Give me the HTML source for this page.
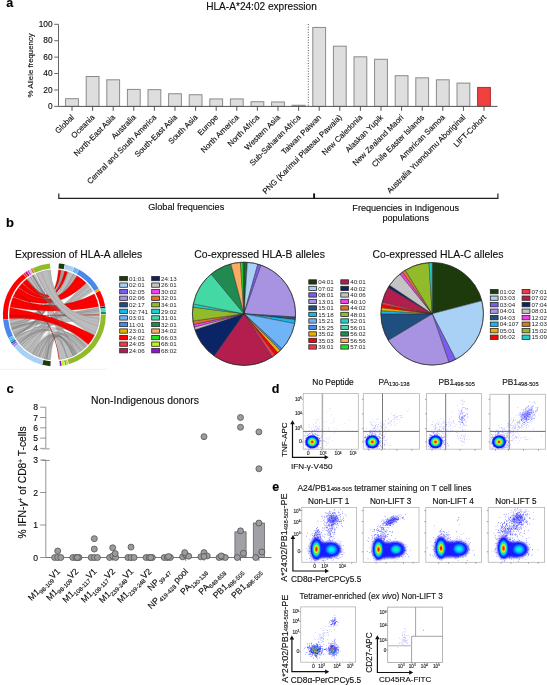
<!DOCTYPE html>
<html><head><meta charset="utf-8"><title>HLA-A*24:02 figure</title>
<style>
html,body{margin:0;padding:0;background:#fff;}
svg{display:block;opacity:0.999;font-family:"Liberation Sans", sans-serif;}
text{stroke:#0d0d0d;stroke-width:0.13px;}
.lg{stroke:none;}
</style></head><body>
<svg width="547" height="685" viewBox="0 0 547 685">
<defs><radialGradient id="jet"><stop offset="0.0" stop-color="#ff1000"/><stop offset="0.12" stop-color="#ff3000"/><stop offset="0.23" stop-color="#ffc000"/><stop offset="0.33" stop-color="#c0ff20"/><stop offset="0.45" stop-color="#30f060"/><stop offset="0.56" stop-color="#00e0d0"/><stop offset="0.64" stop-color="#0080ff"/><stop offset="0.72" stop-color="#1020ff"/><stop offset="0.88" stop-color="#1515ff"/><stop offset="1" stop-color="#1818ff" stop-opacity="0.0"/></radialGradient><radialGradient id="jete"><stop offset="0.0" stop-color="#ff1000"/><stop offset="0.12" stop-color="#ff2000"/><stop offset="0.22" stop-color="#ff9000"/><stop offset="0.33" stop-color="#f0f000"/><stop offset="0.46" stop-color="#40f060"/><stop offset="0.6" stop-color="#00d0f0"/><stop offset="0.74" stop-color="#0060ff"/><stop offset="0.88" stop-color="#1515ff"/><stop offset="1" stop-color="#1818ff" stop-opacity="0.0"/></radialGradient><radialGradient id="cyn"><stop offset="0.0" stop-color="#00ffd0"/><stop offset="0.25" stop-color="#00e8f0"/><stop offset="0.5" stop-color="#00a8ff"/><stop offset="0.75" stop-color="#1040ff"/><stop offset="0.9" stop-color="#1515ff"/><stop offset="1" stop-color="#1818ff" stop-opacity="0.0"/></radialGradient><radialGradient id="grn"><stop offset="0.0" stop-color="#20ff60"/><stop offset="0.22" stop-color="#00f0b0"/><stop offset="0.45" stop-color="#00c0ff"/><stop offset="0.7" stop-color="#1040ff"/><stop offset="0.9" stop-color="#1515ff"/><stop offset="1" stop-color="#1818ff" stop-opacity="0.0"/></radialGradient><radialGradient id="ylw"><stop offset="0.0" stop-color="#f08000"/><stop offset="0.2" stop-color="#e0b000"/><stop offset="0.42" stop-color="#a0c040"/><stop offset="0.62" stop-color="#3060d0"/><stop offset="0.85" stop-color="#1515ff"/><stop offset="1" stop-color="#1818ff" stop-opacity="0.0"/></radialGradient><filter id="sb" x="-30%" y="-30%" width="160%" height="160%"><feGaussianBlur stdDeviation="0.9"/></filter><filter id="sb2" x="-30%" y="-30%" width="160%" height="160%"><feGaussianBlur stdDeviation="1.6"/></filter></defs>
<rect width="547" height="685" fill="#fff"/>
<text x="6.20" y="7.20" font-size="12.5" text-anchor="start" font-weight="bold" fill="#000">a</text>
<text x="261.50" y="9.60" font-size="10.1" text-anchor="middle" fill="#0d0d0d">HLA-A*24:02 expression</text>
<line x1="58.50" y1="24.30" x2="58.50" y2="106.40" stroke="#666" stroke-width="1"/>
<line x1="54.20" y1="106.40" x2="58.50" y2="106.40" stroke="#666" stroke-width="1"/>
<text x="52.60" y="109.00" font-size="8.3" text-anchor="end" fill="#0d0d0d">0</text>
<line x1="54.20" y1="89.98" x2="58.50" y2="89.98" stroke="#666" stroke-width="1"/>
<text x="52.60" y="92.58" font-size="8.3" text-anchor="end" fill="#0d0d0d">20</text>
<line x1="54.20" y1="73.56" x2="58.50" y2="73.56" stroke="#666" stroke-width="1"/>
<text x="52.60" y="76.16" font-size="8.3" text-anchor="end" fill="#0d0d0d">40</text>
<line x1="54.20" y1="57.14" x2="58.50" y2="57.14" stroke="#666" stroke-width="1"/>
<text x="52.60" y="59.74" font-size="8.3" text-anchor="end" fill="#0d0d0d">60</text>
<line x1="54.20" y1="40.72" x2="58.50" y2="40.72" stroke="#666" stroke-width="1"/>
<text x="52.60" y="43.32" font-size="8.3" text-anchor="end" fill="#0d0d0d">80</text>
<line x1="54.20" y1="24.30" x2="58.50" y2="24.30" stroke="#666" stroke-width="1"/>
<text x="52.60" y="26.90" font-size="8.3" text-anchor="end" fill="#0d0d0d">100</text>
<text x="32.80" y="65.40" font-size="7.8" text-anchor="middle" fill="#0d0d0d" transform="rotate(-90 32.80 65.40)">% Allele frequency</text>
<rect x="65.60" y="98.69" width="12.80" height="7.71" fill="#dedede" stroke="#8a8a8a" stroke-width="1"/>
<line x1="72.00" y1="106.40" x2="72.00" y2="110.80" stroke="#555" stroke-width="1"/>
<text x="74.50" y="117.90" font-size="7.9" text-anchor="end" fill="#0d0d0d" transform="rotate(-45 74.50 117.90)">Global</text>
<rect x="86.20" y="76.52" width="12.80" height="29.88" fill="#dedede" stroke="#8a8a8a" stroke-width="1"/>
<line x1="92.60" y1="106.40" x2="92.60" y2="110.80" stroke="#555" stroke-width="1"/>
<text x="95.10" y="117.90" font-size="7.9" text-anchor="end" fill="#0d0d0d" transform="rotate(-45 95.10 117.90)">Oceania</text>
<rect x="106.80" y="79.81" width="12.80" height="26.59" fill="#dedede" stroke="#8a8a8a" stroke-width="1"/>
<line x1="113.20" y1="106.40" x2="113.20" y2="110.80" stroke="#555" stroke-width="1"/>
<text x="115.70" y="117.90" font-size="7.9" text-anchor="end" fill="#0d0d0d" transform="rotate(-45 115.70 117.90)">North-East Asia</text>
<rect x="127.40" y="89.41" width="12.80" height="16.99" fill="#dedede" stroke="#8a8a8a" stroke-width="1"/>
<line x1="133.80" y1="106.40" x2="133.80" y2="110.80" stroke="#555" stroke-width="1"/>
<text x="136.30" y="117.90" font-size="7.9" text-anchor="end" fill="#0d0d0d" transform="rotate(-45 136.30 117.90)">Australia</text>
<rect x="148.00" y="89.66" width="12.80" height="16.74" fill="#dedede" stroke="#8a8a8a" stroke-width="1"/>
<line x1="154.40" y1="106.40" x2="154.40" y2="110.80" stroke="#555" stroke-width="1"/>
<text x="156.90" y="117.90" font-size="7.9" text-anchor="end" fill="#0d0d0d" transform="rotate(-45 156.90 117.90)">Central and South America</text>
<rect x="168.60" y="93.76" width="12.80" height="12.64" fill="#dedede" stroke="#8a8a8a" stroke-width="1"/>
<line x1="175.00" y1="106.40" x2="175.00" y2="110.80" stroke="#555" stroke-width="1"/>
<text x="177.50" y="117.90" font-size="7.9" text-anchor="end" fill="#0d0d0d" transform="rotate(-45 177.50 117.90)">South-East Asia</text>
<rect x="189.20" y="94.75" width="12.80" height="11.65" fill="#dedede" stroke="#8a8a8a" stroke-width="1"/>
<line x1="195.60" y1="106.40" x2="195.60" y2="110.80" stroke="#555" stroke-width="1"/>
<text x="198.10" y="117.90" font-size="7.9" text-anchor="end" fill="#0d0d0d" transform="rotate(-45 198.10 117.90)">South Asia</text>
<rect x="209.80" y="98.94" width="12.80" height="7.46" fill="#dedede" stroke="#8a8a8a" stroke-width="1"/>
<line x1="216.20" y1="106.40" x2="216.20" y2="110.80" stroke="#555" stroke-width="1"/>
<text x="218.70" y="117.90" font-size="7.9" text-anchor="end" fill="#0d0d0d" transform="rotate(-45 218.70 117.90)">Europe</text>
<rect x="230.40" y="98.94" width="12.80" height="7.46" fill="#dedede" stroke="#8a8a8a" stroke-width="1"/>
<line x1="236.80" y1="106.40" x2="236.80" y2="110.80" stroke="#555" stroke-width="1"/>
<text x="239.30" y="117.90" font-size="7.9" text-anchor="end" fill="#0d0d0d" transform="rotate(-45 239.30 117.90)">North America</text>
<rect x="251.00" y="101.73" width="12.80" height="4.67" fill="#dedede" stroke="#8a8a8a" stroke-width="1"/>
<line x1="257.40" y1="106.40" x2="257.40" y2="110.80" stroke="#555" stroke-width="1"/>
<text x="259.90" y="117.90" font-size="7.9" text-anchor="end" fill="#0d0d0d" transform="rotate(-45 259.90 117.90)">North Africa</text>
<rect x="271.60" y="101.97" width="12.80" height="4.43" fill="#dedede" stroke="#8a8a8a" stroke-width="1"/>
<line x1="278.00" y1="106.40" x2="278.00" y2="110.80" stroke="#555" stroke-width="1"/>
<text x="280.50" y="117.90" font-size="7.9" text-anchor="end" fill="#0d0d0d" transform="rotate(-45 280.50 117.90)">Western Asia</text>
<rect x="292.20" y="105.26" width="12.80" height="1.14" fill="#dedede" stroke="#8a8a8a" stroke-width="1"/>
<line x1="298.60" y1="106.40" x2="298.60" y2="110.80" stroke="#555" stroke-width="1"/>
<text x="301.10" y="117.90" font-size="7.9" text-anchor="end" fill="#0d0d0d" transform="rotate(-45 301.10 117.90)">Sub-Saharan Africa</text>
<rect x="312.80" y="27.43" width="12.80" height="78.97" fill="#dedede" stroke="#8a8a8a" stroke-width="1"/>
<line x1="319.20" y1="106.40" x2="319.20" y2="110.80" stroke="#555" stroke-width="1"/>
<text x="321.70" y="117.90" font-size="7.9" text-anchor="end" fill="#0d0d0d" transform="rotate(-45 321.70 117.90)">Taiwan Paiwan</text>
<rect x="333.40" y="46.15" width="12.80" height="60.25" fill="#dedede" stroke="#8a8a8a" stroke-width="1"/>
<line x1="339.80" y1="106.40" x2="339.80" y2="110.80" stroke="#555" stroke-width="1"/>
<text x="342.30" y="117.90" font-size="7.9" text-anchor="end" fill="#0d0d0d" transform="rotate(-45 342.30 117.90)">PNG (Karimui Plateau Pawaia)</text>
<rect x="354.00" y="56.82" width="12.80" height="49.58" fill="#dedede" stroke="#8a8a8a" stroke-width="1"/>
<line x1="360.40" y1="106.40" x2="360.40" y2="110.80" stroke="#555" stroke-width="1"/>
<text x="362.90" y="117.90" font-size="7.9" text-anchor="end" fill="#0d0d0d" transform="rotate(-45 362.90 117.90)">New Caledonia</text>
<rect x="374.60" y="59.28" width="12.80" height="47.12" fill="#dedede" stroke="#8a8a8a" stroke-width="1"/>
<line x1="381.00" y1="106.40" x2="381.00" y2="110.80" stroke="#555" stroke-width="1"/>
<text x="383.50" y="117.90" font-size="7.9" text-anchor="end" fill="#0d0d0d" transform="rotate(-45 383.50 117.90)">Alaskan Yupik</text>
<rect x="395.20" y="75.70" width="12.80" height="30.70" fill="#dedede" stroke="#8a8a8a" stroke-width="1"/>
<line x1="401.60" y1="106.40" x2="401.60" y2="110.80" stroke="#555" stroke-width="1"/>
<text x="404.10" y="117.90" font-size="7.9" text-anchor="end" fill="#0d0d0d" transform="rotate(-45 404.10 117.90)">New Zealand Maori</text>
<rect x="415.80" y="77.84" width="12.80" height="28.56" fill="#dedede" stroke="#8a8a8a" stroke-width="1"/>
<line x1="422.20" y1="106.40" x2="422.20" y2="110.80" stroke="#555" stroke-width="1"/>
<text x="424.70" y="117.90" font-size="7.9" text-anchor="end" fill="#0d0d0d" transform="rotate(-45 424.70 117.90)">Chile Easter Islands</text>
<rect x="436.40" y="79.81" width="12.80" height="26.59" fill="#dedede" stroke="#8a8a8a" stroke-width="1"/>
<line x1="442.80" y1="106.40" x2="442.80" y2="110.80" stroke="#555" stroke-width="1"/>
<text x="445.30" y="117.90" font-size="7.9" text-anchor="end" fill="#0d0d0d" transform="rotate(-45 445.30 117.90)">American Samoa</text>
<rect x="457.00" y="83.09" width="12.80" height="23.31" fill="#dedede" stroke="#8a8a8a" stroke-width="1"/>
<line x1="463.40" y1="106.40" x2="463.40" y2="110.80" stroke="#555" stroke-width="1"/>
<text x="465.90" y="117.90" font-size="7.9" text-anchor="end" fill="#0d0d0d" transform="rotate(-45 465.90 117.90)">Australia Yuendumu Aboriginal</text>
<rect x="477.60" y="87.44" width="12.80" height="18.96" fill="#f04040" stroke="#b03030" stroke-width="1"/>
<line x1="484.00" y1="106.40" x2="484.00" y2="110.80" stroke="#555" stroke-width="1"/>
<text x="486.50" y="117.90" font-size="7.9" text-anchor="end" fill="#0d0d0d" transform="rotate(-45 486.50 117.90)">LIFT-Cohort</text>
<line x1="58.50" y1="106.40" x2="497.50" y2="106.40" stroke="#555" stroke-width="1"/>
<line x1="308.3" y1="24" x2="308.3" y2="106" stroke="#444" stroke-width="0.9" stroke-dasharray="1 1.6"/>
<path d="M58.8 193.6 V198.3 H497.9 V193.6" fill="none" stroke="#222" stroke-width="1.2"/>
<path d="M314.1 193.4 V198.3" fill="none" stroke="#111" stroke-width="1.9"/>
<text x="186.20" y="210.20" font-size="9.15" text-anchor="middle" fill="#0d0d0d">Global frequencies</text>
<text x="405.70" y="210.50" font-size="9.1" text-anchor="middle" fill="#0d0d0d">Frequencies in Indigenous</text>
<text x="405.70" y="220.60" font-size="9.1" text-anchor="middle" fill="#0d0d0d">populations</text>
<text x="6.10" y="227.30" font-size="13" text-anchor="start" font-weight="bold" fill="#000">b</text>
<text x="78.60" y="258.30" font-size="10.3" text-anchor="middle" fill="#0d0d0d">Expression of HLA-A alleles</text>
<text x="259.60" y="257.60" font-size="10.4" text-anchor="middle" fill="#0d0d0d">Co-expressed HLA-B alleles</text>
<text x="438.00" y="257.60" font-size="10.4" text-anchor="middle" fill="#0d0d0d">Co-expressed HLA-C alleles</text>
<line x1="0.00" y1="369.30" x2="107.00" y2="369.30" stroke="#ececec" stroke-width="0.8"/>
<path d="M58.89 263.50 A51.5 51.5 0 0 1 64.67 264.33 L63.67 269.23 A46.5 46.5 0 0 0 58.45 268.48 Z" fill="#1d3a0c"/>
<path d="M65.11 264.43 A51.5 51.5 0 0 1 73.86 267.12 L71.97 271.75 A46.5 46.5 0 0 0 64.07 269.32 Z" fill="#a9d1f5"/>
<path d="M74.19 267.25 A51.5 51.5 0 0 1 78.74 269.41 L76.37 273.82 A46.5 46.5 0 0 0 72.27 271.87 Z" fill="#70b4f8"/>
<path d="M79.05 269.58 A51.5 51.5 0 0 1 98.64 288.43 L94.34 290.99 A46.5 46.5 0 0 0 76.66 273.97 Z" fill="#4a88ea"/>
<path d="M98.82 288.74 A51.5 51.5 0 0 1 99.79 290.46 L95.38 292.83 A46.5 46.5 0 0 0 94.51 291.27 Z" fill="#e8b000"/>
<path d="M99.96 290.78 A51.5 51.5 0 0 1 105.12 305.86 L100.19 306.73 A46.5 46.5 0 0 0 95.53 293.11 Z" fill="#ff0000"/>
<path d="M105.18 306.21 A51.5 51.5 0 0 1 105.42 307.81 L100.47 308.49 A46.5 46.5 0 0 0 100.25 307.05 Z" fill="#0a2466"/>
<path d="M105.45 307.99 A51.5 51.5 0 0 1 105.64 309.60 L100.66 310.10 A46.5 46.5 0 0 0 100.49 308.65 Z" fill="#1fd0d0"/>
<path d="M105.65 309.77 A51.5 51.5 0 0 1 105.80 311.57 L100.81 311.88 A46.5 46.5 0 0 0 100.68 310.26 Z" fill="#44d8a4"/>
<path d="M105.81 311.75 A51.5 51.5 0 0 1 105.89 313.90 L100.89 313.99 A46.5 46.5 0 0 0 100.82 312.04 Z" fill="#208a50"/>
<path d="M105.90 314.44 A51.5 51.5 0 0 1 68.94 364.20 L67.53 359.41 A46.5 46.5 0 0 0 100.90 314.48 Z" fill="#92bb2c"/>
<path d="M68.42 364.35 A51.5 51.5 0 0 1 66.86 364.77 L65.65 359.92 A46.5 46.5 0 0 0 67.06 359.54 Z" fill="#f9ac62"/>
<path d="M66.60 364.83 A51.5 51.5 0 0 1 65.11 365.17 L64.07 360.28 A46.5 46.5 0 0 0 65.41 359.98 Z" fill="#22e022"/>
<path d="M64.84 365.23 A51.5 51.5 0 0 1 62.01 365.73 L61.27 360.79 A46.5 46.5 0 0 0 63.83 360.33 Z" fill="#c4f020"/>
<path d="M61.66 365.79 A51.5 51.5 0 0 1 59.96 366.00 L59.42 361.03 A46.5 46.5 0 0 0 60.95 360.84 Z" fill="#9612d0"/>
<path d="M50.36 366.14 A51.5 51.5 0 0 1 42.29 364.86 L43.47 360.00 A46.5 46.5 0 0 0 50.75 361.16 Z" fill="#1d3a0c"/>
<path d="M41.94 364.77 A51.5 51.5 0 0 1 14.60 347.49 L18.47 344.31 A46.5 46.5 0 0 0 43.15 359.92 Z" fill="#a9d1f5"/>
<path d="M14.38 347.21 A51.5 51.5 0 0 1 13.05 345.51 L17.07 342.52 A46.5 46.5 0 0 0 18.26 344.06 Z" fill="#a793e2"/>
<path d="M12.89 345.29 A51.5 51.5 0 0 1 11.91 343.90 L16.03 341.07 A46.5 46.5 0 0 0 16.92 342.33 Z" fill="#7b5cf0"/>
<path d="M11.75 343.67 A51.5 51.5 0 0 1 10.92 342.40 L15.14 339.72 A46.5 46.5 0 0 0 15.90 340.87 Z" fill="#1f4f7e"/>
<path d="M10.77 342.17 A51.5 51.5 0 0 1 9.80 340.55 L14.13 338.05 A46.5 46.5 0 0 0 15.01 339.51 Z" fill="#12b8ee"/>
<path d="M9.67 340.32 A51.5 51.5 0 0 1 8.51 338.18 L12.97 335.91 A46.5 46.5 0 0 0 14.01 337.84 Z" fill="#70b4f8"/>
<path d="M8.39 337.94 A51.5 51.5 0 0 1 3.15 319.83 L8.12 319.34 A46.5 46.5 0 0 0 12.86 335.69 Z" fill="#4a88ea"/>
<path d="M3.11 319.47 A51.5 51.5 0 0 1 23.12 273.89 L26.16 277.86 A46.5 46.5 0 0 0 8.09 319.01 Z" fill="#ff0000"/>
<path d="M23.41 273.67 A51.5 51.5 0 0 1 25.01 272.51 L27.86 276.62 A46.5 46.5 0 0 0 26.42 277.66 Z" fill="#f0384c"/>
<path d="M25.23 272.36 A51.5 51.5 0 0 1 26.80 271.32 L29.48 275.54 A46.5 46.5 0 0 0 28.06 276.48 Z" fill="#b31e4e"/>
<path d="M27.11 271.13 A51.5 51.5 0 0 1 28.81 270.11 L31.29 274.45 A46.5 46.5 0 0 0 29.76 275.37 Z" fill="#f040f0"/>
<path d="M29.04 269.98 A51.5 51.5 0 0 1 30.54 269.16 L32.86 273.59 A46.5 46.5 0 0 0 31.50 274.33 Z" fill="#c4c4c4"/>
<path d="M30.78 269.04 A51.5 51.5 0 0 1 32.23 268.32 L34.38 272.83 A46.5 46.5 0 0 0 33.07 273.48 Z" fill="#dc7620"/>
<path d="M32.64 268.13 A51.5 51.5 0 0 1 49.91 263.50 L50.35 268.48 A46.5 46.5 0 0 0 34.75 272.66 Z" fill="#92bb2c"/>
<path d="M43.13 358.37 A45.0 45.0 0 0 1 30.55 352.96 Q54.40 314.80 88.36 344.32 A45.0 45.0 0 0 1 67.56 357.83 Q54.40 314.80 43.13 358.37 Z" fill="#bdbdbd" stroke="#8e8e8e" stroke-width="0.35" opacity="1"/>
<path d="M30.22 352.75 A45.0 45.0 0 0 1 19.68 343.42 Q54.40 314.80 86.50 283.26 A45.0 45.0 0 0 1 92.77 291.29 Q54.40 314.80 30.22 352.75 Z" fill="#bdbdbd" stroke="#8e8e8e" stroke-width="0.35" opacity="1"/>
<path d="M50.48 359.63 A45.0 45.0 0 0 1 43.89 358.56 Q54.40 314.80 76.90 353.77 A45.0 45.0 0 0 1 69.79 357.09 Q54.40 314.80 50.48 359.63 Z" fill="#bdbdbd" stroke="#8e8e8e" stroke-width="0.35" opacity="1"/>
<path d="M14.13 334.88 A45.0 45.0 0 0 1 11.14 327.20 Q54.40 314.80 98.78 307.37 A45.0 45.0 0 0 1 99.40 314.41 Q54.40 314.80 14.13 334.88 Z" fill="#bdbdbd" stroke="#8e8e8e" stroke-width="0.35" opacity="1"/>
<path d="M11.04 326.83 A45.0 45.0 0 0 1 9.65 319.50 Q54.40 314.80 67.93 271.88 A45.0 45.0 0 0 1 76.56 275.63 Q54.40 314.80 11.04 326.83 Z" fill="#bdbdbd" stroke="#8e8e8e" stroke-width="0.35" opacity="1"/>
<path d="M15.31 337.10 A45.0 45.0 0 0 1 14.23 335.09 Q54.40 314.80 61.28 270.33 A45.0 45.0 0 0 1 64.37 270.92 Q54.40 314.80 15.31 337.10 Z" fill="#bdbdbd" stroke="#8e8e8e" stroke-width="0.35" opacity="1"/>
<path d="M27.32 278.86 A45.0 45.0 0 0 1 34.89 274.25 Q54.40 314.80 75.53 354.53 A45.0 45.0 0 0 1 67.56 357.83 Q54.40 314.80 27.32 278.86 Z" fill="#bdbdbd" stroke="#8e8e8e" stroke-width="0.35" opacity="1"/>
<path d="M19.43 343.12 A45.0 45.0 0 0 1 15.43 337.30 Q54.40 314.80 99.40 314.80 A45.0 45.0 0 0 1 98.72 322.61 Q54.40 314.80 19.43 343.12 Z" fill="#bdbdbd" stroke="#8e8e8e" stroke-width="0.35" opacity="1"/>
<path d="M66.80 358.06 A45.0 45.0 0 0 1 59.49 359.51 Q54.40 314.80 49.70 359.55 A45.0 45.0 0 0 1 44.28 358.65 Q54.40 314.80 66.80 358.06 Z" fill="#bdbdbd" stroke="#8e8e8e" stroke-width="0.35" opacity="1"/>
<path d="M40.00 357.43 Q54.40 314.80 73.08 355.74" fill="none" stroke="#7a7a7a" stroke-width="0.45" opacity="0.8"/>
<path d="M38.29 356.82 Q54.40 314.80 75.96 354.30" fill="none" stroke="#7a7a7a" stroke-width="0.45" opacity="0.8"/>
<path d="M35.06 355.43 Q54.40 314.80 82.04 350.31" fill="none" stroke="#7a7a7a" stroke-width="0.45" opacity="0.8"/>
<path d="M42.96 358.32 Q54.40 314.80 67.37 357.89" fill="none" stroke="#7a7a7a" stroke-width="0.45" opacity="0.8"/>
<path d="M27.21 350.66 Q54.40 314.80 91.08 288.73" fill="none" stroke="#7a7a7a" stroke-width="0.45" opacity="0.8"/>
<path d="M19.72 343.47 Q54.40 314.80 86.49 283.26" fill="none" stroke="#7a7a7a" stroke-width="0.45" opacity="0.8"/>
<path d="M21.19 345.17 Q54.40 314.80 87.62 284.44" fill="none" stroke="#7a7a7a" stroke-width="0.45" opacity="0.8"/>
<path d="M23.14 347.17 Q54.40 314.80 88.61 285.57" fill="none" stroke="#7a7a7a" stroke-width="0.45" opacity="0.8"/>
<path d="M46.28 359.06 Q54.40 314.80 73.85 355.38" fill="none" stroke="#7a7a7a" stroke-width="0.45" opacity="0.8"/>
<path d="M47.01 359.19 Q54.40 314.80 73.24 355.67" fill="none" stroke="#7a7a7a" stroke-width="0.45" opacity="0.8"/>
<path d="M46.04 359.02 Q54.40 314.80 75.24 354.68" fill="none" stroke="#7a7a7a" stroke-width="0.45" opacity="0.8"/>
<path d="M45.47 358.91 Q54.40 314.80 75.11 354.75" fill="none" stroke="#7a7a7a" stroke-width="0.45" opacity="0.8"/>
<path d="M13.08 332.63 Q54.40 314.80 99.28 311.54" fill="none" stroke="#7a7a7a" stroke-width="0.45" opacity="0.8"/>
<path d="M11.46 328.27 Q54.40 314.80 98.92 308.27" fill="none" stroke="#7a7a7a" stroke-width="0.45" opacity="0.8"/>
<path d="M11.84 329.42 Q54.40 314.80 99.14 309.93" fill="none" stroke="#7a7a7a" stroke-width="0.45" opacity="0.8"/>
<path d="M11.85 329.45 Q54.40 314.80 99.15 310.03" fill="none" stroke="#7a7a7a" stroke-width="0.45" opacity="0.8"/>
<path d="M10.34 323.96 Q54.40 314.80 73.68 274.14" fill="none" stroke="#7a7a7a" stroke-width="0.45" opacity="0.8"/>
<path d="M10.27 323.60 Q54.40 314.80 73.44 274.03" fill="none" stroke="#7a7a7a" stroke-width="0.45" opacity="0.8"/>
<path d="M9.75 320.40 Q54.40 314.80 68.42 272.04" fill="none" stroke="#7a7a7a" stroke-width="0.45" opacity="0.8"/>
<path d="M10.78 325.85 Q54.40 314.80 75.04 274.81" fill="none" stroke="#7a7a7a" stroke-width="0.45" opacity="0.8"/>
<path d="M14.27 335.16 Q54.40 314.80 61.29 270.33" fill="none" stroke="#7a7a7a" stroke-width="0.45" opacity="0.8"/>
<path d="M14.62 335.84 Q54.40 314.80 62.13 270.47" fill="none" stroke="#7a7a7a" stroke-width="0.45" opacity="0.8"/>
<path d="M14.75 336.08 Q54.40 314.80 62.63 270.56" fill="none" stroke="#7a7a7a" stroke-width="0.45" opacity="0.8"/>
<path d="M14.92 336.40 Q54.40 314.80 63.42 270.71" fill="none" stroke="#7a7a7a" stroke-width="0.45" opacity="0.8"/>
<path d="M19.73 343.48 Q54.40 314.80 45.89 270.61" fill="none" stroke="#787878" stroke-width="0.5786836803600051" opacity="0.7"/>
<path d="M11.83 329.39 Q54.40 314.80 45.66 270.66" fill="none" stroke="#787878" stroke-width="0.3489298865913209" opacity="0.7"/>
<path d="M11.75 329.15 Q54.40 314.80 50.74 269.95" fill="none" stroke="#787878" stroke-width="0.470732251042297" opacity="0.7"/>
<path d="M15.33 337.13 Q54.40 314.80 74.68 354.97" fill="none" stroke="#787878" stroke-width="0.4720597057053854" opacity="0.7"/>
<path d="M33.51 354.66 Q54.40 314.80 73.58 355.51" fill="none" stroke="#787878" stroke-width="0.5969418044764744" opacity="0.7"/>
<path d="M44.49 358.69 Q54.40 314.80 40.12 272.13" fill="none" stroke="#787878" stroke-width="0.3452296123358429" opacity="0.7"/>
<path d="M33.04 354.41 Q54.40 314.80 50.04 270.01" fill="none" stroke="#787878" stroke-width="0.313257018338863" opacity="0.7"/>
<path d="M18.60 342.07 Q54.40 314.80 80.02 351.79" fill="none" stroke="#787878" stroke-width="0.3992862438057022" opacity="0.7"/>
<path d="M11.38 328.00 Q54.40 314.80 42.11 271.51" fill="none" stroke="#787878" stroke-width="0.599552683612733" opacity="0.7"/>
<path d="M32.22 353.95 Q54.40 314.80 85.10 347.70" fill="none" stroke="#787878" stroke-width="0.3094133286525953" opacity="0.7"/>
<path d="M38.27 356.81 Q54.40 314.80 84.67 348.10" fill="none" stroke="#787878" stroke-width="0.3468596973040694" opacity="0.7"/>
<path d="M47.19 359.22 Q54.40 314.80 38.12 272.85" fill="none" stroke="#787878" stroke-width="0.5875978279225365" opacity="0.7"/>
<path d="M11.11 327.09 Q54.40 314.80 90.23 342.02" fill="none" stroke="#787878" stroke-width="0.45602189537776916" opacity="0.7"/>
<path d="M17.57 340.65 Q54.40 314.80 86.69 346.14" fill="none" stroke="#787878" stroke-width="0.4860378406335786" opacity="0.7"/>
<path d="M10.47 324.55 Q54.40 314.80 91.18 340.73" fill="none" stroke="#787878" stroke-width="0.5160933756432415" opacity="0.7"/>
<path d="M36.05 355.89 Q54.40 314.80 67.22 357.93" fill="none" stroke="#787878" stroke-width="0.45633818798436177" opacity="0.7"/>
<path d="M21.13 345.10 Q54.40 314.80 91.68 340.01" fill="none" stroke="#787878" stroke-width="0.47398956413911963" opacity="0.7"/>
<path d="M48.51 359.41 Q54.40 314.80 83.77 348.89" fill="none" stroke="#787878" stroke-width="0.3180241531883169" opacity="0.7"/>
<path d="M18.14 341.45 Q54.40 314.80 81.76 350.52" fill="none" stroke="#787878" stroke-width="0.40577309491231417" opacity="0.7"/>
<path d="M15.54 337.48 Q54.40 314.80 32.32 275.59" fill="none" stroke="#787878" stroke-width="0.3181730410937392" opacity="0.7"/>
<path d="M16.50 339.06 Q54.40 314.80 36.84 273.37" fill="none" stroke="#787878" stroke-width="0.43689363889091376" opacity="0.7"/>
<path d="M19.41 343.09 Q54.40 314.80 93.18 337.62" fill="none" stroke="#787878" stroke-width="0.39380119835907323" opacity="0.7"/>
<path d="M29.20 352.08 Q54.40 314.80 94.84 334.55" fill="none" stroke="#787878" stroke-width="0.41314810239867505" opacity="0.7"/>
<path d="M13.72 334.04 Q54.40 314.80 86.30 346.54" fill="none" stroke="#787878" stroke-width="0.5205519545035528" opacity="0.7"/>
<path d="M32.20 353.94 Q54.40 314.80 76.03 354.26" fill="none" stroke="#787878" stroke-width="0.3716085530693526" opacity="0.7"/>
<path d="M38.83 357.02 Q54.40 314.80 80.94 351.14" fill="none" stroke="#787878" stroke-width="0.3305525077895614" opacity="0.7"/>
<path d="M9.57 318.72 A45.0 45.0 0 0 1 9.95 307.76 Q54.40 314.80 94.50 335.23 A45.0 45.0 0 0 1 88.36 344.32 Q54.40 314.80 9.57 318.72 Z" fill="#ff0000" stroke="#b00000" stroke-width="0.3" opacity="1"/>
<path d="M10.02 307.37 A45.0 45.0 0 0 1 12.98 297.22 Q54.40 314.80 94.32 294.02 A45.0 45.0 0 0 1 98.65 306.60 Q54.40 314.80 10.02 307.37 Z" fill="#ff0000" stroke="#b00000" stroke-width="0.3" opacity="1"/>
<path d="M13.13 296.86 A45.0 45.0 0 0 1 18.46 287.72 Q54.40 314.80 76.90 275.83 A45.0 45.0 0 0 1 86.22 282.98 Q54.40 314.80 13.13 296.86 Z" fill="#ff0000" stroke="#b00000" stroke-width="0.3" opacity="1"/>
<path d="M18.70 287.41 A45.0 45.0 0 0 1 22.30 283.26 Q54.40 314.80 64.52 270.95 A45.0 45.0 0 0 1 67.56 271.77 Q54.40 314.80 18.70 287.41 Z" fill="#ff0000" stroke="#b00000" stroke-width="0.3" opacity="1"/>
<path d="M22.58 282.98 A45.0 45.0 0 0 1 26.82 279.24 Q54.40 314.80 58.56 269.99 A45.0 45.0 0 0 1 61.05 270.29 Q54.40 314.80 22.58 282.98 Z" fill="#ff0000" stroke="#b00000" stroke-width="0.3" opacity="1"/>
<path d="M9.40 315.19 Q54.40 314.80 90.58 341.56" fill="none" stroke="#b01010" stroke-width="0.35" opacity="0.8"/>
<path d="M9.40 315.06 Q54.40 314.80 90.65 341.46" fill="none" stroke="#b01010" stroke-width="0.35" opacity="0.8"/>
<path d="M12.32 298.85 Q54.40 314.80 95.29 296.02" fill="none" stroke="#b01010" stroke-width="0.35" opacity="0.8"/>
<path d="M11.02 302.84 Q54.40 314.80 97.21 300.93" fill="none" stroke="#b01010" stroke-width="0.35" opacity="0.8"/>
<path d="M17.56 288.96 Q54.40 314.80 78.36 276.71" fill="none" stroke="#b01010" stroke-width="0.35" opacity="0.8"/>
<path d="M13.88 295.22 Q54.40 314.80 84.78 281.60" fill="none" stroke="#b01010" stroke-width="0.35" opacity="0.8"/>
<path d="M19.86 285.96 Q54.40 314.80 66.54 271.47" fill="none" stroke="#b01010" stroke-width="0.35" opacity="0.8"/>
<path d="M20.99 284.66 Q54.40 314.80 65.59 271.21" fill="none" stroke="#b01010" stroke-width="0.35" opacity="0.8"/>
<path d="M26.31 279.65 Q54.40 314.80 58.84 270.02" fill="none" stroke="#b01010" stroke-width="0.35" opacity="0.8"/>
<path d="M24.43 281.23 Q54.40 314.80 59.93 270.14" fill="none" stroke="#b01010" stroke-width="0.35" opacity="0.8"/>
<path d="M27.41 278.79 Q54.40 314.80 98.27 324.82" fill="none" stroke="#707070" stroke-width="0.5" opacity="0.8"/>
<path d="M30.17 276.88 Q54.40 314.80 97.34 328.26" fill="none" stroke="#707070" stroke-width="0.5" opacity="0.8"/>
<path d="M32.79 275.33 Q54.40 314.80 77.24 353.57" fill="none" stroke="#707070" stroke-width="0.5" opacity="0.8"/>
<path d="M27.05 279.07 Q54.40 314.80 95.79 332.46" fill="none" stroke="#707070" stroke-width="0.5" opacity="0.8"/>
<path d="M32.79 275.33 Q54.40 314.80 85.25 347.56" fill="none" stroke="#707070" stroke-width="0.5" opacity="0.8"/>
<path d="M32.78 275.33 Q54.40 314.80 94.34 335.54" fill="none" stroke="#707070" stroke-width="0.5" opacity="0.8"/>
<path d="M26.58 279.43 Q54.40 314.80 95.52 333.09" fill="none" stroke="#707070" stroke-width="0.5" opacity="0.8"/>
<path d="M32.66 275.40 Q54.40 314.80 95.94 332.11" fill="none" stroke="#707070" stroke-width="0.5" opacity="0.8"/>
<path d="M59.10 359.55 Q54.40 314.80 15.43 292.30" fill="none" stroke="#a01010" stroke-width="0.7" opacity="1"/>
<path d="M99.40 314.80 Q54.40 314.80 9.43 316.37" fill="none" stroke="#a01010" stroke-width="0.6" opacity="1"/>
<path d="M36.10 273.69 A45.0 45.0 0 0 1 50.09 270.01 Q54.40 314.80 99.23 318.72 A45.0 45.0 0 0 1 94.85 334.53 Q54.40 314.80 36.10 273.69 Z" fill="#bdbdbd" stroke="#8a8a8a" stroke-width="0.45" opacity="1"/>
<path d="M40.90 271.87 Q54.40 314.80 98.05 325.75" fill="none" stroke="#9a9a9a" stroke-width="0.4" opacity="0.8"/>
<path d="M41.78 271.61 Q54.40 314.80 98.07 325.66" fill="none" stroke="#9a9a9a" stroke-width="0.4" opacity="0.8"/>
<path d="M47.93 270.27 Q54.40 314.80 98.76 322.34" fill="none" stroke="#9a9a9a" stroke-width="0.4" opacity="0.8"/>
<path d="M36.87 273.35 Q54.40 314.80 95.81 332.41" fill="none" stroke="#9a9a9a" stroke-width="0.4" opacity="0.8"/>
<rect x="119.70" y="276.40" width="7.80" height="4.30" fill="#1d3a0c" stroke="#262626" stroke-width="0.8"/>
<text x="129.10" y="280.70" font-size="6.2" text-anchor="start" fill="#1e1e1e" class="lg">01:01</text>
<rect x="119.70" y="282.96" width="7.80" height="4.30" fill="#a9d1f5" stroke="#262626" stroke-width="0.8"/>
<text x="129.10" y="287.26" font-size="6.2" text-anchor="start" fill="#1e1e1e" class="lg">02:01</text>
<rect x="119.70" y="289.52" width="7.80" height="4.30" fill="#7b5cf0" stroke="#262626" stroke-width="0.8"/>
<text x="129.10" y="293.82" font-size="6.2" text-anchor="start" fill="#1e1e1e" class="lg">02:05</text>
<rect x="119.70" y="296.08" width="7.80" height="4.30" fill="#a793e2" stroke="#262626" stroke-width="0.8"/>
<text x="129.10" y="300.38" font-size="6.2" text-anchor="start" fill="#1e1e1e" class="lg">02:06</text>
<rect x="119.70" y="302.64" width="7.80" height="4.30" fill="#1f4f7e" stroke="#262626" stroke-width="0.8"/>
<text x="129.10" y="306.94" font-size="6.2" text-anchor="start" fill="#1e1e1e" class="lg">02:17</text>
<rect x="119.70" y="309.20" width="7.80" height="4.30" fill="#12b8ee" stroke="#262626" stroke-width="0.8"/>
<text x="129.10" y="313.50" font-size="6.2" text-anchor="start" fill="#1e1e1e" class="lg">02:741</text>
<rect x="119.70" y="315.76" width="7.80" height="4.30" fill="#70b4f8" stroke="#262626" stroke-width="0.8"/>
<text x="129.10" y="320.06" font-size="6.2" text-anchor="start" fill="#1e1e1e" class="lg">03:01</text>
<rect x="119.70" y="322.32" width="7.80" height="4.30" fill="#4a88ea" stroke="#262626" stroke-width="0.8"/>
<text x="129.10" y="326.62" font-size="6.2" text-anchor="start" fill="#1e1e1e" class="lg">11:01</text>
<rect x="119.70" y="328.88" width="7.80" height="4.30" fill="#e8b000" stroke="#262626" stroke-width="0.8"/>
<text x="129.10" y="333.18" font-size="6.2" text-anchor="start" fill="#1e1e1e" class="lg">23:01</text>
<rect x="119.70" y="335.44" width="7.80" height="4.30" fill="#ff0000" stroke="#262626" stroke-width="0.8"/>
<text x="129.10" y="339.74" font-size="6.2" text-anchor="start" fill="#1e1e1e" class="lg">24:02</text>
<rect x="119.70" y="342.00" width="7.80" height="4.30" fill="#f0384c" stroke="#262626" stroke-width="0.8"/>
<text x="129.10" y="346.30" font-size="6.2" text-anchor="start" fill="#1e1e1e" class="lg">24:05</text>
<rect x="119.70" y="348.56" width="7.80" height="4.30" fill="#b31e4e" stroke="#262626" stroke-width="0.8"/>
<text x="129.10" y="352.86" font-size="6.2" text-anchor="start" fill="#1e1e1e" class="lg">24:06</text>
<rect x="151.70" y="276.40" width="7.80" height="4.30" fill="#0a2466" stroke="#262626" stroke-width="0.8"/>
<text x="161.10" y="280.70" font-size="6.2" text-anchor="start" fill="#1e1e1e" class="lg">24:13</text>
<rect x="151.70" y="282.96" width="7.80" height="4.30" fill="#c4c4c4" stroke="#262626" stroke-width="0.8"/>
<text x="161.10" y="287.26" font-size="6.2" text-anchor="start" fill="#1e1e1e" class="lg">26:01</text>
<rect x="151.70" y="289.52" width="7.80" height="4.30" fill="#f040f0" stroke="#262626" stroke-width="0.8"/>
<text x="161.10" y="293.82" font-size="6.2" text-anchor="start" fill="#1e1e1e" class="lg">30:02</text>
<rect x="151.70" y="296.08" width="7.80" height="4.30" fill="#dc7620" stroke="#262626" stroke-width="0.8"/>
<text x="161.10" y="300.38" font-size="6.2" text-anchor="start" fill="#1e1e1e" class="lg">32:01</text>
<rect x="151.70" y="302.64" width="7.80" height="4.30" fill="#92bb2c" stroke="#262626" stroke-width="0.8"/>
<text x="161.10" y="306.94" font-size="6.2" text-anchor="start" fill="#1e1e1e" class="lg">34:01</text>
<rect x="151.70" y="309.20" width="7.80" height="4.30" fill="#1fd0d0" stroke="#262626" stroke-width="0.8"/>
<text x="161.10" y="313.50" font-size="6.2" text-anchor="start" fill="#1e1e1e" class="lg">29:02</text>
<rect x="151.70" y="315.76" width="7.80" height="4.30" fill="#44d8a4" stroke="#262626" stroke-width="0.8"/>
<text x="161.10" y="320.06" font-size="6.2" text-anchor="start" fill="#1e1e1e" class="lg">31:01</text>
<rect x="151.70" y="322.32" width="7.80" height="4.30" fill="#208a50" stroke="#262626" stroke-width="0.8"/>
<text x="161.10" y="326.62" font-size="6.2" text-anchor="start" fill="#1e1e1e" class="lg">32:01</text>
<rect x="151.70" y="328.88" width="7.80" height="4.30" fill="#f9ac62" stroke="#262626" stroke-width="0.8"/>
<text x="161.10" y="333.18" font-size="6.2" text-anchor="start" fill="#1e1e1e" class="lg">34:02</text>
<rect x="151.70" y="335.44" width="7.80" height="4.30" fill="#22e022" stroke="#262626" stroke-width="0.8"/>
<text x="161.10" y="339.74" font-size="6.2" text-anchor="start" fill="#1e1e1e" class="lg">66:03</text>
<rect x="151.70" y="342.00" width="7.80" height="4.30" fill="#c4f020" stroke="#262626" stroke-width="0.8"/>
<text x="161.10" y="346.30" font-size="6.2" text-anchor="start" fill="#1e1e1e" class="lg">68:01</text>
<rect x="151.70" y="348.56" width="7.80" height="4.30" fill="#9612d0" stroke="#262626" stroke-width="0.8"/>
<text x="161.10" y="352.86" font-size="6.2" text-anchor="start" fill="#1e1e1e" class="lg">68:02</text>
<rect x="308.80" y="279.80" width="7.80" height="4.30" fill="#1d3a0c" stroke="#262626" stroke-width="0.8"/>
<text x="318.20" y="284.10" font-size="6.2" text-anchor="start" fill="#1e1e1e" class="lg">04:01</text>
<rect x="308.80" y="286.30" width="7.80" height="4.30" fill="#a9d1f5" stroke="#262626" stroke-width="0.8"/>
<text x="318.20" y="290.60" font-size="6.2" text-anchor="start" fill="#1e1e1e" class="lg">07:02</text>
<rect x="308.80" y="292.80" width="7.80" height="4.30" fill="#7b5cf0" stroke="#262626" stroke-width="0.8"/>
<text x="318.20" y="297.10" font-size="6.2" text-anchor="start" fill="#1e1e1e" class="lg">08:01</text>
<rect x="308.80" y="299.30" width="7.80" height="4.30" fill="#a793e2" stroke="#262626" stroke-width="0.8"/>
<text x="318.20" y="303.60" font-size="6.2" text-anchor="start" fill="#1e1e1e" class="lg">13:01</text>
<rect x="308.80" y="305.80" width="7.80" height="4.30" fill="#1f4f7e" stroke="#262626" stroke-width="0.8"/>
<text x="318.20" y="310.10" font-size="6.2" text-anchor="start" fill="#1e1e1e" class="lg">15:01</text>
<rect x="308.80" y="312.30" width="7.80" height="4.30" fill="#12b8ee" stroke="#262626" stroke-width="0.8"/>
<text x="318.20" y="316.60" font-size="6.2" text-anchor="start" fill="#1e1e1e" class="lg">15:18</text>
<rect x="308.80" y="318.80" width="7.80" height="4.30" fill="#70b4f8" stroke="#262626" stroke-width="0.8"/>
<text x="318.20" y="323.10" font-size="6.2" text-anchor="start" fill="#1e1e1e" class="lg">15:21</text>
<rect x="308.80" y="325.30" width="7.80" height="4.30" fill="#4a88ea" stroke="#262626" stroke-width="0.8"/>
<text x="318.20" y="329.60" font-size="6.2" text-anchor="start" fill="#1e1e1e" class="lg">15:25</text>
<rect x="308.80" y="331.80" width="7.80" height="4.30" fill="#e8b000" stroke="#262626" stroke-width="0.8"/>
<text x="318.20" y="336.10" font-size="6.2" text-anchor="start" fill="#1e1e1e" class="lg">35:02</text>
<rect x="308.80" y="338.30" width="7.80" height="4.30" fill="#ff0000" stroke="#262626" stroke-width="0.8"/>
<text x="318.20" y="342.60" font-size="6.2" text-anchor="start" fill="#1e1e1e" class="lg">35:03</text>
<rect x="308.80" y="344.80" width="7.80" height="4.30" fill="#f0384c" stroke="#262626" stroke-width="0.8"/>
<text x="318.20" y="349.10" font-size="6.2" text-anchor="start" fill="#1e1e1e" class="lg">39:01</text>
<rect x="340.80" y="279.80" width="7.80" height="4.30" fill="#b31e4e" stroke="#262626" stroke-width="0.8"/>
<text x="350.20" y="284.10" font-size="6.2" text-anchor="start" fill="#1e1e1e" class="lg">40:01</text>
<rect x="340.80" y="286.30" width="7.80" height="4.30" fill="#0a2466" stroke="#262626" stroke-width="0.8"/>
<text x="350.20" y="290.60" font-size="6.2" text-anchor="start" fill="#1e1e1e" class="lg">40:02</text>
<rect x="340.80" y="292.80" width="7.80" height="4.30" fill="#c4c4c4" stroke="#262626" stroke-width="0.8"/>
<text x="350.20" y="297.10" font-size="6.2" text-anchor="start" fill="#1e1e1e" class="lg">40:06</text>
<rect x="340.80" y="299.30" width="7.80" height="4.30" fill="#f040f0" stroke="#262626" stroke-width="0.8"/>
<text x="350.20" y="303.60" font-size="6.2" text-anchor="start" fill="#1e1e1e" class="lg">40:10</text>
<rect x="340.80" y="305.80" width="7.80" height="4.30" fill="#dc7620" stroke="#262626" stroke-width="0.8"/>
<text x="350.20" y="310.10" font-size="6.2" text-anchor="start" fill="#1e1e1e" class="lg">44:02</text>
<rect x="340.80" y="312.30" width="7.80" height="4.30" fill="#92bb2c" stroke="#262626" stroke-width="0.8"/>
<text x="350.20" y="316.60" font-size="6.2" text-anchor="start" fill="#1e1e1e" class="lg">48:01</text>
<rect x="340.80" y="318.80" width="7.80" height="4.30" fill="#1fd0d0" stroke="#262626" stroke-width="0.8"/>
<text x="350.20" y="323.10" font-size="6.2" text-anchor="start" fill="#1e1e1e" class="lg">52:01</text>
<rect x="340.80" y="325.30" width="7.80" height="4.30" fill="#44d8a4" stroke="#262626" stroke-width="0.8"/>
<text x="350.20" y="329.60" font-size="6.2" text-anchor="start" fill="#1e1e1e" class="lg">56:01</text>
<rect x="340.80" y="331.80" width="7.80" height="4.30" fill="#208a50" stroke="#262626" stroke-width="0.8"/>
<text x="350.20" y="336.10" font-size="6.2" text-anchor="start" fill="#1e1e1e" class="lg">56:02</text>
<rect x="340.80" y="338.30" width="7.80" height="4.30" fill="#f9ac62" stroke="#262626" stroke-width="0.8"/>
<text x="350.20" y="342.60" font-size="6.2" text-anchor="start" fill="#1e1e1e" class="lg">56:56</text>
<rect x="340.80" y="344.80" width="7.80" height="4.30" fill="#22e022" stroke="#262626" stroke-width="0.8"/>
<text x="350.20" y="349.10" font-size="6.2" text-anchor="start" fill="#1e1e1e" class="lg">57:01</text>
<rect x="490.30" y="289.50" width="7.80" height="4.30" fill="#1d3a0c" stroke="#262626" stroke-width="0.8"/>
<text x="499.70" y="293.80" font-size="6.2" text-anchor="start" fill="#1e1e1e" class="lg">01:02</text>
<rect x="490.30" y="296.01" width="7.80" height="4.30" fill="#a9d1f5" stroke="#262626" stroke-width="0.8"/>
<text x="499.70" y="300.31" font-size="6.2" text-anchor="start" fill="#1e1e1e" class="lg">03:03</text>
<rect x="490.30" y="302.52" width="7.80" height="4.30" fill="#7b5cf0" stroke="#262626" stroke-width="0.8"/>
<text x="499.70" y="306.82" font-size="6.2" text-anchor="start" fill="#1e1e1e" class="lg">03:04</text>
<rect x="490.30" y="309.03" width="7.80" height="4.30" fill="#a793e2" stroke="#262626" stroke-width="0.8"/>
<text x="499.70" y="313.33" font-size="6.2" text-anchor="start" fill="#1e1e1e" class="lg">04:01</text>
<rect x="490.30" y="315.54" width="7.80" height="4.30" fill="#1f4f7e" stroke="#262626" stroke-width="0.8"/>
<text x="499.70" y="319.84" font-size="6.2" text-anchor="start" fill="#1e1e1e" class="lg">04:03</text>
<rect x="490.30" y="322.05" width="7.80" height="4.30" fill="#12b8ee" stroke="#262626" stroke-width="0.8"/>
<text x="499.70" y="326.35" font-size="6.2" text-anchor="start" fill="#1e1e1e" class="lg">04:107</text>
<rect x="490.30" y="328.56" width="7.80" height="4.30" fill="#e8b000" stroke="#262626" stroke-width="0.8"/>
<text x="499.70" y="332.86" font-size="6.2" text-anchor="start" fill="#1e1e1e" class="lg">05:01</text>
<rect x="490.30" y="335.07" width="7.80" height="4.30" fill="#ff0000" stroke="#262626" stroke-width="0.8"/>
<text x="499.70" y="339.37" font-size="6.2" text-anchor="start" fill="#1e1e1e" class="lg">06:02</text>
<rect x="522.10" y="289.50" width="7.80" height="4.30" fill="#f0384c" stroke="#262626" stroke-width="0.8"/>
<text x="531.50" y="293.80" font-size="6.2" text-anchor="start" fill="#1e1e1e" class="lg">07:01</text>
<rect x="522.10" y="296.01" width="7.80" height="4.30" fill="#b31e4e" stroke="#262626" stroke-width="0.8"/>
<text x="531.50" y="300.31" font-size="6.2" text-anchor="start" fill="#1e1e1e" class="lg">07:02</text>
<rect x="522.10" y="302.52" width="7.80" height="4.30" fill="#0a2466" stroke="#262626" stroke-width="0.8"/>
<text x="531.50" y="306.82" font-size="6.2" text-anchor="start" fill="#1e1e1e" class="lg">07:04</text>
<rect x="522.10" y="309.03" width="7.80" height="4.30" fill="#c4c4c4" stroke="#262626" stroke-width="0.8"/>
<text x="531.50" y="313.33" font-size="6.2" text-anchor="start" fill="#1e1e1e" class="lg">08:01</text>
<rect x="522.10" y="315.54" width="7.80" height="4.30" fill="#f040f0" stroke="#262626" stroke-width="0.8"/>
<text x="531.50" y="319.84" font-size="6.2" text-anchor="start" fill="#1e1e1e" class="lg">12:02</text>
<rect x="522.10" y="322.05" width="7.80" height="4.30" fill="#dc7620" stroke="#262626" stroke-width="0.8"/>
<text x="531.50" y="326.35" font-size="6.2" text-anchor="start" fill="#1e1e1e" class="lg">12:03</text>
<rect x="522.10" y="328.56" width="7.80" height="4.30" fill="#92bb2c" stroke="#262626" stroke-width="0.8"/>
<text x="531.50" y="332.86" font-size="6.2" text-anchor="start" fill="#1e1e1e" class="lg">15:02</text>
<rect x="522.10" y="335.07" width="7.80" height="4.30" fill="#1fd0d0" stroke="#262626" stroke-width="0.8"/>
<text x="531.50" y="339.37" font-size="6.2" text-anchor="start" fill="#1e1e1e" class="lg">15:09</text>
<path d="M244.00 313.80 L244.00 262.20 A51.6 51.6 0 0 1 247.42 262.31 Z" fill="#1a6e36" stroke="#2a2a2a" stroke-width="0.45" stroke-linejoin="round"/>
<path d="M244.00 313.80 L247.42 262.31 A51.6 51.6 0 0 1 257.88 264.10 Z" fill="#a9d1f5" stroke="#2a2a2a" stroke-width="0.45" stroke-linejoin="round"/>
<path d="M244.00 313.80 L257.88 264.10 A51.6 51.6 0 0 1 261.05 265.10 Z" fill="#7b5cf0" stroke="#2a2a2a" stroke-width="0.45" stroke-linejoin="round"/>
<path d="M244.00 313.80 L261.05 265.10 A51.6 51.6 0 0 1 295.50 317.04 Z" fill="#a793e2" stroke="#2a2a2a" stroke-width="0.45" stroke-linejoin="round"/>
<path d="M244.00 313.80 L295.50 317.04 A51.6 51.6 0 0 1 295.27 319.64 Z" fill="#1f4f7e" stroke="#2a2a2a" stroke-width="0.45" stroke-linejoin="round"/>
<path d="M244.00 313.80 L295.27 319.64 A51.6 51.6 0 0 1 294.67 323.56 Z" fill="#12b8ee" stroke="#2a2a2a" stroke-width="0.45" stroke-linejoin="round"/>
<path d="M244.00 313.80 L294.67 323.56 A51.6 51.6 0 0 1 281.92 348.79 Z" fill="#70b4f8" stroke="#2a2a2a" stroke-width="0.45" stroke-linejoin="round"/>
<path d="M244.00 313.80 L281.92 348.79 A51.6 51.6 0 0 1 280.30 350.48 Z" fill="#4a88ea" stroke="#2a2a2a" stroke-width="0.45" stroke-linejoin="round"/>
<path d="M244.00 313.80 L280.30 350.48 A51.6 51.6 0 0 1 277.78 352.80 Z" fill="#e8b000" stroke="#2a2a2a" stroke-width="0.45" stroke-linejoin="round"/>
<path d="M244.00 313.80 L277.78 352.80 A51.6 51.6 0 0 1 275.20 354.90 Z" fill="#ff0000" stroke="#2a2a2a" stroke-width="0.45" stroke-linejoin="round"/>
<path d="M244.00 313.80 L275.20 354.90 A51.6 51.6 0 0 1 272.10 357.08 Z" fill="#f0384c" stroke="#2a2a2a" stroke-width="0.45" stroke-linejoin="round"/>
<path d="M244.00 313.80 L272.10 357.08 A51.6 51.6 0 0 1 214.18 355.91 Z" fill="#b31e4e" stroke="#2a2a2a" stroke-width="0.45" stroke-linejoin="round"/>
<path d="M244.00 313.80 L214.18 355.91 A51.6 51.6 0 0 1 194.93 329.75 Z" fill="#0a2466" stroke="#2a2a2a" stroke-width="0.45" stroke-linejoin="round"/>
<path d="M244.00 313.80 L194.93 329.75 A51.6 51.6 0 0 1 194.16 327.16 Z" fill="#c4c4c4" stroke="#2a2a2a" stroke-width="0.45" stroke-linejoin="round"/>
<path d="M244.00 313.80 L194.16 327.16 A51.6 51.6 0 0 1 193.49 324.35 Z" fill="#f040f0" stroke="#2a2a2a" stroke-width="0.45" stroke-linejoin="round"/>
<path d="M244.00 313.80 L193.49 324.35 A51.6 51.6 0 0 1 192.90 320.98 Z" fill="#dc7620" stroke="#2a2a2a" stroke-width="0.45" stroke-linejoin="round"/>
<path d="M244.00 313.80 L192.90 320.98 A51.6 51.6 0 0 1 192.84 307.06 Z" fill="#92bb2c" stroke="#2a2a2a" stroke-width="0.45" stroke-linejoin="round"/>
<path d="M244.00 313.80 L192.84 307.06 A51.6 51.6 0 0 1 193.35 303.95 Z" fill="#1fd0d0" stroke="#2a2a2a" stroke-width="0.45" stroke-linejoin="round"/>
<path d="M244.00 313.80 L193.35 303.95 A51.6 51.6 0 0 1 211.18 273.98 Z" fill="#44d8a4" stroke="#2a2a2a" stroke-width="0.45" stroke-linejoin="round"/>
<path d="M244.00 313.80 L211.18 273.98 A51.6 51.6 0 0 1 230.91 263.89 Z" fill="#208a50" stroke="#2a2a2a" stroke-width="0.45" stroke-linejoin="round"/>
<path d="M244.00 313.80 L230.91 263.89 A51.6 51.6 0 0 1 240.40 262.33 Z" fill="#f9ac62" stroke="#2a2a2a" stroke-width="0.45" stroke-linejoin="round"/>
<path d="M244.00 313.80 L240.40 262.33 A51.6 51.6 0 0 1 243.10 262.21 Z" fill="#22e022" stroke="#2a2a2a" stroke-width="0.45" stroke-linejoin="round"/>
<path d="M244.00 313.80 L243.10 262.21 A51.6 51.6 0 0 1 244.00 262.20 Z" fill="#208a50" stroke="#2a2a2a" stroke-width="0.45" stroke-linejoin="round"/>
<circle cx="244.0" cy="313.8" r="51.6" fill="none" stroke="#2a2a2a" stroke-width="0.7"/>
<path d="M432.20 313.80 L432.20 262.50 A51.3 51.3 0 0 1 481.84 300.87 Z" fill="#1d3a0c" stroke="#2a2a2a" stroke-width="0.45" stroke-linejoin="round"/>
<path d="M432.20 313.80 L481.84 300.87 A51.3 51.3 0 0 1 455.65 359.43 Z" fill="#a9d1f5" stroke="#2a2a2a" stroke-width="0.45" stroke-linejoin="round"/>
<path d="M432.20 313.80 L455.65 359.43 A51.3 51.3 0 0 1 448.90 362.31 Z" fill="#7b5cf0" stroke="#2a2a2a" stroke-width="0.45" stroke-linejoin="round"/>
<path d="M432.20 313.80 L448.90 362.31 A51.3 51.3 0 0 1 388.23 340.22 Z" fill="#a793e2" stroke="#2a2a2a" stroke-width="0.45" stroke-linejoin="round"/>
<path d="M432.20 313.80 L388.23 340.22 A51.3 51.3 0 0 1 380.90 313.80 Z" fill="#1f4f7e" stroke="#2a2a2a" stroke-width="0.45" stroke-linejoin="round"/>
<path d="M432.20 313.80 L380.90 313.80 A51.3 51.3 0 0 1 381.00 310.67 Z" fill="#12b8ee" stroke="#2a2a2a" stroke-width="0.45" stroke-linejoin="round"/>
<path d="M432.20 313.80 L381.00 310.67 A51.3 51.3 0 0 1 381.28 307.55 Z" fill="#e8b000" stroke="#2a2a2a" stroke-width="0.45" stroke-linejoin="round"/>
<path d="M432.20 313.80 L381.28 307.55 A51.3 51.3 0 0 1 381.76 304.45 Z" fill="#ff0000" stroke="#2a2a2a" stroke-width="0.45" stroke-linejoin="round"/>
<path d="M432.20 313.80 L381.76 304.45 A51.3 51.3 0 0 1 382.32 301.82 Z" fill="#f0384c" stroke="#2a2a2a" stroke-width="0.45" stroke-linejoin="round"/>
<path d="M432.20 313.80 L382.32 301.82 A51.3 51.3 0 0 1 388.09 287.61 Z" fill="#b31e4e" stroke="#2a2a2a" stroke-width="0.45" stroke-linejoin="round"/>
<path d="M432.20 313.80 L388.09 287.61 A51.3 51.3 0 0 1 389.57 285.26 Z" fill="#0a2466" stroke="#2a2a2a" stroke-width="0.45" stroke-linejoin="round"/>
<path d="M432.20 313.80 L389.57 285.26 A51.3 51.3 0 0 1 399.92 273.93 Z" fill="#c4c4c4" stroke="#2a2a2a" stroke-width="0.45" stroke-linejoin="round"/>
<path d="M432.20 313.80 L399.92 273.93 A51.3 51.3 0 0 1 402.41 272.04 Z" fill="#f040f0" stroke="#2a2a2a" stroke-width="0.45" stroke-linejoin="round"/>
<path d="M432.20 313.80 L402.41 272.04 A51.3 51.3 0 0 1 405.24 270.15 Z" fill="#dc7620" stroke="#2a2a2a" stroke-width="0.45" stroke-linejoin="round"/>
<path d="M432.20 313.80 L405.24 270.15 A51.3 51.3 0 0 1 429.07 262.60 Z" fill="#92bb2c" stroke="#2a2a2a" stroke-width="0.45" stroke-linejoin="round"/>
<path d="M432.20 313.80 L429.07 262.60 A51.3 51.3 0 0 1 432.20 262.50 Z" fill="#1fd0d0" stroke="#2a2a2a" stroke-width="0.45" stroke-linejoin="round"/>
<circle cx="432.2" cy="313.8" r="51.3" fill="none" stroke="#2a2a2a" stroke-width="0.7"/>
<text x="6.60" y="393.00" font-size="13" text-anchor="start" font-weight="bold" fill="#000">c</text>
<text x="145.00" y="403.60" font-size="10.4" text-anchor="middle" fill="#0d0d0d">Non-Indigenous donors</text>
<line x1="45.80" y1="407.20" x2="45.80" y2="448.80" stroke="#7a7a7a" stroke-width="0.8"/>
<line x1="40.20" y1="448.40" x2="45.80" y2="448.40" stroke="#7a7a7a" stroke-width="0.8"/>
<text x="38.00" y="451.40" font-size="8.6" text-anchor="end" fill="#0d0d0d">4</text>
<line x1="40.20" y1="438.10" x2="45.80" y2="438.10" stroke="#7a7a7a" stroke-width="0.8"/>
<text x="38.00" y="441.10" font-size="8.6" text-anchor="end" fill="#0d0d0d">5</text>
<line x1="40.20" y1="427.80" x2="45.80" y2="427.80" stroke="#7a7a7a" stroke-width="0.8"/>
<text x="38.00" y="430.80" font-size="8.6" text-anchor="end" fill="#0d0d0d">6</text>
<line x1="40.20" y1="417.50" x2="45.80" y2="417.50" stroke="#7a7a7a" stroke-width="0.8"/>
<text x="38.00" y="420.50" font-size="8.6" text-anchor="end" fill="#0d0d0d">7</text>
<line x1="40.20" y1="407.20" x2="45.80" y2="407.20" stroke="#7a7a7a" stroke-width="0.8"/>
<text x="38.00" y="410.20" font-size="8.6" text-anchor="end" fill="#0d0d0d">8</text>
<line x1="41.90" y1="448.80" x2="49.60" y2="448.80" stroke="#b0b0b0" stroke-width="1.4"/>
<line x1="45.80" y1="460.40" x2="45.80" y2="557.50" stroke="#7a7a7a" stroke-width="0.8"/>
<line x1="41.90" y1="460.40" x2="49.60" y2="460.40" stroke="#8a8a8a" stroke-width="1.0"/>
<line x1="40.20" y1="557.50" x2="45.80" y2="557.50" stroke="#7a7a7a" stroke-width="0.8"/>
<text x="38.00" y="560.50" font-size="8.6" text-anchor="end" fill="#0d0d0d">0</text>
<line x1="40.20" y1="525.00" x2="45.80" y2="525.00" stroke="#7a7a7a" stroke-width="0.8"/>
<text x="38.00" y="528.00" font-size="8.6" text-anchor="end" fill="#0d0d0d">1</text>
<line x1="40.20" y1="492.50" x2="45.80" y2="492.50" stroke="#7a7a7a" stroke-width="0.8"/>
<text x="38.00" y="495.50" font-size="8.6" text-anchor="end" fill="#0d0d0d">2</text>
<line x1="40.20" y1="460.00" x2="45.80" y2="460.00" stroke="#7a7a7a" stroke-width="0.8"/>
<text x="38.00" y="463.00" font-size="8.6" text-anchor="end" fill="#0d0d0d">3</text>
<text x="26.0" y="482.5" font-size="10.3" text-anchor="middle" fill="#0d0d0d" transform="rotate(-90 26.0 482.5)">% IFN-<tspan font-style="italic">γ</tspan><tspan dy="-3.5" font-size="6.5">+</tspan><tspan dy="3.5"> of CD8</tspan><tspan dy="-3.5" font-size="6.5">+</tspan><tspan dy="3.5"> T-cells</tspan></text>
<line x1="45.80" y1="557.50" x2="271.50" y2="557.50" stroke="#666" stroke-width="0.9"/>
<rect x="234.90" y="531.83" width="11.20" height="25.68" fill="#a0a0a6" stroke="#606060" stroke-width="0.75"/>
<rect x="253.30" y="523.05" width="11.20" height="34.45" fill="#a0a0a6" stroke="#606060" stroke-width="0.75"/>
<line x1="57.70" y1="557.50" x2="57.70" y2="560.80" stroke="#555" stroke-width="0.8"/>
<line x1="75.90" y1="557.50" x2="75.90" y2="560.80" stroke="#555" stroke-width="0.8"/>
<line x1="94.30" y1="557.50" x2="94.30" y2="560.80" stroke="#555" stroke-width="0.8"/>
<line x1="112.70" y1="557.50" x2="112.70" y2="560.80" stroke="#555" stroke-width="0.8"/>
<line x1="131.00" y1="557.50" x2="131.00" y2="560.80" stroke="#555" stroke-width="0.8"/>
<line x1="149.20" y1="557.50" x2="149.20" y2="560.80" stroke="#555" stroke-width="0.8"/>
<line x1="167.30" y1="557.50" x2="167.30" y2="560.80" stroke="#555" stroke-width="0.8"/>
<line x1="185.70" y1="557.50" x2="185.70" y2="560.80" stroke="#555" stroke-width="0.8"/>
<line x1="204.00" y1="557.50" x2="204.00" y2="560.80" stroke="#555" stroke-width="0.8"/>
<line x1="222.20" y1="557.50" x2="222.20" y2="560.80" stroke="#555" stroke-width="0.8"/>
<line x1="240.50" y1="557.50" x2="240.50" y2="560.80" stroke="#555" stroke-width="0.8"/>
<line x1="258.90" y1="557.50" x2="258.90" y2="560.80" stroke="#555" stroke-width="0.8"/>
<circle cx="54.60" cy="557.50" r="3.0" fill="#9c9c9e" stroke="#4e4e4e" stroke-width="0.75"/>
<circle cx="57.70" cy="557.50" r="3.0" fill="#9c9c9e" stroke="#4e4e4e" stroke-width="0.75"/>
<circle cx="60.80" cy="557.50" r="3.0" fill="#9c9c9e" stroke="#4e4e4e" stroke-width="0.75"/>
<circle cx="57.70" cy="551.00" r="3.0" fill="#9c9c9e" stroke="#4e4e4e" stroke-width="0.75"/>
<circle cx="72.80" cy="557.50" r="3.0" fill="#9c9c9e" stroke="#4e4e4e" stroke-width="0.75"/>
<circle cx="75.90" cy="557.50" r="3.0" fill="#9c9c9e" stroke="#4e4e4e" stroke-width="0.75"/>
<circle cx="79.00" cy="557.50" r="3.0" fill="#9c9c9e" stroke="#4e4e4e" stroke-width="0.75"/>
<circle cx="77.40" cy="557.50" r="3.0" fill="#9c9c9e" stroke="#4e4e4e" stroke-width="0.75"/>
<circle cx="91.20" cy="557.50" r="3.0" fill="#9c9c9e" stroke="#4e4e4e" stroke-width="0.75"/>
<circle cx="94.30" cy="557.50" r="3.0" fill="#9c9c9e" stroke="#4e4e4e" stroke-width="0.75"/>
<circle cx="97.40" cy="557.50" r="3.0" fill="#9c9c9e" stroke="#4e4e4e" stroke-width="0.75"/>
<circle cx="94.30" cy="549.05" r="3.0" fill="#9c9c9e" stroke="#4e4e4e" stroke-width="0.75"/>
<circle cx="94.30" cy="538.65" r="3.0" fill="#9c9c9e" stroke="#4e4e4e" stroke-width="0.75"/>
<circle cx="109.60" cy="557.50" r="3.0" fill="#9c9c9e" stroke="#4e4e4e" stroke-width="0.75"/>
<circle cx="112.70" cy="555.88" r="3.0" fill="#9c9c9e" stroke="#4e4e4e" stroke-width="0.75"/>
<circle cx="115.70" cy="557.50" r="3.0" fill="#9c9c9e" stroke="#4e4e4e" stroke-width="0.75"/>
<circle cx="115.20" cy="553.60" r="3.0" fill="#9c9c9e" stroke="#4e4e4e" stroke-width="0.75"/>
<circle cx="112.70" cy="547.75" r="3.0" fill="#9c9c9e" stroke="#4e4e4e" stroke-width="0.75"/>
<circle cx="127.90" cy="557.50" r="3.0" fill="#9c9c9e" stroke="#4e4e4e" stroke-width="0.75"/>
<circle cx="131.00" cy="557.50" r="3.0" fill="#9c9c9e" stroke="#4e4e4e" stroke-width="0.75"/>
<circle cx="134.10" cy="557.50" r="3.0" fill="#9c9c9e" stroke="#4e4e4e" stroke-width="0.75"/>
<circle cx="131.00" cy="547.10" r="3.0" fill="#9c9c9e" stroke="#4e4e4e" stroke-width="0.75"/>
<circle cx="146.10" cy="557.50" r="3.0" fill="#9c9c9e" stroke="#4e4e4e" stroke-width="0.75"/>
<circle cx="149.20" cy="557.50" r="3.0" fill="#9c9c9e" stroke="#4e4e4e" stroke-width="0.75"/>
<circle cx="152.30" cy="557.50" r="3.0" fill="#9c9c9e" stroke="#4e4e4e" stroke-width="0.75"/>
<circle cx="150.70" cy="557.50" r="3.0" fill="#9c9c9e" stroke="#4e4e4e" stroke-width="0.75"/>
<circle cx="164.20" cy="557.50" r="3.0" fill="#9c9c9e" stroke="#4e4e4e" stroke-width="0.75"/>
<circle cx="167.30" cy="557.50" r="3.0" fill="#9c9c9e" stroke="#4e4e4e" stroke-width="0.75"/>
<circle cx="170.40" cy="557.50" r="3.0" fill="#9c9c9e" stroke="#4e4e4e" stroke-width="0.75"/>
<circle cx="168.50" cy="556.52" r="3.0" fill="#9c9c9e" stroke="#4e4e4e" stroke-width="0.75"/>
<circle cx="182.60" cy="556.85" r="3.0" fill="#9c9c9e" stroke="#4e4e4e" stroke-width="0.75"/>
<circle cx="185.70" cy="554.90" r="3.0" fill="#9c9c9e" stroke="#4e4e4e" stroke-width="0.75"/>
<circle cx="188.70" cy="556.20" r="3.0" fill="#9c9c9e" stroke="#4e4e4e" stroke-width="0.75"/>
<circle cx="184.70" cy="552.62" r="3.0" fill="#9c9c9e" stroke="#4e4e4e" stroke-width="0.75"/>
<circle cx="200.90" cy="556.85" r="3.0" fill="#9c9c9e" stroke="#4e4e4e" stroke-width="0.75"/>
<circle cx="204.00" cy="552.62" r="3.0" fill="#9c9c9e" stroke="#4e4e4e" stroke-width="0.75"/>
<circle cx="207.20" cy="555.88" r="3.0" fill="#9c9c9e" stroke="#4e4e4e" stroke-width="0.75"/>
<circle cx="204.00" cy="556.52" r="3.0" fill="#9c9c9e" stroke="#4e4e4e" stroke-width="0.75"/>
<circle cx="219.10" cy="557.50" r="3.0" fill="#9c9c9e" stroke="#4e4e4e" stroke-width="0.75"/>
<circle cx="222.20" cy="556.52" r="3.0" fill="#9c9c9e" stroke="#4e4e4e" stroke-width="0.75"/>
<circle cx="225.30" cy="557.50" r="3.0" fill="#9c9c9e" stroke="#4e4e4e" stroke-width="0.75"/>
<circle cx="221.20" cy="555.88" r="3.0" fill="#9c9c9e" stroke="#4e4e4e" stroke-width="0.75"/>
<circle cx="237.30" cy="557.50" r="3.0" fill="#9c9c9e" stroke="#4e4e4e" stroke-width="0.75"/>
<circle cx="240.50" cy="530.85" r="3.0" fill="#9c9c9e" stroke="#4e4e4e" stroke-width="0.75"/>
<circle cx="243.50" cy="553.27" r="3.0" fill="#9c9c9e" stroke="#4e4e4e" stroke-width="0.75"/>
<circle cx="255.70" cy="557.50" r="3.0" fill="#9c9c9e" stroke="#4e4e4e" stroke-width="0.75"/>
<circle cx="258.90" cy="523.05" r="3.0" fill="#9c9c9e" stroke="#4e4e4e" stroke-width="0.75"/>
<circle cx="261.90" cy="551.98" r="3.0" fill="#9c9c9e" stroke="#4e4e4e" stroke-width="0.75"/>
<circle cx="258.90" cy="468.77" r="3.0" fill="#9c9c9e" stroke="#4e4e4e" stroke-width="0.75"/>
<circle cx="204.00" cy="436.66" r="3.0" fill="#9c9c9e" stroke="#4e4e4e" stroke-width="0.75"/>
<circle cx="240.50" cy="417.50" r="3.0" fill="#9c9c9e" stroke="#4e4e4e" stroke-width="0.75"/>
<circle cx="240.50" cy="427.28" r="3.0" fill="#9c9c9e" stroke="#4e4e4e" stroke-width="0.75"/>
<circle cx="258.90" cy="431.92" r="3.0" fill="#9c9c9e" stroke="#4e4e4e" stroke-width="0.75"/>
<text x="60.70" y="572.00" font-size="8.8" text-anchor="end" fill="#0d0d0d" transform="rotate(-45 60.70 572.00)">M1<tspan font-size="5.9" dy="2.2">98-109</tspan><tspan dy="-2.2">V1</tspan></text>
<text x="78.90" y="572.00" font-size="8.8" text-anchor="end" fill="#0d0d0d" transform="rotate(-45 78.90 572.00)">M1<tspan font-size="5.9" dy="2.2">98-109</tspan><tspan dy="-2.2">V2</tspan></text>
<text x="97.30" y="572.00" font-size="8.8" text-anchor="end" fill="#0d0d0d" transform="rotate(-45 97.30 572.00)">M1<tspan font-size="5.9" dy="2.2">108-117</tspan><tspan dy="-2.2">V1</tspan></text>
<text x="115.70" y="572.00" font-size="8.8" text-anchor="end" fill="#0d0d0d" transform="rotate(-45 115.70 572.00)">M1<tspan font-size="5.9" dy="2.2">108-117</tspan><tspan dy="-2.2">V2</tspan></text>
<text x="134.00" y="572.00" font-size="8.8" text-anchor="end" fill="#0d0d0d" transform="rotate(-45 134.00 572.00)">M1<tspan font-size="5.9" dy="2.2">239-248</tspan><tspan dy="-2.2">V1</tspan></text>
<text x="152.20" y="572.00" font-size="8.8" text-anchor="end" fill="#0d0d0d" transform="rotate(-45 152.20 572.00)">M1<tspan font-size="5.9" dy="2.2">239-248</tspan><tspan dy="-2.2">V2</tspan></text>
<text x="170.30" y="572.00" font-size="8.8" text-anchor="end" fill="#0d0d0d" transform="rotate(-45 170.30 572.00)">NP<tspan font-size="5.9" dy="2.2">39-47</tspan><tspan dy="-2.2"></tspan></text>
<text x="188.70" y="572.00" font-size="8.8" text-anchor="end" fill="#0d0d0d" transform="rotate(-45 188.70 572.00)">NP<tspan font-size="5.9" dy="2.2">419-428</tspan><tspan dy="-2.2"> pool</tspan></text>
<text x="207.00" y="572.00" font-size="8.8" text-anchor="end" fill="#0d0d0d" transform="rotate(-45 207.00 572.00)">PA<tspan font-size="5.9" dy="2.2">130-138</tspan><tspan dy="-2.2"></tspan></text>
<text x="225.20" y="572.00" font-size="8.8" text-anchor="end" fill="#0d0d0d" transform="rotate(-45 225.20 572.00)">PA<tspan font-size="5.9" dy="2.2">649-658</tspan><tspan dy="-2.2"></tspan></text>
<text x="243.50" y="572.00" font-size="8.8" text-anchor="end" fill="#0d0d0d" transform="rotate(-45 243.50 572.00)">PB1<tspan font-size="5.9" dy="2.2">496-505</tspan><tspan dy="-2.2"></tspan></text>
<text x="261.90" y="572.00" font-size="8.8" text-anchor="end" fill="#0d0d0d" transform="rotate(-45 261.90 572.00)">PB1<tspan font-size="5.9" dy="2.2">496-505</tspan><tspan dy="-2.2"></tspan></text>
<text x="271.70" y="392.90" font-size="12.5" text-anchor="start" font-weight="bold" fill="#000">d</text>
<text x="333.05" y="385.10" font-size="8.4" text-anchor="middle" fill="#0d0d0d">No Peptide</text>
<clipPath id="cd0"><rect x="303.2" y="393.4" width="55.10000000000002" height="55.80000000000001"/></clipPath>
<g clip-path="url(#cd0)">
<path d="M312.7 442.7h0.6v0.6h-0.6zM311.5 437.7h0.6v0.6h-0.6zM310.8 437.2h0.6v0.6h-0.6zM313.0 447.0h0.6v0.6h-0.6zM310.6 438.8h0.6v0.6h-0.6zM314.8 442.9h0.6v0.6h-0.6zM313.1 437.5h0.6v0.6h-0.6zM312.6 444.3h0.6v0.6h-0.6zM307.1 439.5h0.6v0.6h-0.6zM304.7 436.0h0.6v0.6h-0.6zM305.0 440.4h0.6v0.6h-0.6zM307.4 442.5h0.6v0.6h-0.6zM313.4 440.6h0.6v0.6h-0.6zM312.5 441.9h0.6v0.6h-0.6zM306.3 439.4h0.6v0.6h-0.6zM308.6 438.0h0.6v0.6h-0.6zM317.2 438.0h0.6v0.6h-0.6zM312.6 445.1h0.6v0.6h-0.6zM310.2 440.9h0.6v0.6h-0.6zM313.2 441.7h0.6v0.6h-0.6zM307.6 441.7h0.6v0.6h-0.6zM318.4 434.9h0.6v0.6h-0.6zM316.3 441.9h0.6v0.6h-0.6zM315.9 436.4h0.6v0.6h-0.6zM313.0 443.8h0.6v0.6h-0.6zM311.9 444.3h0.6v0.6h-0.6zM312.4 444.2h0.6v0.6h-0.6zM318.7 438.6h0.6v0.6h-0.6zM313.6 439.5h0.6v0.6h-0.6zM313.2 436.4h0.6v0.6h-0.6zM310.3 440.6h0.6v0.6h-0.6zM316.5 446.2h0.6v0.6h-0.6zM307.1 438.1h0.6v0.6h-0.6zM315.4 433.0h0.6v0.6h-0.6zM310.8 441.0h0.6v0.6h-0.6zM318.0 444.3h0.6v0.6h-0.6zM311.3 439.9h0.6v0.6h-0.6zM311.6 447.8h0.6v0.6h-0.6zM310.9 440.1h0.6v0.6h-0.6zM314.2 440.9h0.6v0.6h-0.6zM311.9 436.7h0.6v0.6h-0.6zM312.7 439.5h0.6v0.6h-0.6zM317.6 444.1h0.6v0.6h-0.6zM312.6 444.2h0.6v0.6h-0.6zM311.3 445.8h0.6v0.6h-0.6zM312.7 443.9h0.6v0.6h-0.6zM307.3 442.9h0.6v0.6h-0.6zM305.6 432.9h0.6v0.6h-0.6zM311.4 437.6h0.6v0.6h-0.6zM309.2 438.8h0.6v0.6h-0.6zM313.6 443.5h0.6v0.6h-0.6zM312.0 440.5h0.6v0.6h-0.6zM315.7 443.6h0.6v0.6h-0.6zM308.4 441.1h0.6v0.6h-0.6zM312.8 437.0h0.6v0.6h-0.6zM313.8 437.8h0.6v0.6h-0.6zM316.8 442.2h0.6v0.6h-0.6zM313.1 438.9h0.6v0.6h-0.6zM312.2 433.0h0.6v0.6h-0.6zM307.9 442.9h0.6v0.6h-0.6zM305.4 444.6h0.6v0.6h-0.6zM309.1 444.7h0.6v0.6h-0.6zM313.2 434.9h0.6v0.6h-0.6zM317.9 447.5h0.6v0.6h-0.6zM312.4 440.2h0.6v0.6h-0.6zM312.0 437.3h0.6v0.6h-0.6zM317.3 439.1h0.6v0.6h-0.6zM312.5 438.1h0.6v0.6h-0.6zM310.1 436.0h0.6v0.6h-0.6zM318.0 440.8h0.6v0.6h-0.6zM316.8 441.5h0.6v0.6h-0.6zM309.8 440.0h0.6v0.6h-0.6zM310.3 441.4h0.6v0.6h-0.6zM311.1 440.1h0.6v0.6h-0.6zM306.9 438.0h0.6v0.6h-0.6zM319.6 438.6h0.6v0.6h-0.6zM308.3 442.8h0.6v0.6h-0.6zM318.6 435.3h0.6v0.6h-0.6zM311.8 438.7h0.6v0.6h-0.6zM305.3 444.5h0.6v0.6h-0.6zM312.6 441.7h0.6v0.6h-0.6zM309.5 443.3h0.6v0.6h-0.6zM310.4 440.8h0.6v0.6h-0.6zM308.0 436.3h0.6v0.6h-0.6zM318.3 439.3h0.6v0.6h-0.6zM313.9 441.3h0.6v0.6h-0.6zM310.8 439.3h0.6v0.6h-0.6zM315.3 440.1h0.6v0.6h-0.6zM312.1 441.5h0.6v0.6h-0.6zM317.6 444.3h0.6v0.6h-0.6zM314.3 439.0h0.6v0.6h-0.6zM306.9 445.4h0.6v0.6h-0.6zM316.8 440.8h0.6v0.6h-0.6zM315.0 444.7h0.6v0.6h-0.6zM316.2 445.3h0.6v0.6h-0.6zM310.8 447.8h0.6v0.6h-0.6zM307.5 445.0h0.6v0.6h-0.6zM314.8 445.1h0.6v0.6h-0.6zM320.6 447.6h0.6v0.6h-0.6zM307.9 434.3h0.6v0.6h-0.6zM316.1 437.1h0.6v0.6h-0.6zM312.6 444.9h0.6v0.6h-0.6zM305.8 432.5h0.6v0.6h-0.6zM313.8 441.6h0.6v0.6h-0.6zM311.7 441.6h0.6v0.6h-0.6zM309.1 435.0h0.6v0.6h-0.6zM312.0 437.3h0.6v0.6h-0.6zM305.8 443.5h0.6v0.6h-0.6zM312.4 443.1h0.6v0.6h-0.6zM308.5 438.6h0.6v0.6h-0.6zM308.5 437.7h0.6v0.6h-0.6zM313.5 438.1h0.6v0.6h-0.6zM314.2 442.8h0.6v0.6h-0.6zM321.2 435.6h0.6v0.6h-0.6zM316.4 441.0h0.6v0.6h-0.6zM312.6 435.3h0.6v0.6h-0.6zM310.8 444.5h0.6v0.6h-0.6zM312.4 441.7h0.6v0.6h-0.6zM311.5 446.2h0.6v0.6h-0.6zM312.6 432.2h0.6v0.6h-0.6zM309.8 433.1h0.6v0.6h-0.6zM318.3 441.6h0.6v0.6h-0.6zM307.8 437.4h0.6v0.6h-0.6zM317.4 442.1h0.6v0.6h-0.6zM312.9 441.2h0.6v0.6h-0.6zM312.9 444.8h0.6v0.6h-0.6zM315.0 442.3h0.6v0.6h-0.6zM308.3 443.5h0.6v0.6h-0.6zM309.8 446.0h0.6v0.6h-0.6zM307.4 440.8h0.6v0.6h-0.6zM312.7 435.8h0.6v0.6h-0.6zM319.9 447.5h0.6v0.6h-0.6zM310.8 444.6h0.6v0.6h-0.6zM314.3 430.4h0.6v0.6h-0.6zM313.8 441.1h0.6v0.6h-0.6zM313.0 436.9h0.6v0.6h-0.6zM311.6 440.7h0.6v0.6h-0.6zM317.7 442.8h0.6v0.6h-0.6zM312.7 447.8h0.6v0.6h-0.6zM310.4 439.8h0.6v0.6h-0.6zM305.1 448.0h0.6v0.6h-0.6zM316.8 445.3h0.6v0.6h-0.6zM315.5 441.9h0.6v0.6h-0.6zM313.6 440.3h0.6v0.6h-0.6zM311.8 441.6h0.6v0.6h-0.6zM319.0 443.7h0.6v0.6h-0.6zM312.5 439.0h0.6v0.6h-0.6zM310.0 448.1h0.6v0.6h-0.6zM314.8 441.7h0.6v0.6h-0.6zM311.2 436.7h0.6v0.6h-0.6zM312.4 445.1h0.6v0.6h-0.6zM311.1 440.4h0.6v0.6h-0.6zM311.8 441.9h0.6v0.6h-0.6zM306.0 440.4h0.6v0.6h-0.6zM309.1 445.1h0.6v0.6h-0.6zM309.5 443.8h0.6v0.6h-0.6zM319.1 440.1h0.6v0.6h-0.6zM310.2 442.2h0.6v0.6h-0.6zM312.7 437.2h0.6v0.6h-0.6zM311.6 440.5h0.6v0.6h-0.6zM308.3 442.7h0.6v0.6h-0.6zM307.5 436.8h0.6v0.6h-0.6zM318.1 437.6h0.6v0.6h-0.6zM317.2 447.8h0.6v0.6h-0.6zM313.8 443.7h0.6v0.6h-0.6zM320.9 440.6h0.6v0.6h-0.6zM310.2 435.7h0.6v0.6h-0.6zM312.9 447.6h0.6v0.6h-0.6zM316.7 437.4h0.6v0.6h-0.6zM309.1 439.3h0.6v0.6h-0.6zM313.9 440.5h0.6v0.6h-0.6zM313.6 442.6h0.6v0.6h-0.6zM311.4 441.2h0.6v0.6h-0.6zM313.6 441.0h0.6v0.6h-0.6zM315.2 441.6h0.6v0.6h-0.6zM305.6 443.0h0.6v0.6h-0.6zM304.5 435.5h0.6v0.6h-0.6zM316.3 444.4h0.6v0.6h-0.6zM312.1 434.2h0.6v0.6h-0.6zM311.1 438.5h0.6v0.6h-0.6zM313.6 438.1h0.6v0.6h-0.6zM307.8 441.2h0.6v0.6h-0.6zM312.0 436.6h0.6v0.6h-0.6zM313.2 436.6h0.6v0.6h-0.6zM317.4 445.9h0.6v0.6h-0.6zM317.3 439.4h0.6v0.6h-0.6zM314.9 440.8h0.6v0.6h-0.6zM311.1 440.0h0.6v0.6h-0.6zM307.2 435.3h0.6v0.6h-0.6zM316.0 440.6h0.6v0.6h-0.6zM313.6 445.6h0.6v0.6h-0.6zM305.4 438.1h0.6v0.6h-0.6zM313.4 443.0h0.6v0.6h-0.6zM311.1 445.7h0.6v0.6h-0.6zM313.6 436.3h0.6v0.6h-0.6zM308.8 444.8h0.6v0.6h-0.6zM314.6 433.4h0.6v0.6h-0.6zM318.4 443.9h0.6v0.6h-0.6zM318.3 439.8h0.6v0.6h-0.6zM311.5 436.7h0.6v0.6h-0.6zM323.4 440.7h0.6v0.6h-0.6zM319.4 438.7h0.6v0.6h-0.6zM313.4 434.4h0.6v0.6h-0.6zM311.1 445.5h0.6v0.6h-0.6zM307.4 445.9h0.6v0.6h-0.6zM314.1 437.0h0.6v0.6h-0.6zM310.6 439.5h0.6v0.6h-0.6zM312.5 439.1h0.6v0.6h-0.6zM309.2 440.1h0.6v0.6h-0.6zM308.4 436.0h0.6v0.6h-0.6zM312.5 445.1h0.6v0.6h-0.6zM306.3 441.4h0.6v0.6h-0.6zM310.0 437.3h0.6v0.6h-0.6zM316.3 439.2h0.6v0.6h-0.6zM319.0 438.1h0.6v0.6h-0.6zM314.3 440.4h0.6v0.6h-0.6zM309.5 443.9h0.6v0.6h-0.6zM312.0 443.9h0.6v0.6h-0.6zM312.5 436.8h0.6v0.6h-0.6zM312.3 441.6h0.6v0.6h-0.6zM316.7 437.6h0.6v0.6h-0.6zM312.5 434.2h0.6v0.6h-0.6zM315.4 436.9h0.6v0.6h-0.6zM305.1 441.2h0.6v0.6h-0.6zM317.3 435.0h0.6v0.6h-0.6zM308.1 438.3h0.6v0.6h-0.6zM308.0 443.0h0.6v0.6h-0.6zM309.3 438.4h0.6v0.6h-0.6zM315.1 438.2h0.6v0.6h-0.6zM314.5 437.3h0.6v0.6h-0.6zM307.6 433.7h0.6v0.6h-0.6zM320.5 440.1h0.6v0.6h-0.6zM313.7 441.3h0.6v0.6h-0.6zM313.4 441.6h0.6v0.6h-0.6zM320.7 437.0h0.6v0.6h-0.6zM306.2 437.1h0.6v0.6h-0.6zM307.1 444.5h0.6v0.6h-0.6zM316.1 437.4h0.6v0.6h-0.6zM306.9 439.9h0.6v0.6h-0.6zM318.5 429.6h0.6v0.6h-0.6zM314.9 436.9h0.6v0.6h-0.6zM317.1 436.9h0.6v0.6h-0.6zM311.5 435.1h0.6v0.6h-0.6zM308.6 447.2h0.6v0.6h-0.6zM316.1 439.7h0.6v0.6h-0.6zM309.0 433.4h0.6v0.6h-0.6zM311.0 441.3h0.6v0.6h-0.6zM312.3 441.0h0.6v0.6h-0.6zM308.0 441.1h0.6v0.6h-0.6zM312.5 446.8h0.6v0.6h-0.6zM320.5 440.8h0.6v0.6h-0.6zM309.5 441.1h0.6v0.6h-0.6zM310.1 438.3h0.6v0.6h-0.6zM312.5 437.0h0.6v0.6h-0.6zM315.2 441.0h0.6v0.6h-0.6zM313.8 440.6h0.6v0.6h-0.6zM309.6 437.4h0.6v0.6h-0.6zM311.7 439.1h0.6v0.6h-0.6zM313.7 441.4h0.6v0.6h-0.6zM307.0 441.7h0.6v0.6h-0.6zM307.1 438.8h0.6v0.6h-0.6zM311.5 432.7h0.6v0.6h-0.6zM313.1 442.0h0.6v0.6h-0.6zM312.0 439.6h0.6v0.6h-0.6zM311.1 437.3h0.6v0.6h-0.6zM311.6 439.1h0.6v0.6h-0.6zM313.1 436.3h0.6v0.6h-0.6zM313.7 442.0h0.6v0.6h-0.6zM312.1 439.6h0.6v0.6h-0.6zM315.0 434.4h0.6v0.6h-0.6zM314.6 442.4h0.6v0.6h-0.6zM313.9 443.0h0.6v0.6h-0.6zM310.0 440.3h0.6v0.6h-0.6zM315.4 443.2h0.6v0.6h-0.6zM313.6 435.0h0.6v0.6h-0.6zM315.0 446.3h0.6v0.6h-0.6zM316.9 442.4h0.6v0.6h-0.6zM306.2 445.4h0.6v0.6h-0.6zM312.1 430.8h0.6v0.6h-0.6zM314.3 435.1h0.6v0.6h-0.6zM307.3 438.7h0.6v0.6h-0.6zM318.0 439.8h0.6v0.6h-0.6zM319.4 441.0h0.6v0.6h-0.6zM311.7 436.1h0.6v0.6h-0.6zM309.8 443.2h0.6v0.6h-0.6zM314.4 441.9h0.6v0.6h-0.6zM316.9 438.2h0.6v0.6h-0.6zM312.5 444.5h0.6v0.6h-0.6zM315.2 445.9h0.6v0.6h-0.6zM314.4 440.1h0.6v0.6h-0.6zM314.2 437.2h0.6v0.6h-0.6zM305.8 443.8h0.6v0.6h-0.6zM312.5 442.7h0.6v0.6h-0.6zM305.6 439.9h0.6v0.6h-0.6zM310.2 437.8h0.6v0.6h-0.6zM316.5 443.0h0.6v0.6h-0.6zM310.2 441.3h0.6v0.6h-0.6zM315.9 429.8h0.6v0.6h-0.6zM312.2 443.7h0.6v0.6h-0.6zM317.5 442.7h0.6v0.6h-0.6zM314.0 444.7h0.6v0.6h-0.6zM310.4 441.2h0.6v0.6h-0.6zM312.0 441.2h0.6v0.6h-0.6zM313.5 447.0h0.6v0.6h-0.6zM312.6 447.6h0.6v0.6h-0.6zM308.6 440.6h0.6v0.6h-0.6zM311.9 444.7h0.6v0.6h-0.6zM317.1 435.1h0.6v0.6h-0.6zM308.9 442.8h0.6v0.6h-0.6zM309.9 435.0h0.6v0.6h-0.6zM317.1 443.5h0.6v0.6h-0.6zM314.8 439.4h0.6v0.6h-0.6zM317.0 440.4h0.6v0.6h-0.6zM317.3 437.6h0.6v0.6h-0.6zM309.1 442.3h0.6v0.6h-0.6zM309.8 444.2h0.6v0.6h-0.6zM313.8 437.5h0.6v0.6h-0.6zM313.0 439.9h0.6v0.6h-0.6zM316.5 438.7h0.6v0.6h-0.6zM310.9 446.5h0.6v0.6h-0.6zM313.0 442.3h0.6v0.6h-0.6zM319.1 440.9h0.6v0.6h-0.6zM308.6 441.9h0.6v0.6h-0.6zM314.6 437.9h0.6v0.6h-0.6zM305.8 435.4h0.6v0.6h-0.6zM315.5 438.2h0.6v0.6h-0.6zM312.1 442.3h0.6v0.6h-0.6zM315.3 440.0h0.6v0.6h-0.6zM314.8 437.7h0.6v0.6h-0.6zM311.2 437.1h0.6v0.6h-0.6zM317.5 441.3h0.6v0.6h-0.6zM309.6 439.9h0.6v0.6h-0.6zM311.8 444.3h0.6v0.6h-0.6zM306.0 437.0h0.6v0.6h-0.6zM316.7 440.9h0.6v0.6h-0.6z" fill="#1c1cff" opacity="0.75"/>
<path d="M315.7 428.5h0.5v0.5h-0.5zM319.2 437.2h0.5v0.5h-0.5zM315.2 433.9h0.5v0.5h-0.5zM324.0 441.4h0.5v0.5h-0.5zM319.9 433.3h0.5v0.5h-0.5zM319.8 417.7h0.5v0.5h-0.5zM318.9 428.7h0.5v0.5h-0.5zM315.8 434.0h0.5v0.5h-0.5zM318.7 419.8h0.5v0.5h-0.5zM315.9 425.5h0.5v0.5h-0.5zM315.8 426.3h0.5v0.5h-0.5zM322.1 416.0h0.5v0.5h-0.5zM321.6 431.4h0.5v0.5h-0.5zM317.3 441.8h0.5v0.5h-0.5zM313.6 419.1h0.5v0.5h-0.5zM315.2 422.7h0.5v0.5h-0.5zM309.2 430.4h0.5v0.5h-0.5zM311.2 432.0h0.5v0.5h-0.5zM316.8 431.7h0.5v0.5h-0.5zM316.9 428.0h0.5v0.5h-0.5zM314.8 426.7h0.5v0.5h-0.5zM317.1 419.8h0.5v0.5h-0.5zM325.1 441.0h0.5v0.5h-0.5zM320.0 437.8h0.5v0.5h-0.5zM323.0 425.8h0.5v0.5h-0.5zM316.9 429.6h0.5v0.5h-0.5zM317.6 428.2h0.5v0.5h-0.5zM316.9 427.3h0.5v0.5h-0.5zM315.7 423.4h0.5v0.5h-0.5zM316.9 443.6h0.5v0.5h-0.5zM319.3 428.5h0.5v0.5h-0.5zM312.7 434.1h0.5v0.5h-0.5zM320.9 428.7h0.5v0.5h-0.5zM317.7 431.5h0.5v0.5h-0.5zM314.5 439.2h0.5v0.5h-0.5zM315.1 430.4h0.5v0.5h-0.5zM309.4 438.8h0.5v0.5h-0.5zM315.1 425.9h0.5v0.5h-0.5zM319.6 433.9h0.5v0.5h-0.5zM310.9 438.3h0.5v0.5h-0.5zM316.0 434.4h0.5v0.5h-0.5zM319.4 425.9h0.5v0.5h-0.5zM308.9 424.4h0.5v0.5h-0.5zM311.2 427.7h0.5v0.5h-0.5zM318.7 426.0h0.5v0.5h-0.5zM323.5 431.8h0.5v0.5h-0.5zM311.1 428.7h0.5v0.5h-0.5zM313.5 425.4h0.5v0.5h-0.5zM318.9 422.6h0.5v0.5h-0.5zM309.3 426.0h0.5v0.5h-0.5zM316.8 434.1h0.5v0.5h-0.5zM317.6 432.0h0.5v0.5h-0.5zM317.4 433.7h0.5v0.5h-0.5zM318.9 437.3h0.5v0.5h-0.5zM318.8 432.3h0.5v0.5h-0.5zM316.5 421.2h0.5v0.5h-0.5zM318.0 428.3h0.5v0.5h-0.5zM323.7 421.7h0.5v0.5h-0.5zM312.4 430.5h0.5v0.5h-0.5zM316.1 419.6h0.5v0.5h-0.5zM314.3 429.4h0.5v0.5h-0.5zM314.6 430.5h0.5v0.5h-0.5zM314.3 433.2h0.5v0.5h-0.5zM321.1 429.7h0.5v0.5h-0.5zM313.2 445.3h0.5v0.5h-0.5zM313.8 427.1h0.5v0.5h-0.5zM312.6 434.6h0.5v0.5h-0.5zM317.1 427.0h0.5v0.5h-0.5zM313.4 424.0h0.5v0.5h-0.5zM308.8 427.0h0.5v0.5h-0.5z" fill="#1c1cff" opacity="0.45"/>
<path d="M329.3 410.3h0.5v0.5h-0.5zM330.9 423.1h0.5v0.5h-0.5zM329.0 407.7h0.5v0.5h-0.5zM336.1 428.3h0.5v0.5h-0.5zM326.0 421.3h0.5v0.5h-0.5zM328.1 426.9h0.5v0.5h-0.5zM326.6 412.5h0.5v0.5h-0.5zM333.7 433.5h0.5v0.5h-0.5zM328.8 431.2h0.5v0.5h-0.5zM328.0 429.4h0.5v0.5h-0.5zM349.6 420.6h0.5v0.5h-0.5zM328.7 428.0h0.5v0.5h-0.5zM334.5 421.2h0.5v0.5h-0.5zM328.8 431.6h0.5v0.5h-0.5zM330.2 408.0h0.5v0.5h-0.5zM333.0 422.0h0.5v0.5h-0.5zM334.4 432.4h0.5v0.5h-0.5zM324.5 428.4h0.5v0.5h-0.5zM346.9 428.8h0.5v0.5h-0.5zM334.0 428.1h0.5v0.5h-0.5zM344.7 423.1h0.5v0.5h-0.5zM331.4 414.5h0.5v0.5h-0.5zM337.4 425.6h0.5v0.5h-0.5zM334.4 418.4h0.5v0.5h-0.5zM333.0 419.7h0.5v0.5h-0.5z" fill="#1c1cff" opacity="0.45"/>
<path d="M325.8 437.5h0.5v0.5h-0.5zM326.1 443.5h0.5v0.5h-0.5zM323.3 440.2h0.5v0.5h-0.5zM328.2 437.7h0.5v0.5h-0.5zM326.7 437.7h0.5v0.5h-0.5zM329.6 447.8h0.5v0.5h-0.5zM332.3 440.2h0.5v0.5h-0.5zM328.4 441.3h0.5v0.5h-0.5zM326.5 445.5h0.5v0.5h-0.5zM322.2 444.1h0.5v0.5h-0.5zM326.1 445.1h0.5v0.5h-0.5zM326.8 438.9h0.5v0.5h-0.5zM327.0 443.1h0.5v0.5h-0.5zM326.3 442.4h0.5v0.5h-0.5zM324.6 434.5h0.5v0.5h-0.5zM328.9 443.0h0.5v0.5h-0.5zM326.6 441.1h0.5v0.5h-0.5zM329.3 439.5h0.5v0.5h-0.5zM324.1 440.3h0.5v0.5h-0.5zM329.8 436.7h0.5v0.5h-0.5z" fill="#1c1cff" opacity="0.45"/>
<ellipse cx="312.20" cy="441.90" rx="6.40" ry="6.00" fill="#1c1cff" opacity="1" filter="url(#sb)"/>
<ellipse cx="312.20" cy="441.90" rx="7.20" ry="6.80" fill="url(#jet)" opacity="1"/>
</g>
<rect x="303.20" y="393.40" width="55.10" height="55.80" fill="none" stroke="#b4b4b4" stroke-width="0.8"/>
<line x1="322.40" y1="393.40" x2="322.40" y2="449.20" stroke="#b0b0b0" stroke-width="1.5"/>
<line x1="303.20" y1="431.40" x2="358.30" y2="431.40" stroke="#5a5a5a" stroke-width="0.9"/>
<line x1="301.70" y1="399.30" x2="303.20" y2="399.30" stroke="#555" stroke-width="0.5"/>
<line x1="301.70" y1="413.90" x2="303.20" y2="413.90" stroke="#555" stroke-width="0.5"/>
<line x1="301.70" y1="428.70" x2="303.20" y2="428.70" stroke="#555" stroke-width="0.5"/>
<line x1="301.70" y1="441.90" x2="303.20" y2="441.90" stroke="#555" stroke-width="0.5"/>
<line x1="308.70" y1="449.20" x2="308.70" y2="450.70" stroke="#555" stroke-width="0.5"/>
<line x1="321.70" y1="449.20" x2="321.70" y2="450.70" stroke="#555" stroke-width="0.5"/>
<line x1="336.70" y1="449.20" x2="336.70" y2="450.70" stroke="#555" stroke-width="0.5"/>
<line x1="351.70" y1="449.20" x2="351.70" y2="450.70" stroke="#555" stroke-width="0.5"/>
<text x="394.00" y="385.1" font-size="8.4" text-anchor="middle" fill="#1a1a1a">PA<tspan font-size="5.6" dy="0.8">130-138</tspan></text>
<clipPath id="cd1"><rect x="363.3" y="393.6" width="56.19999999999999" height="55.599999999999966"/></clipPath>
<g clip-path="url(#cd1)">
<path d="M377.8 438.7h0.6v0.6h-0.6zM368.2 446.7h0.6v0.6h-0.6zM372.4 435.9h0.6v0.6h-0.6zM371.3 445.3h0.6v0.6h-0.6zM377.8 439.6h0.6v0.6h-0.6zM374.5 444.4h0.6v0.6h-0.6zM370.1 442.9h0.6v0.6h-0.6zM372.7 439.1h0.6v0.6h-0.6zM370.7 441.7h0.6v0.6h-0.6zM372.9 439.0h0.6v0.6h-0.6zM371.0 446.1h0.6v0.6h-0.6zM373.7 445.1h0.6v0.6h-0.6zM377.8 443.9h0.6v0.6h-0.6zM382.3 437.9h0.6v0.6h-0.6zM376.2 440.1h0.6v0.6h-0.6zM364.6 437.3h0.6v0.6h-0.6zM375.6 444.7h0.6v0.6h-0.6zM375.9 441.1h0.6v0.6h-0.6zM374.7 444.1h0.6v0.6h-0.6zM372.5 445.7h0.6v0.6h-0.6zM368.5 445.4h0.6v0.6h-0.6zM371.8 437.7h0.6v0.6h-0.6zM374.4 437.6h0.6v0.6h-0.6zM369.0 434.8h0.6v0.6h-0.6zM372.7 443.5h0.6v0.6h-0.6zM377.1 440.8h0.6v0.6h-0.6zM377.2 441.5h0.6v0.6h-0.6zM372.4 443.8h0.6v0.6h-0.6zM377.2 440.0h0.6v0.6h-0.6zM371.8 440.7h0.6v0.6h-0.6zM373.1 437.6h0.6v0.6h-0.6zM377.1 439.7h0.6v0.6h-0.6zM374.7 437.9h0.6v0.6h-0.6zM374.3 443.0h0.6v0.6h-0.6zM376.8 438.6h0.6v0.6h-0.6zM371.2 443.2h0.6v0.6h-0.6zM373.1 441.6h0.6v0.6h-0.6zM371.6 433.8h0.6v0.6h-0.6zM371.9 432.1h0.6v0.6h-0.6zM374.4 438.4h0.6v0.6h-0.6zM369.8 440.5h0.6v0.6h-0.6zM373.9 435.4h0.6v0.6h-0.6zM365.5 436.9h0.6v0.6h-0.6zM364.2 437.3h0.6v0.6h-0.6zM379.5 437.0h0.6v0.6h-0.6zM375.5 435.6h0.6v0.6h-0.6zM374.1 440.1h0.6v0.6h-0.6zM372.5 443.8h0.6v0.6h-0.6zM380.2 442.2h0.6v0.6h-0.6zM373.3 437.3h0.6v0.6h-0.6zM375.3 440.4h0.6v0.6h-0.6zM376.3 441.2h0.6v0.6h-0.6zM380.1 433.1h0.6v0.6h-0.6zM371.6 445.1h0.6v0.6h-0.6zM371.3 438.1h0.6v0.6h-0.6zM371.7 435.6h0.6v0.6h-0.6zM377.6 436.7h0.6v0.6h-0.6zM369.1 439.7h0.6v0.6h-0.6zM377.0 437.9h0.6v0.6h-0.6zM369.9 445.1h0.6v0.6h-0.6zM376.4 439.8h0.6v0.6h-0.6zM368.1 434.9h0.6v0.6h-0.6zM369.9 432.0h0.6v0.6h-0.6zM375.9 438.8h0.6v0.6h-0.6zM377.7 436.6h0.6v0.6h-0.6zM376.5 446.3h0.6v0.6h-0.6zM369.7 437.4h0.6v0.6h-0.6zM372.3 434.7h0.6v0.6h-0.6zM379.0 431.3h0.6v0.6h-0.6zM368.2 440.3h0.6v0.6h-0.6zM371.8 442.1h0.6v0.6h-0.6zM373.9 440.5h0.6v0.6h-0.6zM377.6 432.4h0.6v0.6h-0.6zM372.8 438.4h0.6v0.6h-0.6zM373.4 442.3h0.6v0.6h-0.6zM369.0 438.7h0.6v0.6h-0.6zM376.1 442.9h0.6v0.6h-0.6zM382.5 435.3h0.6v0.6h-0.6zM376.1 442.3h0.6v0.6h-0.6zM371.9 439.1h0.6v0.6h-0.6zM371.9 439.1h0.6v0.6h-0.6zM375.9 439.7h0.6v0.6h-0.6zM370.9 436.4h0.6v0.6h-0.6zM372.6 437.6h0.6v0.6h-0.6zM372.0 445.8h0.6v0.6h-0.6zM374.3 443.5h0.6v0.6h-0.6zM374.3 441.6h0.6v0.6h-0.6zM372.3 440.1h0.6v0.6h-0.6zM376.0 436.8h0.6v0.6h-0.6zM378.4 441.5h0.6v0.6h-0.6zM369.7 439.3h0.6v0.6h-0.6zM370.0 442.1h0.6v0.6h-0.6zM369.8 446.2h0.6v0.6h-0.6zM369.5 431.9h0.6v0.6h-0.6zM369.7 433.0h0.6v0.6h-0.6zM372.6 445.8h0.6v0.6h-0.6zM375.5 435.8h0.6v0.6h-0.6zM374.1 441.4h0.6v0.6h-0.6zM378.2 442.0h0.6v0.6h-0.6zM374.3 444.0h0.6v0.6h-0.6zM370.2 437.0h0.6v0.6h-0.6zM373.0 437.4h0.6v0.6h-0.6zM372.5 441.8h0.6v0.6h-0.6zM382.6 437.8h0.6v0.6h-0.6zM372.3 440.7h0.6v0.6h-0.6zM374.6 445.8h0.6v0.6h-0.6zM370.7 438.0h0.6v0.6h-0.6zM365.9 437.5h0.6v0.6h-0.6zM375.1 441.6h0.6v0.6h-0.6zM368.5 439.8h0.6v0.6h-0.6zM372.9 443.5h0.6v0.6h-0.6zM370.3 440.3h0.6v0.6h-0.6zM365.2 436.6h0.6v0.6h-0.6zM379.6 432.2h0.6v0.6h-0.6zM371.4 442.3h0.6v0.6h-0.6zM371.2 438.0h0.6v0.6h-0.6zM372.5 441.4h0.6v0.6h-0.6zM372.5 433.5h0.6v0.6h-0.6zM372.2 437.8h0.6v0.6h-0.6zM370.5 442.4h0.6v0.6h-0.6zM375.5 445.2h0.6v0.6h-0.6zM370.7 445.3h0.6v0.6h-0.6zM377.7 446.2h0.6v0.6h-0.6zM378.6 440.8h0.6v0.6h-0.6zM372.1 444.9h0.6v0.6h-0.6zM367.1 442.3h0.6v0.6h-0.6zM370.6 439.9h0.6v0.6h-0.6zM365.5 437.7h0.6v0.6h-0.6zM372.7 445.1h0.6v0.6h-0.6zM377.0 441.1h0.6v0.6h-0.6zM372.0 437.9h0.6v0.6h-0.6zM374.5 440.4h0.6v0.6h-0.6zM372.7 435.1h0.6v0.6h-0.6zM369.2 435.3h0.6v0.6h-0.6zM367.8 446.9h0.6v0.6h-0.6zM373.8 435.0h0.6v0.6h-0.6zM375.5 446.7h0.6v0.6h-0.6zM371.3 438.6h0.6v0.6h-0.6zM371.4 442.6h0.6v0.6h-0.6zM375.5 446.4h0.6v0.6h-0.6zM377.9 446.4h0.6v0.6h-0.6zM378.5 444.2h0.6v0.6h-0.6zM366.4 440.8h0.6v0.6h-0.6zM374.1 439.8h0.6v0.6h-0.6zM376.6 439.9h0.6v0.6h-0.6zM368.9 447.5h0.6v0.6h-0.6zM375.6 442.3h0.6v0.6h-0.6zM376.7 445.9h0.6v0.6h-0.6zM374.2 431.1h0.6v0.6h-0.6zM370.0 439.5h0.6v0.6h-0.6zM368.7 442.2h0.6v0.6h-0.6zM377.8 439.4h0.6v0.6h-0.6zM370.9 436.2h0.6v0.6h-0.6zM373.8 443.2h0.6v0.6h-0.6zM369.8 444.7h0.6v0.6h-0.6zM370.8 437.5h0.6v0.6h-0.6zM373.6 444.6h0.6v0.6h-0.6zM370.1 442.8h0.6v0.6h-0.6zM369.8 447.2h0.6v0.6h-0.6zM372.6 440.9h0.6v0.6h-0.6zM375.8 445.2h0.6v0.6h-0.6zM378.1 442.8h0.6v0.6h-0.6zM370.3 439.1h0.6v0.6h-0.6zM374.9 443.8h0.6v0.6h-0.6zM378.7 443.2h0.6v0.6h-0.6zM377.3 447.8h0.6v0.6h-0.6zM373.5 435.2h0.6v0.6h-0.6zM367.8 435.4h0.6v0.6h-0.6zM379.5 437.8h0.6v0.6h-0.6zM378.0 443.9h0.6v0.6h-0.6zM380.0 445.6h0.6v0.6h-0.6zM372.4 440.6h0.6v0.6h-0.6zM373.2 442.1h0.6v0.6h-0.6zM370.6 441.3h0.6v0.6h-0.6zM379.6 434.3h0.6v0.6h-0.6zM373.9 437.6h0.6v0.6h-0.6zM373.6 444.9h0.6v0.6h-0.6zM372.6 444.6h0.6v0.6h-0.6zM366.1 446.0h0.6v0.6h-0.6zM370.3 444.0h0.6v0.6h-0.6zM373.6 430.5h0.6v0.6h-0.6zM369.6 442.3h0.6v0.6h-0.6zM379.3 442.6h0.6v0.6h-0.6zM373.9 435.5h0.6v0.6h-0.6zM372.9 440.5h0.6v0.6h-0.6zM366.0 445.1h0.6v0.6h-0.6zM384.1 444.4h0.6v0.6h-0.6zM378.1 443.7h0.6v0.6h-0.6zM368.7 447.0h0.6v0.6h-0.6zM367.6 440.5h0.6v0.6h-0.6zM374.0 445.1h0.6v0.6h-0.6zM374.5 443.0h0.6v0.6h-0.6zM369.6 436.0h0.6v0.6h-0.6zM373.1 438.4h0.6v0.6h-0.6zM367.3 436.1h0.6v0.6h-0.6zM370.7 433.6h0.6v0.6h-0.6zM367.1 434.5h0.6v0.6h-0.6zM373.6 443.1h0.6v0.6h-0.6zM381.2 435.1h0.6v0.6h-0.6zM369.9 445.2h0.6v0.6h-0.6zM371.9 440.0h0.6v0.6h-0.6zM380.0 440.0h0.6v0.6h-0.6zM367.9 435.9h0.6v0.6h-0.6zM374.2 442.7h0.6v0.6h-0.6zM367.0 437.3h0.6v0.6h-0.6zM375.0 443.8h0.6v0.6h-0.6zM370.1 444.0h0.6v0.6h-0.6zM375.2 433.9h0.6v0.6h-0.6zM371.5 443.1h0.6v0.6h-0.6zM370.4 432.4h0.6v0.6h-0.6zM371.6 444.6h0.6v0.6h-0.6zM379.4 432.2h0.6v0.6h-0.6zM383.8 436.7h0.6v0.6h-0.6zM376.8 446.6h0.6v0.6h-0.6zM376.9 442.0h0.6v0.6h-0.6zM367.9 444.0h0.6v0.6h-0.6zM369.8 430.8h0.6v0.6h-0.6zM384.7 444.4h0.6v0.6h-0.6zM380.4 437.6h0.6v0.6h-0.6zM379.0 448.1h0.6v0.6h-0.6zM379.3 441.3h0.6v0.6h-0.6zM367.7 440.7h0.6v0.6h-0.6zM373.2 437.2h0.6v0.6h-0.6zM372.1 440.9h0.6v0.6h-0.6zM380.9 446.9h0.6v0.6h-0.6zM372.6 446.5h0.6v0.6h-0.6zM369.5 440.0h0.6v0.6h-0.6zM376.6 436.2h0.6v0.6h-0.6zM371.6 435.9h0.6v0.6h-0.6zM373.3 448.3h0.6v0.6h-0.6zM369.6 442.3h0.6v0.6h-0.6zM369.0 436.6h0.6v0.6h-0.6zM367.6 447.5h0.6v0.6h-0.6zM382.7 443.4h0.6v0.6h-0.6zM369.8 444.4h0.6v0.6h-0.6zM371.4 444.8h0.6v0.6h-0.6zM374.0 442.6h0.6v0.6h-0.6zM375.4 439.0h0.6v0.6h-0.6zM371.1 434.2h0.6v0.6h-0.6zM370.9 435.4h0.6v0.6h-0.6zM372.2 437.4h0.6v0.6h-0.6zM373.2 443.3h0.6v0.6h-0.6zM366.8 438.0h0.6v0.6h-0.6zM368.8 444.5h0.6v0.6h-0.6zM380.0 445.0h0.6v0.6h-0.6zM371.3 447.6h0.6v0.6h-0.6zM366.4 447.7h0.6v0.6h-0.6zM370.0 429.7h0.6v0.6h-0.6zM383.9 448.0h0.6v0.6h-0.6zM368.5 442.1h0.6v0.6h-0.6zM371.9 441.8h0.6v0.6h-0.6zM366.6 438.5h0.6v0.6h-0.6zM374.8 442.3h0.6v0.6h-0.6zM377.8 441.7h0.6v0.6h-0.6zM382.7 438.4h0.6v0.6h-0.6zM373.9 433.4h0.6v0.6h-0.6zM367.5 447.0h0.6v0.6h-0.6zM368.8 443.6h0.6v0.6h-0.6zM372.5 437.0h0.6v0.6h-0.6zM371.3 439.2h0.6v0.6h-0.6zM370.8 444.6h0.6v0.6h-0.6zM375.5 439.0h0.6v0.6h-0.6zM369.0 442.6h0.6v0.6h-0.6zM372.4 445.7h0.6v0.6h-0.6zM384.0 444.9h0.6v0.6h-0.6zM372.7 440.7h0.6v0.6h-0.6zM369.2 437.6h0.6v0.6h-0.6zM368.6 439.7h0.6v0.6h-0.6zM371.0 444.5h0.6v0.6h-0.6zM371.1 440.6h0.6v0.6h-0.6zM367.7 448.3h0.6v0.6h-0.6zM376.1 447.7h0.6v0.6h-0.6zM371.8 444.4h0.6v0.6h-0.6zM384.2 436.3h0.6v0.6h-0.6zM374.6 444.6h0.6v0.6h-0.6zM378.2 438.6h0.6v0.6h-0.6zM374.6 437.7h0.6v0.6h-0.6zM369.9 438.7h0.6v0.6h-0.6zM372.2 442.0h0.6v0.6h-0.6zM374.7 435.3h0.6v0.6h-0.6zM381.3 446.4h0.6v0.6h-0.6zM375.9 439.9h0.6v0.6h-0.6zM372.4 443.8h0.6v0.6h-0.6zM374.6 434.2h0.6v0.6h-0.6zM364.8 445.7h0.6v0.6h-0.6zM374.4 440.9h0.6v0.6h-0.6zM378.7 436.3h0.6v0.6h-0.6zM373.5 447.7h0.6v0.6h-0.6zM372.0 439.6h0.6v0.6h-0.6zM373.3 439.5h0.6v0.6h-0.6zM379.5 437.5h0.6v0.6h-0.6zM376.6 436.0h0.6v0.6h-0.6zM375.7 440.9h0.6v0.6h-0.6zM368.2 439.5h0.6v0.6h-0.6zM379.4 436.6h0.6v0.6h-0.6zM368.2 447.6h0.6v0.6h-0.6zM373.3 448.1h0.6v0.6h-0.6zM374.2 437.6h0.6v0.6h-0.6zM372.5 446.7h0.6v0.6h-0.6zM376.9 441.4h0.6v0.6h-0.6zM373.0 440.9h0.6v0.6h-0.6zM372.8 436.5h0.6v0.6h-0.6zM370.7 444.5h0.6v0.6h-0.6zM375.6 440.8h0.6v0.6h-0.6zM369.9 441.5h0.6v0.6h-0.6zM365.6 435.8h0.6v0.6h-0.6zM376.2 439.3h0.6v0.6h-0.6zM374.4 446.7h0.6v0.6h-0.6zM375.6 441.5h0.6v0.6h-0.6zM382.0 444.3h0.6v0.6h-0.6zM371.3 444.6h0.6v0.6h-0.6zM374.6 437.7h0.6v0.6h-0.6zM373.1 440.7h0.6v0.6h-0.6zM364.3 440.7h0.6v0.6h-0.6zM371.6 439.5h0.6v0.6h-0.6zM365.7 439.9h0.6v0.6h-0.6zM372.6 441.8h0.6v0.6h-0.6zM367.9 444.1h0.6v0.6h-0.6zM367.6 440.4h0.6v0.6h-0.6zM378.4 438.4h0.6v0.6h-0.6zM370.6 446.0h0.6v0.6h-0.6zM371.1 440.1h0.6v0.6h-0.6zM373.8 445.9h0.6v0.6h-0.6zM368.5 436.7h0.6v0.6h-0.6zM369.1 437.8h0.6v0.6h-0.6zM374.1 437.6h0.6v0.6h-0.6zM373.3 443.1h0.6v0.6h-0.6zM369.7 442.0h0.6v0.6h-0.6zM379.8 442.8h0.6v0.6h-0.6z" fill="#1c1cff" opacity="0.75"/>
<path d="M374.0 428.6h0.5v0.5h-0.5zM372.6 430.1h0.5v0.5h-0.5zM381.7 425.1h0.5v0.5h-0.5zM376.2 434.0h0.5v0.5h-0.5zM374.8 429.8h0.5v0.5h-0.5zM372.1 425.1h0.5v0.5h-0.5zM374.7 438.7h0.5v0.5h-0.5zM375.3 426.5h0.5v0.5h-0.5zM374.5 428.2h0.5v0.5h-0.5zM380.6 429.8h0.5v0.5h-0.5zM387.6 429.9h0.5v0.5h-0.5zM384.5 430.1h0.5v0.5h-0.5zM380.3 422.4h0.5v0.5h-0.5zM376.7 428.6h0.5v0.5h-0.5zM376.1 419.2h0.5v0.5h-0.5zM381.7 427.2h0.5v0.5h-0.5zM375.1 427.8h0.5v0.5h-0.5zM376.2 430.7h0.5v0.5h-0.5zM370.9 424.7h0.5v0.5h-0.5zM378.8 429.6h0.5v0.5h-0.5zM375.4 426.3h0.5v0.5h-0.5zM373.1 428.6h0.5v0.5h-0.5zM383.2 424.1h0.5v0.5h-0.5zM384.9 432.7h0.5v0.5h-0.5zM375.0 432.4h0.5v0.5h-0.5zM370.0 421.1h0.5v0.5h-0.5zM370.9 427.1h0.5v0.5h-0.5zM375.7 426.6h0.5v0.5h-0.5zM377.8 419.3h0.5v0.5h-0.5zM379.8 422.5h0.5v0.5h-0.5zM374.0 427.0h0.5v0.5h-0.5zM371.5 422.7h0.5v0.5h-0.5zM372.3 428.8h0.5v0.5h-0.5zM380.2 431.4h0.5v0.5h-0.5zM372.3 425.3h0.5v0.5h-0.5zM372.7 430.9h0.5v0.5h-0.5zM367.1 434.5h0.5v0.5h-0.5zM374.9 425.4h0.5v0.5h-0.5zM379.0 433.5h0.5v0.5h-0.5zM379.0 433.6h0.5v0.5h-0.5zM378.0 434.4h0.5v0.5h-0.5zM383.5 428.5h0.5v0.5h-0.5zM384.5 429.6h0.5v0.5h-0.5zM377.7 424.8h0.5v0.5h-0.5zM375.9 432.4h0.5v0.5h-0.5zM370.7 431.8h0.5v0.5h-0.5zM379.0 430.1h0.5v0.5h-0.5zM366.3 428.4h0.5v0.5h-0.5zM380.5 425.5h0.5v0.5h-0.5zM377.8 418.2h0.5v0.5h-0.5zM380.7 425.9h0.5v0.5h-0.5zM381.7 420.6h0.5v0.5h-0.5zM380.8 427.8h0.5v0.5h-0.5zM381.3 424.7h0.5v0.5h-0.5zM374.2 439.0h0.5v0.5h-0.5zM373.2 425.7h0.5v0.5h-0.5zM375.9 424.3h0.5v0.5h-0.5zM383.3 436.7h0.5v0.5h-0.5zM373.8 421.1h0.5v0.5h-0.5zM383.2 433.9h0.5v0.5h-0.5zM381.4 434.1h0.5v0.5h-0.5zM373.0 428.1h0.5v0.5h-0.5zM370.4 422.5h0.5v0.5h-0.5zM382.2 425.9h0.5v0.5h-0.5zM388.7 429.2h0.5v0.5h-0.5zM374.1 432.5h0.5v0.5h-0.5zM386.3 431.1h0.5v0.5h-0.5zM371.2 430.6h0.5v0.5h-0.5zM384.2 426.7h0.5v0.5h-0.5zM373.4 433.5h0.5v0.5h-0.5zM378.0 423.9h0.5v0.5h-0.5zM375.4 425.5h0.5v0.5h-0.5zM378.8 429.4h0.5v0.5h-0.5zM383.1 432.1h0.5v0.5h-0.5zM369.5 430.7h0.5v0.5h-0.5zM381.8 431.0h0.5v0.5h-0.5zM382.5 426.4h0.5v0.5h-0.5zM372.5 433.1h0.5v0.5h-0.5zM372.0 419.2h0.5v0.5h-0.5zM382.4 425.6h0.5v0.5h-0.5zM375.8 422.6h0.5v0.5h-0.5zM370.7 423.7h0.5v0.5h-0.5zM375.5 430.6h0.5v0.5h-0.5zM365.8 432.3h0.5v0.5h-0.5zM371.4 424.1h0.5v0.5h-0.5zM380.7 428.6h0.5v0.5h-0.5zM369.6 437.2h0.5v0.5h-0.5zM373.0 430.0h0.5v0.5h-0.5zM378.3 435.3h0.5v0.5h-0.5zM375.0 433.4h0.5v0.5h-0.5z" fill="#1c1cff" opacity="0.55"/>
<path d="M399.6 419.2h0.5v0.5h-0.5zM397.9 415.7h0.5v0.5h-0.5zM377.7 429.0h0.5v0.5h-0.5zM394.3 425.6h0.5v0.5h-0.5zM388.4 419.6h0.5v0.5h-0.5zM385.0 420.4h0.5v0.5h-0.5zM385.0 427.7h0.5v0.5h-0.5zM396.0 415.9h0.5v0.5h-0.5zM390.9 420.7h0.5v0.5h-0.5zM400.8 416.9h0.5v0.5h-0.5zM407.9 409.8h0.5v0.5h-0.5zM395.1 417.5h0.5v0.5h-0.5zM388.3 418.4h0.5v0.5h-0.5zM387.4 422.1h0.5v0.5h-0.5zM395.7 413.9h0.5v0.5h-0.5zM402.1 415.5h0.5v0.5h-0.5zM400.0 415.8h0.5v0.5h-0.5zM385.3 427.0h0.5v0.5h-0.5zM379.6 426.1h0.5v0.5h-0.5zM402.2 417.4h0.5v0.5h-0.5zM391.3 423.9h0.5v0.5h-0.5zM393.8 422.7h0.5v0.5h-0.5zM386.5 425.3h0.5v0.5h-0.5zM388.8 423.1h0.5v0.5h-0.5zM390.8 421.5h0.5v0.5h-0.5zM383.8 423.1h0.5v0.5h-0.5zM378.5 427.4h0.5v0.5h-0.5zM384.4 424.1h0.5v0.5h-0.5zM396.9 423.5h0.5v0.5h-0.5zM393.1 415.6h0.5v0.5h-0.5zM397.5 416.0h0.5v0.5h-0.5zM375.6 429.9h0.5v0.5h-0.5zM383.6 421.7h0.5v0.5h-0.5zM390.4 423.0h0.5v0.5h-0.5zM377.2 426.3h0.5v0.5h-0.5zM387.9 423.3h0.5v0.5h-0.5zM400.3 415.3h0.5v0.5h-0.5zM391.4 413.4h0.5v0.5h-0.5zM388.3 423.8h0.5v0.5h-0.5zM394.0 414.9h0.5v0.5h-0.5zM381.0 427.1h0.5v0.5h-0.5zM386.1 427.7h0.5v0.5h-0.5zM397.5 419.5h0.5v0.5h-0.5zM394.1 418.7h0.5v0.5h-0.5zM393.0 419.5h0.5v0.5h-0.5zM383.7 425.1h0.5v0.5h-0.5zM393.2 418.6h0.5v0.5h-0.5zM388.4 419.3h0.5v0.5h-0.5zM396.2 417.6h0.5v0.5h-0.5zM396.6 417.1h0.5v0.5h-0.5zM399.7 421.8h0.5v0.5h-0.5zM382.4 426.8h0.5v0.5h-0.5zM395.6 424.7h0.5v0.5h-0.5zM389.6 421.1h0.5v0.5h-0.5zM390.3 422.0h0.5v0.5h-0.5zM381.1 426.1h0.5v0.5h-0.5zM374.6 427.2h0.5v0.5h-0.5zM385.5 420.7h0.5v0.5h-0.5zM377.5 427.2h0.5v0.5h-0.5zM394.0 421.8h0.5v0.5h-0.5zM380.9 422.9h0.5v0.5h-0.5zM393.2 415.1h0.5v0.5h-0.5zM391.1 420.3h0.5v0.5h-0.5zM394.2 416.8h0.5v0.5h-0.5zM394.4 416.5h0.5v0.5h-0.5zM390.1 425.7h0.5v0.5h-0.5zM407.4 411.1h0.5v0.5h-0.5zM396.2 419.2h0.5v0.5h-0.5zM399.6 415.3h0.5v0.5h-0.5zM401.4 416.9h0.5v0.5h-0.5z" fill="#1c1cff" opacity="0.55"/>
<path d="M384.6 440.4h0.5v0.5h-0.5zM385.4 440.2h0.5v0.5h-0.5zM379.6 442.7h0.5v0.5h-0.5zM385.2 440.4h0.5v0.5h-0.5zM387.3 444.6h0.5v0.5h-0.5zM381.0 438.6h0.5v0.5h-0.5zM388.9 445.2h0.5v0.5h-0.5zM382.1 437.4h0.5v0.5h-0.5zM382.4 439.4h0.5v0.5h-0.5zM379.5 441.0h0.5v0.5h-0.5zM380.5 437.3h0.5v0.5h-0.5zM387.0 438.9h0.5v0.5h-0.5zM384.1 442.8h0.5v0.5h-0.5zM386.7 439.9h0.5v0.5h-0.5zM384.4 438.4h0.5v0.5h-0.5zM389.5 442.8h0.5v0.5h-0.5zM381.0 440.9h0.5v0.5h-0.5zM386.4 442.3h0.5v0.5h-0.5zM389.8 445.0h0.5v0.5h-0.5zM382.7 440.6h0.5v0.5h-0.5zM380.5 441.6h0.5v0.5h-0.5zM384.6 434.6h0.5v0.5h-0.5zM382.3 441.2h0.5v0.5h-0.5zM380.5 438.3h0.5v0.5h-0.5z" fill="#1c1cff" opacity="0.5"/>
<ellipse cx="372.30" cy="441.90" rx="6.40" ry="6.00" fill="#1c1cff" opacity="1" filter="url(#sb)"/>
<ellipse cx="372.30" cy="441.90" rx="7.20" ry="6.80" fill="url(#jet)" opacity="1"/>
</g>
<rect x="363.30" y="393.60" width="56.20" height="55.60" fill="none" stroke="#b4b4b4" stroke-width="0.8"/>
<line x1="382.50" y1="393.60" x2="382.50" y2="449.20" stroke="#6a6a6a" stroke-width="0.9"/>
<line x1="363.30" y1="431.40" x2="419.50" y2="431.40" stroke="#5a5a5a" stroke-width="0.9"/>
<line x1="361.80" y1="399.30" x2="363.30" y2="399.30" stroke="#555" stroke-width="0.5"/>
<line x1="361.80" y1="413.90" x2="363.30" y2="413.90" stroke="#555" stroke-width="0.5"/>
<line x1="361.80" y1="428.70" x2="363.30" y2="428.70" stroke="#555" stroke-width="0.5"/>
<line x1="361.80" y1="441.90" x2="363.30" y2="441.90" stroke="#555" stroke-width="0.5"/>
<line x1="368.80" y1="449.20" x2="368.80" y2="450.70" stroke="#555" stroke-width="0.5"/>
<line x1="381.80" y1="449.20" x2="381.80" y2="450.70" stroke="#555" stroke-width="0.5"/>
<line x1="396.80" y1="449.20" x2="396.80" y2="450.70" stroke="#555" stroke-width="0.5"/>
<line x1="411.80" y1="449.20" x2="411.80" y2="450.70" stroke="#555" stroke-width="0.5"/>
<text x="456.60" y="385.1" font-size="8.4" text-anchor="middle" fill="#1a1a1a">PB1<tspan font-size="5.6" dy="0.8">498-505</tspan></text>
<clipPath id="cd2"><rect x="426.5" y="393.6" width="55.0" height="55.599999999999966"/></clipPath>
<g clip-path="url(#cd2)">
<path d="M434.5 442.8h0.6v0.6h-0.6zM435.3 437.7h0.6v0.6h-0.6zM439.3 439.1h0.6v0.6h-0.6zM433.9 435.6h0.6v0.6h-0.6zM432.7 444.1h0.6v0.6h-0.6zM429.2 441.1h0.6v0.6h-0.6zM439.0 439.8h0.6v0.6h-0.6zM437.0 436.7h0.6v0.6h-0.6zM441.5 446.0h0.6v0.6h-0.6zM437.0 434.0h0.6v0.6h-0.6zM431.6 445.5h0.6v0.6h-0.6zM443.2 442.6h0.6v0.6h-0.6zM441.2 438.8h0.6v0.6h-0.6zM435.2 441.4h0.6v0.6h-0.6zM437.8 435.0h0.6v0.6h-0.6zM440.0 447.0h0.6v0.6h-0.6zM431.2 435.7h0.6v0.6h-0.6zM437.5 438.7h0.6v0.6h-0.6zM436.7 439.4h0.6v0.6h-0.6zM444.9 442.0h0.6v0.6h-0.6zM432.8 441.8h0.6v0.6h-0.6zM431.6 438.2h0.6v0.6h-0.6zM437.6 439.1h0.6v0.6h-0.6zM439.6 444.8h0.6v0.6h-0.6zM438.2 443.4h0.6v0.6h-0.6zM442.1 441.3h0.6v0.6h-0.6zM443.8 437.4h0.6v0.6h-0.6zM434.9 435.6h0.6v0.6h-0.6zM434.6 443.6h0.6v0.6h-0.6zM442.1 438.6h0.6v0.6h-0.6zM436.0 439.9h0.6v0.6h-0.6zM432.9 436.4h0.6v0.6h-0.6zM436.3 434.1h0.6v0.6h-0.6zM436.5 441.5h0.6v0.6h-0.6zM433.2 437.2h0.6v0.6h-0.6zM430.4 447.9h0.6v0.6h-0.6zM438.5 439.9h0.6v0.6h-0.6zM431.1 445.8h0.6v0.6h-0.6zM443.3 437.5h0.6v0.6h-0.6zM434.7 445.8h0.6v0.6h-0.6zM433.6 443.7h0.6v0.6h-0.6zM432.9 432.1h0.6v0.6h-0.6zM435.5 440.8h0.6v0.6h-0.6zM444.0 440.0h0.6v0.6h-0.6zM435.9 443.9h0.6v0.6h-0.6zM442.7 441.1h0.6v0.6h-0.6zM440.4 443.6h0.6v0.6h-0.6zM434.8 441.7h0.6v0.6h-0.6zM436.1 437.6h0.6v0.6h-0.6zM441.1 435.6h0.6v0.6h-0.6zM440.9 445.4h0.6v0.6h-0.6zM435.6 438.2h0.6v0.6h-0.6zM435.0 443.4h0.6v0.6h-0.6zM439.1 442.6h0.6v0.6h-0.6zM440.2 439.1h0.6v0.6h-0.6zM437.0 434.8h0.6v0.6h-0.6zM439.2 442.0h0.6v0.6h-0.6zM434.3 446.3h0.6v0.6h-0.6zM438.9 429.6h0.6v0.6h-0.6zM436.2 435.3h0.6v0.6h-0.6zM433.8 441.7h0.6v0.6h-0.6zM434.9 442.9h0.6v0.6h-0.6zM438.7 446.8h0.6v0.6h-0.6zM431.9 448.0h0.6v0.6h-0.6zM432.1 442.6h0.6v0.6h-0.6zM440.9 444.4h0.6v0.6h-0.6zM432.1 438.5h0.6v0.6h-0.6zM434.1 441.2h0.6v0.6h-0.6zM440.8 436.0h0.6v0.6h-0.6zM438.0 444.0h0.6v0.6h-0.6zM438.3 443.4h0.6v0.6h-0.6zM442.4 443.4h0.6v0.6h-0.6zM439.6 443.8h0.6v0.6h-0.6zM443.5 433.4h0.6v0.6h-0.6zM441.4 440.3h0.6v0.6h-0.6zM434.8 437.3h0.6v0.6h-0.6zM428.2 439.8h0.6v0.6h-0.6zM433.1 443.5h0.6v0.6h-0.6zM429.8 447.4h0.6v0.6h-0.6zM437.1 440.4h0.6v0.6h-0.6zM433.0 438.1h0.6v0.6h-0.6zM431.3 439.1h0.6v0.6h-0.6zM436.0 440.7h0.6v0.6h-0.6zM430.1 440.3h0.6v0.6h-0.6zM432.2 442.1h0.6v0.6h-0.6zM443.8 444.0h0.6v0.6h-0.6zM434.7 434.6h0.6v0.6h-0.6zM430.1 434.3h0.6v0.6h-0.6zM439.0 438.2h0.6v0.6h-0.6zM436.3 438.8h0.6v0.6h-0.6zM436.4 447.3h0.6v0.6h-0.6zM433.1 440.0h0.6v0.6h-0.6zM432.6 445.1h0.6v0.6h-0.6zM431.7 436.6h0.6v0.6h-0.6zM430.2 435.5h0.6v0.6h-0.6zM431.8 445.4h0.6v0.6h-0.6zM437.1 436.8h0.6v0.6h-0.6zM434.8 440.4h0.6v0.6h-0.6zM428.0 443.0h0.6v0.6h-0.6zM437.4 439.0h0.6v0.6h-0.6zM436.6 445.1h0.6v0.6h-0.6zM436.6 443.2h0.6v0.6h-0.6zM438.9 432.9h0.6v0.6h-0.6zM440.1 445.7h0.6v0.6h-0.6zM430.1 440.9h0.6v0.6h-0.6zM432.6 438.9h0.6v0.6h-0.6zM440.1 438.0h0.6v0.6h-0.6zM435.5 433.4h0.6v0.6h-0.6zM435.3 441.8h0.6v0.6h-0.6zM433.0 438.4h0.6v0.6h-0.6zM443.9 436.3h0.6v0.6h-0.6zM431.6 438.0h0.6v0.6h-0.6zM437.4 438.4h0.6v0.6h-0.6zM434.2 445.9h0.6v0.6h-0.6zM432.2 447.5h0.6v0.6h-0.6zM441.9 441.7h0.6v0.6h-0.6zM438.7 444.5h0.6v0.6h-0.6zM442.5 437.0h0.6v0.6h-0.6zM441.0 439.8h0.6v0.6h-0.6zM432.8 441.8h0.6v0.6h-0.6zM435.1 437.3h0.6v0.6h-0.6zM429.3 437.4h0.6v0.6h-0.6zM438.7 446.4h0.6v0.6h-0.6zM433.8 441.1h0.6v0.6h-0.6zM437.2 436.9h0.6v0.6h-0.6zM431.8 441.8h0.6v0.6h-0.6zM434.7 436.9h0.6v0.6h-0.6zM437.6 440.3h0.6v0.6h-0.6zM440.3 441.4h0.6v0.6h-0.6zM434.7 441.9h0.6v0.6h-0.6zM435.3 438.6h0.6v0.6h-0.6zM434.3 444.5h0.6v0.6h-0.6zM438.7 446.8h0.6v0.6h-0.6zM428.9 439.7h0.6v0.6h-0.6zM434.3 442.1h0.6v0.6h-0.6zM434.1 439.2h0.6v0.6h-0.6zM439.3 442.1h0.6v0.6h-0.6zM431.1 447.0h0.6v0.6h-0.6zM440.2 439.0h0.6v0.6h-0.6zM439.5 438.3h0.6v0.6h-0.6zM440.7 440.5h0.6v0.6h-0.6zM432.6 439.8h0.6v0.6h-0.6zM432.8 442.2h0.6v0.6h-0.6zM436.7 441.6h0.6v0.6h-0.6zM433.7 426.0h0.6v0.6h-0.6zM436.4 433.4h0.6v0.6h-0.6zM437.0 446.1h0.6v0.6h-0.6zM437.2 439.8h0.6v0.6h-0.6zM435.2 440.8h0.6v0.6h-0.6zM433.7 438.9h0.6v0.6h-0.6zM432.1 446.4h0.6v0.6h-0.6zM435.9 445.4h0.6v0.6h-0.6zM434.9 441.7h0.6v0.6h-0.6zM435.3 443.3h0.6v0.6h-0.6zM439.5 442.4h0.6v0.6h-0.6zM433.2 438.1h0.6v0.6h-0.6zM443.0 440.2h0.6v0.6h-0.6zM434.8 447.6h0.6v0.6h-0.6zM440.6 443.6h0.6v0.6h-0.6zM437.7 443.7h0.6v0.6h-0.6zM435.3 435.5h0.6v0.6h-0.6zM430.4 443.1h0.6v0.6h-0.6zM437.6 440.4h0.6v0.6h-0.6zM431.1 435.3h0.6v0.6h-0.6zM434.6 435.3h0.6v0.6h-0.6zM439.8 446.2h0.6v0.6h-0.6zM447.9 445.1h0.6v0.6h-0.6zM433.5 437.7h0.6v0.6h-0.6zM435.3 445.5h0.6v0.6h-0.6zM438.6 443.9h0.6v0.6h-0.6zM436.9 444.2h0.6v0.6h-0.6zM442.1 436.9h0.6v0.6h-0.6zM434.1 435.6h0.6v0.6h-0.6zM442.8 446.8h0.6v0.6h-0.6zM439.2 436.4h0.6v0.6h-0.6zM436.7 440.4h0.6v0.6h-0.6zM436.3 440.6h0.6v0.6h-0.6zM438.2 439.7h0.6v0.6h-0.6zM439.6 442.4h0.6v0.6h-0.6zM434.8 440.9h0.6v0.6h-0.6zM434.1 444.8h0.6v0.6h-0.6zM434.9 442.6h0.6v0.6h-0.6zM434.4 435.2h0.6v0.6h-0.6zM439.8 437.0h0.6v0.6h-0.6zM438.9 443.2h0.6v0.6h-0.6zM429.0 437.4h0.6v0.6h-0.6zM433.8 438.0h0.6v0.6h-0.6zM431.0 444.5h0.6v0.6h-0.6zM435.0 443.0h0.6v0.6h-0.6zM434.2 442.7h0.6v0.6h-0.6zM432.8 441.3h0.6v0.6h-0.6zM438.4 441.6h0.6v0.6h-0.6zM434.1 436.8h0.6v0.6h-0.6zM436.7 442.8h0.6v0.6h-0.6zM434.9 438.2h0.6v0.6h-0.6zM434.7 442.8h0.6v0.6h-0.6zM437.6 430.6h0.6v0.6h-0.6zM436.5 438.4h0.6v0.6h-0.6zM441.8 440.3h0.6v0.6h-0.6zM432.7 440.5h0.6v0.6h-0.6zM436.7 439.0h0.6v0.6h-0.6zM435.8 435.7h0.6v0.6h-0.6zM435.1 444.7h0.6v0.6h-0.6zM444.3 444.4h0.6v0.6h-0.6zM437.1 446.4h0.6v0.6h-0.6zM440.3 448.4h0.6v0.6h-0.6zM440.5 440.9h0.6v0.6h-0.6zM437.1 442.2h0.6v0.6h-0.6zM437.3 442.2h0.6v0.6h-0.6zM432.7 432.6h0.6v0.6h-0.6zM433.2 432.9h0.6v0.6h-0.6zM436.3 441.4h0.6v0.6h-0.6zM429.0 444.3h0.6v0.6h-0.6zM439.6 441.8h0.6v0.6h-0.6zM430.9 445.8h0.6v0.6h-0.6zM437.9 443.2h0.6v0.6h-0.6zM439.9 438.4h0.6v0.6h-0.6zM433.5 437.9h0.6v0.6h-0.6zM432.8 441.0h0.6v0.6h-0.6zM429.9 437.0h0.6v0.6h-0.6zM438.4 441.1h0.6v0.6h-0.6zM437.6 433.5h0.6v0.6h-0.6zM432.7 439.1h0.6v0.6h-0.6zM436.1 438.9h0.6v0.6h-0.6zM439.9 441.2h0.6v0.6h-0.6zM436.1 441.5h0.6v0.6h-0.6zM439.0 439.4h0.6v0.6h-0.6zM440.7 443.3h0.6v0.6h-0.6zM436.6 441.6h0.6v0.6h-0.6zM438.2 445.7h0.6v0.6h-0.6zM440.0 443.0h0.6v0.6h-0.6zM439.7 441.9h0.6v0.6h-0.6zM441.3 441.3h0.6v0.6h-0.6zM436.5 436.5h0.6v0.6h-0.6zM435.2 437.7h0.6v0.6h-0.6zM444.8 443.5h0.6v0.6h-0.6zM429.4 443.7h0.6v0.6h-0.6zM431.6 432.0h0.6v0.6h-0.6zM436.3 439.9h0.6v0.6h-0.6zM434.3 432.4h0.6v0.6h-0.6zM428.0 446.3h0.6v0.6h-0.6zM437.8 440.6h0.6v0.6h-0.6zM440.6 443.6h0.6v0.6h-0.6zM433.5 444.4h0.6v0.6h-0.6zM433.9 433.9h0.6v0.6h-0.6zM444.5 439.9h0.6v0.6h-0.6zM433.4 442.8h0.6v0.6h-0.6zM429.4 435.7h0.6v0.6h-0.6zM433.9 439.2h0.6v0.6h-0.6zM436.3 446.1h0.6v0.6h-0.6zM434.0 443.5h0.6v0.6h-0.6zM438.5 436.8h0.6v0.6h-0.6zM437.0 437.4h0.6v0.6h-0.6zM440.5 443.3h0.6v0.6h-0.6zM436.1 435.8h0.6v0.6h-0.6zM436.5 438.2h0.6v0.6h-0.6zM439.0 440.9h0.6v0.6h-0.6zM432.6 445.3h0.6v0.6h-0.6zM439.0 438.9h0.6v0.6h-0.6zM440.9 440.1h0.6v0.6h-0.6zM434.7 441.9h0.6v0.6h-0.6zM432.8 439.5h0.6v0.6h-0.6zM435.3 447.8h0.6v0.6h-0.6zM442.3 440.3h0.6v0.6h-0.6zM442.8 441.2h0.6v0.6h-0.6zM437.6 445.1h0.6v0.6h-0.6zM437.0 436.4h0.6v0.6h-0.6zM441.5 439.7h0.6v0.6h-0.6zM434.7 428.8h0.6v0.6h-0.6zM440.2 444.8h0.6v0.6h-0.6zM439.4 445.5h0.6v0.6h-0.6zM443.1 441.2h0.6v0.6h-0.6zM439.9 438.3h0.6v0.6h-0.6zM434.5 445.8h0.6v0.6h-0.6zM437.6 435.8h0.6v0.6h-0.6zM437.5 440.6h0.6v0.6h-0.6zM432.6 443.2h0.6v0.6h-0.6zM434.3 434.8h0.6v0.6h-0.6zM429.6 442.3h0.6v0.6h-0.6zM438.6 444.1h0.6v0.6h-0.6zM430.9 440.0h0.6v0.6h-0.6zM436.6 444.8h0.6v0.6h-0.6zM433.3 436.5h0.6v0.6h-0.6zM440.2 446.0h0.6v0.6h-0.6zM437.6 438.8h0.6v0.6h-0.6zM437.7 441.9h0.6v0.6h-0.6zM439.5 436.2h0.6v0.6h-0.6zM436.5 440.7h0.6v0.6h-0.6zM431.3 442.3h0.6v0.6h-0.6zM436.1 439.7h0.6v0.6h-0.6zM437.7 435.4h0.6v0.6h-0.6zM435.8 443.2h0.6v0.6h-0.6zM437.2 445.9h0.6v0.6h-0.6zM431.0 435.1h0.6v0.6h-0.6zM437.0 443.3h0.6v0.6h-0.6zM444.9 444.0h0.6v0.6h-0.6zM432.3 444.8h0.6v0.6h-0.6zM432.4 435.2h0.6v0.6h-0.6zM447.0 442.8h0.6v0.6h-0.6zM439.0 443.8h0.6v0.6h-0.6zM443.6 442.6h0.6v0.6h-0.6zM441.1 437.1h0.6v0.6h-0.6zM430.2 447.4h0.6v0.6h-0.6zM442.2 443.5h0.6v0.6h-0.6zM436.9 442.1h0.6v0.6h-0.6zM433.1 447.9h0.6v0.6h-0.6zM438.8 443.5h0.6v0.6h-0.6zM437.6 445.8h0.6v0.6h-0.6zM438.1 444.5h0.6v0.6h-0.6zM431.1 443.5h0.6v0.6h-0.6zM445.2 439.2h0.6v0.6h-0.6zM435.5 445.1h0.6v0.6h-0.6zM440.0 444.0h0.6v0.6h-0.6zM429.2 443.5h0.6v0.6h-0.6zM431.0 437.9h0.6v0.6h-0.6zM438.3 440.2h0.6v0.6h-0.6zM439.3 444.4h0.6v0.6h-0.6zM432.2 438.7h0.6v0.6h-0.6zM431.5 439.2h0.6v0.6h-0.6zM431.4 438.6h0.6v0.6h-0.6zM435.1 437.2h0.6v0.6h-0.6zM430.0 435.7h0.6v0.6h-0.6zM437.9 441.7h0.6v0.6h-0.6zM440.3 445.8h0.6v0.6h-0.6zM434.6 444.2h0.6v0.6h-0.6zM441.0 440.5h0.6v0.6h-0.6zM431.1 443.0h0.6v0.6h-0.6z" fill="#1c1cff" opacity="0.75"/>
<path d="M431.1 424.0h0.5v0.5h-0.5zM444.2 428.3h0.5v0.5h-0.5zM438.0 432.7h0.5v0.5h-0.5zM435.3 429.3h0.5v0.5h-0.5zM438.0 423.7h0.5v0.5h-0.5zM442.8 422.9h0.5v0.5h-0.5zM450.0 425.0h0.5v0.5h-0.5zM450.4 422.4h0.5v0.5h-0.5zM443.5 421.9h0.5v0.5h-0.5zM433.8 428.7h0.5v0.5h-0.5zM443.9 421.5h0.5v0.5h-0.5zM446.4 423.9h0.5v0.5h-0.5zM441.2 429.8h0.5v0.5h-0.5zM443.5 418.9h0.5v0.5h-0.5zM448.6 430.7h0.5v0.5h-0.5zM438.4 422.8h0.5v0.5h-0.5zM432.0 421.1h0.5v0.5h-0.5zM443.2 426.2h0.5v0.5h-0.5zM434.8 425.3h0.5v0.5h-0.5zM448.3 426.2h0.5v0.5h-0.5zM437.6 434.7h0.5v0.5h-0.5zM442.8 428.1h0.5v0.5h-0.5zM437.5 420.1h0.5v0.5h-0.5zM434.6 425.5h0.5v0.5h-0.5zM439.4 429.7h0.5v0.5h-0.5zM443.3 429.0h0.5v0.5h-0.5zM441.6 422.9h0.5v0.5h-0.5zM429.7 425.3h0.5v0.5h-0.5zM435.7 424.6h0.5v0.5h-0.5zM439.1 421.7h0.5v0.5h-0.5zM434.9 427.4h0.5v0.5h-0.5zM441.1 424.6h0.5v0.5h-0.5zM443.0 426.8h0.5v0.5h-0.5zM435.4 428.1h0.5v0.5h-0.5zM449.9 424.5h0.5v0.5h-0.5zM446.3 434.8h0.5v0.5h-0.5zM448.0 423.8h0.5v0.5h-0.5zM450.6 428.5h0.5v0.5h-0.5zM439.2 426.7h0.5v0.5h-0.5zM443.5 428.2h0.5v0.5h-0.5zM439.6 434.3h0.5v0.5h-0.5zM436.9 422.7h0.5v0.5h-0.5zM444.5 431.4h0.5v0.5h-0.5zM446.0 422.5h0.5v0.5h-0.5zM445.9 430.3h0.5v0.5h-0.5zM449.3 421.7h0.5v0.5h-0.5zM441.6 426.5h0.5v0.5h-0.5zM432.6 424.3h0.5v0.5h-0.5zM446.1 425.6h0.5v0.5h-0.5zM436.9 432.2h0.5v0.5h-0.5zM445.4 432.8h0.5v0.5h-0.5zM436.6 427.6h0.5v0.5h-0.5zM445.7 424.6h0.5v0.5h-0.5zM436.8 432.0h0.5v0.5h-0.5zM448.3 422.1h0.5v0.5h-0.5zM427.5 420.6h0.5v0.5h-0.5zM435.4 427.2h0.5v0.5h-0.5zM443.6 427.2h0.5v0.5h-0.5zM437.0 428.7h0.5v0.5h-0.5zM435.7 427.7h0.5v0.5h-0.5zM437.3 441.3h0.5v0.5h-0.5zM444.6 423.7h0.5v0.5h-0.5zM435.5 425.7h0.5v0.5h-0.5zM432.3 424.2h0.5v0.5h-0.5zM436.8 432.3h0.5v0.5h-0.5zM438.4 423.9h0.5v0.5h-0.5zM433.8 422.0h0.5v0.5h-0.5zM440.2 426.8h0.5v0.5h-0.5zM446.2 424.8h0.5v0.5h-0.5zM445.8 429.2h0.5v0.5h-0.5zM440.5 417.9h0.5v0.5h-0.5zM434.0 431.6h0.5v0.5h-0.5zM447.5 428.9h0.5v0.5h-0.5zM444.3 425.9h0.5v0.5h-0.5zM438.6 424.6h0.5v0.5h-0.5zM445.4 429.6h0.5v0.5h-0.5zM439.3 426.3h0.5v0.5h-0.5zM443.3 429.5h0.5v0.5h-0.5zM436.3 436.5h0.5v0.5h-0.5zM441.8 428.0h0.5v0.5h-0.5zM447.9 433.0h0.5v0.5h-0.5zM440.1 430.6h0.5v0.5h-0.5zM435.2 424.7h0.5v0.5h-0.5zM429.2 434.0h0.5v0.5h-0.5zM431.0 431.3h0.5v0.5h-0.5zM436.3 423.0h0.5v0.5h-0.5zM439.5 429.2h0.5v0.5h-0.5zM443.6 436.8h0.5v0.5h-0.5zM442.3 432.3h0.5v0.5h-0.5zM437.5 431.5h0.5v0.5h-0.5z" fill="#1c1cff" opacity="0.55"/>
<path d="M461.4 417.5h0.55v0.55h-0.55zM462.4 416.0h0.55v0.55h-0.55zM463.4 417.7h0.55v0.55h-0.55zM460.8 413.5h0.55v0.55h-0.55zM458.6 421.1h0.55v0.55h-0.55zM466.1 412.9h0.55v0.55h-0.55zM460.9 400.4h0.55v0.55h-0.55zM458.7 420.7h0.55v0.55h-0.55zM456.5 432.2h0.55v0.55h-0.55zM466.1 425.2h0.55v0.55h-0.55zM462.0 422.1h0.55v0.55h-0.55zM460.4 418.7h0.55v0.55h-0.55zM459.9 421.5h0.55v0.55h-0.55zM464.8 415.0h0.55v0.55h-0.55zM461.7 409.9h0.55v0.55h-0.55zM459.4 417.6h0.55v0.55h-0.55zM463.3 423.6h0.55v0.55h-0.55zM462.4 407.5h0.55v0.55h-0.55zM461.0 411.9h0.55v0.55h-0.55zM460.9 417.1h0.55v0.55h-0.55zM460.9 422.4h0.55v0.55h-0.55zM462.4 422.5h0.55v0.55h-0.55zM461.3 421.7h0.55v0.55h-0.55zM459.8 413.6h0.55v0.55h-0.55zM464.7 420.1h0.55v0.55h-0.55zM465.5 429.3h0.55v0.55h-0.55zM462.0 418.1h0.55v0.55h-0.55zM462.4 418.9h0.55v0.55h-0.55zM464.7 425.4h0.55v0.55h-0.55zM460.9 411.6h0.55v0.55h-0.55zM463.2 424.8h0.55v0.55h-0.55zM465.2 415.2h0.55v0.55h-0.55zM461.9 414.3h0.55v0.55h-0.55zM458.0 413.8h0.55v0.55h-0.55zM459.7 421.8h0.55v0.55h-0.55zM460.8 413.2h0.55v0.55h-0.55zM462.3 421.0h0.55v0.55h-0.55zM458.6 416.7h0.55v0.55h-0.55zM459.1 416.1h0.55v0.55h-0.55zM463.3 418.4h0.55v0.55h-0.55zM467.2 416.5h0.55v0.55h-0.55zM463.9 419.8h0.55v0.55h-0.55zM462.1 417.5h0.55v0.55h-0.55zM465.0 422.4h0.55v0.55h-0.55zM464.9 408.8h0.55v0.55h-0.55zM464.7 419.7h0.55v0.55h-0.55zM459.6 419.4h0.55v0.55h-0.55zM466.7 409.6h0.55v0.55h-0.55zM459.2 418.1h0.55v0.55h-0.55zM461.7 418.7h0.55v0.55h-0.55zM457.2 405.5h0.55v0.55h-0.55zM463.1 407.0h0.55v0.55h-0.55zM461.9 416.3h0.55v0.55h-0.55zM463.9 418.3h0.55v0.55h-0.55zM461.8 404.0h0.55v0.55h-0.55zM459.7 411.6h0.55v0.55h-0.55zM462.2 413.3h0.55v0.55h-0.55zM459.2 415.0h0.55v0.55h-0.55zM467.1 413.7h0.55v0.55h-0.55zM458.6 410.3h0.55v0.55h-0.55zM463.9 418.3h0.55v0.55h-0.55zM459.9 419.4h0.55v0.55h-0.55zM460.7 422.6h0.55v0.55h-0.55zM461.1 409.8h0.55v0.55h-0.55zM464.1 415.9h0.55v0.55h-0.55zM462.4 420.3h0.55v0.55h-0.55zM462.7 422.2h0.55v0.55h-0.55zM459.3 422.0h0.55v0.55h-0.55zM464.3 407.2h0.55v0.55h-0.55zM461.8 408.3h0.55v0.55h-0.55zM461.4 416.0h0.55v0.55h-0.55zM465.7 413.9h0.55v0.55h-0.55zM464.5 401.4h0.55v0.55h-0.55zM462.6 430.4h0.55v0.55h-0.55zM464.2 416.5h0.55v0.55h-0.55zM459.8 427.6h0.55v0.55h-0.55zM462.1 417.1h0.55v0.55h-0.55zM462.9 420.0h0.55v0.55h-0.55zM461.5 420.6h0.55v0.55h-0.55zM461.0 416.9h0.55v0.55h-0.55zM462.2 412.6h0.55v0.55h-0.55zM459.8 415.7h0.55v0.55h-0.55zM462.2 426.0h0.55v0.55h-0.55zM465.0 408.3h0.55v0.55h-0.55zM463.7 412.1h0.55v0.55h-0.55zM463.1 416.5h0.55v0.55h-0.55zM461.2 417.6h0.55v0.55h-0.55zM467.2 416.8h0.55v0.55h-0.55zM462.7 403.2h0.55v0.55h-0.55zM460.1 419.2h0.55v0.55h-0.55zM467.5 408.4h0.55v0.55h-0.55zM467.3 414.4h0.55v0.55h-0.55zM462.7 419.8h0.55v0.55h-0.55zM464.0 419.5h0.55v0.55h-0.55zM463.5 423.7h0.55v0.55h-0.55zM462.9 417.5h0.55v0.55h-0.55zM464.4 424.7h0.55v0.55h-0.55zM461.0 410.6h0.55v0.55h-0.55zM461.1 418.6h0.55v0.55h-0.55zM460.3 414.3h0.55v0.55h-0.55zM463.5 415.0h0.55v0.55h-0.55zM462.5 422.6h0.55v0.55h-0.55zM462.3 429.0h0.55v0.55h-0.55zM464.8 435.8h0.55v0.55h-0.55zM461.4 419.6h0.55v0.55h-0.55zM462.1 399.7h0.55v0.55h-0.55zM466.9 417.7h0.55v0.55h-0.55zM466.9 408.3h0.55v0.55h-0.55zM464.2 415.1h0.55v0.55h-0.55zM462.8 401.4h0.55v0.55h-0.55z" fill="#1c1cff" opacity="0.75"/>
<path d="M463.5 436.4h0.5v0.5h-0.5zM458.1 437.9h0.5v0.5h-0.5zM463.6 440.9h0.5v0.5h-0.5zM464.5 439.7h0.5v0.5h-0.5zM461.4 441.5h0.5v0.5h-0.5zM457.3 432.8h0.5v0.5h-0.5zM463.6 442.3h0.5v0.5h-0.5zM460.2 438.0h0.5v0.5h-0.5zM461.6 437.7h0.5v0.5h-0.5zM459.4 436.4h0.5v0.5h-0.5zM462.2 445.2h0.5v0.5h-0.5zM457.6 435.5h0.5v0.5h-0.5zM463.7 435.1h0.5v0.5h-0.5zM460.8 440.3h0.5v0.5h-0.5zM460.6 437.8h0.5v0.5h-0.5zM465.4 433.7h0.5v0.5h-0.5zM468.9 438.9h0.5v0.5h-0.5zM461.1 435.0h0.5v0.5h-0.5zM460.8 440.7h0.5v0.5h-0.5zM458.7 432.7h0.5v0.5h-0.5zM462.5 438.0h0.5v0.5h-0.5zM464.5 437.3h0.5v0.5h-0.5zM462.5 441.1h0.5v0.5h-0.5zM460.7 437.7h0.5v0.5h-0.5zM464.3 439.5h0.5v0.5h-0.5zM462.8 437.8h0.5v0.5h-0.5zM457.3 436.5h0.5v0.5h-0.5zM463.8 434.1h0.5v0.5h-0.5zM466.3 439.2h0.5v0.5h-0.5zM464.1 437.8h0.5v0.5h-0.5zM464.5 442.2h0.5v0.5h-0.5zM460.9 435.5h0.5v0.5h-0.5zM458.5 438.1h0.5v0.5h-0.5zM464.6 439.3h0.5v0.5h-0.5zM467.4 435.9h0.5v0.5h-0.5z" fill="#1c1cff" opacity="0.55"/>
<path d="M448.8 420.6h0.5v0.5h-0.5zM449.1 418.1h0.5v0.5h-0.5zM453.0 421.7h0.5v0.5h-0.5zM460.5 424.6h0.5v0.5h-0.5zM453.7 420.5h0.5v0.5h-0.5zM442.0 421.2h0.5v0.5h-0.5zM445.4 426.4h0.5v0.5h-0.5zM450.3 429.9h0.5v0.5h-0.5zM454.9 425.8h0.5v0.5h-0.5zM451.9 422.6h0.5v0.5h-0.5zM454.4 426.2h0.5v0.5h-0.5zM446.2 424.1h0.5v0.5h-0.5zM466.2 421.2h0.5v0.5h-0.5zM449.0 418.1h0.5v0.5h-0.5zM441.8 427.5h0.5v0.5h-0.5zM450.9 423.1h0.5v0.5h-0.5zM461.6 434.1h0.5v0.5h-0.5zM445.2 426.9h0.5v0.5h-0.5zM454.2 423.6h0.5v0.5h-0.5zM453.4 421.5h0.5v0.5h-0.5zM460.0 424.7h0.5v0.5h-0.5zM452.6 427.8h0.5v0.5h-0.5zM455.9 423.9h0.5v0.5h-0.5zM452.5 430.4h0.5v0.5h-0.5zM453.6 421.2h0.5v0.5h-0.5zM445.4 419.9h0.5v0.5h-0.5zM444.2 422.2h0.5v0.5h-0.5zM452.1 411.4h0.5v0.5h-0.5zM450.6 424.9h0.5v0.5h-0.5zM451.5 416.8h0.5v0.5h-0.5z" fill="#1c1cff" opacity="0.55"/>
<ellipse cx="435.50" cy="441.90" rx="6.40" ry="6.00" fill="#1c1cff" opacity="1" filter="url(#sb)"/>
<ellipse cx="435.50" cy="441.90" rx="7.20" ry="6.80" fill="url(#jet)" opacity="1"/>
</g>
<rect x="426.50" y="393.60" width="55.00" height="55.60" fill="none" stroke="#b4b4b4" stroke-width="0.8"/>
<line x1="445.70" y1="393.60" x2="445.70" y2="449.20" stroke="#6a6a6a" stroke-width="0.9"/>
<line x1="426.50" y1="431.40" x2="481.50" y2="431.40" stroke="#5a5a5a" stroke-width="0.9"/>
<line x1="425.00" y1="399.30" x2="426.50" y2="399.30" stroke="#555" stroke-width="0.5"/>
<line x1="425.00" y1="413.90" x2="426.50" y2="413.90" stroke="#555" stroke-width="0.5"/>
<line x1="425.00" y1="428.70" x2="426.50" y2="428.70" stroke="#555" stroke-width="0.5"/>
<line x1="425.00" y1="441.90" x2="426.50" y2="441.90" stroke="#555" stroke-width="0.5"/>
<line x1="432.00" y1="449.20" x2="432.00" y2="450.70" stroke="#555" stroke-width="0.5"/>
<line x1="445.00" y1="449.20" x2="445.00" y2="450.70" stroke="#555" stroke-width="0.5"/>
<line x1="460.00" y1="449.20" x2="460.00" y2="450.70" stroke="#555" stroke-width="0.5"/>
<line x1="475.00" y1="449.20" x2="475.00" y2="450.70" stroke="#555" stroke-width="0.5"/>
<text x="520.35" y="385.1" font-size="8.4" text-anchor="middle" fill="#1a1a1a">PB1<tspan font-size="5.6" dy="0.8">498-505</tspan></text>
<clipPath id="cd3"><rect x="490.0" y="394.3" width="55.5" height="54.89999999999998"/></clipPath>
<g clip-path="url(#cd3)">
<path d="M504.8 438.5h0.6v0.6h-0.6zM494.4 436.9h0.6v0.6h-0.6zM499.4 445.5h0.6v0.6h-0.6zM504.4 442.3h0.6v0.6h-0.6zM494.5 438.7h0.6v0.6h-0.6zM495.7 440.7h0.6v0.6h-0.6zM492.1 441.9h0.6v0.6h-0.6zM502.2 440.8h0.6v0.6h-0.6zM501.4 437.5h0.6v0.6h-0.6zM493.4 438.7h0.6v0.6h-0.6zM504.4 445.7h0.6v0.6h-0.6zM497.6 446.5h0.6v0.6h-0.6zM498.1 447.8h0.6v0.6h-0.6zM501.5 439.5h0.6v0.6h-0.6zM502.8 438.1h0.6v0.6h-0.6zM495.6 435.3h0.6v0.6h-0.6zM500.6 441.2h0.6v0.6h-0.6zM499.2 439.7h0.6v0.6h-0.6zM505.5 439.6h0.6v0.6h-0.6zM496.5 446.6h0.6v0.6h-0.6zM505.5 442.8h0.6v0.6h-0.6zM492.2 438.9h0.6v0.6h-0.6zM502.1 441.5h0.6v0.6h-0.6zM506.0 435.7h0.6v0.6h-0.6zM502.3 438.8h0.6v0.6h-0.6zM505.1 441.1h0.6v0.6h-0.6zM503.8 438.7h0.6v0.6h-0.6zM493.6 436.7h0.6v0.6h-0.6zM497.0 437.1h0.6v0.6h-0.6zM504.5 447.0h0.6v0.6h-0.6zM500.6 437.1h0.6v0.6h-0.6zM499.0 438.5h0.6v0.6h-0.6zM505.6 442.7h0.6v0.6h-0.6zM501.6 439.7h0.6v0.6h-0.6zM491.1 438.2h0.6v0.6h-0.6zM494.8 443.0h0.6v0.6h-0.6zM499.9 438.0h0.6v0.6h-0.6zM497.9 448.0h0.6v0.6h-0.6zM495.5 437.5h0.6v0.6h-0.6zM498.5 438.5h0.6v0.6h-0.6zM497.7 443.6h0.6v0.6h-0.6zM506.8 433.9h0.6v0.6h-0.6zM499.4 441.6h0.6v0.6h-0.6zM499.1 440.6h0.6v0.6h-0.6zM498.1 445.6h0.6v0.6h-0.6zM497.5 440.9h0.6v0.6h-0.6zM499.5 441.9h0.6v0.6h-0.6zM498.8 445.6h0.6v0.6h-0.6zM499.5 442.1h0.6v0.6h-0.6zM499.3 437.2h0.6v0.6h-0.6zM496.0 437.0h0.6v0.6h-0.6zM500.3 438.4h0.6v0.6h-0.6zM495.0 442.4h0.6v0.6h-0.6zM501.7 434.0h0.6v0.6h-0.6zM506.6 441.5h0.6v0.6h-0.6zM499.1 445.9h0.6v0.6h-0.6zM499.8 438.9h0.6v0.6h-0.6zM508.7 436.9h0.6v0.6h-0.6zM499.1 445.0h0.6v0.6h-0.6zM495.0 441.0h0.6v0.6h-0.6zM495.8 441.2h0.6v0.6h-0.6zM502.3 441.7h0.6v0.6h-0.6zM494.4 443.1h0.6v0.6h-0.6zM500.0 443.3h0.6v0.6h-0.6zM504.3 445.7h0.6v0.6h-0.6zM501.2 442.7h0.6v0.6h-0.6zM494.9 440.8h0.6v0.6h-0.6zM500.4 439.7h0.6v0.6h-0.6zM499.9 437.9h0.6v0.6h-0.6zM497.9 443.1h0.6v0.6h-0.6zM498.5 446.7h0.6v0.6h-0.6zM501.3 441.7h0.6v0.6h-0.6zM498.6 441.9h0.6v0.6h-0.6zM495.3 444.2h0.6v0.6h-0.6zM496.5 443.6h0.6v0.6h-0.6zM500.0 446.0h0.6v0.6h-0.6zM499.4 445.7h0.6v0.6h-0.6zM495.6 444.0h0.6v0.6h-0.6zM498.6 442.2h0.6v0.6h-0.6zM499.8 445.3h0.6v0.6h-0.6zM491.0 442.8h0.6v0.6h-0.6zM493.2 446.5h0.6v0.6h-0.6zM491.2 437.2h0.6v0.6h-0.6zM492.5 448.3h0.6v0.6h-0.6zM494.1 441.9h0.6v0.6h-0.6zM497.2 433.8h0.6v0.6h-0.6zM498.1 444.2h0.6v0.6h-0.6zM498.7 445.4h0.6v0.6h-0.6zM498.0 441.4h0.6v0.6h-0.6zM497.9 442.8h0.6v0.6h-0.6zM507.5 442.9h0.6v0.6h-0.6zM500.3 438.8h0.6v0.6h-0.6zM496.3 447.5h0.6v0.6h-0.6zM494.8 437.6h0.6v0.6h-0.6zM499.1 439.6h0.6v0.6h-0.6zM507.7 431.5h0.6v0.6h-0.6zM501.0 444.4h0.6v0.6h-0.6zM494.8 438.7h0.6v0.6h-0.6zM501.3 448.2h0.6v0.6h-0.6zM495.6 434.8h0.6v0.6h-0.6zM503.6 447.8h0.6v0.6h-0.6zM498.1 432.1h0.6v0.6h-0.6zM505.6 440.6h0.6v0.6h-0.6zM504.2 441.2h0.6v0.6h-0.6zM497.9 439.5h0.6v0.6h-0.6zM505.7 447.4h0.6v0.6h-0.6zM507.0 439.9h0.6v0.6h-0.6zM493.8 441.4h0.6v0.6h-0.6zM499.0 441.0h0.6v0.6h-0.6zM497.5 440.1h0.6v0.6h-0.6zM497.6 442.8h0.6v0.6h-0.6zM496.1 440.2h0.6v0.6h-0.6zM498.9 446.9h0.6v0.6h-0.6zM501.1 440.9h0.6v0.6h-0.6zM501.8 443.1h0.6v0.6h-0.6zM504.1 443.5h0.6v0.6h-0.6zM507.0 447.0h0.6v0.6h-0.6zM499.3 439.7h0.6v0.6h-0.6zM503.2 443.6h0.6v0.6h-0.6zM499.1 435.2h0.6v0.6h-0.6zM491.8 442.9h0.6v0.6h-0.6zM502.7 444.8h0.6v0.6h-0.6zM494.1 445.8h0.6v0.6h-0.6zM497.3 443.0h0.6v0.6h-0.6zM501.3 438.0h0.6v0.6h-0.6zM497.0 432.7h0.6v0.6h-0.6zM495.6 433.8h0.6v0.6h-0.6zM501.3 441.7h0.6v0.6h-0.6zM503.3 442.9h0.6v0.6h-0.6zM496.8 442.9h0.6v0.6h-0.6zM497.9 444.0h0.6v0.6h-0.6zM500.8 437.2h0.6v0.6h-0.6zM499.5 441.6h0.6v0.6h-0.6zM498.2 445.2h0.6v0.6h-0.6zM506.7 439.9h0.6v0.6h-0.6zM498.0 432.0h0.6v0.6h-0.6zM499.0 439.6h0.6v0.6h-0.6zM502.0 438.3h0.6v0.6h-0.6zM497.9 437.3h0.6v0.6h-0.6zM502.7 435.0h0.6v0.6h-0.6zM499.7 443.4h0.6v0.6h-0.6zM498.9 436.5h0.6v0.6h-0.6zM499.4 443.1h0.6v0.6h-0.6zM495.2 442.8h0.6v0.6h-0.6zM504.7 445.9h0.6v0.6h-0.6zM492.9 437.3h0.6v0.6h-0.6zM492.7 445.9h0.6v0.6h-0.6zM502.1 444.4h0.6v0.6h-0.6zM495.8 436.5h0.6v0.6h-0.6zM499.8 441.8h0.6v0.6h-0.6zM495.9 442.0h0.6v0.6h-0.6zM502.2 442.4h0.6v0.6h-0.6zM495.1 432.5h0.6v0.6h-0.6zM498.4 442.1h0.6v0.6h-0.6zM498.4 439.6h0.6v0.6h-0.6zM496.6 444.4h0.6v0.6h-0.6zM499.3 441.9h0.6v0.6h-0.6zM495.4 438.8h0.6v0.6h-0.6zM500.2 437.2h0.6v0.6h-0.6zM494.2 440.0h0.6v0.6h-0.6zM504.5 442.2h0.6v0.6h-0.6zM505.6 440.8h0.6v0.6h-0.6zM498.2 435.6h0.6v0.6h-0.6zM497.1 447.4h0.6v0.6h-0.6zM500.9 444.5h0.6v0.6h-0.6zM502.5 441.4h0.6v0.6h-0.6zM498.6 441.9h0.6v0.6h-0.6zM502.3 443.3h0.6v0.6h-0.6zM501.6 442.0h0.6v0.6h-0.6zM496.3 440.3h0.6v0.6h-0.6zM495.5 445.6h0.6v0.6h-0.6zM509.5 440.0h0.6v0.6h-0.6zM494.7 441.3h0.6v0.6h-0.6zM504.9 440.7h0.6v0.6h-0.6zM502.1 441.8h0.6v0.6h-0.6zM499.8 439.1h0.6v0.6h-0.6zM497.4 443.0h0.6v0.6h-0.6zM501.2 444.6h0.6v0.6h-0.6zM500.1 435.4h0.6v0.6h-0.6zM501.7 440.1h0.6v0.6h-0.6zM498.3 435.2h0.6v0.6h-0.6zM497.1 438.3h0.6v0.6h-0.6zM499.3 435.3h0.6v0.6h-0.6zM499.7 441.9h0.6v0.6h-0.6zM494.8 438.8h0.6v0.6h-0.6zM495.9 445.2h0.6v0.6h-0.6zM492.5 439.6h0.6v0.6h-0.6zM503.1 438.8h0.6v0.6h-0.6zM500.1 437.9h0.6v0.6h-0.6zM507.6 445.2h0.6v0.6h-0.6zM504.2 435.8h0.6v0.6h-0.6zM494.9 445.9h0.6v0.6h-0.6zM498.7 440.3h0.6v0.6h-0.6zM500.9 436.1h0.6v0.6h-0.6zM502.7 441.5h0.6v0.6h-0.6zM501.5 438.6h0.6v0.6h-0.6zM501.7 438.4h0.6v0.6h-0.6zM503.5 446.1h0.6v0.6h-0.6zM503.3 443.6h0.6v0.6h-0.6zM502.2 430.0h0.6v0.6h-0.6zM503.0 440.2h0.6v0.6h-0.6zM499.9 440.2h0.6v0.6h-0.6zM493.7 439.1h0.6v0.6h-0.6zM502.3 447.4h0.6v0.6h-0.6zM496.9 437.6h0.6v0.6h-0.6zM505.6 437.7h0.6v0.6h-0.6zM508.2 441.6h0.6v0.6h-0.6zM495.8 445.5h0.6v0.6h-0.6zM506.6 435.4h0.6v0.6h-0.6zM506.0 440.2h0.6v0.6h-0.6zM505.7 439.8h0.6v0.6h-0.6zM492.9 443.5h0.6v0.6h-0.6zM506.7 444.3h0.6v0.6h-0.6zM498.5 439.2h0.6v0.6h-0.6zM498.3 437.9h0.6v0.6h-0.6zM498.3 430.7h0.6v0.6h-0.6zM500.3 441.3h0.6v0.6h-0.6zM510.3 444.6h0.6v0.6h-0.6zM497.5 443.8h0.6v0.6h-0.6zM494.4 438.9h0.6v0.6h-0.6zM491.7 447.4h0.6v0.6h-0.6zM502.0 436.5h0.6v0.6h-0.6zM499.2 445.4h0.6v0.6h-0.6zM501.6 443.0h0.6v0.6h-0.6zM495.9 438.7h0.6v0.6h-0.6zM499.9 445.3h0.6v0.6h-0.6zM496.0 436.7h0.6v0.6h-0.6zM504.3 437.5h0.6v0.6h-0.6zM504.0 442.4h0.6v0.6h-0.6zM502.4 444.7h0.6v0.6h-0.6zM495.6 438.5h0.6v0.6h-0.6zM502.2 447.8h0.6v0.6h-0.6zM500.8 442.3h0.6v0.6h-0.6zM503.7 441.5h0.6v0.6h-0.6zM499.2 437.0h0.6v0.6h-0.6zM503.7 436.9h0.6v0.6h-0.6zM501.7 435.4h0.6v0.6h-0.6zM504.1 437.1h0.6v0.6h-0.6zM503.0 434.7h0.6v0.6h-0.6zM497.7 446.3h0.6v0.6h-0.6zM496.1 441.7h0.6v0.6h-0.6zM497.5 431.7h0.6v0.6h-0.6zM500.8 443.2h0.6v0.6h-0.6zM494.8 443.8h0.6v0.6h-0.6zM496.2 437.2h0.6v0.6h-0.6zM499.5 438.5h0.6v0.6h-0.6zM509.1 434.9h0.6v0.6h-0.6zM502.6 445.6h0.6v0.6h-0.6zM491.2 434.1h0.6v0.6h-0.6zM501.9 439.4h0.6v0.6h-0.6zM501.1 446.2h0.6v0.6h-0.6zM497.9 436.9h0.6v0.6h-0.6zM495.6 442.7h0.6v0.6h-0.6zM500.5 435.6h0.6v0.6h-0.6zM506.7 445.9h0.6v0.6h-0.6zM503.1 436.4h0.6v0.6h-0.6zM497.8 439.1h0.6v0.6h-0.6zM497.8 436.7h0.6v0.6h-0.6zM501.3 442.4h0.6v0.6h-0.6zM501.0 439.3h0.6v0.6h-0.6zM504.9 442.2h0.6v0.6h-0.6zM499.3 445.5h0.6v0.6h-0.6zM498.2 440.3h0.6v0.6h-0.6zM496.7 444.2h0.6v0.6h-0.6zM497.6 438.9h0.6v0.6h-0.6zM496.4 443.7h0.6v0.6h-0.6zM497.3 434.4h0.6v0.6h-0.6zM502.1 438.5h0.6v0.6h-0.6zM501.0 443.0h0.6v0.6h-0.6zM504.6 445.8h0.6v0.6h-0.6zM497.1 440.7h0.6v0.6h-0.6zM501.4 447.3h0.6v0.6h-0.6zM498.2 432.8h0.6v0.6h-0.6zM505.9 441.8h0.6v0.6h-0.6zM500.1 441.6h0.6v0.6h-0.6zM502.2 443.6h0.6v0.6h-0.6zM492.8 446.0h0.6v0.6h-0.6zM497.3 439.4h0.6v0.6h-0.6zM506.8 445.3h0.6v0.6h-0.6zM498.1 433.6h0.6v0.6h-0.6zM500.2 443.7h0.6v0.6h-0.6zM499.2 436.2h0.6v0.6h-0.6zM496.2 436.1h0.6v0.6h-0.6zM500.4 444.8h0.6v0.6h-0.6zM503.8 438.3h0.6v0.6h-0.6zM500.5 443.7h0.6v0.6h-0.6zM497.4 440.8h0.6v0.6h-0.6zM508.4 442.3h0.6v0.6h-0.6zM503.2 439.6h0.6v0.6h-0.6zM499.7 434.2h0.6v0.6h-0.6zM499.4 446.4h0.6v0.6h-0.6zM508.3 446.4h0.6v0.6h-0.6zM502.4 441.6h0.6v0.6h-0.6zM497.0 440.7h0.6v0.6h-0.6zM502.1 438.1h0.6v0.6h-0.6zM503.4 437.3h0.6v0.6h-0.6zM492.0 437.1h0.6v0.6h-0.6zM492.5 435.6h0.6v0.6h-0.6zM504.3 440.6h0.6v0.6h-0.6zM500.4 446.3h0.6v0.6h-0.6zM504.8 439.3h0.6v0.6h-0.6zM505.1 443.0h0.6v0.6h-0.6zM499.5 443.3h0.6v0.6h-0.6zM493.5 438.1h0.6v0.6h-0.6zM499.0 444.0h0.6v0.6h-0.6zM497.9 440.9h0.6v0.6h-0.6zM503.6 447.3h0.6v0.6h-0.6zM502.7 446.7h0.6v0.6h-0.6zM497.8 440.1h0.6v0.6h-0.6zM500.8 440.1h0.6v0.6h-0.6zM497.4 448.3h0.6v0.6h-0.6zM498.7 437.3h0.6v0.6h-0.6zM499.8 446.6h0.6v0.6h-0.6zM497.7 439.3h0.6v0.6h-0.6zM496.6 440.8h0.6v0.6h-0.6zM507.2 436.5h0.6v0.6h-0.6zM506.4 437.2h0.6v0.6h-0.6zM498.5 444.9h0.6v0.6h-0.6zM502.1 442.6h0.6v0.6h-0.6zM492.6 442.9h0.6v0.6h-0.6zM498.6 442.2h0.6v0.6h-0.6zM494.7 439.4h0.6v0.6h-0.6zM494.1 445.5h0.6v0.6h-0.6zM498.4 443.8h0.6v0.6h-0.6zM496.6 439.3h0.6v0.6h-0.6zM504.9 437.3h0.6v0.6h-0.6zM491.9 443.1h0.6v0.6h-0.6zM494.7 439.6h0.6v0.6h-0.6zM503.3 438.0h0.6v0.6h-0.6zM503.2 438.5h0.6v0.6h-0.6zM505.8 447.0h0.6v0.6h-0.6zM497.5 440.5h0.6v0.6h-0.6zM496.0 442.2h0.6v0.6h-0.6zM504.3 435.3h0.6v0.6h-0.6z" fill="#1c1cff" opacity="0.75"/>
<path d="M501.0 427.5h0.5v0.5h-0.5zM513.6 417.3h0.5v0.5h-0.5zM495.0 438.2h0.5v0.5h-0.5zM507.6 426.6h0.5v0.5h-0.5zM498.1 425.5h0.5v0.5h-0.5zM515.8 436.0h0.5v0.5h-0.5zM514.0 426.1h0.5v0.5h-0.5zM504.0 428.2h0.5v0.5h-0.5zM513.0 431.5h0.5v0.5h-0.5zM510.3 430.2h0.5v0.5h-0.5zM514.4 427.4h0.5v0.5h-0.5zM513.8 433.4h0.5v0.5h-0.5zM504.9 430.5h0.5v0.5h-0.5zM531.4 418.7h0.5v0.5h-0.5zM503.1 428.2h0.5v0.5h-0.5zM523.8 414.2h0.5v0.5h-0.5zM501.5 428.5h0.5v0.5h-0.5zM515.0 426.5h0.5v0.5h-0.5zM501.6 433.7h0.5v0.5h-0.5zM510.5 425.4h0.5v0.5h-0.5zM500.9 439.6h0.5v0.5h-0.5zM508.6 422.4h0.5v0.5h-0.5zM518.4 426.2h0.5v0.5h-0.5zM518.5 427.6h0.5v0.5h-0.5zM508.9 430.7h0.5v0.5h-0.5zM507.1 432.8h0.5v0.5h-0.5zM516.8 422.6h0.5v0.5h-0.5zM517.0 429.5h0.5v0.5h-0.5zM510.4 424.2h0.5v0.5h-0.5zM522.4 423.5h0.5v0.5h-0.5zM506.3 437.8h0.5v0.5h-0.5zM512.9 431.9h0.5v0.5h-0.5zM519.3 423.5h0.5v0.5h-0.5zM516.6 425.3h0.5v0.5h-0.5zM507.6 435.4h0.5v0.5h-0.5zM521.5 427.7h0.5v0.5h-0.5zM512.3 421.9h0.5v0.5h-0.5zM509.0 421.8h0.5v0.5h-0.5zM511.6 429.0h0.5v0.5h-0.5zM513.7 428.9h0.5v0.5h-0.5zM513.4 426.4h0.5v0.5h-0.5zM522.2 421.1h0.5v0.5h-0.5zM516.5 422.2h0.5v0.5h-0.5zM512.1 428.1h0.5v0.5h-0.5zM520.1 414.4h0.5v0.5h-0.5zM514.4 428.2h0.5v0.5h-0.5zM510.2 432.8h0.5v0.5h-0.5zM502.1 435.9h0.5v0.5h-0.5zM508.8 424.1h0.5v0.5h-0.5zM517.2 421.7h0.5v0.5h-0.5zM509.4 430.0h0.5v0.5h-0.5zM510.6 427.4h0.5v0.5h-0.5zM506.6 431.7h0.5v0.5h-0.5zM509.4 430.4h0.5v0.5h-0.5zM512.9 421.6h0.5v0.5h-0.5zM508.2 431.8h0.5v0.5h-0.5zM511.8 425.3h0.5v0.5h-0.5zM491.8 436.1h0.5v0.5h-0.5zM513.3 427.8h0.5v0.5h-0.5zM520.1 422.8h0.5v0.5h-0.5zM499.3 439.9h0.5v0.5h-0.5zM507.5 433.1h0.5v0.5h-0.5zM512.3 431.9h0.5v0.5h-0.5zM511.2 425.6h0.5v0.5h-0.5zM512.3 431.6h0.5v0.5h-0.5zM510.0 431.9h0.5v0.5h-0.5zM529.2 422.5h0.5v0.5h-0.5zM496.0 443.9h0.5v0.5h-0.5zM511.5 423.3h0.5v0.5h-0.5zM506.6 425.7h0.5v0.5h-0.5zM504.2 429.5h0.5v0.5h-0.5zM506.7 437.4h0.5v0.5h-0.5zM527.3 419.2h0.5v0.5h-0.5zM513.2 419.5h0.5v0.5h-0.5zM515.2 424.1h0.5v0.5h-0.5zM499.6 427.4h0.5v0.5h-0.5zM507.5 440.2h0.5v0.5h-0.5zM507.6 432.7h0.5v0.5h-0.5zM508.5 423.6h0.5v0.5h-0.5zM507.8 431.8h0.5v0.5h-0.5zM511.2 440.6h0.5v0.5h-0.5zM506.4 432.9h0.5v0.5h-0.5zM496.0 430.6h0.5v0.5h-0.5zM518.9 421.1h0.5v0.5h-0.5zM517.6 427.2h0.5v0.5h-0.5zM517.4 432.6h0.5v0.5h-0.5zM501.1 438.0h0.5v0.5h-0.5zM515.4 428.3h0.5v0.5h-0.5zM502.4 428.0h0.5v0.5h-0.5zM509.9 432.1h0.5v0.5h-0.5zM512.9 434.6h0.5v0.5h-0.5zM499.8 430.8h0.5v0.5h-0.5zM508.2 425.5h0.5v0.5h-0.5zM504.6 427.6h0.5v0.5h-0.5zM504.8 433.7h0.5v0.5h-0.5zM503.2 432.0h0.5v0.5h-0.5zM526.2 427.3h0.5v0.5h-0.5zM515.4 432.0h0.5v0.5h-0.5zM509.2 432.4h0.5v0.5h-0.5zM497.7 437.9h0.5v0.5h-0.5zM496.9 429.3h0.5v0.5h-0.5zM503.8 431.2h0.5v0.5h-0.5zM512.0 427.3h0.5v0.5h-0.5zM512.1 435.5h0.5v0.5h-0.5zM525.3 419.2h0.5v0.5h-0.5zM519.1 428.6h0.5v0.5h-0.5zM515.3 427.5h0.5v0.5h-0.5zM515.6 428.4h0.5v0.5h-0.5zM502.3 431.3h0.5v0.5h-0.5zM507.4 423.0h0.5v0.5h-0.5zM510.6 432.4h0.5v0.5h-0.5zM517.8 429.3h0.5v0.5h-0.5zM522.8 411.3h0.5v0.5h-0.5zM520.6 419.5h0.5v0.5h-0.5zM510.7 427.7h0.5v0.5h-0.5zM513.1 430.2h0.5v0.5h-0.5zM511.8 421.1h0.5v0.5h-0.5zM525.3 429.5h0.5v0.5h-0.5zM528.7 416.0h0.5v0.5h-0.5zM500.9 436.6h0.5v0.5h-0.5zM517.4 423.9h0.5v0.5h-0.5zM507.1 436.4h0.5v0.5h-0.5zM519.6 426.3h0.5v0.5h-0.5zM511.5 433.1h0.5v0.5h-0.5zM499.6 433.3h0.5v0.5h-0.5zM523.0 422.4h0.5v0.5h-0.5zM498.9 438.9h0.5v0.5h-0.5zM514.6 437.6h0.5v0.5h-0.5zM521.0 426.1h0.5v0.5h-0.5zM515.5 425.3h0.5v0.5h-0.5zM513.7 433.8h0.5v0.5h-0.5zM517.0 421.5h0.5v0.5h-0.5zM524.3 422.0h0.5v0.5h-0.5zM515.5 427.2h0.5v0.5h-0.5zM518.4 421.5h0.5v0.5h-0.5zM502.6 432.3h0.5v0.5h-0.5zM507.4 432.8h0.5v0.5h-0.5zM510.2 420.6h0.5v0.5h-0.5zM503.8 433.2h0.5v0.5h-0.5zM498.9 425.4h0.5v0.5h-0.5zM518.9 412.2h0.5v0.5h-0.5zM520.1 427.4h0.5v0.5h-0.5zM506.6 430.5h0.5v0.5h-0.5zM511.7 431.3h0.5v0.5h-0.5zM514.2 427.9h0.5v0.5h-0.5zM505.0 420.7h0.5v0.5h-0.5zM517.0 430.9h0.5v0.5h-0.5zM513.7 425.5h0.5v0.5h-0.5zM514.6 423.2h0.5v0.5h-0.5zM501.8 432.3h0.5v0.5h-0.5zM511.8 411.8h0.5v0.5h-0.5zM511.0 418.1h0.5v0.5h-0.5zM526.8 422.0h0.5v0.5h-0.5zM501.2 424.4h0.5v0.5h-0.5zM505.5 433.6h0.5v0.5h-0.5zM518.7 426.8h0.5v0.5h-0.5zM520.8 415.8h0.5v0.5h-0.5zM519.6 417.0h0.5v0.5h-0.5zM501.3 427.3h0.5v0.5h-0.5zM517.7 418.9h0.5v0.5h-0.5zM508.7 427.6h0.5v0.5h-0.5zM502.8 429.5h0.5v0.5h-0.5zM519.8 419.9h0.5v0.5h-0.5zM508.6 424.7h0.5v0.5h-0.5zM513.0 435.7h0.5v0.5h-0.5zM515.6 425.2h0.5v0.5h-0.5zM499.2 432.0h0.5v0.5h-0.5zM515.1 419.8h0.5v0.5h-0.5zM509.2 431.6h0.5v0.5h-0.5z" fill="#1c1cff" opacity="0.6"/>
<path d="M527.2 414.6h0.55v0.55h-0.55zM523.9 422.8h0.55v0.55h-0.55zM531.8 408.8h0.55v0.55h-0.55zM528.0 417.2h0.55v0.55h-0.55zM525.7 412.7h0.55v0.55h-0.55zM523.7 409.2h0.55v0.55h-0.55zM525.1 413.7h0.55v0.55h-0.55zM522.1 415.0h0.55v0.55h-0.55zM525.7 411.0h0.55v0.55h-0.55zM532.4 411.8h0.55v0.55h-0.55zM529.5 414.0h0.55v0.55h-0.55zM531.1 410.2h0.55v0.55h-0.55zM531.7 406.4h0.55v0.55h-0.55zM530.0 414.1h0.55v0.55h-0.55zM525.4 415.5h0.55v0.55h-0.55zM523.9 419.2h0.55v0.55h-0.55zM526.5 419.1h0.55v0.55h-0.55zM526.0 414.1h0.55v0.55h-0.55zM524.2 415.6h0.55v0.55h-0.55zM527.9 419.2h0.55v0.55h-0.55zM522.3 418.0h0.55v0.55h-0.55zM531.3 409.1h0.55v0.55h-0.55zM529.9 416.8h0.55v0.55h-0.55zM527.5 412.8h0.55v0.55h-0.55zM522.5 417.3h0.55v0.55h-0.55zM531.6 418.0h0.55v0.55h-0.55zM522.5 423.0h0.55v0.55h-0.55zM523.0 414.1h0.55v0.55h-0.55zM524.6 417.6h0.55v0.55h-0.55zM524.4 414.8h0.55v0.55h-0.55zM526.1 414.5h0.55v0.55h-0.55zM529.0 419.5h0.55v0.55h-0.55zM520.9 413.0h0.55v0.55h-0.55zM526.2 407.2h0.55v0.55h-0.55zM531.0 412.6h0.55v0.55h-0.55zM523.5 415.5h0.55v0.55h-0.55zM523.6 414.5h0.55v0.55h-0.55zM528.3 405.5h0.55v0.55h-0.55zM533.5 414.2h0.55v0.55h-0.55zM534.9 411.7h0.55v0.55h-0.55zM521.0 420.5h0.55v0.55h-0.55zM525.2 413.4h0.55v0.55h-0.55zM528.3 416.3h0.55v0.55h-0.55zM529.1 417.2h0.55v0.55h-0.55zM522.9 421.0h0.55v0.55h-0.55zM525.2 416.3h0.55v0.55h-0.55zM522.4 414.1h0.55v0.55h-0.55zM525.5 417.2h0.55v0.55h-0.55zM535.4 415.8h0.55v0.55h-0.55zM528.0 408.7h0.55v0.55h-0.55zM520.5 412.0h0.55v0.55h-0.55zM525.6 408.1h0.55v0.55h-0.55zM529.9 410.3h0.55v0.55h-0.55zM528.2 418.8h0.55v0.55h-0.55zM526.5 421.1h0.55v0.55h-0.55zM523.1 416.6h0.55v0.55h-0.55zM521.1 418.9h0.55v0.55h-0.55zM532.8 415.5h0.55v0.55h-0.55zM524.1 419.0h0.55v0.55h-0.55zM526.0 420.2h0.55v0.55h-0.55zM531.5 408.6h0.55v0.55h-0.55zM531.4 409.9h0.55v0.55h-0.55zM532.6 414.9h0.55v0.55h-0.55zM522.5 415.5h0.55v0.55h-0.55zM523.5 412.2h0.55v0.55h-0.55zM527.8 416.3h0.55v0.55h-0.55zM520.6 411.9h0.55v0.55h-0.55zM529.2 414.5h0.55v0.55h-0.55zM528.4 418.8h0.55v0.55h-0.55zM532.8 410.3h0.55v0.55h-0.55zM529.5 412.4h0.55v0.55h-0.55zM526.8 418.2h0.55v0.55h-0.55zM529.2 412.7h0.55v0.55h-0.55zM527.4 406.6h0.55v0.55h-0.55zM524.3 417.3h0.55v0.55h-0.55zM530.5 405.8h0.55v0.55h-0.55zM530.5 418.4h0.55v0.55h-0.55zM524.7 421.4h0.55v0.55h-0.55zM533.1 406.7h0.55v0.55h-0.55zM525.8 417.9h0.55v0.55h-0.55zM524.4 416.3h0.55v0.55h-0.55zM523.7 426.0h0.55v0.55h-0.55zM524.4 412.3h0.55v0.55h-0.55zM517.3 422.9h0.55v0.55h-0.55zM526.9 424.5h0.55v0.55h-0.55zM530.9 411.3h0.55v0.55h-0.55zM529.2 414.5h0.55v0.55h-0.55zM530.4 420.6h0.55v0.55h-0.55zM524.3 417.5h0.55v0.55h-0.55zM521.6 419.4h0.55v0.55h-0.55zM533.7 418.2h0.55v0.55h-0.55zM528.4 410.1h0.55v0.55h-0.55zM523.7 412.8h0.55v0.55h-0.55zM537.3 407.7h0.55v0.55h-0.55zM528.2 410.2h0.55v0.55h-0.55zM525.5 411.1h0.55v0.55h-0.55zM531.1 410.4h0.55v0.55h-0.55zM519.3 427.3h0.55v0.55h-0.55zM519.8 415.0h0.55v0.55h-0.55zM523.6 412.2h0.55v0.55h-0.55zM523.0 417.9h0.55v0.55h-0.55zM526.2 414.9h0.55v0.55h-0.55zM524.9 409.0h0.55v0.55h-0.55zM520.8 414.5h0.55v0.55h-0.55zM530.3 408.9h0.55v0.55h-0.55zM529.9 412.3h0.55v0.55h-0.55zM523.4 420.0h0.55v0.55h-0.55zM525.9 415.8h0.55v0.55h-0.55zM518.5 414.7h0.55v0.55h-0.55zM522.8 414.5h0.55v0.55h-0.55zM531.3 409.4h0.55v0.55h-0.55zM529.6 414.4h0.55v0.55h-0.55zM516.4 414.8h0.55v0.55h-0.55zM531.9 418.9h0.55v0.55h-0.55zM527.0 422.0h0.55v0.55h-0.55zM522.5 412.2h0.55v0.55h-0.55zM532.7 411.4h0.55v0.55h-0.55zM521.0 417.6h0.55v0.55h-0.55zM528.3 414.3h0.55v0.55h-0.55zM532.3 406.3h0.55v0.55h-0.55zM526.0 427.0h0.55v0.55h-0.55zM531.7 418.4h0.55v0.55h-0.55zM526.5 410.8h0.55v0.55h-0.55zM537.6 406.9h0.55v0.55h-0.55zM534.0 418.3h0.55v0.55h-0.55zM525.8 416.8h0.55v0.55h-0.55zM537.3 410.1h0.55v0.55h-0.55zM527.5 412.9h0.55v0.55h-0.55zM537.4 407.0h0.55v0.55h-0.55zM521.2 418.0h0.55v0.55h-0.55zM527.2 416.2h0.55v0.55h-0.55zM523.2 419.5h0.55v0.55h-0.55zM519.4 422.1h0.55v0.55h-0.55zM527.7 411.2h0.55v0.55h-0.55zM534.2 401.7h0.55v0.55h-0.55zM523.4 420.0h0.55v0.55h-0.55zM530.6 412.0h0.55v0.55h-0.55zM533.5 405.2h0.55v0.55h-0.55zM526.4 418.8h0.55v0.55h-0.55zM531.9 413.4h0.55v0.55h-0.55zM518.3 422.4h0.55v0.55h-0.55zM519.7 414.9h0.55v0.55h-0.55zM535.6 407.5h0.55v0.55h-0.55zM526.9 415.6h0.55v0.55h-0.55zM528.0 411.7h0.55v0.55h-0.55zM527.9 422.3h0.55v0.55h-0.55zM523.1 410.4h0.55v0.55h-0.55zM523.3 422.0h0.55v0.55h-0.55zM524.4 418.4h0.55v0.55h-0.55zM517.9 425.6h0.55v0.55h-0.55zM519.8 413.2h0.55v0.55h-0.55zM527.0 410.9h0.55v0.55h-0.55zM527.6 415.6h0.55v0.55h-0.55zM533.9 415.4h0.55v0.55h-0.55zM529.5 409.2h0.55v0.55h-0.55zM522.4 413.3h0.55v0.55h-0.55zM526.0 418.9h0.55v0.55h-0.55zM532.6 417.8h0.55v0.55h-0.55zM527.0 415.9h0.55v0.55h-0.55zM525.9 407.0h0.55v0.55h-0.55zM528.1 411.4h0.55v0.55h-0.55zM530.3 414.6h0.55v0.55h-0.55zM532.7 401.7h0.55v0.55h-0.55zM537.0 409.7h0.55v0.55h-0.55zM527.4 411.3h0.55v0.55h-0.55zM533.1 412.0h0.55v0.55h-0.55zM528.7 413.6h0.55v0.55h-0.55zM537.3 408.4h0.55v0.55h-0.55zM526.5 417.9h0.55v0.55h-0.55zM521.4 420.1h0.55v0.55h-0.55zM529.1 415.8h0.55v0.55h-0.55zM524.3 416.4h0.55v0.55h-0.55zM525.1 414.1h0.55v0.55h-0.55zM526.2 420.2h0.55v0.55h-0.55zM531.4 419.1h0.55v0.55h-0.55zM531.8 407.5h0.55v0.55h-0.55zM518.9 421.8h0.55v0.55h-0.55zM536.3 410.8h0.55v0.55h-0.55zM521.4 414.8h0.55v0.55h-0.55zM521.0 416.2h0.55v0.55h-0.55zM531.3 408.6h0.55v0.55h-0.55zM525.6 410.4h0.55v0.55h-0.55zM525.4 411.1h0.55v0.55h-0.55zM526.3 415.2h0.55v0.55h-0.55zM522.5 417.3h0.55v0.55h-0.55zM528.2 406.1h0.55v0.55h-0.55zM531.5 417.2h0.55v0.55h-0.55zM521.7 417.4h0.55v0.55h-0.55zM520.0 416.7h0.55v0.55h-0.55zM521.7 418.7h0.55v0.55h-0.55zM525.2 419.8h0.55v0.55h-0.55zM528.5 414.5h0.55v0.55h-0.55zM530.4 410.0h0.55v0.55h-0.55zM533.0 428.8h0.55v0.55h-0.55zM524.1 418.4h0.55v0.55h-0.55zM533.2 412.7h0.55v0.55h-0.55zM530.8 405.8h0.55v0.55h-0.55zM522.1 414.0h0.55v0.55h-0.55zM523.5 424.3h0.55v0.55h-0.55zM527.3 411.2h0.55v0.55h-0.55zM528.0 406.0h0.55v0.55h-0.55zM526.5 418.4h0.55v0.55h-0.55zM525.9 417.2h0.55v0.55h-0.55zM529.6 413.3h0.55v0.55h-0.55zM532.2 408.4h0.55v0.55h-0.55zM524.3 424.5h0.55v0.55h-0.55zM527.5 412.2h0.55v0.55h-0.55zM525.9 425.1h0.55v0.55h-0.55zM531.2 407.3h0.55v0.55h-0.55zM528.8 418.7h0.55v0.55h-0.55zM531.4 412.6h0.55v0.55h-0.55zM533.9 418.8h0.55v0.55h-0.55zM524.6 416.6h0.55v0.55h-0.55zM530.6 415.8h0.55v0.55h-0.55zM521.2 415.7h0.55v0.55h-0.55zM522.3 413.0h0.55v0.55h-0.55zM526.1 408.7h0.55v0.55h-0.55zM529.8 407.5h0.55v0.55h-0.55zM531.7 411.7h0.55v0.55h-0.55zM522.9 418.1h0.55v0.55h-0.55zM532.9 411.7h0.55v0.55h-0.55zM529.3 401.6h0.55v0.55h-0.55zM525.5 419.7h0.55v0.55h-0.55zM522.3 418.9h0.55v0.55h-0.55zM530.1 408.2h0.55v0.55h-0.55zM522.4 415.9h0.55v0.55h-0.55zM525.6 408.8h0.55v0.55h-0.55zM533.2 411.6h0.55v0.55h-0.55zM521.8 414.5h0.55v0.55h-0.55zM529.2 408.9h0.55v0.55h-0.55zM521.4 414.9h0.55v0.55h-0.55zM521.6 409.5h0.55v0.55h-0.55zM532.5 410.2h0.55v0.55h-0.55zM520.1 416.5h0.55v0.55h-0.55zM531.6 413.3h0.55v0.55h-0.55zM526.6 412.1h0.55v0.55h-0.55zM525.1 417.8h0.55v0.55h-0.55zM524.4 421.8h0.55v0.55h-0.55zM528.4 412.1h0.55v0.55h-0.55zM523.3 411.8h0.55v0.55h-0.55zM532.8 412.7h0.55v0.55h-0.55zM535.2 410.0h0.55v0.55h-0.55zM525.1 416.0h0.55v0.55h-0.55zM525.7 418.5h0.55v0.55h-0.55zM520.9 419.6h0.55v0.55h-0.55zM526.8 413.4h0.55v0.55h-0.55zM521.8 425.6h0.55v0.55h-0.55zM529.2 410.1h0.55v0.55h-0.55zM529.3 411.9h0.55v0.55h-0.55zM531.7 421.0h0.55v0.55h-0.55zM536.2 409.0h0.55v0.55h-0.55zM523.1 415.5h0.55v0.55h-0.55zM525.8 413.3h0.55v0.55h-0.55zM529.0 417.5h0.55v0.55h-0.55zM535.7 411.1h0.55v0.55h-0.55zM531.9 416.6h0.55v0.55h-0.55zM528.2 419.6h0.55v0.55h-0.55zM527.2 420.0h0.55v0.55h-0.55zM524.2 413.5h0.55v0.55h-0.55zM525.8 419.6h0.55v0.55h-0.55zM513.3 420.1h0.55v0.55h-0.55zM530.0 416.5h0.55v0.55h-0.55zM530.7 408.9h0.55v0.55h-0.55zM522.1 427.7h0.55v0.55h-0.55zM533.6 414.2h0.55v0.55h-0.55zM524.0 422.1h0.55v0.55h-0.55zM525.7 417.3h0.55v0.55h-0.55zM528.5 410.0h0.55v0.55h-0.55zM524.1 418.7h0.55v0.55h-0.55zM518.6 422.7h0.55v0.55h-0.55zM534.8 403.5h0.55v0.55h-0.55zM526.5 417.2h0.55v0.55h-0.55zM524.2 413.6h0.55v0.55h-0.55zM519.1 420.4h0.55v0.55h-0.55zM523.1 417.7h0.55v0.55h-0.55zM534.8 412.8h0.55v0.55h-0.55zM533.9 402.0h0.55v0.55h-0.55zM524.0 416.3h0.55v0.55h-0.55zM523.4 418.3h0.55v0.55h-0.55zM533.8 417.8h0.55v0.55h-0.55zM527.0 413.8h0.55v0.55h-0.55zM528.7 408.6h0.55v0.55h-0.55zM525.5 419.3h0.55v0.55h-0.55zM524.7 413.6h0.55v0.55h-0.55zM519.5 414.5h0.55v0.55h-0.55zM527.2 413.1h0.55v0.55h-0.55zM530.1 411.7h0.55v0.55h-0.55zM527.0 410.4h0.55v0.55h-0.55zM521.6 424.9h0.55v0.55h-0.55zM522.1 420.7h0.55v0.55h-0.55zM524.9 421.2h0.55v0.55h-0.55zM528.0 425.8h0.55v0.55h-0.55zM528.0 414.8h0.55v0.55h-0.55zM517.6 407.3h0.55v0.55h-0.55zM531.9 409.0h0.55v0.55h-0.55zM522.6 416.8h0.55v0.55h-0.55zM525.5 423.2h0.55v0.55h-0.55zM531.8 416.5h0.55v0.55h-0.55zM521.0 424.2h0.55v0.55h-0.55zM534.0 414.1h0.55v0.55h-0.55z" fill="#1c1cff" opacity="0.75"/>
<path d="M516.7 436.2h0.5v0.5h-0.5zM518.9 435.7h0.5v0.5h-0.5zM526.6 439.6h0.5v0.5h-0.5zM527.7 439.0h0.5v0.5h-0.5zM511.6 436.8h0.5v0.5h-0.5zM525.0 436.1h0.5v0.5h-0.5zM541.4 436.6h0.5v0.5h-0.5zM513.3 440.7h0.5v0.5h-0.5zM524.0 437.2h0.5v0.5h-0.5zM516.2 438.6h0.5v0.5h-0.5zM524.7 439.6h0.5v0.5h-0.5zM515.6 438.6h0.5v0.5h-0.5zM524.8 439.6h0.5v0.5h-0.5zM493.3 434.6h0.5v0.5h-0.5zM511.8 436.6h0.5v0.5h-0.5zM519.4 440.1h0.5v0.5h-0.5zM522.9 436.9h0.5v0.5h-0.5zM518.2 442.6h0.5v0.5h-0.5zM513.1 438.2h0.5v0.5h-0.5zM530.5 438.3h0.5v0.5h-0.5zM501.7 438.4h0.5v0.5h-0.5zM514.9 437.0h0.5v0.5h-0.5zM526.4 438.7h0.5v0.5h-0.5zM515.9 440.0h0.5v0.5h-0.5zM521.5 437.6h0.5v0.5h-0.5zM520.4 438.1h0.5v0.5h-0.5zM515.3 435.9h0.5v0.5h-0.5zM518.2 434.4h0.5v0.5h-0.5zM507.9 441.2h0.5v0.5h-0.5zM516.1 437.2h0.5v0.5h-0.5zM516.9 437.4h0.5v0.5h-0.5zM518.2 437.5h0.5v0.5h-0.5zM511.6 440.1h0.5v0.5h-0.5zM512.5 440.4h0.5v0.5h-0.5zM502.6 434.1h0.5v0.5h-0.5zM525.9 436.9h0.5v0.5h-0.5zM512.6 438.4h0.5v0.5h-0.5zM509.6 437.5h0.5v0.5h-0.5zM500.3 435.9h0.5v0.5h-0.5zM512.8 438.9h0.5v0.5h-0.5z" fill="#1c1cff" opacity="0.55"/>
<ellipse cx="527.00" cy="414.80" rx="3.00" ry="4.20" fill="#1c1cff" opacity="0.3" filter="url(#sb)" transform="rotate(30 527.00 414.80)"/>
<ellipse cx="499.00" cy="441.90" rx="6.40" ry="6.00" fill="#1c1cff" opacity="1" filter="url(#sb)"/>
<ellipse cx="499.00" cy="441.90" rx="7.20" ry="6.80" fill="url(#jet)" opacity="1"/>
</g>
<rect x="490.00" y="394.30" width="55.50" height="54.90" fill="none" stroke="#b4b4b4" stroke-width="0.8"/>
<line x1="509.20" y1="394.30" x2="509.20" y2="449.20" stroke="#6a6a6a" stroke-width="0.9"/>
<line x1="490.00" y1="431.40" x2="545.50" y2="431.40" stroke="#5a5a5a" stroke-width="0.9"/>
<line x1="488.50" y1="399.30" x2="490.00" y2="399.30" stroke="#555" stroke-width="0.5"/>
<line x1="488.50" y1="413.90" x2="490.00" y2="413.90" stroke="#555" stroke-width="0.5"/>
<line x1="488.50" y1="428.70" x2="490.00" y2="428.70" stroke="#555" stroke-width="0.5"/>
<line x1="488.50" y1="441.90" x2="490.00" y2="441.90" stroke="#555" stroke-width="0.5"/>
<line x1="495.50" y1="449.20" x2="495.50" y2="450.70" stroke="#555" stroke-width="0.5"/>
<line x1="508.50" y1="449.20" x2="508.50" y2="450.70" stroke="#555" stroke-width="0.5"/>
<line x1="523.50" y1="449.20" x2="523.50" y2="450.70" stroke="#555" stroke-width="0.5"/>
<line x1="538.50" y1="449.20" x2="538.50" y2="450.70" stroke="#555" stroke-width="0.5"/>
<text x="301.80" y="400.60" font-size="4.7" text-anchor="end" fill="#333">10<tspan font-size="3.06" dy="-1.6">5</tspan></text>
<text x="301.80" y="415.20" font-size="4.7" text-anchor="end" fill="#333">10<tspan font-size="3.06" dy="-1.6">4</tspan></text>
<text x="301.80" y="430.00" font-size="4.7" text-anchor="end" fill="#333">10<tspan font-size="3.06" dy="-1.6">3</tspan></text>
<text x="301.80" y="443.40" font-size="5.2" text-anchor="end" fill="#333">0</text>
<text x="308.30" y="455.30" font-size="5.2" text-anchor="middle" fill="#333">0</text>
<text x="323.00" y="455.30" font-size="4.7" text-anchor="middle" fill="#333">10<tspan font-size="3.06" dy="-1.6">3</tspan></text>
<text x="338.00" y="455.30" font-size="4.7" text-anchor="middle" fill="#333">10<tspan font-size="3.06" dy="-1.6">4</tspan></text>
<text x="353.00" y="455.30" font-size="4.7" text-anchor="middle" fill="#333">10<tspan font-size="3.06" dy="-1.6">5</tspan></text>
<path d="M292.50 423.20 V457.30 H325.60" fill="none" stroke="#111" stroke-width="1.2"/>
<path d="M290.20 424.20 L292.50 420.20 L294.80 424.20 Z" fill="#111"/>
<path d="M324.60 455.00 L328.60 457.30 L324.60 459.60 Z" fill="#111"/>
<text x="286.60" y="439.60" font-size="7.9" text-anchor="middle" fill="#111" transform="rotate(-90 286.60 439.60)">TNF-APC</text>
<text x="291.1" y="468.7" font-size="8.1" fill="#111">IFN-γ-V450</text>
<text x="272.20" y="490.90" font-size="12.5" text-anchor="start" font-weight="bold" fill="#000">e</text>
<text x="297.4" y="490.6" font-size="8.5" fill="#1a1a1a">A24/PB1<tspan font-size="5.7" dy="0.8">498-505</tspan><tspan dy="-0.8"> tetramer staining on T cell lines</tspan></text>
<text x="328.70" y="503.70" font-size="8.2" text-anchor="middle" fill="#0d0d0d">Non-LIFT 1</text>
<text x="390.60" y="503.70" font-size="8.2" text-anchor="middle" fill="#0d0d0d">Non-LIFT 3</text>
<text x="453.15" y="503.70" font-size="8.2" text-anchor="middle" fill="#0d0d0d">Non-LIFT 4</text>
<text x="515.90" y="503.70" font-size="8.2" text-anchor="middle" fill="#0d0d0d">Non-LIFT 5</text>
<clipPath id="ce0"><rect x="301.8" y="507.4" width="54.80000000000001" height="54.89999999999998"/></clipPath>
<g clip-path="url(#ce0)">
<path d="M312.8 554.9h0.6v0.6h-0.6zM313.9 559.7h0.6v0.6h-0.6zM306.4 535.8h0.6v0.6h-0.6zM316.0 559.2h0.6v0.6h-0.6zM313.3 545.0h0.6v0.6h-0.6zM322.1 542.1h0.6v0.6h-0.6zM323.9 548.7h0.6v0.6h-0.6zM306.5 547.9h0.6v0.6h-0.6zM314.9 554.7h0.6v0.6h-0.6zM323.0 547.7h0.6v0.6h-0.6zM321.3 547.5h0.6v0.6h-0.6zM313.2 549.2h0.6v0.6h-0.6zM313.9 552.5h0.6v0.6h-0.6zM320.4 557.2h0.6v0.6h-0.6zM319.0 549.6h0.6v0.6h-0.6zM315.2 552.9h0.6v0.6h-0.6zM315.4 555.0h0.6v0.6h-0.6zM312.4 553.2h0.6v0.6h-0.6zM318.1 549.9h0.6v0.6h-0.6zM314.7 544.1h0.6v0.6h-0.6zM319.5 545.7h0.6v0.6h-0.6zM318.3 544.5h0.6v0.6h-0.6zM317.9 559.1h0.6v0.6h-0.6zM317.0 538.8h0.6v0.6h-0.6zM315.2 556.0h0.6v0.6h-0.6zM319.0 556.5h0.6v0.6h-0.6zM315.3 552.0h0.6v0.6h-0.6zM315.4 545.9h0.6v0.6h-0.6zM318.6 549.7h0.6v0.6h-0.6zM315.2 552.0h0.6v0.6h-0.6zM318.1 549.7h0.6v0.6h-0.6zM313.2 538.7h0.6v0.6h-0.6zM315.6 544.1h0.6v0.6h-0.6zM315.4 547.5h0.6v0.6h-0.6zM319.3 543.6h0.6v0.6h-0.6zM309.6 551.1h0.6v0.6h-0.6zM311.7 549.4h0.6v0.6h-0.6zM314.5 560.4h0.6v0.6h-0.6zM316.8 546.7h0.6v0.6h-0.6zM316.2 548.0h0.6v0.6h-0.6zM317.4 559.4h0.6v0.6h-0.6zM321.2 554.7h0.6v0.6h-0.6zM323.6 543.0h0.6v0.6h-0.6zM320.5 553.8h0.6v0.6h-0.6zM319.9 543.7h0.6v0.6h-0.6zM314.2 552.0h0.6v0.6h-0.6zM317.3 547.8h0.6v0.6h-0.6zM321.2 555.2h0.6v0.6h-0.6zM321.6 553.1h0.6v0.6h-0.6zM311.3 558.9h0.6v0.6h-0.6zM312.5 546.2h0.6v0.6h-0.6zM322.5 550.0h0.6v0.6h-0.6zM312.1 553.6h0.6v0.6h-0.6zM320.8 547.4h0.6v0.6h-0.6zM316.1 545.9h0.6v0.6h-0.6zM308.8 551.3h0.6v0.6h-0.6zM317.9 554.4h0.6v0.6h-0.6zM312.4 553.0h0.6v0.6h-0.6zM314.0 544.3h0.6v0.6h-0.6zM316.8 551.0h0.6v0.6h-0.6zM324.0 550.2h0.6v0.6h-0.6zM313.5 557.8h0.6v0.6h-0.6zM323.7 545.1h0.6v0.6h-0.6zM322.3 547.3h0.6v0.6h-0.6zM314.2 559.7h0.6v0.6h-0.6zM316.8 547.6h0.6v0.6h-0.6zM312.4 543.7h0.6v0.6h-0.6zM320.1 546.7h0.6v0.6h-0.6zM315.6 546.4h0.6v0.6h-0.6zM310.8 546.3h0.6v0.6h-0.6zM306.6 559.0h0.6v0.6h-0.6zM318.8 545.1h0.6v0.6h-0.6zM319.0 540.3h0.6v0.6h-0.6zM312.9 557.5h0.6v0.6h-0.6zM311.8 550.7h0.6v0.6h-0.6zM316.9 552.6h0.6v0.6h-0.6zM322.2 550.7h0.6v0.6h-0.6zM322.1 552.4h0.6v0.6h-0.6zM311.4 553.4h0.6v0.6h-0.6zM318.5 551.0h0.6v0.6h-0.6zM322.1 539.9h0.6v0.6h-0.6zM318.0 549.8h0.6v0.6h-0.6zM316.8 543.5h0.6v0.6h-0.6zM315.1 551.3h0.6v0.6h-0.6zM307.6 549.8h0.6v0.6h-0.6zM311.8 558.2h0.6v0.6h-0.6zM312.4 535.1h0.6v0.6h-0.6zM318.8 543.9h0.6v0.6h-0.6zM317.7 543.4h0.6v0.6h-0.6zM325.7 543.1h0.6v0.6h-0.6zM324.7 552.9h0.6v0.6h-0.6zM319.3 542.7h0.6v0.6h-0.6zM318.9 543.1h0.6v0.6h-0.6zM309.8 553.7h0.6v0.6h-0.6zM311.6 541.9h0.6v0.6h-0.6zM313.4 539.5h0.6v0.6h-0.6zM310.4 543.1h0.6v0.6h-0.6zM318.8 549.9h0.6v0.6h-0.6zM314.1 540.8h0.6v0.6h-0.6zM315.5 549.3h0.6v0.6h-0.6zM319.9 544.7h0.6v0.6h-0.6zM319.3 554.8h0.6v0.6h-0.6zM324.8 547.9h0.6v0.6h-0.6zM314.8 560.6h0.6v0.6h-0.6zM321.4 548.5h0.6v0.6h-0.6zM318.1 544.1h0.6v0.6h-0.6zM313.5 549.6h0.6v0.6h-0.6zM309.8 547.8h0.6v0.6h-0.6zM308.1 545.7h0.6v0.6h-0.6zM317.7 557.2h0.6v0.6h-0.6zM321.8 555.7h0.6v0.6h-0.6zM320.3 555.9h0.6v0.6h-0.6zM318.2 543.3h0.6v0.6h-0.6zM311.5 545.8h0.6v0.6h-0.6zM318.2 541.8h0.6v0.6h-0.6zM310.7 556.1h0.6v0.6h-0.6zM322.6 560.6h0.6v0.6h-0.6zM314.5 546.8h0.6v0.6h-0.6zM320.5 548.8h0.6v0.6h-0.6zM311.8 546.7h0.6v0.6h-0.6zM307.7 551.5h0.6v0.6h-0.6zM321.3 550.1h0.6v0.6h-0.6zM319.7 551.2h0.6v0.6h-0.6zM319.5 552.4h0.6v0.6h-0.6zM312.9 550.1h0.6v0.6h-0.6zM316.1 547.7h0.6v0.6h-0.6zM323.2 557.4h0.6v0.6h-0.6zM313.2 551.9h0.6v0.6h-0.6zM315.6 544.5h0.6v0.6h-0.6zM317.8 558.2h0.6v0.6h-0.6zM313.2 548.8h0.6v0.6h-0.6zM317.6 554.9h0.6v0.6h-0.6zM316.8 548.9h0.6v0.6h-0.6zM315.7 560.2h0.6v0.6h-0.6zM321.6 560.2h0.6v0.6h-0.6zM320.1 549.5h0.6v0.6h-0.6zM312.9 548.4h0.6v0.6h-0.6zM312.6 547.5h0.6v0.6h-0.6zM316.5 552.5h0.6v0.6h-0.6zM319.9 552.9h0.6v0.6h-0.6zM317.7 528.9h0.6v0.6h-0.6zM317.1 537.5h0.6v0.6h-0.6zM316.8 543.5h0.6v0.6h-0.6zM309.2 558.1h0.6v0.6h-0.6zM316.1 550.4h0.6v0.6h-0.6zM319.1 536.9h0.6v0.6h-0.6zM314.3 549.4h0.6v0.6h-0.6zM329.9 544.5h0.6v0.6h-0.6zM308.8 546.6h0.6v0.6h-0.6zM314.9 543.1h0.6v0.6h-0.6zM316.1 546.7h0.6v0.6h-0.6zM318.7 542.4h0.6v0.6h-0.6zM310.7 546.1h0.6v0.6h-0.6zM314.8 543.9h0.6v0.6h-0.6zM318.4 554.7h0.6v0.6h-0.6zM316.5 547.0h0.6v0.6h-0.6zM325.0 550.6h0.6v0.6h-0.6zM318.4 545.2h0.6v0.6h-0.6zM312.4 553.9h0.6v0.6h-0.6zM317.1 550.4h0.6v0.6h-0.6zM318.8 546.1h0.6v0.6h-0.6zM321.1 555.9h0.6v0.6h-0.6zM317.2 548.0h0.6v0.6h-0.6zM320.1 550.6h0.6v0.6h-0.6zM319.2 550.2h0.6v0.6h-0.6zM319.6 550.3h0.6v0.6h-0.6zM315.5 557.5h0.6v0.6h-0.6zM316.2 550.5h0.6v0.6h-0.6zM316.3 546.6h0.6v0.6h-0.6zM319.5 541.8h0.6v0.6h-0.6zM323.6 560.3h0.6v0.6h-0.6zM312.4 557.5h0.6v0.6h-0.6zM313.4 559.1h0.6v0.6h-0.6zM324.2 548.9h0.6v0.6h-0.6zM319.9 542.2h0.6v0.6h-0.6zM315.8 551.0h0.6v0.6h-0.6zM318.2 543.5h0.6v0.6h-0.6zM320.8 546.2h0.6v0.6h-0.6zM310.6 557.2h0.6v0.6h-0.6zM315.1 545.9h0.6v0.6h-0.6zM311.7 541.5h0.6v0.6h-0.6zM315.5 549.8h0.6v0.6h-0.6zM314.1 538.5h0.6v0.6h-0.6zM311.3 552.6h0.6v0.6h-0.6zM323.1 543.2h0.6v0.6h-0.6zM309.6 557.8h0.6v0.6h-0.6zM318.0 540.4h0.6v0.6h-0.6zM315.3 541.5h0.6v0.6h-0.6zM318.8 546.3h0.6v0.6h-0.6zM307.1 532.8h0.6v0.6h-0.6zM320.7 541.2h0.6v0.6h-0.6zM309.2 548.2h0.6v0.6h-0.6zM319.4 552.4h0.6v0.6h-0.6zM315.0 547.6h0.6v0.6h-0.6zM321.5 552.0h0.6v0.6h-0.6zM318.6 550.2h0.6v0.6h-0.6zM314.8 548.9h0.6v0.6h-0.6zM317.5 543.2h0.6v0.6h-0.6zM315.4 547.2h0.6v0.6h-0.6zM318.4 555.2h0.6v0.6h-0.6zM309.8 554.9h0.6v0.6h-0.6zM313.9 552.8h0.6v0.6h-0.6zM312.8 543.9h0.6v0.6h-0.6zM319.9 557.1h0.6v0.6h-0.6zM311.6 544.5h0.6v0.6h-0.6zM314.5 549.3h0.6v0.6h-0.6zM310.3 560.0h0.6v0.6h-0.6zM315.3 537.3h0.6v0.6h-0.6zM317.0 549.3h0.6v0.6h-0.6zM325.1 554.1h0.6v0.6h-0.6zM314.1 547.0h0.6v0.6h-0.6zM317.4 537.8h0.6v0.6h-0.6zM315.3 554.7h0.6v0.6h-0.6zM316.5 556.9h0.6v0.6h-0.6zM317.8 559.0h0.6v0.6h-0.6zM313.7 542.3h0.6v0.6h-0.6zM309.1 539.2h0.6v0.6h-0.6zM320.1 550.9h0.6v0.6h-0.6zM311.7 547.7h0.6v0.6h-0.6zM318.0 555.6h0.6v0.6h-0.6zM319.3 545.3h0.6v0.6h-0.6zM308.5 552.8h0.6v0.6h-0.6zM317.0 554.0h0.6v0.6h-0.6zM314.6 546.7h0.6v0.6h-0.6zM322.9 560.6h0.6v0.6h-0.6zM311.6 561.1h0.6v0.6h-0.6zM320.2 544.9h0.6v0.6h-0.6zM313.4 541.3h0.6v0.6h-0.6zM324.2 537.5h0.6v0.6h-0.6zM318.3 556.1h0.6v0.6h-0.6zM314.6 550.6h0.6v0.6h-0.6zM319.0 546.6h0.6v0.6h-0.6zM321.6 544.6h0.6v0.6h-0.6zM312.7 546.0h0.6v0.6h-0.6zM315.8 557.6h0.6v0.6h-0.6zM314.7 552.8h0.6v0.6h-0.6z" fill="#1c1cff" opacity="0.8"/>
<path d="M319.8 552.1h0.6v0.6h-0.6zM324.5 554.5h0.6v0.6h-0.6zM323.4 541.2h0.6v0.6h-0.6zM333.1 551.5h0.6v0.6h-0.6zM332.1 544.1h0.6v0.6h-0.6zM336.1 543.0h0.6v0.6h-0.6zM329.1 546.1h0.6v0.6h-0.6zM329.5 553.4h0.6v0.6h-0.6zM328.2 552.1h0.6v0.6h-0.6zM335.1 541.9h0.6v0.6h-0.6zM325.4 547.9h0.6v0.6h-0.6zM328.4 551.0h0.6v0.6h-0.6zM321.5 552.8h0.6v0.6h-0.6zM335.4 548.8h0.6v0.6h-0.6zM324.3 549.6h0.6v0.6h-0.6zM328.7 552.1h0.6v0.6h-0.6zM331.1 552.9h0.6v0.6h-0.6zM329.2 556.1h0.6v0.6h-0.6zM319.5 545.0h0.6v0.6h-0.6zM334.1 542.8h0.6v0.6h-0.6zM335.3 544.1h0.6v0.6h-0.6zM332.0 545.5h0.6v0.6h-0.6zM329.2 550.4h0.6v0.6h-0.6zM331.0 547.9h0.6v0.6h-0.6zM342.7 549.6h0.6v0.6h-0.6zM326.5 553.8h0.6v0.6h-0.6zM335.8 555.1h0.6v0.6h-0.6zM340.8 545.4h0.6v0.6h-0.6zM337.0 554.7h0.6v0.6h-0.6zM331.5 550.7h0.6v0.6h-0.6zM315.9 547.0h0.6v0.6h-0.6zM340.8 541.6h0.6v0.6h-0.6zM328.7 550.9h0.6v0.6h-0.6zM334.5 556.9h0.6v0.6h-0.6zM322.3 549.8h0.6v0.6h-0.6zM336.0 543.7h0.6v0.6h-0.6zM331.3 558.1h0.6v0.6h-0.6zM338.3 552.0h0.6v0.6h-0.6zM317.9 549.0h0.6v0.6h-0.6zM333.5 548.2h0.6v0.6h-0.6zM330.4 545.2h0.6v0.6h-0.6zM332.8 548.2h0.6v0.6h-0.6zM329.9 549.2h0.6v0.6h-0.6zM335.5 550.7h0.6v0.6h-0.6zM325.3 549.0h0.6v0.6h-0.6zM334.0 547.5h0.6v0.6h-0.6zM337.5 553.1h0.6v0.6h-0.6zM326.3 551.0h0.6v0.6h-0.6zM341.8 556.6h0.6v0.6h-0.6zM331.2 553.6h0.6v0.6h-0.6zM328.0 543.1h0.6v0.6h-0.6zM334.4 550.7h0.6v0.6h-0.6zM334.2 549.5h0.6v0.6h-0.6zM333.2 547.3h0.6v0.6h-0.6zM334.0 553.3h0.6v0.6h-0.6zM331.2 553.3h0.6v0.6h-0.6zM322.3 546.1h0.6v0.6h-0.6zM339.0 557.5h0.6v0.6h-0.6zM332.8 549.1h0.6v0.6h-0.6zM324.9 551.2h0.6v0.6h-0.6zM335.5 542.9h0.6v0.6h-0.6zM334.4 551.8h0.6v0.6h-0.6zM333.8 544.5h0.6v0.6h-0.6zM334.3 542.9h0.6v0.6h-0.6zM339.2 550.2h0.6v0.6h-0.6zM325.4 555.7h0.6v0.6h-0.6zM337.5 546.7h0.6v0.6h-0.6zM343.0 545.1h0.6v0.6h-0.6zM333.1 554.9h0.6v0.6h-0.6zM319.7 554.1h0.6v0.6h-0.6zM331.2 549.5h0.6v0.6h-0.6zM325.9 551.1h0.6v0.6h-0.6zM325.7 545.2h0.6v0.6h-0.6zM329.2 544.1h0.6v0.6h-0.6zM339.7 543.6h0.6v0.6h-0.6zM327.6 548.2h0.6v0.6h-0.6zM331.5 553.2h0.6v0.6h-0.6zM335.8 548.2h0.6v0.6h-0.6zM329.5 549.8h0.6v0.6h-0.6zM335.8 552.7h0.6v0.6h-0.6zM328.8 540.3h0.6v0.6h-0.6zM342.6 553.9h0.6v0.6h-0.6zM332.9 551.1h0.6v0.6h-0.6zM328.8 545.1h0.6v0.6h-0.6zM329.8 548.6h0.6v0.6h-0.6zM328.2 543.0h0.6v0.6h-0.6zM329.9 552.2h0.6v0.6h-0.6zM328.9 549.7h0.6v0.6h-0.6zM320.7 548.7h0.6v0.6h-0.6zM330.9 544.1h0.6v0.6h-0.6zM322.5 551.5h0.6v0.6h-0.6zM327.3 551.8h0.6v0.6h-0.6zM329.3 552.4h0.6v0.6h-0.6zM329.7 542.8h0.6v0.6h-0.6zM331.1 548.1h0.6v0.6h-0.6zM334.9 547.6h0.6v0.6h-0.6zM329.5 553.5h0.6v0.6h-0.6zM337.6 553.0h0.6v0.6h-0.6zM336.9 551.6h0.6v0.6h-0.6zM335.5 553.6h0.6v0.6h-0.6zM333.6 549.9h0.6v0.6h-0.6zM332.2 560.4h0.6v0.6h-0.6zM331.6 548.5h0.6v0.6h-0.6zM329.6 549.4h0.6v0.6h-0.6zM332.8 544.5h0.6v0.6h-0.6zM321.2 550.9h0.6v0.6h-0.6zM323.1 550.8h0.6v0.6h-0.6zM332.2 554.8h0.6v0.6h-0.6zM340.2 551.3h0.6v0.6h-0.6zM328.6 544.3h0.6v0.6h-0.6zM327.4 549.8h0.6v0.6h-0.6zM320.7 549.9h0.6v0.6h-0.6zM331.4 552.5h0.6v0.6h-0.6zM329.8 550.1h0.6v0.6h-0.6zM327.7 547.5h0.6v0.6h-0.6zM322.3 550.2h0.6v0.6h-0.6zM339.6 550.3h0.6v0.6h-0.6zM333.4 545.2h0.6v0.6h-0.6zM338.9 546.1h0.6v0.6h-0.6zM335.7 550.1h0.6v0.6h-0.6zM326.5 554.2h0.6v0.6h-0.6zM331.6 550.4h0.6v0.6h-0.6zM333.9 549.5h0.6v0.6h-0.6zM329.5 551.7h0.6v0.6h-0.6zM329.4 549.9h0.6v0.6h-0.6zM328.0 542.9h0.6v0.6h-0.6zM328.0 547.4h0.6v0.6h-0.6zM331.6 554.9h0.6v0.6h-0.6zM322.7 550.2h0.6v0.6h-0.6zM320.0 544.9h0.6v0.6h-0.6zM328.9 539.5h0.6v0.6h-0.6zM321.8 550.3h0.6v0.6h-0.6zM331.9 549.1h0.6v0.6h-0.6zM327.3 559.3h0.6v0.6h-0.6zM330.7 545.7h0.6v0.6h-0.6zM340.2 552.4h0.6v0.6h-0.6zM329.6 555.0h0.6v0.6h-0.6zM332.3 552.5h0.6v0.6h-0.6zM332.7 545.0h0.6v0.6h-0.6zM336.6 550.3h0.6v0.6h-0.6zM326.3 546.2h0.6v0.6h-0.6zM336.5 547.9h0.6v0.6h-0.6zM331.7 552.5h0.6v0.6h-0.6zM332.2 542.7h0.6v0.6h-0.6zM334.8 553.8h0.6v0.6h-0.6zM336.0 556.9h0.6v0.6h-0.6zM333.4 553.1h0.6v0.6h-0.6zM339.8 548.3h0.6v0.6h-0.6zM340.5 557.4h0.6v0.6h-0.6zM335.6 557.9h0.6v0.6h-0.6zM335.9 545.6h0.6v0.6h-0.6zM337.4 551.1h0.6v0.6h-0.6zM333.7 550.3h0.6v0.6h-0.6zM338.6 552.1h0.6v0.6h-0.6zM327.9 551.8h0.6v0.6h-0.6zM335.3 546.3h0.6v0.6h-0.6zM329.2 547.9h0.6v0.6h-0.6zM328.3 551.2h0.6v0.6h-0.6zM336.8 558.1h0.6v0.6h-0.6zM337.7 554.2h0.6v0.6h-0.6zM337.4 555.6h0.6v0.6h-0.6zM329.5 552.7h0.6v0.6h-0.6zM333.2 549.0h0.6v0.6h-0.6zM329.1 547.3h0.6v0.6h-0.6zM330.1 544.0h0.6v0.6h-0.6zM334.2 549.5h0.6v0.6h-0.6zM332.1 551.1h0.6v0.6h-0.6zM335.3 546.9h0.6v0.6h-0.6zM330.9 542.4h0.6v0.6h-0.6zM320.0 540.9h0.6v0.6h-0.6zM339.5 541.4h0.6v0.6h-0.6zM334.0 556.2h0.6v0.6h-0.6zM329.1 556.9h0.6v0.6h-0.6zM341.1 553.9h0.6v0.6h-0.6zM343.8 552.4h0.6v0.6h-0.6zM327.7 552.0h0.6v0.6h-0.6zM329.2 543.8h0.6v0.6h-0.6zM324.9 560.0h0.6v0.6h-0.6zM328.7 549.5h0.6v0.6h-0.6zM328.1 550.3h0.6v0.6h-0.6zM330.3 547.8h0.6v0.6h-0.6zM325.3 543.3h0.6v0.6h-0.6zM327.7 551.0h0.6v0.6h-0.6zM342.4 554.4h0.6v0.6h-0.6zM341.1 551.8h0.6v0.6h-0.6zM331.1 543.7h0.6v0.6h-0.6zM331.6 540.0h0.6v0.6h-0.6zM330.0 557.0h0.6v0.6h-0.6zM333.3 554.8h0.6v0.6h-0.6zM329.6 543.5h0.6v0.6h-0.6zM329.1 547.9h0.6v0.6h-0.6zM337.9 558.6h0.6v0.6h-0.6zM327.8 548.1h0.6v0.6h-0.6zM330.9 548.1h0.6v0.6h-0.6zM325.2 550.1h0.6v0.6h-0.6zM333.5 551.4h0.6v0.6h-0.6zM325.4 549.2h0.6v0.6h-0.6zM322.6 553.8h0.6v0.6h-0.6zM326.3 548.5h0.6v0.6h-0.6zM329.3 547.1h0.6v0.6h-0.6zM326.1 541.8h0.6v0.6h-0.6zM340.7 550.9h0.6v0.6h-0.6zM333.0 559.2h0.6v0.6h-0.6zM331.1 552.2h0.6v0.6h-0.6zM331.8 555.1h0.6v0.6h-0.6zM334.3 551.2h0.6v0.6h-0.6zM330.3 551.0h0.6v0.6h-0.6zM337.7 540.4h0.6v0.6h-0.6zM331.0 547.9h0.6v0.6h-0.6zM330.1 540.9h0.6v0.6h-0.6zM335.5 545.9h0.6v0.6h-0.6zM330.5 547.5h0.6v0.6h-0.6zM323.0 547.7h0.6v0.6h-0.6zM322.1 545.5h0.6v0.6h-0.6zM330.0 549.7h0.6v0.6h-0.6zM332.0 549.1h0.6v0.6h-0.6zM342.8 551.7h0.6v0.6h-0.6zM325.3 547.0h0.6v0.6h-0.6zM328.3 549.0h0.6v0.6h-0.6z" fill="#1c1cff" opacity="0.8"/>
<path d="M329.8 515.8h0.6v0.6h-0.6zM340.6 519.6h0.6v0.6h-0.6zM331.0 518.4h0.6v0.6h-0.6zM331.6 525.3h0.6v0.6h-0.6zM335.0 524.2h0.6v0.6h-0.6zM317.7 520.8h0.6v0.6h-0.6zM337.7 527.7h0.6v0.6h-0.6zM332.8 512.2h0.6v0.6h-0.6zM335.5 516.9h0.6v0.6h-0.6zM324.1 516.8h0.6v0.6h-0.6zM337.7 524.5h0.6v0.6h-0.6zM336.1 515.0h0.6v0.6h-0.6zM344.8 514.5h0.6v0.6h-0.6zM332.3 513.4h0.6v0.6h-0.6zM339.0 521.3h0.6v0.6h-0.6zM336.9 519.8h0.6v0.6h-0.6zM332.4 520.2h0.6v0.6h-0.6zM323.6 523.6h0.6v0.6h-0.6zM337.1 517.8h0.6v0.6h-0.6zM332.6 520.7h0.6v0.6h-0.6zM340.2 521.3h0.6v0.6h-0.6zM332.9 517.3h0.6v0.6h-0.6zM325.5 517.0h0.6v0.6h-0.6zM333.0 518.4h0.6v0.6h-0.6zM333.1 522.6h0.6v0.6h-0.6zM334.8 520.6h0.6v0.6h-0.6zM335.9 520.3h0.6v0.6h-0.6zM332.6 521.5h0.6v0.6h-0.6zM324.4 524.8h0.6v0.6h-0.6zM326.5 523.0h0.6v0.6h-0.6zM332.8 524.2h0.6v0.6h-0.6zM332.9 515.5h0.6v0.6h-0.6zM337.9 520.3h0.6v0.6h-0.6zM333.3 519.8h0.6v0.6h-0.6zM337.5 522.9h0.6v0.6h-0.6zM333.8 513.0h0.6v0.6h-0.6zM330.8 520.0h0.6v0.6h-0.6zM341.4 521.1h0.6v0.6h-0.6zM332.3 524.5h0.6v0.6h-0.6zM332.2 519.4h0.6v0.6h-0.6zM333.5 513.2h0.6v0.6h-0.6zM337.4 521.3h0.6v0.6h-0.6zM331.4 514.7h0.6v0.6h-0.6zM333.8 525.4h0.6v0.6h-0.6zM329.7 515.1h0.6v0.6h-0.6zM334.8 512.8h0.6v0.6h-0.6zM322.1 517.7h0.6v0.6h-0.6zM329.5 518.4h0.6v0.6h-0.6zM330.1 520.9h0.6v0.6h-0.6zM331.7 517.0h0.6v0.6h-0.6zM330.6 522.2h0.6v0.6h-0.6zM337.4 523.3h0.6v0.6h-0.6zM328.0 518.2h0.6v0.6h-0.6zM333.8 512.8h0.6v0.6h-0.6zM339.6 520.8h0.6v0.6h-0.6zM329.8 520.2h0.6v0.6h-0.6zM331.1 516.4h0.6v0.6h-0.6zM335.2 517.6h0.6v0.6h-0.6zM326.0 516.9h0.6v0.6h-0.6zM332.2 515.0h0.6v0.6h-0.6zM338.8 515.0h0.6v0.6h-0.6zM341.2 523.3h0.6v0.6h-0.6zM328.3 520.1h0.6v0.6h-0.6zM338.5 518.8h0.6v0.6h-0.6zM327.1 520.0h0.6v0.6h-0.6zM342.4 513.3h0.6v0.6h-0.6zM335.5 519.6h0.6v0.6h-0.6zM332.2 517.9h0.6v0.6h-0.6zM331.3 523.9h0.6v0.6h-0.6zM335.7 515.4h0.6v0.6h-0.6zM340.3 514.1h0.6v0.6h-0.6zM336.0 520.4h0.6v0.6h-0.6zM338.6 521.1h0.6v0.6h-0.6zM337.9 519.5h0.6v0.6h-0.6zM337.5 521.0h0.6v0.6h-0.6zM343.2 516.7h0.6v0.6h-0.6zM338.6 521.6h0.6v0.6h-0.6zM333.7 517.2h0.6v0.6h-0.6zM335.0 513.4h0.6v0.6h-0.6zM326.3 522.6h0.6v0.6h-0.6zM325.4 525.6h0.6v0.6h-0.6zM331.5 520.7h0.6v0.6h-0.6zM333.2 521.4h0.6v0.6h-0.6zM331.5 518.1h0.6v0.6h-0.6zM332.3 524.0h0.6v0.6h-0.6zM338.3 525.0h0.6v0.6h-0.6zM334.6 518.8h0.6v0.6h-0.6zM324.8 522.3h0.6v0.6h-0.6zM336.9 517.9h0.6v0.6h-0.6zM336.7 525.0h0.6v0.6h-0.6zM333.3 524.1h0.6v0.6h-0.6zM334.3 512.3h0.6v0.6h-0.6zM330.6 517.9h0.6v0.6h-0.6zM335.4 516.0h0.6v0.6h-0.6zM330.8 515.6h0.6v0.6h-0.6zM332.7 519.9h0.6v0.6h-0.6zM337.5 523.0h0.6v0.6h-0.6zM333.7 520.6h0.6v0.6h-0.6zM333.4 520.1h0.6v0.6h-0.6zM340.3 509.2h0.6v0.6h-0.6zM332.0 520.9h0.6v0.6h-0.6zM338.3 515.0h0.6v0.6h-0.6zM334.5 523.2h0.6v0.6h-0.6zM330.7 511.6h0.6v0.6h-0.6zM331.1 514.6h0.6v0.6h-0.6zM336.0 516.1h0.6v0.6h-0.6zM341.4 520.2h0.6v0.6h-0.6zM329.0 517.5h0.6v0.6h-0.6zM327.6 521.3h0.6v0.6h-0.6zM340.0 518.7h0.6v0.6h-0.6zM337.3 515.7h0.6v0.6h-0.6zM334.3 529.3h0.6v0.6h-0.6zM326.1 524.8h0.6v0.6h-0.6zM338.5 511.7h0.6v0.6h-0.6zM326.0 515.5h0.6v0.6h-0.6zM337.5 517.8h0.6v0.6h-0.6zM332.1 522.6h0.6v0.6h-0.6zM333.4 520.6h0.6v0.6h-0.6zM331.3 524.3h0.6v0.6h-0.6zM329.1 526.7h0.6v0.6h-0.6zM331.2 516.3h0.6v0.6h-0.6zM336.0 521.5h0.6v0.6h-0.6zM323.4 520.5h0.6v0.6h-0.6zM326.4 516.1h0.6v0.6h-0.6zM336.6 516.0h0.6v0.6h-0.6zM334.6 518.0h0.6v0.6h-0.6zM342.1 519.2h0.6v0.6h-0.6zM327.2 515.0h0.6v0.6h-0.6zM328.5 520.1h0.6v0.6h-0.6zM332.8 523.7h0.6v0.6h-0.6zM333.6 520.1h0.6v0.6h-0.6zM334.4 519.0h0.6v0.6h-0.6zM334.2 522.9h0.6v0.6h-0.6zM336.6 517.3h0.6v0.6h-0.6zM324.3 516.2h0.6v0.6h-0.6zM334.2 509.1h0.6v0.6h-0.6zM330.5 521.5h0.6v0.6h-0.6zM330.1 514.9h0.6v0.6h-0.6zM341.2 525.4h0.6v0.6h-0.6zM331.6 525.1h0.6v0.6h-0.6zM339.0 514.8h0.6v0.6h-0.6zM345.7 515.6h0.6v0.6h-0.6zM331.5 514.9h0.6v0.6h-0.6zM333.2 514.0h0.6v0.6h-0.6zM332.7 524.1h0.6v0.6h-0.6zM333.8 518.4h0.6v0.6h-0.6zM340.2 515.8h0.6v0.6h-0.6zM337.4 518.3h0.6v0.6h-0.6zM333.8 519.7h0.6v0.6h-0.6zM333.4 519.3h0.6v0.6h-0.6zM329.0 517.1h0.6v0.6h-0.6zM334.9 519.1h0.6v0.6h-0.6zM327.2 516.5h0.6v0.6h-0.6zM329.4 519.3h0.6v0.6h-0.6zM333.6 519.9h0.6v0.6h-0.6zM329.6 519.6h0.6v0.6h-0.6zM332.4 512.5h0.6v0.6h-0.6zM328.1 514.4h0.6v0.6h-0.6zM335.7 514.4h0.6v0.6h-0.6zM334.0 517.4h0.6v0.6h-0.6zM326.7 512.8h0.6v0.6h-0.6zM334.9 521.0h0.6v0.6h-0.6zM336.3 527.1h0.6v0.6h-0.6zM333.9 520.6h0.6v0.6h-0.6zM332.0 519.8h0.6v0.6h-0.6zM330.9 515.6h0.6v0.6h-0.6zM342.2 511.6h0.6v0.6h-0.6zM333.8 521.2h0.6v0.6h-0.6zM333.3 515.3h0.6v0.6h-0.6zM331.6 517.4h0.6v0.6h-0.6zM327.4 519.2h0.6v0.6h-0.6zM330.6 517.0h0.6v0.6h-0.6zM335.8 514.9h0.6v0.6h-0.6zM334.6 516.8h0.6v0.6h-0.6zM334.6 519.6h0.6v0.6h-0.6zM333.7 515.2h0.6v0.6h-0.6zM328.8 515.7h0.6v0.6h-0.6zM333.3 522.4h0.6v0.6h-0.6zM337.7 517.2h0.6v0.6h-0.6zM332.9 512.5h0.6v0.6h-0.6zM321.8 515.6h0.6v0.6h-0.6zM329.3 512.8h0.6v0.6h-0.6zM323.9 521.5h0.6v0.6h-0.6zM328.6 512.2h0.6v0.6h-0.6zM343.6 520.0h0.6v0.6h-0.6zM330.9 522.1h0.6v0.6h-0.6zM328.8 525.9h0.6v0.6h-0.6zM325.0 513.7h0.6v0.6h-0.6zM331.7 516.0h0.6v0.6h-0.6zM339.1 512.5h0.6v0.6h-0.6zM328.9 520.2h0.6v0.6h-0.6zM335.1 523.4h0.6v0.6h-0.6zM334.0 528.4h0.6v0.6h-0.6zM330.1 519.9h0.6v0.6h-0.6zM336.5 517.8h0.6v0.6h-0.6zM330.9 517.2h0.6v0.6h-0.6zM329.3 514.4h0.6v0.6h-0.6zM329.7 512.7h0.6v0.6h-0.6zM334.1 512.5h0.6v0.6h-0.6zM342.2 526.3h0.6v0.6h-0.6zM337.6 518.2h0.6v0.6h-0.6zM329.5 524.2h0.6v0.6h-0.6zM333.2 521.5h0.6v0.6h-0.6zM328.8 523.6h0.6v0.6h-0.6zM328.5 519.6h0.6v0.6h-0.6zM324.0 516.4h0.6v0.6h-0.6zM334.7 517.2h0.6v0.6h-0.6zM330.1 522.4h0.6v0.6h-0.6zM331.9 524.3h0.6v0.6h-0.6zM320.7 521.5h0.6v0.6h-0.6zM334.7 512.6h0.6v0.6h-0.6zM326.1 522.8h0.6v0.6h-0.6zM327.2 516.4h0.6v0.6h-0.6zM335.1 517.7h0.6v0.6h-0.6zM334.5 515.5h0.6v0.6h-0.6zM333.7 523.6h0.6v0.6h-0.6zM333.8 509.9h0.6v0.6h-0.6zM335.4 519.3h0.6v0.6h-0.6zM327.9 524.9h0.6v0.6h-0.6zM323.9 526.9h0.6v0.6h-0.6zM329.2 525.7h0.6v0.6h-0.6zM332.0 513.5h0.6v0.6h-0.6zM332.7 520.5h0.6v0.6h-0.6zM334.8 523.5h0.6v0.6h-0.6zM328.0 521.1h0.6v0.6h-0.6zM335.8 517.9h0.6v0.6h-0.6zM327.8 515.1h0.6v0.6h-0.6zM335.8 522.4h0.6v0.6h-0.6zM328.3 513.5h0.6v0.6h-0.6zM338.2 512.6h0.6v0.6h-0.6zM333.0 515.7h0.6v0.6h-0.6zM323.8 519.6h0.6v0.6h-0.6zM331.3 525.1h0.6v0.6h-0.6zM343.1 518.3h0.6v0.6h-0.6zM337.1 523.4h0.6v0.6h-0.6zM329.7 515.4h0.6v0.6h-0.6zM339.9 517.5h0.6v0.6h-0.6zM332.1 517.8h0.6v0.6h-0.6zM331.6 516.5h0.6v0.6h-0.6zM335.8 524.3h0.6v0.6h-0.6zM330.4 513.3h0.6v0.6h-0.6zM332.5 512.8h0.6v0.6h-0.6zM329.2 524.2h0.6v0.6h-0.6zM343.3 520.6h0.6v0.6h-0.6zM327.1 522.3h0.6v0.6h-0.6zM321.5 516.2h0.6v0.6h-0.6zM339.5 522.2h0.6v0.6h-0.6zM325.6 512.1h0.6v0.6h-0.6zM336.3 518.9h0.6v0.6h-0.6zM329.4 520.8h0.6v0.6h-0.6zM329.5 511.0h0.6v0.6h-0.6zM336.1 516.4h0.6v0.6h-0.6zM327.4 513.5h0.6v0.6h-0.6zM333.4 515.7h0.6v0.6h-0.6zM335.2 517.9h0.6v0.6h-0.6zM337.4 517.5h0.6v0.6h-0.6zM329.1 510.8h0.6v0.6h-0.6zM327.0 522.1h0.6v0.6h-0.6z" fill="#1c1cff" opacity="0.8"/>
<path d="M326.7 547.9h0.6v0.6h-0.6zM330.7 523.5h0.6v0.6h-0.6zM328.2 532.5h0.6v0.6h-0.6zM325.9 530.1h0.6v0.6h-0.6zM332.1 527.9h0.6v0.6h-0.6zM329.4 539.4h0.6v0.6h-0.6zM331.0 528.1h0.6v0.6h-0.6zM331.1 536.3h0.6v0.6h-0.6zM330.7 525.2h0.6v0.6h-0.6zM328.1 535.4h0.6v0.6h-0.6zM331.1 521.7h0.6v0.6h-0.6zM332.3 531.9h0.6v0.6h-0.6zM328.3 530.2h0.6v0.6h-0.6zM327.3 527.1h0.6v0.6h-0.6zM328.5 524.0h0.6v0.6h-0.6zM332.6 526.8h0.6v0.6h-0.6zM329.8 522.4h0.6v0.6h-0.6zM333.6 526.2h0.6v0.6h-0.6zM328.9 531.3h0.6v0.6h-0.6zM330.0 534.6h0.6v0.6h-0.6zM333.7 526.9h0.6v0.6h-0.6zM334.2 533.9h0.6v0.6h-0.6zM331.8 536.6h0.6v0.6h-0.6zM327.2 530.5h0.6v0.6h-0.6zM330.1 533.9h0.6v0.6h-0.6zM329.9 533.8h0.6v0.6h-0.6zM327.4 525.6h0.6v0.6h-0.6zM333.1 533.9h0.6v0.6h-0.6zM331.0 528.0h0.6v0.6h-0.6zM327.8 538.0h0.6v0.6h-0.6zM327.1 527.7h0.6v0.6h-0.6zM330.5 536.8h0.6v0.6h-0.6zM325.8 527.0h0.6v0.6h-0.6zM332.4 528.7h0.6v0.6h-0.6zM328.8 528.0h0.6v0.6h-0.6zM326.8 533.6h0.6v0.6h-0.6zM331.4 530.1h0.6v0.6h-0.6zM327.8 525.1h0.6v0.6h-0.6zM329.7 531.2h0.6v0.6h-0.6zM330.4 528.4h0.6v0.6h-0.6zM327.6 531.1h0.6v0.6h-0.6zM331.0 525.8h0.6v0.6h-0.6zM333.3 536.5h0.6v0.6h-0.6zM332.6 524.7h0.6v0.6h-0.6zM329.8 534.3h0.6v0.6h-0.6zM332.0 532.7h0.6v0.6h-0.6zM327.3 540.4h0.6v0.6h-0.6zM329.6 533.4h0.6v0.6h-0.6zM332.8 528.6h0.6v0.6h-0.6zM327.4 534.7h0.6v0.6h-0.6zM330.5 528.1h0.6v0.6h-0.6zM332.1 521.4h0.6v0.6h-0.6zM330.3 529.4h0.6v0.6h-0.6zM334.4 531.8h0.6v0.6h-0.6zM329.0 530.0h0.6v0.6h-0.6zM328.7 540.1h0.6v0.6h-0.6zM326.5 526.7h0.6v0.6h-0.6zM330.6 536.2h0.6v0.6h-0.6zM330.3 532.6h0.6v0.6h-0.6zM328.0 529.0h0.6v0.6h-0.6zM331.0 525.2h0.6v0.6h-0.6zM334.0 530.6h0.6v0.6h-0.6zM328.7 525.3h0.6v0.6h-0.6zM333.3 523.8h0.6v0.6h-0.6zM331.8 522.5h0.6v0.6h-0.6zM329.6 538.4h0.6v0.6h-0.6zM324.7 534.1h0.6v0.6h-0.6zM325.8 527.5h0.6v0.6h-0.6zM330.0 530.9h0.6v0.6h-0.6zM332.3 525.3h0.6v0.6h-0.6zM328.6 531.9h0.6v0.6h-0.6zM326.3 526.8h0.6v0.6h-0.6zM335.2 528.7h0.6v0.6h-0.6zM331.0 525.6h0.6v0.6h-0.6zM331.9 526.6h0.6v0.6h-0.6zM329.4 532.5h0.6v0.6h-0.6zM328.7 519.3h0.6v0.6h-0.6zM329.3 537.0h0.6v0.6h-0.6zM328.7 533.6h0.6v0.6h-0.6zM331.0 518.8h0.6v0.6h-0.6zM328.5 531.7h0.6v0.6h-0.6zM330.7 527.7h0.6v0.6h-0.6zM330.8 526.3h0.6v0.6h-0.6zM324.1 528.6h0.6v0.6h-0.6zM328.5 529.0h0.6v0.6h-0.6zM330.9 524.9h0.6v0.6h-0.6zM331.3 527.0h0.6v0.6h-0.6zM330.3 536.3h0.6v0.6h-0.6zM328.1 520.7h0.6v0.6h-0.6zM329.3 535.3h0.6v0.6h-0.6zM329.7 525.1h0.6v0.6h-0.6zM330.6 532.9h0.6v0.6h-0.6zM327.9 533.7h0.6v0.6h-0.6zM329.3 528.2h0.6v0.6h-0.6zM324.8 529.7h0.6v0.6h-0.6zM326.6 528.5h0.6v0.6h-0.6zM333.8 538.1h0.6v0.6h-0.6zM332.0 539.8h0.6v0.6h-0.6zM332.3 527.0h0.6v0.6h-0.6zM331.5 528.7h0.6v0.6h-0.6zM328.5 524.5h0.6v0.6h-0.6zM334.3 532.6h0.6v0.6h-0.6zM335.5 529.7h0.6v0.6h-0.6zM326.8 546.2h0.6v0.6h-0.6zM327.6 529.7h0.6v0.6h-0.6zM328.6 529.1h0.6v0.6h-0.6zM332.3 529.5h0.6v0.6h-0.6zM330.6 535.5h0.6v0.6h-0.6zM330.3 529.9h0.6v0.6h-0.6zM331.4 530.7h0.6v0.6h-0.6zM331.2 529.9h0.6v0.6h-0.6zM331.9 522.1h0.6v0.6h-0.6zM330.4 540.3h0.6v0.6h-0.6zM333.3 521.5h0.6v0.6h-0.6zM322.6 528.0h0.6v0.6h-0.6zM331.5 528.6h0.6v0.6h-0.6zM333.0 532.2h0.6v0.6h-0.6zM330.3 533.6h0.6v0.6h-0.6zM327.2 518.2h0.6v0.6h-0.6zM331.6 531.0h0.6v0.6h-0.6z" fill="#1c1cff" opacity="0.8"/>
<path d="M315.5 531.9h0.6v0.6h-0.6zM312.2 537.8h0.6v0.6h-0.6zM316.4 528.2h0.6v0.6h-0.6zM315.8 536.9h0.6v0.6h-0.6zM317.0 526.9h0.6v0.6h-0.6zM318.6 530.7h0.6v0.6h-0.6zM317.6 535.5h0.6v0.6h-0.6zM315.7 538.5h0.6v0.6h-0.6zM320.0 539.2h0.6v0.6h-0.6zM320.3 537.5h0.6v0.6h-0.6zM319.2 533.5h0.6v0.6h-0.6zM314.5 537.0h0.6v0.6h-0.6zM315.7 535.6h0.6v0.6h-0.6zM317.2 533.8h0.6v0.6h-0.6zM316.2 540.2h0.6v0.6h-0.6zM313.3 536.4h0.6v0.6h-0.6zM319.8 536.4h0.6v0.6h-0.6zM318.1 539.2h0.6v0.6h-0.6zM314.6 533.9h0.6v0.6h-0.6zM313.7 535.6h0.6v0.6h-0.6zM319.3 531.1h0.6v0.6h-0.6zM321.4 532.3h0.6v0.6h-0.6zM318.0 530.3h0.6v0.6h-0.6zM317.4 531.3h0.6v0.6h-0.6zM317.1 531.8h0.6v0.6h-0.6zM315.9 535.3h0.6v0.6h-0.6zM320.7 538.0h0.6v0.6h-0.6zM319.2 533.6h0.6v0.6h-0.6zM316.9 536.3h0.6v0.6h-0.6zM311.6 544.6h0.6v0.6h-0.6zM312.5 533.3h0.6v0.6h-0.6zM316.4 534.7h0.6v0.6h-0.6zM317.8 551.1h0.6v0.6h-0.6zM320.2 543.1h0.6v0.6h-0.6zM318.2 534.2h0.6v0.6h-0.6zM317.4 542.6h0.6v0.6h-0.6zM318.2 536.8h0.6v0.6h-0.6zM315.0 530.0h0.6v0.6h-0.6zM318.3 537.3h0.6v0.6h-0.6zM316.2 532.3h0.6v0.6h-0.6zM316.6 535.5h0.6v0.6h-0.6zM317.2 538.7h0.6v0.6h-0.6zM313.5 536.6h0.6v0.6h-0.6zM317.8 531.8h0.6v0.6h-0.6zM317.6 529.6h0.6v0.6h-0.6zM315.0 533.3h0.6v0.6h-0.6zM315.3 538.5h0.6v0.6h-0.6zM315.3 532.5h0.6v0.6h-0.6zM323.8 536.2h0.6v0.6h-0.6zM316.9 527.5h0.6v0.6h-0.6zM319.3 535.0h0.6v0.6h-0.6zM310.8 534.5h0.6v0.6h-0.6zM314.2 541.2h0.6v0.6h-0.6zM313.6 535.7h0.6v0.6h-0.6zM315.7 531.6h0.6v0.6h-0.6zM319.0 539.3h0.6v0.6h-0.6zM318.2 533.5h0.6v0.6h-0.6zM317.2 534.4h0.6v0.6h-0.6zM318.5 536.5h0.6v0.6h-0.6zM316.6 533.5h0.6v0.6h-0.6zM317.2 536.8h0.6v0.6h-0.6zM321.2 532.7h0.6v0.6h-0.6zM318.8 534.1h0.6v0.6h-0.6zM320.0 536.7h0.6v0.6h-0.6zM322.0 527.2h0.6v0.6h-0.6zM313.9 535.0h0.6v0.6h-0.6zM322.5 536.4h0.6v0.6h-0.6zM313.9 537.9h0.6v0.6h-0.6zM320.2 534.0h0.6v0.6h-0.6zM316.5 530.3h0.6v0.6h-0.6zM322.3 534.7h0.6v0.6h-0.6zM320.2 534.7h0.6v0.6h-0.6zM314.9 533.2h0.6v0.6h-0.6zM318.5 539.9h0.6v0.6h-0.6zM318.5 529.0h0.6v0.6h-0.6zM315.4 538.4h0.6v0.6h-0.6zM317.6 536.8h0.6v0.6h-0.6zM315.5 533.9h0.6v0.6h-0.6zM316.2 533.2h0.6v0.6h-0.6zM316.8 530.6h0.6v0.6h-0.6zM317.1 529.9h0.6v0.6h-0.6zM314.3 535.5h0.6v0.6h-0.6zM321.7 539.3h0.6v0.6h-0.6zM313.5 541.1h0.6v0.6h-0.6zM317.5 540.9h0.6v0.6h-0.6zM315.4 535.7h0.6v0.6h-0.6zM320.4 535.8h0.6v0.6h-0.6zM315.9 538.0h0.6v0.6h-0.6zM315.9 533.2h0.6v0.6h-0.6zM321.5 538.2h0.6v0.6h-0.6zM316.9 531.7h0.6v0.6h-0.6zM315.0 534.3h0.6v0.6h-0.6zM318.3 537.4h0.6v0.6h-0.6zM314.3 530.2h0.6v0.6h-0.6zM317.7 540.6h0.6v0.6h-0.6zM315.7 537.9h0.6v0.6h-0.6zM318.1 534.4h0.6v0.6h-0.6zM314.2 533.9h0.6v0.6h-0.6zM319.2 535.9h0.6v0.6h-0.6zM319.5 531.8h0.6v0.6h-0.6zM314.8 538.6h0.6v0.6h-0.6zM316.8 535.9h0.6v0.6h-0.6zM318.6 538.4h0.6v0.6h-0.6zM313.6 530.7h0.6v0.6h-0.6zM317.2 539.9h0.6v0.6h-0.6zM317.7 537.5h0.6v0.6h-0.6zM313.9 541.9h0.6v0.6h-0.6zM314.9 540.2h0.6v0.6h-0.6zM320.2 538.7h0.6v0.6h-0.6zM317.9 530.4h0.6v0.6h-0.6zM316.2 534.8h0.6v0.6h-0.6zM314.3 536.0h0.6v0.6h-0.6zM318.5 532.1h0.6v0.6h-0.6zM315.5 539.2h0.6v0.6h-0.6zM322.6 530.1h0.6v0.6h-0.6zM317.8 540.2h0.6v0.6h-0.6zM315.5 531.8h0.6v0.6h-0.6zM314.5 536.8h0.6v0.6h-0.6zM317.3 542.2h0.6v0.6h-0.6zM314.4 537.4h0.6v0.6h-0.6zM315.0 532.3h0.6v0.6h-0.6zM316.3 537.0h0.6v0.6h-0.6zM317.7 534.7h0.6v0.6h-0.6zM320.6 536.8h0.6v0.6h-0.6zM314.4 535.1h0.6v0.6h-0.6zM320.5 535.8h0.6v0.6h-0.6zM317.0 533.7h0.6v0.6h-0.6zM317.9 534.5h0.6v0.6h-0.6zM314.9 536.9h0.6v0.6h-0.6zM319.2 535.0h0.6v0.6h-0.6zM319.2 540.2h0.6v0.6h-0.6zM316.1 539.3h0.6v0.6h-0.6zM319.2 534.4h0.6v0.6h-0.6zM316.8 531.3h0.6v0.6h-0.6zM316.0 528.6h0.6v0.6h-0.6zM314.0 533.1h0.6v0.6h-0.6zM315.1 538.1h0.6v0.6h-0.6zM316.3 534.4h0.6v0.6h-0.6zM320.4 533.0h0.6v0.6h-0.6zM317.4 533.9h0.6v0.6h-0.6z" fill="#1c1cff" opacity="0.8"/>
<path d="M316.40 541.20 L331.50 543.10 L331.50 557.60 L316.40 558.20 Z" fill="#1c1cff" filter="url(#sb)"/>
<ellipse cx="316.40" cy="548.70" rx="6.30" ry="11.20" fill="#1c1cff" opacity="1" filter="url(#sb)"/>
<ellipse cx="331.50" cy="549.60" rx="9.50" ry="7.60" fill="#1c1cff" opacity="1" filter="url(#sb)"/>
<ellipse cx="332.50" cy="519.50" rx="5.00" ry="4.20" fill="#1c1cff" opacity="0.45" filter="url(#sb)"/>
<ellipse cx="316.40" cy="549.20" rx="5.60" ry="10.50" fill="url(#jete)" opacity="1"/>
<ellipse cx="331.50" cy="549.60" rx="7.80" ry="6.60" fill="url(#cyn)" opacity="1"/>
</g>
<rect x="301.80" y="507.40" width="54.80" height="54.90" fill="none" stroke="#b4b4b4" stroke-width="0.8"/>
<clipPath id="ce1"><rect x="363.2" y="507.4" width="55.80000000000001" height="54.89999999999998"/></clipPath>
<g clip-path="url(#ce1)">
<path d="M376.4 540.8h0.6v0.6h-0.6zM377.1 547.1h0.6v0.6h-0.6zM379.0 545.5h0.6v0.6h-0.6zM377.8 559.1h0.6v0.6h-0.6zM376.8 548.3h0.6v0.6h-0.6zM381.3 552.7h0.6v0.6h-0.6zM377.7 544.7h0.6v0.6h-0.6zM378.9 550.5h0.6v0.6h-0.6zM375.2 543.7h0.6v0.6h-0.6zM379.7 552.5h0.6v0.6h-0.6zM378.7 535.8h0.6v0.6h-0.6zM375.7 557.3h0.6v0.6h-0.6zM372.4 550.7h0.6v0.6h-0.6zM373.8 554.5h0.6v0.6h-0.6zM377.1 541.2h0.6v0.6h-0.6zM380.3 541.2h0.6v0.6h-0.6zM385.2 550.7h0.6v0.6h-0.6zM371.8 541.1h0.6v0.6h-0.6zM379.9 547.2h0.6v0.6h-0.6zM382.8 551.5h0.6v0.6h-0.6zM375.0 539.7h0.6v0.6h-0.6zM381.8 548.4h0.6v0.6h-0.6zM376.6 552.2h0.6v0.6h-0.6zM382.0 542.7h0.6v0.6h-0.6zM389.5 555.3h0.6v0.6h-0.6zM385.1 548.1h0.6v0.6h-0.6zM376.1 541.5h0.6v0.6h-0.6zM376.5 544.9h0.6v0.6h-0.6zM376.1 543.6h0.6v0.6h-0.6zM376.5 548.9h0.6v0.6h-0.6zM378.0 553.4h0.6v0.6h-0.6zM384.4 549.2h0.6v0.6h-0.6zM379.0 551.2h0.6v0.6h-0.6zM378.6 549.1h0.6v0.6h-0.6zM375.1 552.9h0.6v0.6h-0.6zM384.8 556.5h0.6v0.6h-0.6zM376.4 556.6h0.6v0.6h-0.6zM376.6 539.1h0.6v0.6h-0.6zM381.8 550.2h0.6v0.6h-0.6zM377.1 548.0h0.6v0.6h-0.6zM375.6 558.9h0.6v0.6h-0.6zM382.1 556.0h0.6v0.6h-0.6zM379.5 540.7h0.6v0.6h-0.6zM374.5 545.7h0.6v0.6h-0.6zM371.9 537.4h0.6v0.6h-0.6zM376.8 551.9h0.6v0.6h-0.6zM374.0 550.9h0.6v0.6h-0.6zM377.3 547.2h0.6v0.6h-0.6zM371.5 539.4h0.6v0.6h-0.6zM379.0 552.0h0.6v0.6h-0.6zM378.0 543.3h0.6v0.6h-0.6zM385.9 553.4h0.6v0.6h-0.6zM380.9 543.6h0.6v0.6h-0.6zM367.7 558.6h0.6v0.6h-0.6zM378.3 558.4h0.6v0.6h-0.6zM381.6 537.3h0.6v0.6h-0.6zM383.4 555.9h0.6v0.6h-0.6zM378.3 556.9h0.6v0.6h-0.6zM376.5 544.4h0.6v0.6h-0.6zM380.0 549.0h0.6v0.6h-0.6zM378.6 546.1h0.6v0.6h-0.6zM379.7 554.8h0.6v0.6h-0.6zM376.0 541.9h0.6v0.6h-0.6zM373.6 540.9h0.6v0.6h-0.6zM374.3 552.7h0.6v0.6h-0.6zM377.3 542.5h0.6v0.6h-0.6zM376.9 554.3h0.6v0.6h-0.6zM382.2 546.9h0.6v0.6h-0.6zM380.3 552.2h0.6v0.6h-0.6zM374.2 555.3h0.6v0.6h-0.6zM375.8 550.6h0.6v0.6h-0.6zM381.7 555.8h0.6v0.6h-0.6zM383.9 542.5h0.6v0.6h-0.6zM383.2 541.7h0.6v0.6h-0.6zM374.8 550.5h0.6v0.6h-0.6zM377.1 542.1h0.6v0.6h-0.6zM375.4 549.1h0.6v0.6h-0.6zM372.6 552.8h0.6v0.6h-0.6zM378.4 549.2h0.6v0.6h-0.6zM379.7 537.2h0.6v0.6h-0.6zM368.1 541.1h0.6v0.6h-0.6zM377.4 545.3h0.6v0.6h-0.6zM376.4 555.0h0.6v0.6h-0.6zM384.3 558.6h0.6v0.6h-0.6zM383.8 556.2h0.6v0.6h-0.6zM376.1 551.4h0.6v0.6h-0.6zM382.4 553.4h0.6v0.6h-0.6zM377.4 550.7h0.6v0.6h-0.6zM381.2 539.2h0.6v0.6h-0.6zM373.0 551.5h0.6v0.6h-0.6zM381.4 549.8h0.6v0.6h-0.6zM381.6 548.5h0.6v0.6h-0.6zM372.3 554.0h0.6v0.6h-0.6zM380.4 547.3h0.6v0.6h-0.6zM384.2 555.1h0.6v0.6h-0.6zM378.1 536.9h0.6v0.6h-0.6zM383.4 553.8h0.6v0.6h-0.6zM374.5 560.0h0.6v0.6h-0.6zM374.0 546.8h0.6v0.6h-0.6zM372.9 554.5h0.6v0.6h-0.6zM382.3 556.8h0.6v0.6h-0.6zM369.4 552.3h0.6v0.6h-0.6zM381.5 544.9h0.6v0.6h-0.6zM377.4 540.1h0.6v0.6h-0.6zM382.1 548.5h0.6v0.6h-0.6zM379.5 551.0h0.6v0.6h-0.6zM378.4 546.4h0.6v0.6h-0.6zM381.4 548.3h0.6v0.6h-0.6zM382.7 548.0h0.6v0.6h-0.6zM383.4 538.3h0.6v0.6h-0.6zM383.1 548.1h0.6v0.6h-0.6zM381.9 549.7h0.6v0.6h-0.6zM376.1 558.8h0.6v0.6h-0.6zM377.7 549.7h0.6v0.6h-0.6zM371.6 550.5h0.6v0.6h-0.6zM377.3 548.1h0.6v0.6h-0.6zM377.6 544.1h0.6v0.6h-0.6zM384.2 539.3h0.6v0.6h-0.6zM386.2 552.1h0.6v0.6h-0.6zM373.5 543.6h0.6v0.6h-0.6zM371.4 551.0h0.6v0.6h-0.6zM375.4 550.6h0.6v0.6h-0.6zM379.4 547.0h0.6v0.6h-0.6zM386.1 549.5h0.6v0.6h-0.6zM373.0 553.2h0.6v0.6h-0.6zM372.8 555.5h0.6v0.6h-0.6zM373.2 549.7h0.6v0.6h-0.6zM383.8 543.9h0.6v0.6h-0.6zM375.7 545.6h0.6v0.6h-0.6zM377.1 545.6h0.6v0.6h-0.6zM373.5 558.4h0.6v0.6h-0.6zM380.8 541.2h0.6v0.6h-0.6zM376.8 538.9h0.6v0.6h-0.6zM378.3 556.4h0.6v0.6h-0.6zM375.4 546.1h0.6v0.6h-0.6zM375.9 543.3h0.6v0.6h-0.6zM383.5 550.0h0.6v0.6h-0.6zM376.0 555.3h0.6v0.6h-0.6zM381.2 544.4h0.6v0.6h-0.6zM376.5 537.5h0.6v0.6h-0.6zM373.7 547.0h0.6v0.6h-0.6zM379.7 542.7h0.6v0.6h-0.6zM374.5 538.5h0.6v0.6h-0.6zM378.6 544.9h0.6v0.6h-0.6zM382.8 540.3h0.6v0.6h-0.6zM377.2 547.1h0.6v0.6h-0.6zM375.5 546.7h0.6v0.6h-0.6zM383.0 542.7h0.6v0.6h-0.6zM377.8 550.3h0.6v0.6h-0.6zM375.3 555.4h0.6v0.6h-0.6zM378.3 553.0h0.6v0.6h-0.6zM381.4 543.3h0.6v0.6h-0.6zM380.9 539.4h0.6v0.6h-0.6zM379.9 543.3h0.6v0.6h-0.6zM380.6 557.8h0.6v0.6h-0.6zM378.1 545.1h0.6v0.6h-0.6zM373.3 546.6h0.6v0.6h-0.6zM378.4 541.8h0.6v0.6h-0.6zM370.9 552.4h0.6v0.6h-0.6zM380.3 548.4h0.6v0.6h-0.6zM374.0 549.6h0.6v0.6h-0.6zM373.1 555.5h0.6v0.6h-0.6zM384.8 553.0h0.6v0.6h-0.6zM379.2 535.8h0.6v0.6h-0.6zM379.1 550.9h0.6v0.6h-0.6zM376.9 543.9h0.6v0.6h-0.6zM378.7 539.9h0.6v0.6h-0.6zM375.4 552.3h0.6v0.6h-0.6zM376.2 542.9h0.6v0.6h-0.6zM378.4 548.8h0.6v0.6h-0.6zM378.4 548.1h0.6v0.6h-0.6zM366.9 540.4h0.6v0.6h-0.6zM384.0 552.7h0.6v0.6h-0.6zM375.4 539.8h0.6v0.6h-0.6zM382.0 550.7h0.6v0.6h-0.6zM383.4 552.9h0.6v0.6h-0.6zM379.8 548.4h0.6v0.6h-0.6zM376.3 551.4h0.6v0.6h-0.6zM380.7 556.4h0.6v0.6h-0.6zM376.5 555.0h0.6v0.6h-0.6zM373.8 555.3h0.6v0.6h-0.6zM367.3 551.3h0.6v0.6h-0.6zM381.1 542.3h0.6v0.6h-0.6zM378.8 545.9h0.6v0.6h-0.6zM384.5 538.4h0.6v0.6h-0.6zM378.0 552.6h0.6v0.6h-0.6zM379.4 551.4h0.6v0.6h-0.6zM379.0 557.8h0.6v0.6h-0.6zM377.0 539.4h0.6v0.6h-0.6zM380.4 556.9h0.6v0.6h-0.6zM380.6 546.1h0.6v0.6h-0.6zM380.6 549.5h0.6v0.6h-0.6zM374.4 538.7h0.6v0.6h-0.6zM377.2 553.0h0.6v0.6h-0.6zM386.1 551.0h0.6v0.6h-0.6zM379.1 546.8h0.6v0.6h-0.6zM375.5 545.2h0.6v0.6h-0.6zM372.1 548.3h0.6v0.6h-0.6zM383.7 535.4h0.6v0.6h-0.6zM382.7 548.1h0.6v0.6h-0.6zM378.7 549.5h0.6v0.6h-0.6zM381.0 553.0h0.6v0.6h-0.6zM383.0 541.1h0.6v0.6h-0.6zM378.9 542.6h0.6v0.6h-0.6zM376.7 559.3h0.6v0.6h-0.6zM378.3 552.7h0.6v0.6h-0.6zM374.6 551.4h0.6v0.6h-0.6zM379.5 542.9h0.6v0.6h-0.6zM374.6 538.8h0.6v0.6h-0.6zM375.6 552.8h0.6v0.6h-0.6zM373.5 543.1h0.6v0.6h-0.6zM376.6 549.7h0.6v0.6h-0.6zM377.3 549.7h0.6v0.6h-0.6zM376.3 560.5h0.6v0.6h-0.6zM378.6 536.3h0.6v0.6h-0.6zM378.7 548.8h0.6v0.6h-0.6zM382.7 538.6h0.6v0.6h-0.6zM377.9 548.6h0.6v0.6h-0.6zM380.0 538.7h0.6v0.6h-0.6zM383.6 548.3h0.6v0.6h-0.6zM373.0 546.1h0.6v0.6h-0.6zM374.4 549.6h0.6v0.6h-0.6zM373.7 551.4h0.6v0.6h-0.6zM377.2 547.9h0.6v0.6h-0.6zM376.0 548.5h0.6v0.6h-0.6zM377.8 543.6h0.6v0.6h-0.6zM378.7 545.1h0.6v0.6h-0.6zM368.9 547.0h0.6v0.6h-0.6zM383.8 548.4h0.6v0.6h-0.6zM380.5 550.7h0.6v0.6h-0.6zM376.2 551.6h0.6v0.6h-0.6zM381.4 540.3h0.6v0.6h-0.6zM380.4 555.4h0.6v0.6h-0.6zM379.7 551.4h0.6v0.6h-0.6zM379.2 548.6h0.6v0.6h-0.6z" fill="#1c1cff" opacity="0.8"/>
<path d="M395.6 550.4h0.6v0.6h-0.6zM390.7 546.2h0.6v0.6h-0.6zM398.4 547.5h0.6v0.6h-0.6zM383.3 549.5h0.6v0.6h-0.6zM384.0 557.3h0.6v0.6h-0.6zM399.1 551.9h0.6v0.6h-0.6zM392.2 544.1h0.6v0.6h-0.6zM394.4 549.1h0.6v0.6h-0.6zM391.6 549.7h0.6v0.6h-0.6zM398.9 551.6h0.6v0.6h-0.6zM390.3 539.6h0.6v0.6h-0.6zM395.5 546.1h0.6v0.6h-0.6zM397.8 556.1h0.6v0.6h-0.6zM403.7 550.2h0.6v0.6h-0.6zM401.1 556.1h0.6v0.6h-0.6zM395.8 550.2h0.6v0.6h-0.6zM399.8 548.8h0.6v0.6h-0.6zM393.1 545.8h0.6v0.6h-0.6zM395.6 546.3h0.6v0.6h-0.6zM399.5 547.6h0.6v0.6h-0.6zM402.8 554.2h0.6v0.6h-0.6zM389.4 553.7h0.6v0.6h-0.6zM393.6 554.9h0.6v0.6h-0.6zM398.1 548.8h0.6v0.6h-0.6zM398.9 546.6h0.6v0.6h-0.6zM397.2 550.7h0.6v0.6h-0.6zM394.9 550.7h0.6v0.6h-0.6zM390.6 551.5h0.6v0.6h-0.6zM389.6 551.7h0.6v0.6h-0.6zM398.0 552.1h0.6v0.6h-0.6zM394.5 549.7h0.6v0.6h-0.6zM391.9 555.2h0.6v0.6h-0.6zM393.3 553.4h0.6v0.6h-0.6zM391.0 550.4h0.6v0.6h-0.6zM393.8 553.1h0.6v0.6h-0.6zM394.2 545.4h0.6v0.6h-0.6zM397.9 544.0h0.6v0.6h-0.6zM391.0 552.4h0.6v0.6h-0.6zM386.5 552.4h0.6v0.6h-0.6zM393.7 545.3h0.6v0.6h-0.6zM396.9 551.9h0.6v0.6h-0.6zM392.9 548.4h0.6v0.6h-0.6zM399.7 552.4h0.6v0.6h-0.6zM395.5 545.9h0.6v0.6h-0.6zM391.1 546.7h0.6v0.6h-0.6zM399.1 551.7h0.6v0.6h-0.6zM397.3 555.1h0.6v0.6h-0.6zM394.3 547.6h0.6v0.6h-0.6zM393.9 557.4h0.6v0.6h-0.6zM385.7 550.5h0.6v0.6h-0.6zM398.0 549.5h0.6v0.6h-0.6zM407.3 554.2h0.6v0.6h-0.6zM399.6 545.4h0.6v0.6h-0.6zM398.3 547.7h0.6v0.6h-0.6zM396.1 550.1h0.6v0.6h-0.6zM393.5 552.0h0.6v0.6h-0.6zM403.9 553.7h0.6v0.6h-0.6zM396.9 541.1h0.6v0.6h-0.6zM401.2 553.9h0.6v0.6h-0.6zM394.9 547.3h0.6v0.6h-0.6zM399.1 545.9h0.6v0.6h-0.6zM399.8 544.7h0.6v0.6h-0.6zM391.4 549.4h0.6v0.6h-0.6zM388.8 549.3h0.6v0.6h-0.6zM398.5 543.8h0.6v0.6h-0.6zM400.5 547.0h0.6v0.6h-0.6zM398.6 550.3h0.6v0.6h-0.6zM393.7 547.1h0.6v0.6h-0.6zM387.6 546.4h0.6v0.6h-0.6zM392.2 556.3h0.6v0.6h-0.6zM400.9 543.6h0.6v0.6h-0.6zM399.9 550.3h0.6v0.6h-0.6zM394.1 551.3h0.6v0.6h-0.6zM399.8 547.0h0.6v0.6h-0.6zM394.6 550.1h0.6v0.6h-0.6zM391.2 550.2h0.6v0.6h-0.6zM395.6 546.5h0.6v0.6h-0.6zM391.9 550.7h0.6v0.6h-0.6zM400.2 550.8h0.6v0.6h-0.6zM391.8 552.5h0.6v0.6h-0.6zM396.8 551.9h0.6v0.6h-0.6zM401.6 545.6h0.6v0.6h-0.6zM395.3 546.9h0.6v0.6h-0.6zM391.7 557.8h0.6v0.6h-0.6zM400.6 541.9h0.6v0.6h-0.6zM398.1 547.0h0.6v0.6h-0.6zM401.6 549.7h0.6v0.6h-0.6zM395.1 550.0h0.6v0.6h-0.6zM397.9 549.5h0.6v0.6h-0.6zM394.9 548.8h0.6v0.6h-0.6zM398.5 544.6h0.6v0.6h-0.6zM396.0 548.9h0.6v0.6h-0.6zM393.6 552.5h0.6v0.6h-0.6zM389.7 547.9h0.6v0.6h-0.6zM391.9 551.7h0.6v0.6h-0.6zM393.7 549.6h0.6v0.6h-0.6zM397.9 542.7h0.6v0.6h-0.6zM398.2 546.3h0.6v0.6h-0.6zM394.8 548.9h0.6v0.6h-0.6zM399.9 552.5h0.6v0.6h-0.6zM404.6 550.1h0.6v0.6h-0.6zM393.7 547.3h0.6v0.6h-0.6zM399.2 556.1h0.6v0.6h-0.6zM397.7 547.0h0.6v0.6h-0.6zM397.3 550.5h0.6v0.6h-0.6zM396.2 546.3h0.6v0.6h-0.6zM383.7 547.1h0.6v0.6h-0.6zM401.1 550.3h0.6v0.6h-0.6zM385.3 549.4h0.6v0.6h-0.6zM387.0 557.8h0.6v0.6h-0.6zM396.9 544.3h0.6v0.6h-0.6zM399.9 546.1h0.6v0.6h-0.6zM398.7 549.5h0.6v0.6h-0.6zM390.3 552.2h0.6v0.6h-0.6zM389.5 555.0h0.6v0.6h-0.6zM396.3 545.1h0.6v0.6h-0.6zM387.2 556.2h0.6v0.6h-0.6zM403.0 544.1h0.6v0.6h-0.6zM404.0 550.1h0.6v0.6h-0.6zM394.9 549.0h0.6v0.6h-0.6zM394.7 555.4h0.6v0.6h-0.6zM396.7 541.7h0.6v0.6h-0.6zM406.2 553.1h0.6v0.6h-0.6zM390.7 547.9h0.6v0.6h-0.6zM391.6 549.6h0.6v0.6h-0.6zM397.9 550.4h0.6v0.6h-0.6zM393.1 546.0h0.6v0.6h-0.6zM400.1 549.0h0.6v0.6h-0.6zM406.9 546.0h0.6v0.6h-0.6zM399.8 549.6h0.6v0.6h-0.6zM392.3 555.1h0.6v0.6h-0.6zM396.6 545.6h0.6v0.6h-0.6zM394.5 553.7h0.6v0.6h-0.6zM390.1 555.2h0.6v0.6h-0.6zM399.3 548.2h0.6v0.6h-0.6zM402.6 556.8h0.6v0.6h-0.6zM398.9 550.1h0.6v0.6h-0.6zM405.0 555.7h0.6v0.6h-0.6zM391.5 548.5h0.6v0.6h-0.6zM395.0 547.7h0.6v0.6h-0.6zM388.7 553.2h0.6v0.6h-0.6zM396.4 549.8h0.6v0.6h-0.6zM402.9 547.0h0.6v0.6h-0.6zM395.7 550.6h0.6v0.6h-0.6zM393.9 548.9h0.6v0.6h-0.6zM399.7 549.4h0.6v0.6h-0.6zM402.5 546.2h0.6v0.6h-0.6zM397.0 543.4h0.6v0.6h-0.6zM395.4 546.4h0.6v0.6h-0.6zM402.6 552.5h0.6v0.6h-0.6zM398.5 557.2h0.6v0.6h-0.6zM403.1 552.4h0.6v0.6h-0.6zM392.6 543.3h0.6v0.6h-0.6zM395.9 547.9h0.6v0.6h-0.6zM392.8 548.2h0.6v0.6h-0.6zM387.9 555.7h0.6v0.6h-0.6zM390.4 546.6h0.6v0.6h-0.6zM398.8 542.5h0.6v0.6h-0.6zM400.5 553.4h0.6v0.6h-0.6zM394.5 544.8h0.6v0.6h-0.6zM393.7 541.5h0.6v0.6h-0.6zM402.8 549.6h0.6v0.6h-0.6zM392.4 545.5h0.6v0.6h-0.6zM398.8 555.8h0.6v0.6h-0.6zM389.7 547.0h0.6v0.6h-0.6zM387.4 552.3h0.6v0.6h-0.6zM396.8 559.0h0.6v0.6h-0.6zM395.4 547.5h0.6v0.6h-0.6zM392.5 553.0h0.6v0.6h-0.6zM388.0 552.6h0.6v0.6h-0.6zM397.2 547.2h0.6v0.6h-0.6zM391.6 553.9h0.6v0.6h-0.6zM405.2 547.5h0.6v0.6h-0.6zM398.6 556.8h0.6v0.6h-0.6zM392.9 548.3h0.6v0.6h-0.6zM390.0 548.8h0.6v0.6h-0.6zM395.6 547.6h0.6v0.6h-0.6zM392.4 542.6h0.6v0.6h-0.6zM389.4 545.2h0.6v0.6h-0.6zM399.2 547.2h0.6v0.6h-0.6zM391.8 552.2h0.6v0.6h-0.6zM398.8 546.2h0.6v0.6h-0.6zM392.9 552.2h0.6v0.6h-0.6zM397.8 545.8h0.6v0.6h-0.6zM397.2 549.3h0.6v0.6h-0.6zM401.5 545.7h0.6v0.6h-0.6zM400.4 551.3h0.6v0.6h-0.6zM391.0 553.9h0.6v0.6h-0.6zM400.5 543.7h0.6v0.6h-0.6zM405.8 544.5h0.6v0.6h-0.6zM391.4 548.0h0.6v0.6h-0.6zM399.8 551.9h0.6v0.6h-0.6zM395.5 555.3h0.6v0.6h-0.6zM398.0 555.4h0.6v0.6h-0.6zM410.0 550.2h0.6v0.6h-0.6zM383.2 547.5h0.6v0.6h-0.6zM390.6 549.8h0.6v0.6h-0.6zM396.5 544.1h0.6v0.6h-0.6zM390.2 548.3h0.6v0.6h-0.6zM395.0 538.1h0.6v0.6h-0.6zM400.9 549.5h0.6v0.6h-0.6zM396.0 550.7h0.6v0.6h-0.6zM390.9 549.2h0.6v0.6h-0.6zM401.2 554.1h0.6v0.6h-0.6zM398.3 548.2h0.6v0.6h-0.6zM391.9 555.1h0.6v0.6h-0.6zM398.6 547.6h0.6v0.6h-0.6zM385.1 545.6h0.6v0.6h-0.6zM386.3 554.8h0.6v0.6h-0.6zM397.0 546.1h0.6v0.6h-0.6zM394.6 560.8h0.6v0.6h-0.6zM402.2 543.5h0.6v0.6h-0.6zM395.3 544.0h0.6v0.6h-0.6zM387.3 550.2h0.6v0.6h-0.6zM408.3 556.3h0.6v0.6h-0.6zM396.2 547.7h0.6v0.6h-0.6zM397.0 554.0h0.6v0.6h-0.6zM388.6 541.2h0.6v0.6h-0.6zM405.6 550.6h0.6v0.6h-0.6z" fill="#1c1cff" opacity="0.8"/>
<path d="M384.8 523.6h0.6v0.6h-0.6zM384.7 522.0h0.6v0.6h-0.6zM390.5 523.9h0.6v0.6h-0.6zM386.8 521.4h0.6v0.6h-0.6zM387.2 520.8h0.6v0.6h-0.6zM398.2 518.8h0.6v0.6h-0.6zM386.1 524.3h0.6v0.6h-0.6zM397.7 519.7h0.6v0.6h-0.6zM388.3 520.8h0.6v0.6h-0.6zM403.2 517.7h0.6v0.6h-0.6zM388.0 522.8h0.6v0.6h-0.6zM398.2 514.8h0.6v0.6h-0.6zM387.7 523.6h0.6v0.6h-0.6zM389.2 520.9h0.6v0.6h-0.6zM389.5 520.2h0.6v0.6h-0.6zM392.4 518.3h0.6v0.6h-0.6zM390.2 520.1h0.6v0.6h-0.6zM387.9 523.3h0.6v0.6h-0.6zM396.5 522.1h0.6v0.6h-0.6zM396.9 519.2h0.6v0.6h-0.6zM387.7 524.6h0.6v0.6h-0.6zM402.1 518.2h0.6v0.6h-0.6zM387.2 525.1h0.6v0.6h-0.6zM401.0 515.2h0.6v0.6h-0.6zM391.7 519.4h0.6v0.6h-0.6zM385.2 521.6h0.6v0.6h-0.6zM386.5 523.6h0.6v0.6h-0.6zM397.4 516.1h0.6v0.6h-0.6zM393.7 519.7h0.6v0.6h-0.6zM387.1 521.9h0.6v0.6h-0.6zM386.5 519.3h0.6v0.6h-0.6zM404.9 514.3h0.6v0.6h-0.6zM389.3 520.6h0.6v0.6h-0.6zM396.4 519.3h0.6v0.6h-0.6zM382.9 523.7h0.6v0.6h-0.6zM394.2 517.6h0.6v0.6h-0.6zM382.8 523.9h0.6v0.6h-0.6zM389.7 523.6h0.6v0.6h-0.6zM386.2 520.7h0.6v0.6h-0.6zM387.9 523.6h0.6v0.6h-0.6zM390.1 523.0h0.6v0.6h-0.6zM394.0 519.3h0.6v0.6h-0.6zM394.5 520.8h0.6v0.6h-0.6zM394.8 519.9h0.6v0.6h-0.6zM396.4 518.2h0.6v0.6h-0.6zM393.1 519.6h0.6v0.6h-0.6zM390.9 520.3h0.6v0.6h-0.6zM391.1 516.4h0.6v0.6h-0.6zM386.2 521.3h0.6v0.6h-0.6zM392.1 518.5h0.6v0.6h-0.6zM386.5 520.6h0.6v0.6h-0.6zM390.2 523.4h0.6v0.6h-0.6zM385.1 525.4h0.6v0.6h-0.6zM388.0 519.4h0.6v0.6h-0.6zM386.7 524.8h0.6v0.6h-0.6zM388.4 523.3h0.6v0.6h-0.6zM390.9 519.7h0.6v0.6h-0.6zM387.7 524.6h0.6v0.6h-0.6zM396.8 520.1h0.6v0.6h-0.6zM391.1 522.4h0.6v0.6h-0.6zM391.1 522.9h0.6v0.6h-0.6zM387.6 523.8h0.6v0.6h-0.6zM398.2 519.4h0.6v0.6h-0.6zM390.5 518.6h0.6v0.6h-0.6zM387.5 519.3h0.6v0.6h-0.6zM388.8 525.0h0.6v0.6h-0.6zM394.4 521.2h0.6v0.6h-0.6zM390.0 522.4h0.6v0.6h-0.6zM397.9 519.1h0.6v0.6h-0.6zM391.5 522.0h0.6v0.6h-0.6zM392.3 522.4h0.6v0.6h-0.6zM390.8 522.1h0.6v0.6h-0.6zM385.6 523.2h0.6v0.6h-0.6zM387.3 522.6h0.6v0.6h-0.6zM388.8 520.5h0.6v0.6h-0.6zM388.9 524.0h0.6v0.6h-0.6zM392.4 521.7h0.6v0.6h-0.6zM388.8 519.4h0.6v0.6h-0.6zM390.9 523.4h0.6v0.6h-0.6zM392.4 516.6h0.6v0.6h-0.6zM390.1 519.8h0.6v0.6h-0.6zM383.1 523.8h0.6v0.6h-0.6zM391.1 519.4h0.6v0.6h-0.6zM390.0 520.0h0.6v0.6h-0.6zM395.4 518.8h0.6v0.6h-0.6zM395.9 521.3h0.6v0.6h-0.6zM396.5 518.3h0.6v0.6h-0.6zM393.5 516.9h0.6v0.6h-0.6zM382.8 519.9h0.6v0.6h-0.6zM384.1 520.7h0.6v0.6h-0.6zM392.6 524.6h0.6v0.6h-0.6zM399.8 514.4h0.6v0.6h-0.6zM385.9 523.1h0.6v0.6h-0.6zM393.8 519.5h0.6v0.6h-0.6zM395.8 519.0h0.6v0.6h-0.6zM384.7 522.5h0.6v0.6h-0.6zM391.7 522.8h0.6v0.6h-0.6zM382.4 523.0h0.6v0.6h-0.6zM389.8 520.1h0.6v0.6h-0.6zM394.0 518.7h0.6v0.6h-0.6zM393.0 516.5h0.6v0.6h-0.6zM399.6 515.8h0.6v0.6h-0.6zM391.7 522.8h0.6v0.6h-0.6zM393.7 519.3h0.6v0.6h-0.6zM389.1 522.9h0.6v0.6h-0.6zM391.9 520.2h0.6v0.6h-0.6zM383.1 523.2h0.6v0.6h-0.6zM392.5 516.9h0.6v0.6h-0.6zM389.4 520.8h0.6v0.6h-0.6zM382.9 523.3h0.6v0.6h-0.6zM388.6 523.5h0.6v0.6h-0.6zM383.4 521.2h0.6v0.6h-0.6zM384.7 523.3h0.6v0.6h-0.6zM391.7 519.8h0.6v0.6h-0.6zM392.9 519.2h0.6v0.6h-0.6zM402.0 517.3h0.6v0.6h-0.6zM390.5 519.0h0.6v0.6h-0.6zM393.3 524.3h0.6v0.6h-0.6zM389.5 520.5h0.6v0.6h-0.6zM383.5 522.2h0.6v0.6h-0.6zM391.8 519.3h0.6v0.6h-0.6zM393.0 521.4h0.6v0.6h-0.6zM388.4 520.3h0.6v0.6h-0.6zM392.1 520.4h0.6v0.6h-0.6zM393.2 519.7h0.6v0.6h-0.6zM394.1 518.0h0.6v0.6h-0.6zM390.6 518.8h0.6v0.6h-0.6zM389.5 520.9h0.6v0.6h-0.6zM395.1 517.9h0.6v0.6h-0.6zM393.4 519.4h0.6v0.6h-0.6zM390.8 520.4h0.6v0.6h-0.6zM396.2 521.4h0.6v0.6h-0.6zM387.6 522.3h0.6v0.6h-0.6zM387.6 522.7h0.6v0.6h-0.6zM392.7 520.2h0.6v0.6h-0.6zM380.6 526.8h0.6v0.6h-0.6zM386.7 521.7h0.6v0.6h-0.6zM390.4 525.4h0.6v0.6h-0.6zM390.4 523.1h0.6v0.6h-0.6zM386.5 523.8h0.6v0.6h-0.6zM384.8 523.6h0.6v0.6h-0.6zM388.9 520.3h0.6v0.6h-0.6zM380.3 525.6h0.6v0.6h-0.6zM392.0 523.0h0.6v0.6h-0.6zM393.6 519.6h0.6v0.6h-0.6zM394.9 519.2h0.6v0.6h-0.6zM393.5 520.7h0.6v0.6h-0.6zM391.6 519.3h0.6v0.6h-0.6zM392.7 519.8h0.6v0.6h-0.6zM394.3 521.2h0.6v0.6h-0.6zM388.7 521.9h0.6v0.6h-0.6zM397.0 519.3h0.6v0.6h-0.6zM397.1 518.6h0.6v0.6h-0.6zM390.9 519.6h0.6v0.6h-0.6zM394.6 517.9h0.6v0.6h-0.6zM382.5 523.6h0.6v0.6h-0.6zM393.0 521.8h0.6v0.6h-0.6zM390.4 523.0h0.6v0.6h-0.6zM396.0 516.5h0.6v0.6h-0.6zM377.2 526.2h0.6v0.6h-0.6zM392.9 520.3h0.6v0.6h-0.6zM386.4 520.2h0.6v0.6h-0.6zM390.3 520.9h0.6v0.6h-0.6zM388.7 522.0h0.6v0.6h-0.6zM393.2 518.1h0.6v0.6h-0.6zM402.6 517.9h0.6v0.6h-0.6zM397.5 517.3h0.6v0.6h-0.6zM384.1 522.7h0.6v0.6h-0.6zM388.7 521.2h0.6v0.6h-0.6zM388.5 521.7h0.6v0.6h-0.6zM394.6 521.9h0.6v0.6h-0.6zM391.7 517.8h0.6v0.6h-0.6zM393.3 520.8h0.6v0.6h-0.6zM396.8 519.9h0.6v0.6h-0.6zM389.7 525.4h0.6v0.6h-0.6zM394.7 520.5h0.6v0.6h-0.6zM398.4 516.9h0.6v0.6h-0.6zM391.3 521.4h0.6v0.6h-0.6zM391.7 520.2h0.6v0.6h-0.6zM393.8 518.7h0.6v0.6h-0.6zM390.6 522.0h0.6v0.6h-0.6zM389.4 523.3h0.6v0.6h-0.6zM385.2 519.5h0.6v0.6h-0.6zM393.6 519.3h0.6v0.6h-0.6zM395.0 521.1h0.6v0.6h-0.6zM388.2 521.6h0.6v0.6h-0.6zM391.8 522.8h0.6v0.6h-0.6zM392.8 519.4h0.6v0.6h-0.6zM388.0 522.8h0.6v0.6h-0.6zM385.7 523.6h0.6v0.6h-0.6zM387.9 520.9h0.6v0.6h-0.6zM395.5 518.9h0.6v0.6h-0.6zM403.1 516.6h0.6v0.6h-0.6zM387.4 522.3h0.6v0.6h-0.6zM393.2 521.9h0.6v0.6h-0.6zM392.3 522.1h0.6v0.6h-0.6zM382.7 525.5h0.6v0.6h-0.6zM387.8 522.9h0.6v0.6h-0.6zM390.6 521.4h0.6v0.6h-0.6zM391.9 522.4h0.6v0.6h-0.6zM398.2 517.3h0.6v0.6h-0.6zM388.1 520.2h0.6v0.6h-0.6zM391.5 519.2h0.6v0.6h-0.6zM390.2 522.7h0.6v0.6h-0.6zM385.7 523.8h0.6v0.6h-0.6zM394.7 519.7h0.6v0.6h-0.6zM390.0 523.8h0.6v0.6h-0.6zM400.9 517.4h0.6v0.6h-0.6zM399.7 518.6h0.6v0.6h-0.6zM389.9 522.1h0.6v0.6h-0.6zM388.0 522.7h0.6v0.6h-0.6zM394.5 520.0h0.6v0.6h-0.6zM386.3 522.4h0.6v0.6h-0.6zM390.6 518.5h0.6v0.6h-0.6zM386.2 521.6h0.6v0.6h-0.6zM394.4 518.5h0.6v0.6h-0.6zM395.0 518.6h0.6v0.6h-0.6zM386.6 524.0h0.6v0.6h-0.6zM386.5 525.4h0.6v0.6h-0.6zM395.6 519.8h0.6v0.6h-0.6zM386.7 526.9h0.6v0.6h-0.6zM396.5 515.7h0.6v0.6h-0.6zM389.3 520.7h0.6v0.6h-0.6zM396.0 519.4h0.6v0.6h-0.6zM393.3 515.4h0.6v0.6h-0.6zM391.7 520.7h0.6v0.6h-0.6zM389.4 523.1h0.6v0.6h-0.6zM390.6 520.4h0.6v0.6h-0.6zM393.2 516.6h0.6v0.6h-0.6zM394.0 521.4h0.6v0.6h-0.6zM390.1 525.0h0.6v0.6h-0.6zM391.0 517.3h0.6v0.6h-0.6zM388.7 523.6h0.6v0.6h-0.6zM395.4 515.8h0.6v0.6h-0.6zM391.3 521.9h0.6v0.6h-0.6zM396.0 518.0h0.6v0.6h-0.6zM394.0 517.2h0.6v0.6h-0.6zM397.2 518.4h0.6v0.6h-0.6zM392.7 518.7h0.6v0.6h-0.6zM403.8 518.9h0.6v0.6h-0.6zM395.4 518.6h0.6v0.6h-0.6zM396.6 519.1h0.6v0.6h-0.6zM398.0 518.0h0.6v0.6h-0.6zM393.0 521.7h0.6v0.6h-0.6zM395.8 517.5h0.6v0.6h-0.6zM393.9 523.5h0.6v0.6h-0.6zM398.0 518.4h0.6v0.6h-0.6zM394.5 519.8h0.6v0.6h-0.6zM388.9 521.8h0.6v0.6h-0.6zM390.6 521.4h0.6v0.6h-0.6zM393.9 519.1h0.6v0.6h-0.6zM398.3 517.0h0.6v0.6h-0.6zM394.6 518.7h0.6v0.6h-0.6zM388.7 522.3h0.6v0.6h-0.6zM390.3 523.1h0.6v0.6h-0.6zM402.0 517.1h0.6v0.6h-0.6zM391.6 520.2h0.6v0.6h-0.6zM397.5 519.1h0.6v0.6h-0.6zM387.4 524.1h0.6v0.6h-0.6zM392.4 521.3h0.6v0.6h-0.6z" fill="#1c1cff" opacity="0.8"/>
<path d="M391.0 535.3h0.6v0.6h-0.6zM384.6 537.1h0.6v0.6h-0.6zM384.7 530.6h0.6v0.6h-0.6zM382.1 531.3h0.6v0.6h-0.6zM381.4 534.5h0.6v0.6h-0.6zM385.4 525.4h0.6v0.6h-0.6zM383.1 526.7h0.6v0.6h-0.6zM387.1 518.1h0.6v0.6h-0.6zM383.5 530.0h0.6v0.6h-0.6zM384.8 532.7h0.6v0.6h-0.6zM391.7 526.0h0.6v0.6h-0.6zM387.7 527.4h0.6v0.6h-0.6zM381.6 540.5h0.6v0.6h-0.6zM380.9 530.6h0.6v0.6h-0.6zM382.7 536.0h0.6v0.6h-0.6zM389.0 523.7h0.6v0.6h-0.6zM380.6 535.3h0.6v0.6h-0.6zM384.8 536.8h0.6v0.6h-0.6zM390.6 545.6h0.6v0.6h-0.6zM383.0 526.8h0.6v0.6h-0.6zM384.5 525.0h0.6v0.6h-0.6zM386.8 530.3h0.6v0.6h-0.6zM378.4 530.5h0.6v0.6h-0.6zM389.4 525.4h0.6v0.6h-0.6zM383.4 536.6h0.6v0.6h-0.6zM383.4 529.2h0.6v0.6h-0.6zM377.6 530.1h0.6v0.6h-0.6zM381.5 535.1h0.6v0.6h-0.6zM374.4 530.8h0.6v0.6h-0.6zM389.1 531.3h0.6v0.6h-0.6zM389.8 517.2h0.6v0.6h-0.6zM381.2 532.7h0.6v0.6h-0.6zM388.4 520.9h0.6v0.6h-0.6zM386.3 531.5h0.6v0.6h-0.6zM381.0 528.4h0.6v0.6h-0.6zM380.4 535.0h0.6v0.6h-0.6zM377.6 535.2h0.6v0.6h-0.6zM378.5 524.7h0.6v0.6h-0.6zM377.3 537.5h0.6v0.6h-0.6zM386.5 523.5h0.6v0.6h-0.6zM392.4 531.3h0.6v0.6h-0.6zM386.4 540.6h0.6v0.6h-0.6zM377.0 534.0h0.6v0.6h-0.6zM382.7 524.9h0.6v0.6h-0.6zM378.7 529.0h0.6v0.6h-0.6zM380.8 524.7h0.6v0.6h-0.6zM385.6 536.1h0.6v0.6h-0.6zM382.9 528.1h0.6v0.6h-0.6zM381.3 531.7h0.6v0.6h-0.6zM377.4 528.5h0.6v0.6h-0.6zM387.7 533.8h0.6v0.6h-0.6zM385.8 532.1h0.6v0.6h-0.6zM391.8 532.1h0.6v0.6h-0.6zM378.9 531.2h0.6v0.6h-0.6zM386.7 524.0h0.6v0.6h-0.6zM386.9 536.1h0.6v0.6h-0.6zM384.7 534.8h0.6v0.6h-0.6zM381.3 521.4h0.6v0.6h-0.6zM382.5 519.6h0.6v0.6h-0.6zM384.4 522.2h0.6v0.6h-0.6zM376.5 529.0h0.6v0.6h-0.6zM386.9 534.2h0.6v0.6h-0.6zM384.5 522.0h0.6v0.6h-0.6zM382.9 534.1h0.6v0.6h-0.6zM384.7 534.9h0.6v0.6h-0.6zM384.7 536.1h0.6v0.6h-0.6zM385.9 529.0h0.6v0.6h-0.6zM384.9 534.5h0.6v0.6h-0.6zM380.9 527.4h0.6v0.6h-0.6zM381.8 527.8h0.6v0.6h-0.6zM384.6 531.1h0.6v0.6h-0.6zM383.9 529.4h0.6v0.6h-0.6zM390.0 530.9h0.6v0.6h-0.6zM381.7 536.9h0.6v0.6h-0.6zM382.7 532.4h0.6v0.6h-0.6zM383.0 529.4h0.6v0.6h-0.6zM378.7 526.3h0.6v0.6h-0.6zM384.7 515.7h0.6v0.6h-0.6zM380.4 536.7h0.6v0.6h-0.6zM382.4 532.8h0.6v0.6h-0.6zM380.8 531.5h0.6v0.6h-0.6zM383.5 528.6h0.6v0.6h-0.6zM384.8 516.1h0.6v0.6h-0.6zM374.4 529.1h0.6v0.6h-0.6zM383.8 533.6h0.6v0.6h-0.6zM385.3 531.1h0.6v0.6h-0.6zM379.8 527.5h0.6v0.6h-0.6zM382.3 527.3h0.6v0.6h-0.6zM391.0 542.7h0.6v0.6h-0.6zM382.3 527.0h0.6v0.6h-0.6z" fill="#1c1cff" opacity="0.8"/>
<path d="M381.2 538.1h0.6v0.6h-0.6zM377.2 532.0h0.6v0.6h-0.6zM387.4 540.0h0.6v0.6h-0.6zM373.9 529.1h0.6v0.6h-0.6zM376.7 536.7h0.6v0.6h-0.6zM382.0 534.6h0.6v0.6h-0.6zM373.6 536.7h0.6v0.6h-0.6zM382.2 535.9h0.6v0.6h-0.6zM378.0 538.1h0.6v0.6h-0.6zM379.7 531.5h0.6v0.6h-0.6zM380.3 530.9h0.6v0.6h-0.6zM383.6 537.7h0.6v0.6h-0.6zM376.0 536.7h0.6v0.6h-0.6zM384.7 527.5h0.6v0.6h-0.6zM379.3 542.3h0.6v0.6h-0.6zM373.8 535.2h0.6v0.6h-0.6zM374.3 535.6h0.6v0.6h-0.6zM370.5 529.6h0.6v0.6h-0.6zM377.8 536.4h0.6v0.6h-0.6zM381.4 537.5h0.6v0.6h-0.6zM384.4 538.6h0.6v0.6h-0.6zM382.8 532.1h0.6v0.6h-0.6zM379.3 548.3h0.6v0.6h-0.6zM388.7 539.1h0.6v0.6h-0.6zM382.8 539.7h0.6v0.6h-0.6zM378.3 543.5h0.6v0.6h-0.6zM378.4 535.6h0.6v0.6h-0.6zM388.4 527.7h0.6v0.6h-0.6zM381.3 529.1h0.6v0.6h-0.6zM377.3 535.5h0.6v0.6h-0.6zM378.5 536.6h0.6v0.6h-0.6zM376.9 535.5h0.6v0.6h-0.6zM375.2 534.4h0.6v0.6h-0.6zM374.4 538.5h0.6v0.6h-0.6zM374.8 538.6h0.6v0.6h-0.6zM378.3 534.7h0.6v0.6h-0.6zM384.5 536.3h0.6v0.6h-0.6zM372.4 537.8h0.6v0.6h-0.6zM368.4 536.9h0.6v0.6h-0.6zM378.3 530.4h0.6v0.6h-0.6zM380.2 534.7h0.6v0.6h-0.6zM387.8 534.1h0.6v0.6h-0.6zM387.6 541.3h0.6v0.6h-0.6zM377.5 532.7h0.6v0.6h-0.6zM385.1 535.3h0.6v0.6h-0.6zM380.5 534.9h0.6v0.6h-0.6zM375.1 534.4h0.6v0.6h-0.6zM376.1 529.8h0.6v0.6h-0.6zM378.7 543.0h0.6v0.6h-0.6zM386.3 535.6h0.6v0.6h-0.6zM380.4 537.9h0.6v0.6h-0.6zM385.3 537.1h0.6v0.6h-0.6zM378.0 534.3h0.6v0.6h-0.6zM384.4 546.2h0.6v0.6h-0.6zM377.4 527.7h0.6v0.6h-0.6zM383.1 535.6h0.6v0.6h-0.6zM380.4 540.8h0.6v0.6h-0.6zM380.2 530.6h0.6v0.6h-0.6zM372.1 535.7h0.6v0.6h-0.6zM375.3 537.0h0.6v0.6h-0.6zM374.8 534.5h0.6v0.6h-0.6zM374.0 534.4h0.6v0.6h-0.6zM378.1 538.3h0.6v0.6h-0.6zM385.2 535.2h0.6v0.6h-0.6zM376.4 543.7h0.6v0.6h-0.6zM381.3 538.3h0.6v0.6h-0.6zM382.3 541.7h0.6v0.6h-0.6zM383.9 538.6h0.6v0.6h-0.6zM382.9 532.5h0.6v0.6h-0.6zM377.5 535.5h0.6v0.6h-0.6zM380.3 536.0h0.6v0.6h-0.6zM381.1 536.0h0.6v0.6h-0.6zM378.2 529.4h0.6v0.6h-0.6zM383.2 538.2h0.6v0.6h-0.6zM376.4 537.9h0.6v0.6h-0.6zM381.5 536.2h0.6v0.6h-0.6zM372.6 531.1h0.6v0.6h-0.6zM377.5 542.3h0.6v0.6h-0.6zM376.5 534.5h0.6v0.6h-0.6zM375.5 533.9h0.6v0.6h-0.6zM381.3 527.6h0.6v0.6h-0.6zM368.6 538.5h0.6v0.6h-0.6zM380.0 533.5h0.6v0.6h-0.6zM383.8 539.8h0.6v0.6h-0.6zM371.5 535.2h0.6v0.6h-0.6zM384.3 533.2h0.6v0.6h-0.6zM378.6 539.7h0.6v0.6h-0.6zM378.8 531.1h0.6v0.6h-0.6zM377.2 530.6h0.6v0.6h-0.6zM382.1 529.0h0.6v0.6h-0.6z" fill="#1c1cff" opacity="0.8"/>
<path d="M378.50 541.40 L396.00 542.90 L396.00 557.40 L378.50 558.40 Z" fill="#1c1cff" filter="url(#sb)"/>
<ellipse cx="378.50" cy="548.90" rx="6.30" ry="11.20" fill="#1c1cff" opacity="1" filter="url(#sb)"/>
<ellipse cx="396.00" cy="549.40" rx="9.50" ry="7.60" fill="#1c1cff" opacity="1" filter="url(#sb)"/>
<ellipse cx="391.60" cy="520.40" rx="5.50" ry="2.60" fill="#1c1cff" opacity="0.45" filter="url(#sb)" transform="rotate(-35 391.60 520.40)"/>
<ellipse cx="378.50" cy="549.40" rx="5.60" ry="10.50" fill="url(#jete)" opacity="1"/>
<ellipse cx="396.00" cy="549.40" rx="7.80" ry="6.60" fill="url(#grn)" opacity="1"/>
</g>
<rect x="363.20" y="507.40" width="55.80" height="54.90" fill="none" stroke="#b4b4b4" stroke-width="0.8"/>
<clipPath id="ce2"><rect x="425.8" y="507.4" width="55.69999999999999" height="54.89999999999998"/></clipPath>
<g clip-path="url(#ce2)">
<path d="M434.0 554.6h0.6v0.6h-0.6zM434.7 548.4h0.6v0.6h-0.6zM445.2 546.1h0.6v0.6h-0.6zM446.4 555.4h0.6v0.6h-0.6zM441.3 547.6h0.6v0.6h-0.6zM443.5 549.6h0.6v0.6h-0.6zM445.5 545.5h0.6v0.6h-0.6zM445.7 550.2h0.6v0.6h-0.6zM443.7 551.2h0.6v0.6h-0.6zM439.1 543.4h0.6v0.6h-0.6zM439.6 539.7h0.6v0.6h-0.6zM444.4 547.0h0.6v0.6h-0.6zM454.5 539.9h0.6v0.6h-0.6zM446.2 547.3h0.6v0.6h-0.6zM430.3 554.9h0.6v0.6h-0.6zM447.1 546.4h0.6v0.6h-0.6zM444.1 532.4h0.6v0.6h-0.6zM438.9 542.2h0.6v0.6h-0.6zM433.1 549.6h0.6v0.6h-0.6zM438.2 549.4h0.6v0.6h-0.6zM443.8 543.3h0.6v0.6h-0.6zM440.7 551.7h0.6v0.6h-0.6zM442.0 543.4h0.6v0.6h-0.6zM441.7 558.0h0.6v0.6h-0.6zM439.9 553.9h0.6v0.6h-0.6zM443.2 551.9h0.6v0.6h-0.6zM436.2 549.8h0.6v0.6h-0.6zM439.9 540.7h0.6v0.6h-0.6zM435.8 548.7h0.6v0.6h-0.6zM443.2 541.2h0.6v0.6h-0.6zM438.5 554.8h0.6v0.6h-0.6zM437.8 543.5h0.6v0.6h-0.6zM445.1 547.6h0.6v0.6h-0.6zM440.5 538.8h0.6v0.6h-0.6zM439.4 545.4h0.6v0.6h-0.6zM439.2 540.1h0.6v0.6h-0.6zM442.3 541.0h0.6v0.6h-0.6zM434.9 548.3h0.6v0.6h-0.6zM438.8 536.9h0.6v0.6h-0.6zM442.9 552.3h0.6v0.6h-0.6zM426.9 547.6h0.6v0.6h-0.6zM437.7 544.8h0.6v0.6h-0.6zM435.7 545.9h0.6v0.6h-0.6zM438.0 545.2h0.6v0.6h-0.6zM440.6 546.8h0.6v0.6h-0.6zM441.6 547.3h0.6v0.6h-0.6zM440.8 545.4h0.6v0.6h-0.6zM444.3 554.7h0.6v0.6h-0.6zM446.4 550.1h0.6v0.6h-0.6zM436.7 549.5h0.6v0.6h-0.6zM437.9 536.6h0.6v0.6h-0.6zM442.5 547.6h0.6v0.6h-0.6zM438.4 555.1h0.6v0.6h-0.6zM444.1 542.8h0.6v0.6h-0.6zM438.8 555.7h0.6v0.6h-0.6zM446.6 550.2h0.6v0.6h-0.6zM440.6 550.1h0.6v0.6h-0.6zM446.4 534.5h0.6v0.6h-0.6zM441.4 552.2h0.6v0.6h-0.6zM435.6 545.0h0.6v0.6h-0.6zM440.4 547.4h0.6v0.6h-0.6zM435.7 555.2h0.6v0.6h-0.6zM441.0 557.4h0.6v0.6h-0.6zM436.7 555.8h0.6v0.6h-0.6zM446.0 550.3h0.6v0.6h-0.6zM434.6 548.8h0.6v0.6h-0.6zM443.1 545.9h0.6v0.6h-0.6zM434.7 538.9h0.6v0.6h-0.6zM436.8 549.6h0.6v0.6h-0.6zM435.9 552.5h0.6v0.6h-0.6zM437.6 536.1h0.6v0.6h-0.6zM437.2 557.8h0.6v0.6h-0.6zM441.9 548.0h0.6v0.6h-0.6zM445.4 541.9h0.6v0.6h-0.6zM442.7 549.2h0.6v0.6h-0.6zM433.5 537.1h0.6v0.6h-0.6zM440.0 530.1h0.6v0.6h-0.6zM443.9 546.6h0.6v0.6h-0.6zM439.8 557.7h0.6v0.6h-0.6zM442.7 546.3h0.6v0.6h-0.6zM437.4 558.0h0.6v0.6h-0.6zM439.8 552.1h0.6v0.6h-0.6zM444.3 545.9h0.6v0.6h-0.6zM436.3 542.9h0.6v0.6h-0.6zM440.7 552.4h0.6v0.6h-0.6zM440.3 546.3h0.6v0.6h-0.6zM439.3 551.3h0.6v0.6h-0.6zM442.6 553.0h0.6v0.6h-0.6zM446.2 557.7h0.6v0.6h-0.6zM440.0 553.6h0.6v0.6h-0.6zM438.4 548.8h0.6v0.6h-0.6zM446.6 551.7h0.6v0.6h-0.6zM437.4 539.2h0.6v0.6h-0.6zM436.7 545.5h0.6v0.6h-0.6zM438.7 539.8h0.6v0.6h-0.6zM443.9 556.5h0.6v0.6h-0.6zM441.0 548.3h0.6v0.6h-0.6zM443.8 537.3h0.6v0.6h-0.6zM436.3 550.9h0.6v0.6h-0.6zM440.1 549.4h0.6v0.6h-0.6zM436.7 544.7h0.6v0.6h-0.6zM436.9 543.7h0.6v0.6h-0.6zM442.4 551.1h0.6v0.6h-0.6zM440.1 550.2h0.6v0.6h-0.6zM449.5 545.4h0.6v0.6h-0.6zM445.9 536.0h0.6v0.6h-0.6zM441.2 550.4h0.6v0.6h-0.6zM440.0 544.8h0.6v0.6h-0.6zM435.0 540.4h0.6v0.6h-0.6zM433.9 547.4h0.6v0.6h-0.6zM445.6 553.6h0.6v0.6h-0.6zM434.4 525.7h0.6v0.6h-0.6zM441.8 549.9h0.6v0.6h-0.6zM442.7 548.8h0.6v0.6h-0.6zM444.5 553.0h0.6v0.6h-0.6zM441.0 559.8h0.6v0.6h-0.6zM434.1 553.7h0.6v0.6h-0.6zM435.8 547.3h0.6v0.6h-0.6zM450.7 557.2h0.6v0.6h-0.6zM435.4 551.6h0.6v0.6h-0.6zM441.0 547.4h0.6v0.6h-0.6zM445.5 549.4h0.6v0.6h-0.6zM429.8 554.3h0.6v0.6h-0.6zM438.8 557.0h0.6v0.6h-0.6zM446.8 544.5h0.6v0.6h-0.6zM435.1 546.4h0.6v0.6h-0.6zM441.1 539.5h0.6v0.6h-0.6zM447.2 554.0h0.6v0.6h-0.6zM438.9 547.0h0.6v0.6h-0.6zM439.0 558.7h0.6v0.6h-0.6zM441.9 557.6h0.6v0.6h-0.6zM439.9 549.7h0.6v0.6h-0.6zM439.0 550.1h0.6v0.6h-0.6zM440.3 543.7h0.6v0.6h-0.6zM442.2 543.9h0.6v0.6h-0.6zM439.8 548.7h0.6v0.6h-0.6zM439.9 546.9h0.6v0.6h-0.6zM440.9 559.5h0.6v0.6h-0.6zM439.7 544.3h0.6v0.6h-0.6zM440.1 552.5h0.6v0.6h-0.6zM439.8 547.2h0.6v0.6h-0.6zM442.5 549.2h0.6v0.6h-0.6zM434.0 551.0h0.6v0.6h-0.6zM429.9 541.2h0.6v0.6h-0.6zM445.6 553.4h0.6v0.6h-0.6zM441.5 556.6h0.6v0.6h-0.6zM440.7 555.6h0.6v0.6h-0.6zM434.4 547.4h0.6v0.6h-0.6zM438.4 543.1h0.6v0.6h-0.6zM447.9 554.1h0.6v0.6h-0.6zM442.5 545.1h0.6v0.6h-0.6zM437.7 549.9h0.6v0.6h-0.6zM437.7 537.0h0.6v0.6h-0.6zM439.6 538.8h0.6v0.6h-0.6zM440.1 547.2h0.6v0.6h-0.6zM442.9 547.0h0.6v0.6h-0.6zM444.6 542.1h0.6v0.6h-0.6zM441.2 537.3h0.6v0.6h-0.6zM437.6 550.7h0.6v0.6h-0.6zM443.6 537.8h0.6v0.6h-0.6zM444.2 543.8h0.6v0.6h-0.6zM440.9 553.1h0.6v0.6h-0.6zM445.0 548.1h0.6v0.6h-0.6zM437.0 550.6h0.6v0.6h-0.6zM443.2 549.2h0.6v0.6h-0.6zM441.7 549.4h0.6v0.6h-0.6zM440.4 547.2h0.6v0.6h-0.6zM434.9 542.1h0.6v0.6h-0.6zM438.2 555.4h0.6v0.6h-0.6zM434.6 549.6h0.6v0.6h-0.6zM437.4 549.1h0.6v0.6h-0.6zM444.8 541.9h0.6v0.6h-0.6zM432.1 555.5h0.6v0.6h-0.6zM444.6 549.8h0.6v0.6h-0.6zM443.7 540.2h0.6v0.6h-0.6zM436.7 544.7h0.6v0.6h-0.6zM439.0 545.8h0.6v0.6h-0.6zM450.2 539.1h0.6v0.6h-0.6zM437.8 545.2h0.6v0.6h-0.6zM440.6 553.6h0.6v0.6h-0.6zM439.8 556.7h0.6v0.6h-0.6zM441.3 550.4h0.6v0.6h-0.6zM440.0 549.2h0.6v0.6h-0.6zM447.9 547.4h0.6v0.6h-0.6zM438.6 543.7h0.6v0.6h-0.6zM443.3 545.9h0.6v0.6h-0.6zM444.8 550.7h0.6v0.6h-0.6zM442.0 539.5h0.6v0.6h-0.6zM439.7 547.0h0.6v0.6h-0.6zM432.7 549.2h0.6v0.6h-0.6zM441.5 549.9h0.6v0.6h-0.6zM440.5 538.9h0.6v0.6h-0.6zM439.3 558.1h0.6v0.6h-0.6zM439.9 551.9h0.6v0.6h-0.6zM437.0 542.9h0.6v0.6h-0.6zM446.3 545.6h0.6v0.6h-0.6zM437.9 553.4h0.6v0.6h-0.6zM440.3 554.5h0.6v0.6h-0.6zM442.7 543.7h0.6v0.6h-0.6zM434.3 542.2h0.6v0.6h-0.6zM433.3 556.4h0.6v0.6h-0.6zM434.5 551.6h0.6v0.6h-0.6zM440.1 547.9h0.6v0.6h-0.6zM431.8 545.3h0.6v0.6h-0.6zM440.7 547.4h0.6v0.6h-0.6zM440.6 542.3h0.6v0.6h-0.6zM437.9 554.5h0.6v0.6h-0.6zM436.1 549.8h0.6v0.6h-0.6zM443.5 550.6h0.6v0.6h-0.6zM446.7 550.9h0.6v0.6h-0.6zM445.3 541.7h0.6v0.6h-0.6zM438.3 544.6h0.6v0.6h-0.6zM441.9 555.2h0.6v0.6h-0.6zM434.9 556.6h0.6v0.6h-0.6zM438.7 549.9h0.6v0.6h-0.6zM433.0 546.4h0.6v0.6h-0.6zM441.8 554.2h0.6v0.6h-0.6zM435.3 541.8h0.6v0.6h-0.6zM446.7 542.6h0.6v0.6h-0.6zM439.5 547.5h0.6v0.6h-0.6zM441.0 551.3h0.6v0.6h-0.6zM444.0 549.7h0.6v0.6h-0.6zM444.6 550.3h0.6v0.6h-0.6zM441.2 540.6h0.6v0.6h-0.6zM441.4 545.9h0.6v0.6h-0.6zM438.3 548.0h0.6v0.6h-0.6zM444.9 546.0h0.6v0.6h-0.6zM435.8 544.7h0.6v0.6h-0.6zM445.0 552.0h0.6v0.6h-0.6zM441.5 546.5h0.6v0.6h-0.6zM440.1 542.9h0.6v0.6h-0.6zM444.3 555.3h0.6v0.6h-0.6z" fill="#1c1cff" opacity="0.8"/>
<path d="M459.8 547.7h0.6v0.6h-0.6zM450.8 550.3h0.6v0.6h-0.6zM461.4 553.5h0.6v0.6h-0.6zM469.4 550.5h0.6v0.6h-0.6zM464.0 544.0h0.6v0.6h-0.6zM465.2 552.7h0.6v0.6h-0.6zM466.0 551.9h0.6v0.6h-0.6zM461.4 555.4h0.6v0.6h-0.6zM455.7 551.7h0.6v0.6h-0.6zM464.6 545.5h0.6v0.6h-0.6zM453.3 550.8h0.6v0.6h-0.6zM459.8 551.6h0.6v0.6h-0.6zM462.4 545.6h0.6v0.6h-0.6zM460.8 553.9h0.6v0.6h-0.6zM457.3 547.7h0.6v0.6h-0.6zM453.4 552.5h0.6v0.6h-0.6zM469.1 542.9h0.6v0.6h-0.6zM463.0 552.9h0.6v0.6h-0.6zM456.3 547.3h0.6v0.6h-0.6zM453.9 545.5h0.6v0.6h-0.6zM460.0 551.8h0.6v0.6h-0.6zM459.8 552.7h0.6v0.6h-0.6zM460.2 543.8h0.6v0.6h-0.6zM466.5 554.2h0.6v0.6h-0.6zM455.6 556.8h0.6v0.6h-0.6zM461.6 549.6h0.6v0.6h-0.6zM468.9 538.0h0.6v0.6h-0.6zM451.1 552.1h0.6v0.6h-0.6zM458.0 544.8h0.6v0.6h-0.6zM466.9 551.1h0.6v0.6h-0.6zM452.7 546.1h0.6v0.6h-0.6zM463.5 556.8h0.6v0.6h-0.6zM449.1 550.1h0.6v0.6h-0.6zM457.3 541.3h0.6v0.6h-0.6zM458.4 542.0h0.6v0.6h-0.6zM456.5 556.1h0.6v0.6h-0.6zM461.8 552.5h0.6v0.6h-0.6zM462.3 550.6h0.6v0.6h-0.6zM464.2 543.9h0.6v0.6h-0.6zM457.4 552.8h0.6v0.6h-0.6zM455.6 547.1h0.6v0.6h-0.6zM465.4 555.8h0.6v0.6h-0.6zM456.2 545.5h0.6v0.6h-0.6zM462.2 550.2h0.6v0.6h-0.6zM455.9 551.7h0.6v0.6h-0.6zM462.1 549.4h0.6v0.6h-0.6zM474.2 555.0h0.6v0.6h-0.6zM463.4 553.6h0.6v0.6h-0.6zM474.3 553.9h0.6v0.6h-0.6zM455.7 550.5h0.6v0.6h-0.6zM459.7 546.6h0.6v0.6h-0.6zM460.6 550.2h0.6v0.6h-0.6zM459.0 546.9h0.6v0.6h-0.6zM463.5 542.1h0.6v0.6h-0.6zM463.5 549.1h0.6v0.6h-0.6zM460.7 538.6h0.6v0.6h-0.6zM467.9 541.5h0.6v0.6h-0.6zM454.9 551.9h0.6v0.6h-0.6zM456.2 547.3h0.6v0.6h-0.6zM448.0 547.2h0.6v0.6h-0.6zM460.4 552.1h0.6v0.6h-0.6zM457.9 550.1h0.6v0.6h-0.6zM461.6 546.1h0.6v0.6h-0.6zM455.5 557.7h0.6v0.6h-0.6zM455.0 554.5h0.6v0.6h-0.6zM459.7 555.6h0.6v0.6h-0.6zM456.1 551.4h0.6v0.6h-0.6zM461.0 548.1h0.6v0.6h-0.6zM460.9 545.7h0.6v0.6h-0.6zM458.9 547.3h0.6v0.6h-0.6zM463.2 548.7h0.6v0.6h-0.6zM452.2 547.5h0.6v0.6h-0.6zM458.8 545.1h0.6v0.6h-0.6zM466.1 550.9h0.6v0.6h-0.6zM463.6 545.7h0.6v0.6h-0.6zM457.3 553.6h0.6v0.6h-0.6zM452.0 550.7h0.6v0.6h-0.6zM459.8 546.9h0.6v0.6h-0.6zM459.8 544.4h0.6v0.6h-0.6zM460.5 543.7h0.6v0.6h-0.6zM452.8 555.3h0.6v0.6h-0.6zM455.8 539.8h0.6v0.6h-0.6zM464.3 545.7h0.6v0.6h-0.6zM441.4 548.8h0.6v0.6h-0.6zM464.1 550.7h0.6v0.6h-0.6zM468.1 548.6h0.6v0.6h-0.6zM462.4 544.7h0.6v0.6h-0.6zM460.2 555.9h0.6v0.6h-0.6zM461.9 549.8h0.6v0.6h-0.6zM449.2 547.4h0.6v0.6h-0.6zM452.8 552.5h0.6v0.6h-0.6zM455.6 550.7h0.6v0.6h-0.6zM454.2 557.5h0.6v0.6h-0.6zM453.3 549.7h0.6v0.6h-0.6zM472.8 550.1h0.6v0.6h-0.6zM454.9 551.8h0.6v0.6h-0.6zM464.4 553.0h0.6v0.6h-0.6zM449.3 550.1h0.6v0.6h-0.6zM448.5 557.5h0.6v0.6h-0.6zM459.7 547.1h0.6v0.6h-0.6zM462.8 551.3h0.6v0.6h-0.6zM453.3 556.3h0.6v0.6h-0.6zM458.1 541.3h0.6v0.6h-0.6zM466.5 555.9h0.6v0.6h-0.6zM465.8 551.6h0.6v0.6h-0.6zM454.8 553.3h0.6v0.6h-0.6zM468.9 552.7h0.6v0.6h-0.6zM467.6 545.7h0.6v0.6h-0.6zM464.6 553.3h0.6v0.6h-0.6zM451.7 541.9h0.6v0.6h-0.6zM455.7 549.5h0.6v0.6h-0.6zM461.7 548.1h0.6v0.6h-0.6zM459.0 548.6h0.6v0.6h-0.6zM459.8 551.7h0.6v0.6h-0.6zM461.9 548.9h0.6v0.6h-0.6zM460.7 547.1h0.6v0.6h-0.6zM463.5 546.9h0.6v0.6h-0.6zM467.8 549.0h0.6v0.6h-0.6zM460.8 545.7h0.6v0.6h-0.6zM457.6 549.9h0.6v0.6h-0.6zM459.5 546.4h0.6v0.6h-0.6zM453.4 549.3h0.6v0.6h-0.6zM460.2 551.6h0.6v0.6h-0.6zM465.8 547.7h0.6v0.6h-0.6zM449.1 548.5h0.6v0.6h-0.6zM449.9 543.4h0.6v0.6h-0.6zM464.7 551.7h0.6v0.6h-0.6zM456.1 546.3h0.6v0.6h-0.6zM458.9 541.3h0.6v0.6h-0.6zM461.9 547.6h0.6v0.6h-0.6zM468.9 544.4h0.6v0.6h-0.6zM464.6 546.1h0.6v0.6h-0.6zM464.7 544.8h0.6v0.6h-0.6zM463.2 547.2h0.6v0.6h-0.6zM455.1 548.5h0.6v0.6h-0.6zM461.9 551.0h0.6v0.6h-0.6zM467.6 552.8h0.6v0.6h-0.6zM445.7 547.4h0.6v0.6h-0.6zM449.1 547.4h0.6v0.6h-0.6zM462.6 543.2h0.6v0.6h-0.6zM453.3 549.8h0.6v0.6h-0.6zM457.9 556.2h0.6v0.6h-0.6zM461.1 551.5h0.6v0.6h-0.6zM468.5 546.9h0.6v0.6h-0.6zM459.4 544.7h0.6v0.6h-0.6zM460.7 553.8h0.6v0.6h-0.6zM466.5 549.0h0.6v0.6h-0.6zM455.7 545.7h0.6v0.6h-0.6zM452.2 549.7h0.6v0.6h-0.6zM466.4 538.5h0.6v0.6h-0.6zM448.1 555.5h0.6v0.6h-0.6zM451.1 550.7h0.6v0.6h-0.6zM452.9 552.7h0.6v0.6h-0.6zM463.5 549.9h0.6v0.6h-0.6zM463.7 549.4h0.6v0.6h-0.6zM462.3 557.4h0.6v0.6h-0.6zM465.1 546.2h0.6v0.6h-0.6zM455.3 548.1h0.6v0.6h-0.6zM458.2 549.5h0.6v0.6h-0.6zM456.3 552.1h0.6v0.6h-0.6zM459.6 550.8h0.6v0.6h-0.6zM459.5 552.0h0.6v0.6h-0.6zM453.2 556.3h0.6v0.6h-0.6zM461.3 551.2h0.6v0.6h-0.6zM462.6 554.1h0.6v0.6h-0.6zM463.3 550.3h0.6v0.6h-0.6zM458.5 541.8h0.6v0.6h-0.6zM460.6 547.8h0.6v0.6h-0.6zM457.8 560.0h0.6v0.6h-0.6zM449.8 549.5h0.6v0.6h-0.6zM465.8 553.6h0.6v0.6h-0.6zM465.9 543.5h0.6v0.6h-0.6zM454.5 552.0h0.6v0.6h-0.6zM458.0 556.9h0.6v0.6h-0.6zM460.7 550.1h0.6v0.6h-0.6zM461.8 548.0h0.6v0.6h-0.6zM460.1 546.2h0.6v0.6h-0.6zM459.3 547.1h0.6v0.6h-0.6zM460.9 542.9h0.6v0.6h-0.6zM451.8 551.3h0.6v0.6h-0.6zM460.7 544.9h0.6v0.6h-0.6zM458.4 544.6h0.6v0.6h-0.6zM470.1 542.2h0.6v0.6h-0.6zM468.4 545.6h0.6v0.6h-0.6zM461.7 548.1h0.6v0.6h-0.6zM457.6 553.5h0.6v0.6h-0.6zM463.8 548.0h0.6v0.6h-0.6zM454.8 558.6h0.6v0.6h-0.6zM466.9 549.9h0.6v0.6h-0.6zM458.0 550.6h0.6v0.6h-0.6zM460.0 554.7h0.6v0.6h-0.6zM454.5 549.4h0.6v0.6h-0.6zM455.5 555.2h0.6v0.6h-0.6zM468.9 548.9h0.6v0.6h-0.6zM462.4 555.6h0.6v0.6h-0.6zM458.0 545.1h0.6v0.6h-0.6zM465.0 551.6h0.6v0.6h-0.6zM458.5 555.9h0.6v0.6h-0.6zM460.8 541.3h0.6v0.6h-0.6zM461.4 549.0h0.6v0.6h-0.6zM469.4 549.2h0.6v0.6h-0.6zM458.5 551.3h0.6v0.6h-0.6zM460.8 543.0h0.6v0.6h-0.6zM460.2 547.8h0.6v0.6h-0.6zM466.9 560.1h0.6v0.6h-0.6zM453.8 545.0h0.6v0.6h-0.6zM455.2 546.4h0.6v0.6h-0.6zM456.0 549.6h0.6v0.6h-0.6zM465.2 543.5h0.6v0.6h-0.6zM451.6 541.0h0.6v0.6h-0.6zM465.3 555.3h0.6v0.6h-0.6zM451.6 542.0h0.6v0.6h-0.6zM460.3 554.2h0.6v0.6h-0.6zM464.9 550.2h0.6v0.6h-0.6zM463.1 550.8h0.6v0.6h-0.6zM456.7 557.9h0.6v0.6h-0.6zM459.6 544.3h0.6v0.6h-0.6zM457.2 542.4h0.6v0.6h-0.6zM459.7 554.3h0.6v0.6h-0.6zM453.0 554.4h0.6v0.6h-0.6z" fill="#1c1cff" opacity="0.8"/>
<path d="M443.4 544.8h0.6v0.6h-0.6zM439.7 531.7h0.6v0.6h-0.6zM438.4 535.0h0.6v0.6h-0.6zM441.5 531.4h0.6v0.6h-0.6zM444.1 535.7h0.6v0.6h-0.6zM447.9 531.6h0.6v0.6h-0.6zM445.0 540.6h0.6v0.6h-0.6zM447.5 533.8h0.6v0.6h-0.6zM447.7 535.0h0.6v0.6h-0.6zM439.6 540.7h0.6v0.6h-0.6zM447.9 534.6h0.6v0.6h-0.6zM441.8 540.4h0.6v0.6h-0.6zM442.9 537.2h0.6v0.6h-0.6zM441.7 533.3h0.6v0.6h-0.6zM441.0 533.7h0.6v0.6h-0.6zM439.4 538.2h0.6v0.6h-0.6zM442.6 539.3h0.6v0.6h-0.6zM445.0 539.4h0.6v0.6h-0.6zM444.2 541.4h0.6v0.6h-0.6zM441.7 539.2h0.6v0.6h-0.6zM439.6 538.7h0.6v0.6h-0.6zM444.5 535.4h0.6v0.6h-0.6zM443.6 536.2h0.6v0.6h-0.6zM446.4 532.1h0.6v0.6h-0.6zM443.5 534.1h0.6v0.6h-0.6zM445.1 536.3h0.6v0.6h-0.6zM439.3 534.8h0.6v0.6h-0.6zM441.4 528.8h0.6v0.6h-0.6zM443.9 531.6h0.6v0.6h-0.6zM435.6 542.2h0.6v0.6h-0.6zM443.2 531.2h0.6v0.6h-0.6zM443.2 541.3h0.6v0.6h-0.6zM443.8 537.7h0.6v0.6h-0.6zM447.2 538.7h0.6v0.6h-0.6zM438.6 538.8h0.6v0.6h-0.6zM442.9 534.5h0.6v0.6h-0.6zM441.5 533.1h0.6v0.6h-0.6zM440.2 534.3h0.6v0.6h-0.6zM441.1 539.2h0.6v0.6h-0.6zM440.1 532.0h0.6v0.6h-0.6zM448.6 536.5h0.6v0.6h-0.6zM446.8 537.4h0.6v0.6h-0.6zM435.8 538.4h0.6v0.6h-0.6zM439.7 537.9h0.6v0.6h-0.6zM439.0 530.9h0.6v0.6h-0.6zM437.5 543.6h0.6v0.6h-0.6zM445.8 533.9h0.6v0.6h-0.6zM437.1 539.1h0.6v0.6h-0.6zM440.7 535.9h0.6v0.6h-0.6zM444.5 535.6h0.6v0.6h-0.6zM441.3 534.1h0.6v0.6h-0.6zM436.7 542.2h0.6v0.6h-0.6zM443.7 534.9h0.6v0.6h-0.6zM440.4 531.4h0.6v0.6h-0.6zM442.7 531.1h0.6v0.6h-0.6zM444.7 533.9h0.6v0.6h-0.6zM442.4 540.5h0.6v0.6h-0.6zM443.1 534.8h0.6v0.6h-0.6zM438.6 536.6h0.6v0.6h-0.6zM443.0 540.7h0.6v0.6h-0.6z" fill="#1c1cff" opacity="0.8"/>
<path d="M458.8 517.4h0.6v0.6h-0.6zM458.9 524.4h0.6v0.6h-0.6zM458.4 517.3h0.6v0.6h-0.6zM457.3 520.1h0.6v0.6h-0.6zM457.6 519.7h0.6v0.6h-0.6zM458.2 519.2h0.6v0.6h-0.6z" fill="#1c1cff" opacity="0.8"/>
<path d="M456.9 536.2h0.6v0.6h-0.6zM456.1 541.3h0.6v0.6h-0.6zM452.6 540.3h0.6v0.6h-0.6zM450.2 537.1h0.6v0.6h-0.6zM454.1 542.0h0.6v0.6h-0.6zM450.9 541.9h0.6v0.6h-0.6zM446.7 537.8h0.6v0.6h-0.6zM461.0 540.4h0.6v0.6h-0.6zM449.4 534.6h0.6v0.6h-0.6zM460.8 534.4h0.6v0.6h-0.6zM459.0 536.7h0.6v0.6h-0.6zM455.4 545.3h0.6v0.6h-0.6zM464.9 540.8h0.6v0.6h-0.6zM447.2 539.2h0.6v0.6h-0.6zM455.8 537.9h0.6v0.6h-0.6zM463.6 533.0h0.6v0.6h-0.6zM457.4 538.6h0.6v0.6h-0.6zM450.9 543.5h0.6v0.6h-0.6zM447.8 538.3h0.6v0.6h-0.6zM456.0 531.6h0.6v0.6h-0.6zM446.8 535.3h0.6v0.6h-0.6zM460.3 541.1h0.6v0.6h-0.6zM459.1 539.0h0.6v0.6h-0.6zM442.1 538.9h0.6v0.6h-0.6zM452.4 541.8h0.6v0.6h-0.6zM463.7 545.0h0.6v0.6h-0.6zM459.8 540.7h0.6v0.6h-0.6zM449.2 538.5h0.6v0.6h-0.6zM448.0 541.0h0.6v0.6h-0.6zM448.2 537.6h0.6v0.6h-0.6z" fill="#1c1cff" opacity="0.8"/>
<path d="M441.00 540.30 L459.10 542.40 L459.10 556.90 L441.00 557.30 Z" fill="#1c1cff" filter="url(#sb)"/>
<ellipse cx="441.00" cy="547.80" rx="6.30" ry="11.20" fill="#1c1cff" opacity="1" filter="url(#sb)"/>
<ellipse cx="459.10" cy="548.90" rx="9.50" ry="7.60" fill="#1c1cff" opacity="1" filter="url(#sb)"/>
<ellipse cx="441.00" cy="548.30" rx="5.60" ry="10.50" fill="url(#jete)" opacity="1"/>
<ellipse cx="459.10" cy="548.90" rx="7.80" ry="6.60" fill="url(#cyn)" opacity="1"/>
</g>
<rect x="425.80" y="507.40" width="55.70" height="54.90" fill="none" stroke="#b4b4b4" stroke-width="0.8"/>
<clipPath id="ce3"><rect x="488.2" y="507.4" width="56.400000000000034" height="54.89999999999998"/></clipPath>
<g clip-path="url(#ce3)">
<path d="M501.8 543.4h0.6v0.6h-0.6zM501.4 551.8h0.6v0.6h-0.6zM499.6 550.3h0.6v0.6h-0.6zM501.1 558.0h0.6v0.6h-0.6zM512.9 555.5h0.6v0.6h-0.6zM499.6 532.7h0.6v0.6h-0.6zM508.8 547.4h0.6v0.6h-0.6zM505.4 545.6h0.6v0.6h-0.6zM506.2 544.0h0.6v0.6h-0.6zM507.4 540.8h0.6v0.6h-0.6zM495.8 529.0h0.6v0.6h-0.6zM504.5 560.8h0.6v0.6h-0.6zM513.2 542.9h0.6v0.6h-0.6zM508.6 555.7h0.6v0.6h-0.6zM506.5 546.0h0.6v0.6h-0.6zM496.7 552.1h0.6v0.6h-0.6zM503.0 552.7h0.6v0.6h-0.6zM509.4 557.3h0.6v0.6h-0.6zM501.2 544.5h0.6v0.6h-0.6zM506.6 550.0h0.6v0.6h-0.6zM503.3 546.0h0.6v0.6h-0.6zM505.6 552.8h0.6v0.6h-0.6zM504.8 556.5h0.6v0.6h-0.6zM496.2 542.9h0.6v0.6h-0.6zM502.4 554.1h0.6v0.6h-0.6zM502.5 546.4h0.6v0.6h-0.6zM502.1 538.3h0.6v0.6h-0.6zM502.1 531.5h0.6v0.6h-0.6zM511.7 542.8h0.6v0.6h-0.6zM502.9 551.7h0.6v0.6h-0.6zM506.9 549.8h0.6v0.6h-0.6zM502.8 543.7h0.6v0.6h-0.6zM514.5 546.4h0.6v0.6h-0.6zM495.3 549.2h0.6v0.6h-0.6zM514.9 554.0h0.6v0.6h-0.6zM518.8 542.4h0.6v0.6h-0.6zM508.1 548.3h0.6v0.6h-0.6zM502.6 545.0h0.6v0.6h-0.6zM499.2 540.5h0.6v0.6h-0.6zM508.7 534.4h0.6v0.6h-0.6zM505.4 541.1h0.6v0.6h-0.6zM501.0 550.9h0.6v0.6h-0.6zM503.4 549.0h0.6v0.6h-0.6zM504.0 545.4h0.6v0.6h-0.6zM499.4 549.0h0.6v0.6h-0.6zM500.1 540.0h0.6v0.6h-0.6zM509.7 549.5h0.6v0.6h-0.6zM505.1 558.5h0.6v0.6h-0.6zM504.3 555.0h0.6v0.6h-0.6zM504.3 556.1h0.6v0.6h-0.6zM502.5 551.3h0.6v0.6h-0.6zM512.0 548.7h0.6v0.6h-0.6zM503.8 540.7h0.6v0.6h-0.6zM507.9 544.7h0.6v0.6h-0.6zM502.4 560.9h0.6v0.6h-0.6zM506.4 530.1h0.6v0.6h-0.6zM496.4 552.8h0.6v0.6h-0.6zM503.4 547.0h0.6v0.6h-0.6zM506.7 533.1h0.6v0.6h-0.6zM504.8 551.6h0.6v0.6h-0.6zM500.6 541.5h0.6v0.6h-0.6zM505.8 544.4h0.6v0.6h-0.6zM510.1 542.0h0.6v0.6h-0.6zM494.2 551.2h0.6v0.6h-0.6zM504.4 560.0h0.6v0.6h-0.6zM504.2 544.9h0.6v0.6h-0.6zM504.5 536.3h0.6v0.6h-0.6zM499.3 532.1h0.6v0.6h-0.6zM509.2 557.8h0.6v0.6h-0.6zM499.5 546.3h0.6v0.6h-0.6zM503.5 554.9h0.6v0.6h-0.6zM506.4 550.0h0.6v0.6h-0.6zM507.2 541.3h0.6v0.6h-0.6zM510.1 534.3h0.6v0.6h-0.6zM501.0 538.0h0.6v0.6h-0.6zM506.9 544.1h0.6v0.6h-0.6zM505.3 553.6h0.6v0.6h-0.6zM505.7 552.3h0.6v0.6h-0.6zM495.3 548.1h0.6v0.6h-0.6zM493.6 533.0h0.6v0.6h-0.6zM502.7 548.2h0.6v0.6h-0.6zM504.7 547.6h0.6v0.6h-0.6zM499.3 547.0h0.6v0.6h-0.6zM495.4 538.4h0.6v0.6h-0.6zM507.6 556.8h0.6v0.6h-0.6zM502.5 539.4h0.6v0.6h-0.6zM510.6 551.5h0.6v0.6h-0.6zM504.4 544.5h0.6v0.6h-0.6zM496.0 556.4h0.6v0.6h-0.6zM503.5 543.6h0.6v0.6h-0.6zM512.9 543.6h0.6v0.6h-0.6zM504.5 554.4h0.6v0.6h-0.6zM507.4 542.0h0.6v0.6h-0.6zM501.4 552.8h0.6v0.6h-0.6zM497.2 545.6h0.6v0.6h-0.6zM507.4 548.0h0.6v0.6h-0.6zM506.2 555.3h0.6v0.6h-0.6zM501.0 554.1h0.6v0.6h-0.6zM508.9 545.3h0.6v0.6h-0.6zM500.1 551.6h0.6v0.6h-0.6zM507.3 551.9h0.6v0.6h-0.6zM504.1 553.3h0.6v0.6h-0.6zM505.4 545.0h0.6v0.6h-0.6zM504.3 560.0h0.6v0.6h-0.6zM505.1 543.9h0.6v0.6h-0.6zM504.6 540.1h0.6v0.6h-0.6zM507.8 546.4h0.6v0.6h-0.6zM508.2 549.2h0.6v0.6h-0.6zM505.6 542.8h0.6v0.6h-0.6zM504.2 547.9h0.6v0.6h-0.6zM506.0 544.4h0.6v0.6h-0.6zM494.1 548.9h0.6v0.6h-0.6zM505.1 546.9h0.6v0.6h-0.6zM501.1 556.4h0.6v0.6h-0.6zM508.6 543.0h0.6v0.6h-0.6zM504.1 544.3h0.6v0.6h-0.6zM506.8 551.6h0.6v0.6h-0.6zM498.7 548.5h0.6v0.6h-0.6zM501.7 555.3h0.6v0.6h-0.6zM512.4 544.9h0.6v0.6h-0.6zM499.0 554.4h0.6v0.6h-0.6zM502.5 545.2h0.6v0.6h-0.6zM495.2 543.4h0.6v0.6h-0.6zM507.0 553.9h0.6v0.6h-0.6zM501.8 550.1h0.6v0.6h-0.6zM506.4 549.9h0.6v0.6h-0.6zM502.1 541.4h0.6v0.6h-0.6zM506.6 544.7h0.6v0.6h-0.6zM497.9 550.2h0.6v0.6h-0.6zM511.3 544.3h0.6v0.6h-0.6zM504.2 541.9h0.6v0.6h-0.6zM509.0 544.2h0.6v0.6h-0.6zM501.7 548.0h0.6v0.6h-0.6zM502.5 540.5h0.6v0.6h-0.6zM506.5 554.0h0.6v0.6h-0.6zM510.4 539.5h0.6v0.6h-0.6zM499.0 546.7h0.6v0.6h-0.6zM500.9 549.3h0.6v0.6h-0.6zM500.8 544.5h0.6v0.6h-0.6zM501.4 547.8h0.6v0.6h-0.6zM505.8 536.9h0.6v0.6h-0.6zM508.8 544.9h0.6v0.6h-0.6zM506.2 552.0h0.6v0.6h-0.6zM509.2 549.6h0.6v0.6h-0.6zM499.2 546.2h0.6v0.6h-0.6zM491.7 550.7h0.6v0.6h-0.6zM504.5 545.9h0.6v0.6h-0.6zM509.0 545.6h0.6v0.6h-0.6zM504.0 553.1h0.6v0.6h-0.6zM508.3 545.7h0.6v0.6h-0.6zM501.7 543.8h0.6v0.6h-0.6zM506.1 553.4h0.6v0.6h-0.6zM506.4 535.7h0.6v0.6h-0.6zM502.8 556.8h0.6v0.6h-0.6zM511.3 558.8h0.6v0.6h-0.6zM501.4 543.9h0.6v0.6h-0.6zM505.9 539.9h0.6v0.6h-0.6zM506.2 553.2h0.6v0.6h-0.6zM500.2 540.1h0.6v0.6h-0.6zM496.5 538.7h0.6v0.6h-0.6zM496.7 539.3h0.6v0.6h-0.6zM505.4 547.1h0.6v0.6h-0.6zM503.4 552.5h0.6v0.6h-0.6zM503.5 543.8h0.6v0.6h-0.6zM502.2 552.1h0.6v0.6h-0.6zM502.2 548.7h0.6v0.6h-0.6zM503.7 544.8h0.6v0.6h-0.6zM508.1 540.8h0.6v0.6h-0.6zM505.5 537.8h0.6v0.6h-0.6zM510.0 539.2h0.6v0.6h-0.6zM500.0 554.1h0.6v0.6h-0.6zM498.6 545.3h0.6v0.6h-0.6zM505.3 547.9h0.6v0.6h-0.6zM501.0 556.6h0.6v0.6h-0.6zM507.3 550.1h0.6v0.6h-0.6zM505.3 551.9h0.6v0.6h-0.6zM503.5 547.0h0.6v0.6h-0.6zM508.7 549.3h0.6v0.6h-0.6zM501.4 538.5h0.6v0.6h-0.6zM499.3 540.0h0.6v0.6h-0.6zM508.2 543.0h0.6v0.6h-0.6zM503.8 540.4h0.6v0.6h-0.6zM505.4 540.7h0.6v0.6h-0.6zM506.0 556.8h0.6v0.6h-0.6zM502.9 554.1h0.6v0.6h-0.6zM494.9 535.1h0.6v0.6h-0.6zM506.0 547.6h0.6v0.6h-0.6zM502.0 556.8h0.6v0.6h-0.6zM504.6 548.8h0.6v0.6h-0.6zM503.2 555.4h0.6v0.6h-0.6zM508.2 541.0h0.6v0.6h-0.6zM505.1 551.0h0.6v0.6h-0.6zM503.5 539.8h0.6v0.6h-0.6zM494.8 536.8h0.6v0.6h-0.6zM501.6 546.7h0.6v0.6h-0.6zM509.7 552.1h0.6v0.6h-0.6zM511.2 548.1h0.6v0.6h-0.6zM506.8 544.4h0.6v0.6h-0.6zM504.0 539.8h0.6v0.6h-0.6zM502.6 546.2h0.6v0.6h-0.6zM495.4 552.2h0.6v0.6h-0.6zM500.0 549.1h0.6v0.6h-0.6zM505.2 549.1h0.6v0.6h-0.6zM501.9 545.8h0.6v0.6h-0.6zM505.9 540.6h0.6v0.6h-0.6zM505.4 543.8h0.6v0.6h-0.6zM509.4 538.8h0.6v0.6h-0.6zM508.5 541.5h0.6v0.6h-0.6zM505.8 545.3h0.6v0.6h-0.6zM506.4 547.3h0.6v0.6h-0.6zM509.0 548.3h0.6v0.6h-0.6zM506.4 552.8h0.6v0.6h-0.6zM500.5 559.4h0.6v0.6h-0.6zM503.8 557.0h0.6v0.6h-0.6zM505.6 538.4h0.6v0.6h-0.6zM510.8 546.9h0.6v0.6h-0.6zM503.7 545.0h0.6v0.6h-0.6zM495.3 549.9h0.6v0.6h-0.6zM499.2 551.7h0.6v0.6h-0.6zM510.7 557.7h0.6v0.6h-0.6zM496.7 548.2h0.6v0.6h-0.6zM504.3 549.5h0.6v0.6h-0.6zM502.2 553.1h0.6v0.6h-0.6zM502.9 540.4h0.6v0.6h-0.6zM511.1 542.1h0.6v0.6h-0.6zM500.7 543.6h0.6v0.6h-0.6zM498.2 548.0h0.6v0.6h-0.6zM502.9 545.3h0.6v0.6h-0.6zM502.4 545.0h0.6v0.6h-0.6zM505.4 556.6h0.6v0.6h-0.6zM501.6 539.4h0.6v0.6h-0.6zM500.7 553.3h0.6v0.6h-0.6zM503.4 548.8h0.6v0.6h-0.6zM502.7 551.8h0.6v0.6h-0.6zM499.8 547.4h0.6v0.6h-0.6zM499.5 550.7h0.6v0.6h-0.6z" fill="#1c1cff" opacity="0.8"/>
<path d="M528.1 549.3h0.6v0.6h-0.6zM517.7 553.0h0.6v0.6h-0.6zM518.4 549.8h0.6v0.6h-0.6zM518.6 546.1h0.6v0.6h-0.6zM514.0 546.2h0.6v0.6h-0.6zM524.9 546.5h0.6v0.6h-0.6zM516.7 547.3h0.6v0.6h-0.6zM522.6 558.5h0.6v0.6h-0.6zM514.0 551.9h0.6v0.6h-0.6zM519.5 548.0h0.6v0.6h-0.6zM521.6 543.5h0.6v0.6h-0.6zM523.3 550.4h0.6v0.6h-0.6zM513.6 556.7h0.6v0.6h-0.6zM523.4 554.8h0.6v0.6h-0.6zM511.2 548.1h0.6v0.6h-0.6zM516.1 552.3h0.6v0.6h-0.6zM526.1 540.6h0.6v0.6h-0.6zM519.0 548.8h0.6v0.6h-0.6zM524.2 549.2h0.6v0.6h-0.6zM512.1 548.5h0.6v0.6h-0.6zM513.4 545.8h0.6v0.6h-0.6zM519.1 547.2h0.6v0.6h-0.6zM520.4 542.4h0.6v0.6h-0.6zM531.2 555.2h0.6v0.6h-0.6zM522.7 543.4h0.6v0.6h-0.6zM507.4 545.4h0.6v0.6h-0.6zM517.7 559.7h0.6v0.6h-0.6zM525.8 547.0h0.6v0.6h-0.6zM525.3 555.0h0.6v0.6h-0.6zM519.0 555.0h0.6v0.6h-0.6zM520.7 546.4h0.6v0.6h-0.6zM512.7 548.8h0.6v0.6h-0.6zM524.2 543.2h0.6v0.6h-0.6zM510.3 551.9h0.6v0.6h-0.6zM504.5 557.8h0.6v0.6h-0.6zM516.6 552.8h0.6v0.6h-0.6zM528.8 542.7h0.6v0.6h-0.6zM513.3 559.7h0.6v0.6h-0.6zM517.4 548.8h0.6v0.6h-0.6zM520.1 554.3h0.6v0.6h-0.6zM525.9 549.9h0.6v0.6h-0.6zM517.1 549.2h0.6v0.6h-0.6zM520.5 555.4h0.6v0.6h-0.6zM519.6 557.8h0.6v0.6h-0.6zM514.3 551.8h0.6v0.6h-0.6zM528.2 555.3h0.6v0.6h-0.6zM520.7 545.3h0.6v0.6h-0.6zM515.1 548.7h0.6v0.6h-0.6zM520.6 548.3h0.6v0.6h-0.6zM511.2 546.0h0.6v0.6h-0.6zM521.7 553.2h0.6v0.6h-0.6zM511.5 547.7h0.6v0.6h-0.6zM510.0 546.8h0.6v0.6h-0.6zM537.7 549.7h0.6v0.6h-0.6zM517.1 546.7h0.6v0.6h-0.6zM512.5 540.8h0.6v0.6h-0.6zM518.7 548.1h0.6v0.6h-0.6zM526.8 541.9h0.6v0.6h-0.6zM521.2 555.6h0.6v0.6h-0.6zM508.5 552.4h0.6v0.6h-0.6zM510.3 551.8h0.6v0.6h-0.6zM526.7 549.4h0.6v0.6h-0.6zM520.4 546.2h0.6v0.6h-0.6zM520.4 554.6h0.6v0.6h-0.6zM517.9 548.8h0.6v0.6h-0.6zM521.0 553.2h0.6v0.6h-0.6zM510.2 549.7h0.6v0.6h-0.6zM515.3 551.7h0.6v0.6h-0.6zM524.4 550.8h0.6v0.6h-0.6zM525.8 544.8h0.6v0.6h-0.6zM516.7 544.8h0.6v0.6h-0.6zM519.2 549.8h0.6v0.6h-0.6zM517.8 543.8h0.6v0.6h-0.6zM518.5 547.4h0.6v0.6h-0.6zM522.1 548.2h0.6v0.6h-0.6zM525.1 550.5h0.6v0.6h-0.6zM509.0 548.6h0.6v0.6h-0.6zM511.3 553.9h0.6v0.6h-0.6zM526.5 549.3h0.6v0.6h-0.6zM521.3 542.7h0.6v0.6h-0.6zM506.9 546.8h0.6v0.6h-0.6zM517.5 542.4h0.6v0.6h-0.6zM519.4 550.8h0.6v0.6h-0.6zM522.3 556.5h0.6v0.6h-0.6zM523.2 547.7h0.6v0.6h-0.6zM519.5 552.2h0.6v0.6h-0.6zM513.3 555.5h0.6v0.6h-0.6zM523.7 548.4h0.6v0.6h-0.6zM523.4 553.7h0.6v0.6h-0.6zM528.5 553.9h0.6v0.6h-0.6zM520.0 552.7h0.6v0.6h-0.6zM514.1 552.7h0.6v0.6h-0.6zM510.7 551.4h0.6v0.6h-0.6zM521.9 542.2h0.6v0.6h-0.6zM529.1 544.1h0.6v0.6h-0.6zM524.5 547.0h0.6v0.6h-0.6zM520.6 546.4h0.6v0.6h-0.6zM532.2 554.2h0.6v0.6h-0.6zM528.6 553.1h0.6v0.6h-0.6zM522.7 550.2h0.6v0.6h-0.6zM517.7 552.3h0.6v0.6h-0.6zM519.8 548.8h0.6v0.6h-0.6zM511.7 548.1h0.6v0.6h-0.6zM522.2 547.3h0.6v0.6h-0.6zM520.9 548.8h0.6v0.6h-0.6zM513.5 545.3h0.6v0.6h-0.6zM515.1 548.2h0.6v0.6h-0.6zM517.6 554.7h0.6v0.6h-0.6zM513.2 540.1h0.6v0.6h-0.6zM522.7 547.4h0.6v0.6h-0.6zM518.4 561.3h0.6v0.6h-0.6zM526.8 552.2h0.6v0.6h-0.6zM524.1 550.1h0.6v0.6h-0.6zM524.1 546.7h0.6v0.6h-0.6zM515.2 547.4h0.6v0.6h-0.6zM527.5 556.7h0.6v0.6h-0.6zM515.8 554.9h0.6v0.6h-0.6zM518.2 554.5h0.6v0.6h-0.6zM517.4 553.9h0.6v0.6h-0.6zM518.5 548.2h0.6v0.6h-0.6zM518.9 550.3h0.6v0.6h-0.6zM516.0 543.2h0.6v0.6h-0.6zM528.1 547.7h0.6v0.6h-0.6zM509.4 539.1h0.6v0.6h-0.6zM504.1 546.7h0.6v0.6h-0.6zM526.3 542.0h0.6v0.6h-0.6zM517.4 541.1h0.6v0.6h-0.6zM525.0 551.3h0.6v0.6h-0.6zM520.8 555.8h0.6v0.6h-0.6zM527.9 554.3h0.6v0.6h-0.6zM516.0 543.4h0.6v0.6h-0.6zM513.5 541.5h0.6v0.6h-0.6zM528.8 548.7h0.6v0.6h-0.6zM519.8 550.5h0.6v0.6h-0.6zM529.9 547.0h0.6v0.6h-0.6zM525.4 551.0h0.6v0.6h-0.6zM518.3 540.7h0.6v0.6h-0.6zM524.0 546.1h0.6v0.6h-0.6zM516.7 550.6h0.6v0.6h-0.6zM519.6 554.8h0.6v0.6h-0.6zM515.5 550.3h0.6v0.6h-0.6zM520.6 549.7h0.6v0.6h-0.6zM522.8 548.4h0.6v0.6h-0.6zM525.6 546.3h0.6v0.6h-0.6zM511.4 549.4h0.6v0.6h-0.6zM525.4 547.2h0.6v0.6h-0.6zM515.8 548.0h0.6v0.6h-0.6zM520.0 548.8h0.6v0.6h-0.6zM520.8 541.6h0.6v0.6h-0.6zM527.1 552.3h0.6v0.6h-0.6zM514.5 555.9h0.6v0.6h-0.6zM521.5 556.4h0.6v0.6h-0.6zM512.8 557.3h0.6v0.6h-0.6zM519.4 540.1h0.6v0.6h-0.6zM523.2 548.2h0.6v0.6h-0.6zM513.7 548.6h0.6v0.6h-0.6zM508.7 552.3h0.6v0.6h-0.6zM518.0 548.3h0.6v0.6h-0.6zM526.7 549.8h0.6v0.6h-0.6zM515.6 545.2h0.6v0.6h-0.6zM518.8 554.5h0.6v0.6h-0.6zM516.0 544.8h0.6v0.6h-0.6zM524.1 549.9h0.6v0.6h-0.6zM519.0 559.3h0.6v0.6h-0.6zM512.6 550.5h0.6v0.6h-0.6zM509.6 548.2h0.6v0.6h-0.6zM522.3 554.8h0.6v0.6h-0.6zM512.3 553.5h0.6v0.6h-0.6zM523.3 549.0h0.6v0.6h-0.6zM532.3 549.6h0.6v0.6h-0.6zM514.4 551.6h0.6v0.6h-0.6zM509.1 556.8h0.6v0.6h-0.6zM524.4 547.7h0.6v0.6h-0.6zM522.4 552.1h0.6v0.6h-0.6zM529.5 546.7h0.6v0.6h-0.6zM512.2 540.2h0.6v0.6h-0.6zM517.5 542.3h0.6v0.6h-0.6zM518.2 551.5h0.6v0.6h-0.6zM516.7 545.2h0.6v0.6h-0.6zM525.5 548.7h0.6v0.6h-0.6zM520.4 554.0h0.6v0.6h-0.6zM512.1 545.3h0.6v0.6h-0.6zM532.5 548.9h0.6v0.6h-0.6zM513.5 548.4h0.6v0.6h-0.6zM516.0 543.9h0.6v0.6h-0.6zM516.9 549.5h0.6v0.6h-0.6zM519.0 552.1h0.6v0.6h-0.6zM509.8 542.7h0.6v0.6h-0.6zM523.3 547.5h0.6v0.6h-0.6zM525.6 551.0h0.6v0.6h-0.6zM511.6 552.1h0.6v0.6h-0.6zM513.7 550.8h0.6v0.6h-0.6zM525.7 559.4h0.6v0.6h-0.6zM518.7 552.8h0.6v0.6h-0.6zM520.7 553.2h0.6v0.6h-0.6zM505.5 547.8h0.6v0.6h-0.6zM520.7 551.8h0.6v0.6h-0.6zM515.1 553.4h0.6v0.6h-0.6zM525.0 549.9h0.6v0.6h-0.6zM517.9 547.9h0.6v0.6h-0.6zM519.9 555.0h0.6v0.6h-0.6zM527.1 547.4h0.6v0.6h-0.6zM514.1 545.9h0.6v0.6h-0.6zM524.4 550.6h0.6v0.6h-0.6zM520.7 551.8h0.6v0.6h-0.6zM521.1 549.0h0.6v0.6h-0.6zM513.6 546.7h0.6v0.6h-0.6zM519.8 551.4h0.6v0.6h-0.6zM517.1 547.7h0.6v0.6h-0.6zM526.4 547.4h0.6v0.6h-0.6zM520.3 548.1h0.6v0.6h-0.6zM514.5 542.6h0.6v0.6h-0.6zM516.3 545.8h0.6v0.6h-0.6zM523.6 544.3h0.6v0.6h-0.6zM516.9 552.6h0.6v0.6h-0.6zM518.5 551.9h0.6v0.6h-0.6zM523.6 541.9h0.6v0.6h-0.6zM516.9 545.2h0.6v0.6h-0.6zM526.3 549.0h0.6v0.6h-0.6z" fill="#1c1cff" opacity="0.8"/>
<path d="M521.2 526.9h0.6v0.6h-0.6zM516.9 518.6h0.6v0.6h-0.6zM520.8 516.8h0.6v0.6h-0.6zM525.1 522.4h0.6v0.6h-0.6zM523.8 518.5h0.6v0.6h-0.6zM517.0 516.4h0.6v0.6h-0.6zM516.8 509.8h0.6v0.6h-0.6zM520.6 522.4h0.6v0.6h-0.6zM518.7 515.7h0.6v0.6h-0.6zM518.9 519.3h0.6v0.6h-0.6zM520.4 527.4h0.6v0.6h-0.6zM514.3 520.1h0.6v0.6h-0.6zM522.2 518.6h0.6v0.6h-0.6zM517.5 513.0h0.6v0.6h-0.6zM515.7 521.8h0.6v0.6h-0.6zM526.1 514.9h0.6v0.6h-0.6zM521.1 520.8h0.6v0.6h-0.6zM523.8 519.4h0.6v0.6h-0.6zM520.9 522.7h0.6v0.6h-0.6zM512.8 518.4h0.6v0.6h-0.6zM514.5 510.4h0.6v0.6h-0.6zM521.3 523.2h0.6v0.6h-0.6zM517.1 517.5h0.6v0.6h-0.6zM517.5 516.9h0.6v0.6h-0.6zM519.4 520.0h0.6v0.6h-0.6zM516.3 514.2h0.6v0.6h-0.6zM516.1 522.2h0.6v0.6h-0.6zM516.6 525.5h0.6v0.6h-0.6zM517.5 525.1h0.6v0.6h-0.6zM512.7 514.7h0.6v0.6h-0.6zM521.1 520.6h0.6v0.6h-0.6zM517.9 528.5h0.6v0.6h-0.6zM519.0 519.6h0.6v0.6h-0.6zM515.8 526.5h0.6v0.6h-0.6zM523.0 520.3h0.6v0.6h-0.6zM510.4 520.0h0.6v0.6h-0.6zM516.3 520.2h0.6v0.6h-0.6zM523.3 514.4h0.6v0.6h-0.6zM519.8 522.6h0.6v0.6h-0.6zM519.5 516.5h0.6v0.6h-0.6zM513.3 514.8h0.6v0.6h-0.6zM512.3 523.1h0.6v0.6h-0.6zM519.2 512.1h0.6v0.6h-0.6zM518.6 511.7h0.6v0.6h-0.6zM502.2 524.2h0.6v0.6h-0.6zM524.5 510.8h0.6v0.6h-0.6zM515.1 519.2h0.6v0.6h-0.6zM516.7 513.9h0.6v0.6h-0.6zM516.1 517.0h0.6v0.6h-0.6zM515.9 519.2h0.6v0.6h-0.6zM517.5 514.3h0.6v0.6h-0.6zM518.8 509.8h0.6v0.6h-0.6zM525.9 509.4h0.6v0.6h-0.6zM518.2 519.9h0.6v0.6h-0.6zM520.7 519.5h0.6v0.6h-0.6zM525.0 512.5h0.6v0.6h-0.6zM518.3 518.9h0.6v0.6h-0.6zM516.2 515.2h0.6v0.6h-0.6zM525.1 514.6h0.6v0.6h-0.6zM516.2 516.8h0.6v0.6h-0.6zM517.6 518.9h0.6v0.6h-0.6zM517.6 520.0h0.6v0.6h-0.6zM519.3 520.5h0.6v0.6h-0.6zM525.5 513.9h0.6v0.6h-0.6zM526.9 515.9h0.6v0.6h-0.6zM522.0 518.9h0.6v0.6h-0.6zM517.1 508.3h0.6v0.6h-0.6zM526.7 514.3h0.6v0.6h-0.6zM514.7 523.4h0.6v0.6h-0.6zM519.0 527.6h0.6v0.6h-0.6zM527.0 521.7h0.6v0.6h-0.6zM519.9 521.9h0.6v0.6h-0.6zM512.1 519.0h0.6v0.6h-0.6zM519.4 515.8h0.6v0.6h-0.6zM519.9 510.8h0.6v0.6h-0.6zM523.1 524.5h0.6v0.6h-0.6zM512.2 518.8h0.6v0.6h-0.6zM526.3 520.2h0.6v0.6h-0.6zM513.5 513.2h0.6v0.6h-0.6zM522.9 527.2h0.6v0.6h-0.6zM513.2 518.3h0.6v0.6h-0.6zM514.7 516.7h0.6v0.6h-0.6zM520.1 517.9h0.6v0.6h-0.6zM515.2 528.6h0.6v0.6h-0.6zM517.8 517.2h0.6v0.6h-0.6zM524.1 518.2h0.6v0.6h-0.6zM517.6 522.8h0.6v0.6h-0.6zM513.5 521.8h0.6v0.6h-0.6zM523.7 521.4h0.6v0.6h-0.6zM517.7 518.1h0.6v0.6h-0.6zM510.1 517.5h0.6v0.6h-0.6zM520.0 522.4h0.6v0.6h-0.6zM519.3 516.2h0.6v0.6h-0.6zM514.4 517.9h0.6v0.6h-0.6zM519.3 524.1h0.6v0.6h-0.6zM518.6 515.6h0.6v0.6h-0.6zM518.1 515.7h0.6v0.6h-0.6zM510.7 512.2h0.6v0.6h-0.6zM520.9 517.7h0.6v0.6h-0.6zM519.3 523.8h0.6v0.6h-0.6zM513.4 523.7h0.6v0.6h-0.6zM520.5 514.6h0.6v0.6h-0.6zM526.0 511.0h0.6v0.6h-0.6zM513.0 517.1h0.6v0.6h-0.6zM520.6 517.1h0.6v0.6h-0.6zM508.0 516.6h0.6v0.6h-0.6zM518.2 530.7h0.6v0.6h-0.6zM525.4 518.7h0.6v0.6h-0.6zM513.2 519.8h0.6v0.6h-0.6zM512.8 519.1h0.6v0.6h-0.6zM520.4 516.1h0.6v0.6h-0.6zM519.8 516.5h0.6v0.6h-0.6zM515.8 525.7h0.6v0.6h-0.6zM521.5 516.6h0.6v0.6h-0.6zM514.8 519.0h0.6v0.6h-0.6zM521.4 522.3h0.6v0.6h-0.6zM525.9 520.4h0.6v0.6h-0.6zM513.1 528.1h0.6v0.6h-0.6zM524.3 522.2h0.6v0.6h-0.6zM525.2 510.7h0.6v0.6h-0.6zM516.7 515.6h0.6v0.6h-0.6zM524.4 512.3h0.6v0.6h-0.6zM517.0 525.6h0.6v0.6h-0.6zM521.8 516.2h0.6v0.6h-0.6zM527.8 511.5h0.6v0.6h-0.6zM520.8 516.9h0.6v0.6h-0.6zM521.1 516.7h0.6v0.6h-0.6zM514.4 519.1h0.6v0.6h-0.6zM512.1 520.7h0.6v0.6h-0.6zM517.0 522.6h0.6v0.6h-0.6zM516.4 514.8h0.6v0.6h-0.6zM520.5 524.1h0.6v0.6h-0.6zM508.4 518.6h0.6v0.6h-0.6zM521.6 511.1h0.6v0.6h-0.6zM514.2 521.2h0.6v0.6h-0.6zM514.5 514.9h0.6v0.6h-0.6zM527.0 513.4h0.6v0.6h-0.6zM513.2 512.0h0.6v0.6h-0.6zM527.0 524.1h0.6v0.6h-0.6zM512.3 527.7h0.6v0.6h-0.6zM522.3 517.2h0.6v0.6h-0.6zM522.5 519.9h0.6v0.6h-0.6zM514.8 509.4h0.6v0.6h-0.6zM514.1 518.0h0.6v0.6h-0.6zM516.8 514.4h0.6v0.6h-0.6zM523.3 512.8h0.6v0.6h-0.6zM522.9 515.7h0.6v0.6h-0.6zM519.1 512.5h0.6v0.6h-0.6zM518.5 514.2h0.6v0.6h-0.6zM509.9 517.9h0.6v0.6h-0.6zM518.3 522.1h0.6v0.6h-0.6zM519.9 513.0h0.6v0.6h-0.6zM513.0 524.4h0.6v0.6h-0.6zM526.0 521.8h0.6v0.6h-0.6zM520.0 520.9h0.6v0.6h-0.6zM520.9 509.5h0.6v0.6h-0.6zM514.2 523.9h0.6v0.6h-0.6zM524.4 519.2h0.6v0.6h-0.6zM517.0 516.1h0.6v0.6h-0.6zM515.8 513.5h0.6v0.6h-0.6zM509.0 518.8h0.6v0.6h-0.6zM516.3 517.0h0.6v0.6h-0.6zM527.0 520.9h0.6v0.6h-0.6zM515.1 520.9h0.6v0.6h-0.6zM511.1 523.2h0.6v0.6h-0.6zM519.8 517.1h0.6v0.6h-0.6zM521.3 525.2h0.6v0.6h-0.6zM516.2 513.1h0.6v0.6h-0.6zM529.0 518.1h0.6v0.6h-0.6zM525.9 514.7h0.6v0.6h-0.6zM520.4 514.9h0.6v0.6h-0.6zM521.7 516.7h0.6v0.6h-0.6zM515.2 525.7h0.6v0.6h-0.6zM517.4 513.5h0.6v0.6h-0.6zM512.5 515.1h0.6v0.6h-0.6zM516.2 518.2h0.6v0.6h-0.6zM514.6 508.8h0.6v0.6h-0.6zM515.9 522.4h0.6v0.6h-0.6zM511.8 521.1h0.6v0.6h-0.6zM520.8 515.8h0.6v0.6h-0.6zM520.0 514.3h0.6v0.6h-0.6zM516.5 512.9h0.6v0.6h-0.6zM520.8 524.8h0.6v0.6h-0.6zM515.1 523.9h0.6v0.6h-0.6zM507.9 513.6h0.6v0.6h-0.6zM513.5 526.6h0.6v0.6h-0.6zM515.6 521.9h0.6v0.6h-0.6zM508.3 518.6h0.6v0.6h-0.6zM521.3 517.8h0.6v0.6h-0.6zM505.0 518.9h0.6v0.6h-0.6zM522.5 524.6h0.6v0.6h-0.6zM520.5 509.6h0.6v0.6h-0.6zM517.5 522.5h0.6v0.6h-0.6zM514.4 520.8h0.6v0.6h-0.6zM516.1 518.5h0.6v0.6h-0.6zM522.3 514.5h0.6v0.6h-0.6zM532.8 518.8h0.6v0.6h-0.6zM520.2 514.3h0.6v0.6h-0.6zM518.8 516.7h0.6v0.6h-0.6zM511.2 510.4h0.6v0.6h-0.6zM519.9 517.6h0.6v0.6h-0.6zM517.0 517.7h0.6v0.6h-0.6zM521.5 511.8h0.6v0.6h-0.6zM521.5 516.5h0.6v0.6h-0.6zM516.0 517.3h0.6v0.6h-0.6zM523.4 520.8h0.6v0.6h-0.6zM522.9 514.6h0.6v0.6h-0.6zM517.1 512.2h0.6v0.6h-0.6zM515.7 516.0h0.6v0.6h-0.6zM516.2 521.6h0.6v0.6h-0.6zM520.6 521.8h0.6v0.6h-0.6zM519.1 523.4h0.6v0.6h-0.6zM519.1 522.8h0.6v0.6h-0.6zM521.0 521.7h0.6v0.6h-0.6zM518.2 511.8h0.6v0.6h-0.6zM511.3 527.8h0.6v0.6h-0.6zM520.4 520.2h0.6v0.6h-0.6zM517.7 515.7h0.6v0.6h-0.6zM532.9 512.4h0.6v0.6h-0.6zM518.2 517.7h0.6v0.6h-0.6zM512.8 511.6h0.6v0.6h-0.6zM515.0 516.3h0.6v0.6h-0.6zM516.1 522.1h0.6v0.6h-0.6zM512.6 520.0h0.6v0.6h-0.6zM525.8 522.5h0.6v0.6h-0.6zM522.7 520.5h0.6v0.6h-0.6zM515.6 524.4h0.6v0.6h-0.6zM516.5 518.5h0.6v0.6h-0.6zM513.3 519.6h0.6v0.6h-0.6zM516.3 515.5h0.6v0.6h-0.6zM523.9 519.1h0.6v0.6h-0.6zM511.0 521.5h0.6v0.6h-0.6zM522.7 513.8h0.6v0.6h-0.6zM516.5 518.3h0.6v0.6h-0.6zM517.3 518.6h0.6v0.6h-0.6zM521.7 515.5h0.6v0.6h-0.6zM528.9 514.4h0.6v0.6h-0.6zM515.8 527.8h0.6v0.6h-0.6zM530.4 518.2h0.6v0.6h-0.6zM517.6 512.6h0.6v0.6h-0.6zM524.2 518.9h0.6v0.6h-0.6zM514.3 520.0h0.6v0.6h-0.6zM525.4 521.4h0.6v0.6h-0.6zM529.5 523.8h0.6v0.6h-0.6zM520.7 517.8h0.6v0.6h-0.6zM521.3 524.1h0.6v0.6h-0.6zM522.8 523.3h0.6v0.6h-0.6zM519.6 521.8h0.6v0.6h-0.6zM524.6 517.2h0.6v0.6h-0.6zM512.0 526.6h0.6v0.6h-0.6zM521.4 515.8h0.6v0.6h-0.6zM519.7 516.8h0.6v0.6h-0.6zM510.0 517.1h0.6v0.6h-0.6zM511.4 519.0h0.6v0.6h-0.6zM518.0 523.7h0.6v0.6h-0.6zM517.9 519.9h0.6v0.6h-0.6zM517.0 516.1h0.6v0.6h-0.6zM511.5 523.0h0.6v0.6h-0.6zM519.4 515.1h0.6v0.6h-0.6zM519.5 515.9h0.6v0.6h-0.6zM514.9 519.2h0.6v0.6h-0.6zM524.6 516.7h0.6v0.6h-0.6zM511.4 514.9h0.6v0.6h-0.6zM527.5 513.9h0.6v0.6h-0.6zM524.4 516.8h0.6v0.6h-0.6zM522.2 517.5h0.6v0.6h-0.6zM510.6 515.9h0.6v0.6h-0.6zM529.1 517.3h0.6v0.6h-0.6zM521.3 516.3h0.6v0.6h-0.6zM517.8 519.6h0.6v0.6h-0.6zM520.9 529.1h0.6v0.6h-0.6zM518.4 517.1h0.6v0.6h-0.6zM515.2 511.4h0.6v0.6h-0.6z" fill="#1c1cff" opacity="0.8"/>
<path d="M502.3 532.0h0.6v0.6h-0.6zM500.8 536.4h0.6v0.6h-0.6zM517.2 526.2h0.6v0.6h-0.6zM505.1 528.2h0.6v0.6h-0.6zM512.1 534.8h0.6v0.6h-0.6zM507.6 525.7h0.6v0.6h-0.6zM511.7 526.4h0.6v0.6h-0.6zM508.3 517.7h0.6v0.6h-0.6zM502.2 524.0h0.6v0.6h-0.6zM510.7 534.0h0.6v0.6h-0.6zM525.9 538.3h0.6v0.6h-0.6zM514.4 539.3h0.6v0.6h-0.6zM511.3 524.9h0.6v0.6h-0.6zM525.9 521.6h0.6v0.6h-0.6zM509.5 526.4h0.6v0.6h-0.6zM520.8 524.5h0.6v0.6h-0.6zM516.7 525.6h0.6v0.6h-0.6zM504.7 529.4h0.6v0.6h-0.6zM513.0 521.1h0.6v0.6h-0.6zM506.8 523.3h0.6v0.6h-0.6zM517.8 530.8h0.6v0.6h-0.6zM513.5 531.0h0.6v0.6h-0.6zM509.2 530.9h0.6v0.6h-0.6zM508.4 520.0h0.6v0.6h-0.6zM507.8 529.3h0.6v0.6h-0.6zM512.6 534.4h0.6v0.6h-0.6zM501.9 526.7h0.6v0.6h-0.6zM514.4 522.3h0.6v0.6h-0.6zM513.5 525.6h0.6v0.6h-0.6zM505.3 534.8h0.6v0.6h-0.6zM503.7 534.0h0.6v0.6h-0.6zM509.6 522.4h0.6v0.6h-0.6zM506.7 523.6h0.6v0.6h-0.6zM507.0 529.7h0.6v0.6h-0.6zM500.8 535.5h0.6v0.6h-0.6zM517.1 536.4h0.6v0.6h-0.6zM506.2 514.1h0.6v0.6h-0.6zM508.3 527.0h0.6v0.6h-0.6zM513.9 524.9h0.6v0.6h-0.6zM511.5 528.9h0.6v0.6h-0.6zM502.8 538.9h0.6v0.6h-0.6zM505.3 529.6h0.6v0.6h-0.6zM518.5 523.4h0.6v0.6h-0.6zM512.1 537.9h0.6v0.6h-0.6zM510.4 534.3h0.6v0.6h-0.6zM513.8 529.4h0.6v0.6h-0.6zM516.4 526.7h0.6v0.6h-0.6zM510.8 533.8h0.6v0.6h-0.6zM513.6 531.1h0.6v0.6h-0.6zM504.9 528.2h0.6v0.6h-0.6zM519.3 533.5h0.6v0.6h-0.6zM514.1 525.0h0.6v0.6h-0.6zM508.4 530.7h0.6v0.6h-0.6zM520.6 528.3h0.6v0.6h-0.6zM519.9 526.3h0.6v0.6h-0.6zM519.3 522.1h0.6v0.6h-0.6zM513.2 521.7h0.6v0.6h-0.6zM516.0 531.5h0.6v0.6h-0.6zM506.4 523.6h0.6v0.6h-0.6zM509.4 519.2h0.6v0.6h-0.6zM506.5 522.9h0.6v0.6h-0.6zM516.8 536.4h0.6v0.6h-0.6zM509.4 526.4h0.6v0.6h-0.6zM513.4 525.0h0.6v0.6h-0.6zM510.4 533.1h0.6v0.6h-0.6zM513.5 527.6h0.6v0.6h-0.6zM508.7 536.9h0.6v0.6h-0.6zM508.4 528.8h0.6v0.6h-0.6zM505.9 524.5h0.6v0.6h-0.6zM512.7 525.7h0.6v0.6h-0.6zM515.3 528.5h0.6v0.6h-0.6zM503.8 514.3h0.6v0.6h-0.6zM518.1 524.6h0.6v0.6h-0.6zM521.0 528.2h0.6v0.6h-0.6zM507.5 531.4h0.6v0.6h-0.6zM510.5 528.2h0.6v0.6h-0.6zM506.5 531.9h0.6v0.6h-0.6zM518.6 524.9h0.6v0.6h-0.6zM522.8 524.7h0.6v0.6h-0.6zM513.6 518.3h0.6v0.6h-0.6zM500.6 540.7h0.6v0.6h-0.6zM520.6 535.0h0.6v0.6h-0.6zM501.9 529.4h0.6v0.6h-0.6zM514.6 528.6h0.6v0.6h-0.6zM513.9 522.6h0.6v0.6h-0.6zM511.1 521.2h0.6v0.6h-0.6zM510.0 530.3h0.6v0.6h-0.6zM507.4 526.4h0.6v0.6h-0.6zM509.5 528.2h0.6v0.6h-0.6zM517.6 529.5h0.6v0.6h-0.6zM514.4 519.4h0.6v0.6h-0.6zM509.9 533.0h0.6v0.6h-0.6zM506.9 525.5h0.6v0.6h-0.6zM506.3 536.1h0.6v0.6h-0.6zM509.4 523.7h0.6v0.6h-0.6zM515.8 534.7h0.6v0.6h-0.6zM515.0 533.9h0.6v0.6h-0.6zM513.3 527.3h0.6v0.6h-0.6zM509.4 525.0h0.6v0.6h-0.6zM508.5 530.3h0.6v0.6h-0.6zM511.4 528.6h0.6v0.6h-0.6zM515.7 527.7h0.6v0.6h-0.6zM503.8 523.3h0.6v0.6h-0.6zM505.3 516.6h0.6v0.6h-0.6zM512.7 520.9h0.6v0.6h-0.6zM504.4 521.6h0.6v0.6h-0.6zM517.3 526.2h0.6v0.6h-0.6zM518.0 527.5h0.6v0.6h-0.6zM509.4 531.4h0.6v0.6h-0.6zM515.6 528.7h0.6v0.6h-0.6zM505.8 525.3h0.6v0.6h-0.6zM505.0 526.5h0.6v0.6h-0.6zM512.6 536.9h0.6v0.6h-0.6zM520.5 532.1h0.6v0.6h-0.6zM517.7 529.4h0.6v0.6h-0.6zM528.6 537.2h0.6v0.6h-0.6zM527.9 530.3h0.6v0.6h-0.6zM514.5 534.3h0.6v0.6h-0.6zM513.2 529.9h0.6v0.6h-0.6zM506.1 533.7h0.6v0.6h-0.6zM512.8 532.9h0.6v0.6h-0.6zM510.7 517.4h0.6v0.6h-0.6zM515.0 535.0h0.6v0.6h-0.6zM504.3 522.2h0.6v0.6h-0.6zM510.2 526.5h0.6v0.6h-0.6zM501.8 538.5h0.6v0.6h-0.6zM518.1 524.3h0.6v0.6h-0.6zM501.1 530.2h0.6v0.6h-0.6zM523.9 533.0h0.6v0.6h-0.6zM518.9 522.4h0.6v0.6h-0.6zM513.4 519.0h0.6v0.6h-0.6zM523.9 531.4h0.6v0.6h-0.6zM499.4 516.9h0.6v0.6h-0.6zM514.9 528.8h0.6v0.6h-0.6zM510.1 531.7h0.6v0.6h-0.6zM524.0 530.2h0.6v0.6h-0.6zM501.2 527.0h0.6v0.6h-0.6zM504.1 523.2h0.6v0.6h-0.6zM513.9 527.0h0.6v0.6h-0.6zM505.6 527.8h0.6v0.6h-0.6zM507.1 531.2h0.6v0.6h-0.6zM510.5 530.3h0.6v0.6h-0.6zM510.4 532.5h0.6v0.6h-0.6zM511.1 527.9h0.6v0.6h-0.6zM508.6 528.8h0.6v0.6h-0.6zM501.3 543.9h0.6v0.6h-0.6zM507.9 528.5h0.6v0.6h-0.6zM509.1 525.0h0.6v0.6h-0.6zM514.4 524.9h0.6v0.6h-0.6zM509.4 519.7h0.6v0.6h-0.6zM506.4 520.9h0.6v0.6h-0.6zM522.7 519.9h0.6v0.6h-0.6zM505.5 529.1h0.6v0.6h-0.6zM520.5 517.8h0.6v0.6h-0.6zM502.6 528.7h0.6v0.6h-0.6zM513.9 519.4h0.6v0.6h-0.6zM501.1 522.1h0.6v0.6h-0.6zM516.4 527.6h0.6v0.6h-0.6zM516.4 527.3h0.6v0.6h-0.6zM511.7 531.6h0.6v0.6h-0.6zM511.2 529.3h0.6v0.6h-0.6zM506.4 524.3h0.6v0.6h-0.6zM514.7 526.4h0.6v0.6h-0.6zM507.4 531.8h0.6v0.6h-0.6zM515.2 527.8h0.6v0.6h-0.6zM507.3 533.3h0.6v0.6h-0.6zM526.9 522.9h0.6v0.6h-0.6zM502.6 523.2h0.6v0.6h-0.6zM506.3 520.3h0.6v0.6h-0.6zM504.8 533.0h0.6v0.6h-0.6zM517.0 536.7h0.6v0.6h-0.6zM516.3 525.0h0.6v0.6h-0.6zM518.4 524.2h0.6v0.6h-0.6zM509.8 520.8h0.6v0.6h-0.6zM519.2 533.9h0.6v0.6h-0.6zM509.1 526.0h0.6v0.6h-0.6zM512.1 529.1h0.6v0.6h-0.6zM516.9 528.2h0.6v0.6h-0.6zM514.2 518.8h0.6v0.6h-0.6zM510.0 517.1h0.6v0.6h-0.6zM522.5 536.2h0.6v0.6h-0.6zM516.1 534.5h0.6v0.6h-0.6zM523.9 533.5h0.6v0.6h-0.6zM502.3 526.6h0.6v0.6h-0.6zM497.7 522.9h0.6v0.6h-0.6zM504.4 527.8h0.6v0.6h-0.6zM514.2 522.2h0.6v0.6h-0.6zM510.1 529.5h0.6v0.6h-0.6zM510.9 526.7h0.6v0.6h-0.6zM497.4 525.2h0.6v0.6h-0.6zM516.6 529.3h0.6v0.6h-0.6zM502.9 526.2h0.6v0.6h-0.6zM513.4 521.9h0.6v0.6h-0.6zM515.8 523.0h0.6v0.6h-0.6zM509.8 527.1h0.6v0.6h-0.6zM525.1 525.9h0.6v0.6h-0.6zM508.4 532.1h0.6v0.6h-0.6zM509.0 528.9h0.6v0.6h-0.6zM498.3 529.6h0.6v0.6h-0.6zM511.7 520.0h0.6v0.6h-0.6zM519.9 526.3h0.6v0.6h-0.6zM510.6 519.9h0.6v0.6h-0.6zM502.0 524.4h0.6v0.6h-0.6zM502.6 530.7h0.6v0.6h-0.6zM517.0 524.0h0.6v0.6h-0.6zM502.1 525.4h0.6v0.6h-0.6zM505.4 528.8h0.6v0.6h-0.6zM512.8 525.2h0.6v0.6h-0.6zM512.2 534.0h0.6v0.6h-0.6zM522.0 524.6h0.6v0.6h-0.6zM516.1 526.3h0.6v0.6h-0.6zM505.4 535.5h0.6v0.6h-0.6zM514.1 528.6h0.6v0.6h-0.6zM513.9 526.8h0.6v0.6h-0.6zM505.4 538.4h0.6v0.6h-0.6zM517.2 529.3h0.6v0.6h-0.6zM517.5 535.5h0.6v0.6h-0.6zM510.6 531.3h0.6v0.6h-0.6zM509.8 531.6h0.6v0.6h-0.6zM510.2 542.4h0.6v0.6h-0.6zM509.6 530.8h0.6v0.6h-0.6zM514.5 525.7h0.6v0.6h-0.6zM517.4 527.2h0.6v0.6h-0.6zM509.3 527.8h0.6v0.6h-0.6zM507.2 534.9h0.6v0.6h-0.6zM515.5 533.6h0.6v0.6h-0.6zM503.6 529.4h0.6v0.6h-0.6zM507.1 528.3h0.6v0.6h-0.6zM519.4 529.3h0.6v0.6h-0.6zM510.7 534.5h0.6v0.6h-0.6zM517.8 538.8h0.6v0.6h-0.6zM500.6 529.7h0.6v0.6h-0.6zM509.3 522.5h0.6v0.6h-0.6zM512.4 520.8h0.6v0.6h-0.6zM498.4 522.3h0.6v0.6h-0.6zM510.2 539.0h0.6v0.6h-0.6zM507.4 520.7h0.6v0.6h-0.6zM499.9 525.6h0.6v0.6h-0.6zM510.3 528.6h0.6v0.6h-0.6zM503.1 523.2h0.6v0.6h-0.6z" fill="#1c1cff" opacity="0.8"/>
<path d="M504.4 522.5h0.6v0.6h-0.6zM495.6 525.9h0.6v0.6h-0.6zM505.4 539.6h0.6v0.6h-0.6zM504.9 535.6h0.6v0.6h-0.6zM507.1 528.6h0.6v0.6h-0.6zM509.6 528.6h0.6v0.6h-0.6zM498.3 534.9h0.6v0.6h-0.6zM509.8 538.1h0.6v0.6h-0.6zM507.1 532.5h0.6v0.6h-0.6zM502.0 532.7h0.6v0.6h-0.6zM507.6 520.9h0.6v0.6h-0.6zM505.0 531.6h0.6v0.6h-0.6zM501.2 528.1h0.6v0.6h-0.6zM502.7 539.4h0.6v0.6h-0.6zM500.1 531.8h0.6v0.6h-0.6zM506.2 534.9h0.6v0.6h-0.6zM503.3 531.5h0.6v0.6h-0.6zM508.1 527.7h0.6v0.6h-0.6zM503.4 530.7h0.6v0.6h-0.6zM503.2 542.2h0.6v0.6h-0.6zM501.1 526.0h0.6v0.6h-0.6zM509.2 532.0h0.6v0.6h-0.6zM503.2 534.9h0.6v0.6h-0.6zM507.8 538.0h0.6v0.6h-0.6zM508.2 530.0h0.6v0.6h-0.6zM505.3 538.1h0.6v0.6h-0.6zM504.5 522.0h0.6v0.6h-0.6zM503.1 540.8h0.6v0.6h-0.6zM504.1 545.4h0.6v0.6h-0.6zM505.7 528.7h0.6v0.6h-0.6zM506.4 535.3h0.6v0.6h-0.6zM507.8 532.7h0.6v0.6h-0.6zM504.3 531.1h0.6v0.6h-0.6zM501.5 527.6h0.6v0.6h-0.6zM501.9 534.9h0.6v0.6h-0.6zM503.3 531.6h0.6v0.6h-0.6zM506.2 535.1h0.6v0.6h-0.6zM507.0 537.7h0.6v0.6h-0.6zM502.3 534.9h0.6v0.6h-0.6zM502.9 525.9h0.6v0.6h-0.6zM498.4 529.9h0.6v0.6h-0.6zM498.4 542.2h0.6v0.6h-0.6zM505.6 535.7h0.6v0.6h-0.6zM511.8 532.7h0.6v0.6h-0.6zM501.6 534.0h0.6v0.6h-0.6zM501.5 542.8h0.6v0.6h-0.6zM500.9 526.6h0.6v0.6h-0.6zM504.1 530.6h0.6v0.6h-0.6zM499.3 535.6h0.6v0.6h-0.6zM510.7 535.7h0.6v0.6h-0.6zM503.5 530.3h0.6v0.6h-0.6zM507.6 537.4h0.6v0.6h-0.6zM501.0 530.5h0.6v0.6h-0.6zM507.3 528.8h0.6v0.6h-0.6zM497.3 538.5h0.6v0.6h-0.6zM500.2 523.0h0.6v0.6h-0.6zM505.2 526.3h0.6v0.6h-0.6zM509.9 535.0h0.6v0.6h-0.6zM504.3 537.9h0.6v0.6h-0.6zM501.2 539.9h0.6v0.6h-0.6zM504.0 526.8h0.6v0.6h-0.6zM499.0 538.7h0.6v0.6h-0.6zM506.6 538.4h0.6v0.6h-0.6zM504.4 531.3h0.6v0.6h-0.6zM504.2 532.5h0.6v0.6h-0.6zM501.5 538.0h0.6v0.6h-0.6zM506.6 539.2h0.6v0.6h-0.6zM497.9 538.5h0.6v0.6h-0.6zM506.0 524.4h0.6v0.6h-0.6zM501.8 530.9h0.6v0.6h-0.6zM499.8 530.0h0.6v0.6h-0.6zM501.7 532.4h0.6v0.6h-0.6zM505.4 530.6h0.6v0.6h-0.6zM507.4 527.9h0.6v0.6h-0.6zM511.6 522.6h0.6v0.6h-0.6zM505.7 527.0h0.6v0.6h-0.6zM503.9 538.5h0.6v0.6h-0.6zM503.6 537.7h0.6v0.6h-0.6zM505.0 524.9h0.6v0.6h-0.6zM502.2 539.7h0.6v0.6h-0.6zM502.1 525.3h0.6v0.6h-0.6zM504.9 535.5h0.6v0.6h-0.6zM505.6 539.5h0.6v0.6h-0.6zM497.8 536.5h0.6v0.6h-0.6zM504.1 545.2h0.6v0.6h-0.6zM502.9 538.3h0.6v0.6h-0.6zM504.1 533.1h0.6v0.6h-0.6zM508.6 541.9h0.6v0.6h-0.6zM510.0 537.0h0.6v0.6h-0.6zM505.5 531.9h0.6v0.6h-0.6zM507.9 531.6h0.6v0.6h-0.6zM506.9 534.1h0.6v0.6h-0.6zM497.6 542.7h0.6v0.6h-0.6zM504.9 545.0h0.6v0.6h-0.6zM498.1 532.3h0.6v0.6h-0.6zM496.9 532.4h0.6v0.6h-0.6zM503.4 534.4h0.6v0.6h-0.6zM503.0 543.2h0.6v0.6h-0.6zM507.5 539.4h0.6v0.6h-0.6zM503.2 544.5h0.6v0.6h-0.6zM499.3 537.8h0.6v0.6h-0.6zM503.1 528.3h0.6v0.6h-0.6zM500.2 533.8h0.6v0.6h-0.6zM506.1 531.8h0.6v0.6h-0.6zM503.5 531.6h0.6v0.6h-0.6zM508.2 529.4h0.6v0.6h-0.6zM504.6 543.1h0.6v0.6h-0.6zM509.1 533.4h0.6v0.6h-0.6zM501.9 536.4h0.6v0.6h-0.6zM502.2 527.1h0.6v0.6h-0.6zM502.2 545.2h0.6v0.6h-0.6zM504.0 548.8h0.6v0.6h-0.6zM508.1 532.9h0.6v0.6h-0.6zM505.1 532.7h0.6v0.6h-0.6zM500.2 528.6h0.6v0.6h-0.6zM504.7 530.2h0.6v0.6h-0.6zM497.9 530.6h0.6v0.6h-0.6zM503.5 536.4h0.6v0.6h-0.6zM502.1 532.5h0.6v0.6h-0.6zM508.9 522.4h0.6v0.6h-0.6zM505.6 531.5h0.6v0.6h-0.6zM507.5 541.1h0.6v0.6h-0.6zM504.0 535.0h0.6v0.6h-0.6zM506.8 535.6h0.6v0.6h-0.6zM502.6 537.0h0.6v0.6h-0.6zM505.2 536.3h0.6v0.6h-0.6zM504.6 537.6h0.6v0.6h-0.6zM504.6 541.0h0.6v0.6h-0.6zM504.1 538.6h0.6v0.6h-0.6zM501.1 531.0h0.6v0.6h-0.6zM505.6 533.2h0.6v0.6h-0.6zM503.7 540.5h0.6v0.6h-0.6zM502.4 531.3h0.6v0.6h-0.6zM504.3 540.6h0.6v0.6h-0.6zM506.3 531.4h0.6v0.6h-0.6zM504.4 527.2h0.6v0.6h-0.6zM503.6 533.8h0.6v0.6h-0.6zM507.0 528.1h0.6v0.6h-0.6zM499.9 542.6h0.6v0.6h-0.6zM506.0 534.6h0.6v0.6h-0.6z" fill="#1c1cff" opacity="0.8"/>
<path d="M503.50 540.30 L518.90 542.90 L518.90 557.40 L503.50 557.30 Z" fill="#1c1cff" filter="url(#sb)"/>
<ellipse cx="503.50" cy="547.80" rx="6.30" ry="11.20" fill="#1c1cff" opacity="1" filter="url(#sb)"/>
<ellipse cx="518.90" cy="549.40" rx="9.50" ry="7.60" fill="#1c1cff" opacity="1" filter="url(#sb)"/>
<ellipse cx="518.00" cy="518.50" rx="5.50" ry="4.50" fill="#1c1cff" opacity="0.4" filter="url(#sb)"/>
<ellipse cx="503.50" cy="548.30" rx="5.60" ry="10.50" fill="url(#jete)" opacity="1"/>
<ellipse cx="518.90" cy="549.40" rx="7.80" ry="6.60" fill="url(#cyn)" opacity="1"/>
</g>
<rect x="488.20" y="507.40" width="56.40" height="54.90" fill="none" stroke="#b4b4b4" stroke-width="0.8"/>
<line x1="300.30" y1="510.60" x2="301.80" y2="510.60" stroke="#555" stroke-width="0.5"/>
<line x1="300.30" y1="521.60" x2="301.80" y2="521.60" stroke="#555" stroke-width="0.5"/>
<line x1="300.30" y1="533.10" x2="301.80" y2="533.10" stroke="#555" stroke-width="0.5"/>
<line x1="300.30" y1="551.80" x2="301.80" y2="551.80" stroke="#555" stroke-width="0.5"/>
<line x1="314.60" y1="562.30" x2="314.60" y2="563.80" stroke="#555" stroke-width="0.5"/>
<line x1="324.60" y1="562.30" x2="324.60" y2="563.80" stroke="#555" stroke-width="0.5"/>
<line x1="342.00" y1="562.30" x2="342.00" y2="563.80" stroke="#555" stroke-width="0.5"/>
<line x1="351.80" y1="562.30" x2="351.80" y2="563.80" stroke="#555" stroke-width="0.5"/>
<line x1="361.70" y1="510.60" x2="363.20" y2="510.60" stroke="#555" stroke-width="0.5"/>
<line x1="361.70" y1="521.60" x2="363.20" y2="521.60" stroke="#555" stroke-width="0.5"/>
<line x1="361.70" y1="533.10" x2="363.20" y2="533.10" stroke="#555" stroke-width="0.5"/>
<line x1="361.70" y1="551.80" x2="363.20" y2="551.80" stroke="#555" stroke-width="0.5"/>
<line x1="376.00" y1="562.30" x2="376.00" y2="563.80" stroke="#555" stroke-width="0.5"/>
<line x1="386.00" y1="562.30" x2="386.00" y2="563.80" stroke="#555" stroke-width="0.5"/>
<line x1="403.40" y1="562.30" x2="403.40" y2="563.80" stroke="#555" stroke-width="0.5"/>
<line x1="413.20" y1="562.30" x2="413.20" y2="563.80" stroke="#555" stroke-width="0.5"/>
<line x1="424.30" y1="510.60" x2="425.80" y2="510.60" stroke="#555" stroke-width="0.5"/>
<line x1="424.30" y1="521.60" x2="425.80" y2="521.60" stroke="#555" stroke-width="0.5"/>
<line x1="424.30" y1="533.10" x2="425.80" y2="533.10" stroke="#555" stroke-width="0.5"/>
<line x1="424.30" y1="551.80" x2="425.80" y2="551.80" stroke="#555" stroke-width="0.5"/>
<line x1="438.60" y1="562.30" x2="438.60" y2="563.80" stroke="#555" stroke-width="0.5"/>
<line x1="448.60" y1="562.30" x2="448.60" y2="563.80" stroke="#555" stroke-width="0.5"/>
<line x1="466.00" y1="562.30" x2="466.00" y2="563.80" stroke="#555" stroke-width="0.5"/>
<line x1="475.80" y1="562.30" x2="475.80" y2="563.80" stroke="#555" stroke-width="0.5"/>
<line x1="486.70" y1="510.60" x2="488.20" y2="510.60" stroke="#555" stroke-width="0.5"/>
<line x1="486.70" y1="521.60" x2="488.20" y2="521.60" stroke="#555" stroke-width="0.5"/>
<line x1="486.70" y1="533.10" x2="488.20" y2="533.10" stroke="#555" stroke-width="0.5"/>
<line x1="486.70" y1="551.80" x2="488.20" y2="551.80" stroke="#555" stroke-width="0.5"/>
<line x1="501.00" y1="562.30" x2="501.00" y2="563.80" stroke="#555" stroke-width="0.5"/>
<line x1="511.00" y1="562.30" x2="511.00" y2="563.80" stroke="#555" stroke-width="0.5"/>
<line x1="528.40" y1="562.30" x2="528.40" y2="563.80" stroke="#555" stroke-width="0.5"/>
<line x1="538.20" y1="562.30" x2="538.20" y2="563.80" stroke="#555" stroke-width="0.5"/>
<text x="300.40" y="513.00" font-size="4.7" text-anchor="end" fill="#333">10<tspan font-size="3.06" dy="-1.6">5</tspan></text>
<text x="300.40" y="524.00" font-size="4.7" text-anchor="end" fill="#333">10<tspan font-size="3.06" dy="-1.6">4</tspan></text>
<text x="300.40" y="535.50" font-size="4.7" text-anchor="end" fill="#333">10<tspan font-size="3.06" dy="-1.6">3</tspan></text>
<text x="300.40" y="553.30" font-size="5.2" text-anchor="end" fill="#333">0</text>
<text x="314.80" y="568.30" font-size="5.2" text-anchor="middle" fill="#333">0</text>
<text x="324.80" y="568.30" font-size="4.7" text-anchor="middle" fill="#333">10<tspan font-size="3.06" dy="-1.6">3</tspan></text>
<text x="342.20" y="568.30" font-size="4.7" text-anchor="middle" fill="#333">10<tspan font-size="3.06" dy="-1.6">4</tspan></text>
<path d="M292.90 538.00 V571.00 H326.00" fill="none" stroke="#111" stroke-width="1.2"/>
<path d="M290.60 539.00 L292.90 535.00 L295.20 539.00 Z" fill="#111"/>
<path d="M325.00 568.70 L329.00 571.00 L325.00 573.30 Z" fill="#111"/>
<text x="286.9" y="537.6" font-size="9.0" text-anchor="middle" fill="#111" transform="rotate(-90 286.9 537.6)">A*24:02/PB1<tspan font-size="5.9" dy="0.9">498-505</tspan><tspan dy="-0.9">-PE</tspan></text>
<text x="291.0" y="582.0" font-size="8.3" fill="#111">CD8α-PerCPCy5.5</text>
<text x="299.6" y="598.6" font-size="8.2" fill="#1a1a1a">Tetramer-enriched (<tspan font-style="italic">ex vivo</tspan>) Non-LIFT 3</text>
<clipPath id="cx1"><rect x="300.7" y="606.9" width="54.900000000000034" height="55.30000000000007"/></clipPath>
<g clip-path="url(#cx1)">
<path d="M323.3 648.7h0.6v0.6h-0.6zM311.5 649.9h0.6v0.6h-0.6zM322.4 650.1h0.6v0.6h-0.6zM316.0 655.2h0.6v0.6h-0.6zM307.1 643.5h0.6v0.6h-0.6zM318.3 652.2h0.6v0.6h-0.6zM309.9 651.4h0.6v0.6h-0.6zM315.2 650.5h0.6v0.6h-0.6zM312.0 648.6h0.6v0.6h-0.6zM311.8 650.1h0.6v0.6h-0.6zM314.1 654.9h0.6v0.6h-0.6zM317.3 645.2h0.6v0.6h-0.6zM316.5 654.2h0.6v0.6h-0.6zM316.0 653.1h0.6v0.6h-0.6zM314.9 652.0h0.6v0.6h-0.6zM311.5 652.2h0.6v0.6h-0.6zM309.9 653.7h0.6v0.6h-0.6zM309.4 643.6h0.6v0.6h-0.6zM317.0 649.4h0.6v0.6h-0.6zM315.4 651.2h0.6v0.6h-0.6zM314.9 647.3h0.6v0.6h-0.6zM315.8 650.9h0.6v0.6h-0.6zM316.8 655.8h0.6v0.6h-0.6zM312.3 650.1h0.6v0.6h-0.6zM317.1 648.6h0.6v0.6h-0.6zM310.6 648.2h0.6v0.6h-0.6zM318.9 649.1h0.6v0.6h-0.6zM317.3 647.7h0.6v0.6h-0.6zM316.6 647.9h0.6v0.6h-0.6zM311.9 650.2h0.6v0.6h-0.6zM315.2 654.3h0.6v0.6h-0.6zM309.0 651.4h0.6v0.6h-0.6zM321.0 654.0h0.6v0.6h-0.6zM313.6 647.9h0.6v0.6h-0.6zM313.2 650.8h0.6v0.6h-0.6zM315.7 650.9h0.6v0.6h-0.6zM317.2 646.7h0.6v0.6h-0.6zM310.8 646.3h0.6v0.6h-0.6zM310.0 649.6h0.6v0.6h-0.6zM316.1 657.4h0.6v0.6h-0.6zM317.0 650.0h0.6v0.6h-0.6zM320.2 647.7h0.6v0.6h-0.6zM316.3 652.8h0.6v0.6h-0.6zM317.9 651.1h0.6v0.6h-0.6zM313.7 646.2h0.6v0.6h-0.6zM314.4 648.1h0.6v0.6h-0.6zM317.5 649.5h0.6v0.6h-0.6zM317.1 645.1h0.6v0.6h-0.6zM318.6 647.4h0.6v0.6h-0.6zM309.2 645.8h0.6v0.6h-0.6zM312.7 653.2h0.6v0.6h-0.6zM317.6 646.4h0.6v0.6h-0.6zM315.3 649.6h0.6v0.6h-0.6zM309.2 647.0h0.6v0.6h-0.6zM307.5 647.3h0.6v0.6h-0.6zM305.2 647.5h0.6v0.6h-0.6zM311.5 647.5h0.6v0.6h-0.6zM312.0 653.3h0.6v0.6h-0.6zM313.7 650.6h0.6v0.6h-0.6zM317.8 652.6h0.6v0.6h-0.6zM317.5 648.3h0.6v0.6h-0.6zM311.0 647.6h0.6v0.6h-0.6zM313.3 649.9h0.6v0.6h-0.6zM314.7 653.2h0.6v0.6h-0.6zM314.6 655.2h0.6v0.6h-0.6zM318.8 648.5h0.6v0.6h-0.6zM318.2 641.4h0.6v0.6h-0.6zM320.1 651.1h0.6v0.6h-0.6zM316.5 644.9h0.6v0.6h-0.6zM324.3 649.1h0.6v0.6h-0.6zM314.5 653.2h0.6v0.6h-0.6zM314.3 647.4h0.6v0.6h-0.6zM317.4 646.9h0.6v0.6h-0.6zM317.7 650.3h0.6v0.6h-0.6zM319.1 646.3h0.6v0.6h-0.6zM319.6 650.8h0.6v0.6h-0.6zM322.3 648.0h0.6v0.6h-0.6zM321.8 652.0h0.6v0.6h-0.6zM317.9 647.7h0.6v0.6h-0.6zM317.1 651.9h0.6v0.6h-0.6zM311.9 646.5h0.6v0.6h-0.6zM312.2 654.2h0.6v0.6h-0.6zM315.6 652.7h0.6v0.6h-0.6zM316.1 650.2h0.6v0.6h-0.6zM315.8 648.7h0.6v0.6h-0.6zM319.5 650.4h0.6v0.6h-0.6zM315.8 645.8h0.6v0.6h-0.6zM316.1 647.9h0.6v0.6h-0.6zM313.2 653.0h0.6v0.6h-0.6zM311.0 649.3h0.6v0.6h-0.6zM317.3 653.3h0.6v0.6h-0.6zM313.1 650.8h0.6v0.6h-0.6zM316.1 646.6h0.6v0.6h-0.6zM307.1 644.2h0.6v0.6h-0.6zM317.2 650.2h0.6v0.6h-0.6zM310.1 648.0h0.6v0.6h-0.6zM313.5 648.8h0.6v0.6h-0.6zM314.9 656.4h0.6v0.6h-0.6zM312.1 650.3h0.6v0.6h-0.6zM312.2 648.0h0.6v0.6h-0.6zM311.8 649.2h0.6v0.6h-0.6zM313.0 650.9h0.6v0.6h-0.6zM315.8 647.3h0.6v0.6h-0.6zM322.1 646.4h0.6v0.6h-0.6zM316.3 656.3h0.6v0.6h-0.6zM312.4 653.8h0.6v0.6h-0.6zM320.2 650.9h0.6v0.6h-0.6zM308.2 654.1h0.6v0.6h-0.6zM315.3 648.3h0.6v0.6h-0.6zM319.7 647.8h0.6v0.6h-0.6zM318.9 648.3h0.6v0.6h-0.6zM317.0 646.7h0.6v0.6h-0.6zM313.5 647.2h0.6v0.6h-0.6zM312.4 650.5h0.6v0.6h-0.6zM314.4 650.5h0.6v0.6h-0.6zM319.7 649.6h0.6v0.6h-0.6zM308.2 649.0h0.6v0.6h-0.6zM315.3 652.9h0.6v0.6h-0.6zM318.8 652.7h0.6v0.6h-0.6zM314.2 651.8h0.6v0.6h-0.6zM309.7 653.7h0.6v0.6h-0.6zM316.6 651.4h0.6v0.6h-0.6zM313.6 650.1h0.6v0.6h-0.6zM312.5 651.6h0.6v0.6h-0.6zM310.1 652.8h0.6v0.6h-0.6zM317.0 655.9h0.6v0.6h-0.6zM314.9 649.6h0.6v0.6h-0.6zM315.7 650.0h0.6v0.6h-0.6zM314.6 646.6h0.6v0.6h-0.6zM310.9 648.2h0.6v0.6h-0.6zM313.9 646.4h0.6v0.6h-0.6zM310.7 649.1h0.6v0.6h-0.6zM317.7 649.3h0.6v0.6h-0.6zM317.5 652.8h0.6v0.6h-0.6zM317.8 648.7h0.6v0.6h-0.6zM313.5 644.4h0.6v0.6h-0.6zM312.5 651.3h0.6v0.6h-0.6zM311.0 653.9h0.6v0.6h-0.6zM320.3 648.8h0.6v0.6h-0.6zM318.4 645.7h0.6v0.6h-0.6zM311.1 648.8h0.6v0.6h-0.6zM315.0 649.3h0.6v0.6h-0.6zM311.8 655.7h0.6v0.6h-0.6zM316.1 650.7h0.6v0.6h-0.6zM317.5 650.4h0.6v0.6h-0.6zM314.1 648.3h0.6v0.6h-0.6zM309.0 654.3h0.6v0.6h-0.6zM311.6 645.0h0.6v0.6h-0.6zM312.0 645.2h0.6v0.6h-0.6zM322.3 651.0h0.6v0.6h-0.6zM320.2 654.2h0.6v0.6h-0.6zM317.1 651.6h0.6v0.6h-0.6zM312.3 649.7h0.6v0.6h-0.6zM312.8 650.0h0.6v0.6h-0.6zM312.4 653.7h0.6v0.6h-0.6zM317.8 649.6h0.6v0.6h-0.6zM308.9 651.9h0.6v0.6h-0.6zM318.2 649.7h0.6v0.6h-0.6zM310.4 651.2h0.6v0.6h-0.6zM318.9 644.2h0.6v0.6h-0.6zM317.1 644.5h0.6v0.6h-0.6zM315.3 655.1h0.6v0.6h-0.6zM315.3 651.3h0.6v0.6h-0.6zM313.8 649.9h0.6v0.6h-0.6zM323.6 653.8h0.6v0.6h-0.6zM313.8 648.8h0.6v0.6h-0.6zM315.1 656.4h0.6v0.6h-0.6zM315.8 653.2h0.6v0.6h-0.6zM313.7 646.1h0.6v0.6h-0.6zM319.9 649.7h0.6v0.6h-0.6zM312.1 647.9h0.6v0.6h-0.6zM312.5 648.1h0.6v0.6h-0.6zM309.4 653.4h0.6v0.6h-0.6zM316.4 652.8h0.6v0.6h-0.6zM313.7 650.9h0.6v0.6h-0.6zM315.6 653.4h0.6v0.6h-0.6zM318.0 651.0h0.6v0.6h-0.6zM312.6 646.4h0.6v0.6h-0.6zM312.1 648.0h0.6v0.6h-0.6zM313.0 646.3h0.6v0.6h-0.6zM321.1 650.7h0.6v0.6h-0.6zM307.6 646.7h0.6v0.6h-0.6zM310.1 650.6h0.6v0.6h-0.6zM318.9 647.0h0.6v0.6h-0.6zM317.3 649.1h0.6v0.6h-0.6zM319.2 653.9h0.6v0.6h-0.6zM316.1 652.0h0.6v0.6h-0.6zM315.0 648.8h0.6v0.6h-0.6zM310.7 650.9h0.6v0.6h-0.6zM314.7 648.8h0.6v0.6h-0.6zM314.7 649.4h0.6v0.6h-0.6zM311.2 648.3h0.6v0.6h-0.6zM319.2 649.2h0.6v0.6h-0.6zM320.1 646.5h0.6v0.6h-0.6zM310.1 650.3h0.6v0.6h-0.6zM317.8 648.0h0.6v0.6h-0.6zM317.3 652.6h0.6v0.6h-0.6zM318.9 649.6h0.6v0.6h-0.6zM314.8 645.0h0.6v0.6h-0.6zM315.1 650.7h0.6v0.6h-0.6zM320.2 646.2h0.6v0.6h-0.6zM311.9 647.0h0.6v0.6h-0.6zM318.3 642.5h0.6v0.6h-0.6zM311.1 656.0h0.6v0.6h-0.6zM317.4 646.0h0.6v0.6h-0.6zM314.8 652.4h0.6v0.6h-0.6zM317.0 649.3h0.6v0.6h-0.6zM312.1 652.3h0.6v0.6h-0.6zM315.0 652.3h0.6v0.6h-0.6zM316.4 648.5h0.6v0.6h-0.6zM320.2 648.4h0.6v0.6h-0.6zM316.6 648.0h0.6v0.6h-0.6zM314.2 649.2h0.6v0.6h-0.6zM312.6 650.6h0.6v0.6h-0.6zM319.8 655.3h0.6v0.6h-0.6zM320.2 649.4h0.6v0.6h-0.6zM320.3 651.1h0.6v0.6h-0.6zM321.5 646.2h0.6v0.6h-0.6zM320.4 648.1h0.6v0.6h-0.6zM319.2 648.5h0.6v0.6h-0.6zM318.3 649.1h0.6v0.6h-0.6zM308.2 647.1h0.6v0.6h-0.6zM314.1 650.0h0.6v0.6h-0.6zM306.9 646.4h0.6v0.6h-0.6zM312.3 649.3h0.6v0.6h-0.6zM315.8 647.5h0.6v0.6h-0.6zM309.5 650.8h0.6v0.6h-0.6zM313.8 652.5h0.6v0.6h-0.6zM313.1 651.8h0.6v0.6h-0.6zM311.8 650.7h0.6v0.6h-0.6zM315.3 651.2h0.6v0.6h-0.6zM311.6 649.5h0.6v0.6h-0.6zM311.9 649.4h0.6v0.6h-0.6zM317.3 658.6h0.6v0.6h-0.6zM315.1 652.0h0.6v0.6h-0.6zM315.4 653.2h0.6v0.6h-0.6zM316.7 653.0h0.6v0.6h-0.6zM316.3 656.9h0.6v0.6h-0.6zM320.0 644.9h0.6v0.6h-0.6zM316.1 650.1h0.6v0.6h-0.6zM307.0 647.4h0.6v0.6h-0.6zM313.3 647.8h0.6v0.6h-0.6zM315.5 644.7h0.6v0.6h-0.6zM317.7 652.2h0.6v0.6h-0.6zM316.3 648.9h0.6v0.6h-0.6zM315.0 648.6h0.6v0.6h-0.6zM319.2 651.4h0.6v0.6h-0.6zM322.2 648.8h0.6v0.6h-0.6zM320.3 648.2h0.6v0.6h-0.6zM314.4 646.9h0.6v0.6h-0.6zM316.9 649.7h0.6v0.6h-0.6zM317.3 654.3h0.6v0.6h-0.6zM314.8 651.0h0.6v0.6h-0.6zM318.3 649.7h0.6v0.6h-0.6zM313.0 651.0h0.6v0.6h-0.6zM316.8 652.2h0.6v0.6h-0.6zM318.0 648.0h0.6v0.6h-0.6zM316.6 653.5h0.6v0.6h-0.6zM313.3 651.0h0.6v0.6h-0.6zM312.8 650.4h0.6v0.6h-0.6zM321.3 650.4h0.6v0.6h-0.6zM311.5 650.9h0.6v0.6h-0.6zM315.8 653.2h0.6v0.6h-0.6zM310.1 647.3h0.6v0.6h-0.6zM314.7 645.4h0.6v0.6h-0.6zM319.1 644.0h0.6v0.6h-0.6zM312.0 645.6h0.6v0.6h-0.6zM312.7 652.3h0.6v0.6h-0.6zM317.2 652.6h0.6v0.6h-0.6zM317.2 644.0h0.6v0.6h-0.6zM316.1 644.6h0.6v0.6h-0.6zM313.2 648.8h0.6v0.6h-0.6zM313.1 651.4h0.6v0.6h-0.6zM312.1 655.0h0.6v0.6h-0.6zM317.2 653.4h0.6v0.6h-0.6zM317.8 652.5h0.6v0.6h-0.6zM314.9 655.6h0.6v0.6h-0.6zM311.2 651.3h0.6v0.6h-0.6zM315.0 649.3h0.6v0.6h-0.6zM316.2 647.7h0.6v0.6h-0.6zM318.2 652.2h0.6v0.6h-0.6zM315.4 652.1h0.6v0.6h-0.6zM311.3 644.7h0.6v0.6h-0.6zM312.9 649.2h0.6v0.6h-0.6zM324.0 649.3h0.6v0.6h-0.6zM318.8 652.4h0.6v0.6h-0.6zM322.6 650.3h0.6v0.6h-0.6zM317.4 649.4h0.6v0.6h-0.6zM311.9 647.0h0.6v0.6h-0.6zM312.2 654.1h0.6v0.6h-0.6zM316.1 649.5h0.6v0.6h-0.6zM315.1 648.3h0.6v0.6h-0.6zM314.9 649.8h0.6v0.6h-0.6zM317.4 652.6h0.6v0.6h-0.6zM309.1 650.6h0.6v0.6h-0.6zM320.0 647.0h0.6v0.6h-0.6zM314.1 650.4h0.6v0.6h-0.6zM319.0 651.7h0.6v0.6h-0.6zM314.2 651.4h0.6v0.6h-0.6zM318.8 651.1h0.6v0.6h-0.6zM321.7 651.2h0.6v0.6h-0.6zM311.3 647.7h0.6v0.6h-0.6zM314.6 649.3h0.6v0.6h-0.6zM317.3 651.0h0.6v0.6h-0.6zM321.2 652.3h0.6v0.6h-0.6zM320.4 647.7h0.6v0.6h-0.6zM313.5 651.9h0.6v0.6h-0.6zM315.4 651.8h0.6v0.6h-0.6zM315.9 648.1h0.6v0.6h-0.6zM321.2 653.3h0.6v0.6h-0.6zM309.4 648.2h0.6v0.6h-0.6zM315.1 651.9h0.6v0.6h-0.6zM314.8 646.0h0.6v0.6h-0.6zM318.0 649.3h0.6v0.6h-0.6zM319.4 650.8h0.6v0.6h-0.6zM318.7 652.4h0.6v0.6h-0.6zM318.2 648.5h0.6v0.6h-0.6zM318.8 650.5h0.6v0.6h-0.6zM310.6 648.8h0.6v0.6h-0.6zM313.9 651.3h0.6v0.6h-0.6zM317.5 646.7h0.6v0.6h-0.6zM317.7 649.8h0.6v0.6h-0.6zM311.3 652.4h0.6v0.6h-0.6zM312.3 646.5h0.6v0.6h-0.6zM317.8 652.6h0.6v0.6h-0.6zM312.7 653.0h0.6v0.6h-0.6zM318.7 648.5h0.6v0.6h-0.6zM322.3 649.8h0.6v0.6h-0.6zM315.9 643.1h0.6v0.6h-0.6zM317.4 648.2h0.6v0.6h-0.6zM316.7 645.0h0.6v0.6h-0.6zM319.2 654.2h0.6v0.6h-0.6zM321.9 641.4h0.6v0.6h-0.6zM317.2 651.0h0.6v0.6h-0.6zM304.2 647.9h0.6v0.6h-0.6zM314.8 654.1h0.6v0.6h-0.6zM312.1 650.6h0.6v0.6h-0.6zM314.9 651.1h0.6v0.6h-0.6zM313.7 652.6h0.6v0.6h-0.6zM318.6 646.1h0.6v0.6h-0.6zM319.2 647.8h0.6v0.6h-0.6zM314.1 653.3h0.6v0.6h-0.6zM315.5 651.7h0.6v0.6h-0.6zM318.0 651.8h0.6v0.6h-0.6zM313.2 647.3h0.6v0.6h-0.6zM317.6 652.2h0.6v0.6h-0.6zM316.4 649.5h0.6v0.6h-0.6zM318.2 650.0h0.6v0.6h-0.6zM310.2 650.8h0.6v0.6h-0.6zM317.0 652.3h0.6v0.6h-0.6zM312.0 647.9h0.6v0.6h-0.6zM316.4 648.8h0.6v0.6h-0.6zM314.9 652.8h0.6v0.6h-0.6zM316.6 655.3h0.6v0.6h-0.6zM316.2 655.0h0.6v0.6h-0.6zM319.0 657.4h0.6v0.6h-0.6zM315.3 649.8h0.6v0.6h-0.6zM319.9 648.6h0.6v0.6h-0.6zM313.6 650.8h0.6v0.6h-0.6zM316.6 646.1h0.6v0.6h-0.6zM316.2 649.2h0.6v0.6h-0.6zM315.2 650.6h0.6v0.6h-0.6zM314.6 653.2h0.6v0.6h-0.6zM317.0 649.6h0.6v0.6h-0.6zM315.6 653.1h0.6v0.6h-0.6zM318.1 653.8h0.6v0.6h-0.6zM314.8 650.6h0.6v0.6h-0.6zM322.5 650.1h0.6v0.6h-0.6zM321.4 652.6h0.6v0.6h-0.6zM313.8 646.2h0.6v0.6h-0.6zM317.6 648.2h0.6v0.6h-0.6zM312.8 645.2h0.6v0.6h-0.6zM319.6 650.5h0.6v0.6h-0.6zM315.5 651.3h0.6v0.6h-0.6zM316.2 650.5h0.6v0.6h-0.6zM317.2 649.4h0.6v0.6h-0.6zM306.1 652.3h0.6v0.6h-0.6zM316.9 650.3h0.6v0.6h-0.6zM321.1 646.2h0.6v0.6h-0.6zM305.0 654.5h0.6v0.6h-0.6zM316.9 645.5h0.6v0.6h-0.6zM313.9 652.0h0.6v0.6h-0.6zM311.0 651.8h0.6v0.6h-0.6zM322.9 654.2h0.6v0.6h-0.6zM315.3 651.1h0.6v0.6h-0.6zM312.0 650.6h0.6v0.6h-0.6zM314.2 647.3h0.6v0.6h-0.6zM310.6 655.8h0.6v0.6h-0.6zM315.7 647.3h0.6v0.6h-0.6zM313.9 654.5h0.6v0.6h-0.6zM321.2 648.4h0.6v0.6h-0.6zM316.1 652.8h0.6v0.6h-0.6zM314.1 646.8h0.6v0.6h-0.6zM311.9 650.2h0.6v0.6h-0.6zM312.6 646.5h0.6v0.6h-0.6zM314.5 652.9h0.6v0.6h-0.6zM317.8 649.5h0.6v0.6h-0.6zM322.2 647.9h0.6v0.6h-0.6zM315.1 646.3h0.6v0.6h-0.6zM318.1 649.8h0.6v0.6h-0.6zM309.4 647.8h0.6v0.6h-0.6zM321.8 652.3h0.6v0.6h-0.6zM315.8 652.7h0.6v0.6h-0.6zM309.7 647.8h0.6v0.6h-0.6zM310.6 647.8h0.6v0.6h-0.6zM314.0 651.7h0.6v0.6h-0.6zM319.0 653.0h0.6v0.6h-0.6zM324.9 648.8h0.6v0.6h-0.6zM315.3 651.6h0.6v0.6h-0.6zM312.4 649.4h0.6v0.6h-0.6zM316.8 647.6h0.6v0.6h-0.6zM317.0 653.7h0.6v0.6h-0.6zM311.4 643.6h0.6v0.6h-0.6zM315.6 647.2h0.6v0.6h-0.6zM316.0 648.9h0.6v0.6h-0.6zM316.4 653.4h0.6v0.6h-0.6zM318.2 649.1h0.6v0.6h-0.6zM311.1 643.0h0.6v0.6h-0.6zM307.5 647.9h0.6v0.6h-0.6zM315.7 648.2h0.6v0.6h-0.6zM313.2 645.5h0.6v0.6h-0.6zM309.4 645.1h0.6v0.6h-0.6zM317.5 644.4h0.6v0.6h-0.6zM317.6 647.5h0.6v0.6h-0.6zM317.1 650.7h0.6v0.6h-0.6zM317.9 653.5h0.6v0.6h-0.6zM312.4 647.2h0.6v0.6h-0.6zM313.6 647.8h0.6v0.6h-0.6zM317.5 649.6h0.6v0.6h-0.6zM315.1 651.2h0.6v0.6h-0.6zM313.4 653.1h0.6v0.6h-0.6zM308.5 650.6h0.6v0.6h-0.6zM316.8 647.7h0.6v0.6h-0.6zM312.6 652.5h0.6v0.6h-0.6zM313.9 644.4h0.6v0.6h-0.6zM310.2 652.8h0.6v0.6h-0.6zM311.9 653.7h0.6v0.6h-0.6zM319.9 649.3h0.6v0.6h-0.6zM317.0 647.5h0.6v0.6h-0.6zM313.6 647.9h0.6v0.6h-0.6zM317.1 646.2h0.6v0.6h-0.6zM314.5 650.0h0.6v0.6h-0.6zM316.8 643.8h0.6v0.6h-0.6zM308.6 647.4h0.6v0.6h-0.6zM314.2 650.3h0.6v0.6h-0.6zM315.7 655.7h0.6v0.6h-0.6zM317.3 651.6h0.6v0.6h-0.6zM313.2 652.1h0.6v0.6h-0.6zM317.4 651.8h0.6v0.6h-0.6zM314.6 651.7h0.6v0.6h-0.6zM320.4 647.6h0.6v0.6h-0.6zM307.2 652.2h0.6v0.6h-0.6zM317.6 649.2h0.6v0.6h-0.6zM313.4 657.8h0.6v0.6h-0.6zM313.3 646.3h0.6v0.6h-0.6zM313.2 651.3h0.6v0.6h-0.6zM312.8 648.7h0.6v0.6h-0.6zM316.0 648.6h0.6v0.6h-0.6zM315.4 649.7h0.6v0.6h-0.6zM311.1 650.1h0.6v0.6h-0.6zM310.8 652.5h0.6v0.6h-0.6zM311.6 649.2h0.6v0.6h-0.6zM308.4 648.6h0.6v0.6h-0.6zM310.5 654.1h0.6v0.6h-0.6zM314.5 651.3h0.6v0.6h-0.6zM308.7 646.3h0.6v0.6h-0.6zM314.3 645.9h0.6v0.6h-0.6zM319.0 648.7h0.6v0.6h-0.6zM315.5 650.7h0.6v0.6h-0.6zM314.4 652.1h0.6v0.6h-0.6zM312.5 650.9h0.6v0.6h-0.6zM319.2 650.4h0.6v0.6h-0.6zM315.4 648.9h0.6v0.6h-0.6zM315.1 651.8h0.6v0.6h-0.6zM314.0 645.0h0.6v0.6h-0.6zM315.5 649.4h0.6v0.6h-0.6zM316.6 649.9h0.6v0.6h-0.6zM320.5 646.4h0.6v0.6h-0.6zM311.5 651.7h0.6v0.6h-0.6zM311.3 650.8h0.6v0.6h-0.6z" fill="#1c1cff" opacity="0.85"/>
<path d="M327.5 649.2h0.6v0.6h-0.6zM336.0 651.2h0.6v0.6h-0.6zM328.9 649.8h0.6v0.6h-0.6zM329.9 651.5h0.6v0.6h-0.6zM333.6 648.9h0.6v0.6h-0.6zM328.2 646.9h0.6v0.6h-0.6zM332.4 648.8h0.6v0.6h-0.6zM330.5 646.7h0.6v0.6h-0.6zM332.3 651.4h0.6v0.6h-0.6zM331.0 647.8h0.6v0.6h-0.6zM332.8 649.7h0.6v0.6h-0.6zM329.0 648.7h0.6v0.6h-0.6zM330.9 648.1h0.6v0.6h-0.6zM335.5 649.4h0.6v0.6h-0.6zM334.1 652.0h0.6v0.6h-0.6zM331.7 649.5h0.6v0.6h-0.6zM331.3 650.2h0.6v0.6h-0.6zM330.4 648.2h0.6v0.6h-0.6zM332.3 649.0h0.6v0.6h-0.6zM333.9 654.6h0.6v0.6h-0.6zM334.5 648.1h0.6v0.6h-0.6zM335.1 647.8h0.6v0.6h-0.6zM339.8 651.5h0.6v0.6h-0.6zM332.3 646.0h0.6v0.6h-0.6zM333.3 648.9h0.6v0.6h-0.6zM330.0 651.3h0.6v0.6h-0.6zM333.3 647.1h0.6v0.6h-0.6zM329.7 652.0h0.6v0.6h-0.6zM335.4 644.7h0.6v0.6h-0.6zM335.2 651.6h0.6v0.6h-0.6zM332.0 646.4h0.6v0.6h-0.6zM333.6 649.9h0.6v0.6h-0.6zM332.4 648.9h0.6v0.6h-0.6zM331.4 652.1h0.6v0.6h-0.6zM331.4 647.6h0.6v0.6h-0.6zM332.8 647.7h0.6v0.6h-0.6zM331.4 648.6h0.6v0.6h-0.6zM333.3 653.3h0.6v0.6h-0.6zM335.7 648.2h0.6v0.6h-0.6zM332.5 647.6h0.6v0.6h-0.6zM331.1 648.9h0.6v0.6h-0.6zM332.7 648.1h0.6v0.6h-0.6zM331.5 645.1h0.6v0.6h-0.6zM333.2 649.9h0.6v0.6h-0.6zM338.4 650.1h0.6v0.6h-0.6zM332.2 651.1h0.6v0.6h-0.6zM332.5 648.8h0.6v0.6h-0.6zM331.8 650.4h0.6v0.6h-0.6zM329.8 653.5h0.6v0.6h-0.6zM333.8 651.0h0.6v0.6h-0.6zM334.1 645.9h0.6v0.6h-0.6zM330.9 650.8h0.6v0.6h-0.6zM334.3 655.8h0.6v0.6h-0.6zM331.3 648.3h0.6v0.6h-0.6zM333.1 647.1h0.6v0.6h-0.6zM329.0 649.4h0.6v0.6h-0.6zM330.7 646.2h0.6v0.6h-0.6zM331.6 648.0h0.6v0.6h-0.6zM334.1 647.3h0.6v0.6h-0.6zM332.7 651.9h0.6v0.6h-0.6zM332.1 642.9h0.6v0.6h-0.6zM332.3 650.8h0.6v0.6h-0.6zM332.8 650.0h0.6v0.6h-0.6zM326.2 644.9h0.6v0.6h-0.6zM331.2 651.0h0.6v0.6h-0.6zM331.7 650.4h0.6v0.6h-0.6zM335.9 648.7h0.6v0.6h-0.6zM332.5 645.8h0.6v0.6h-0.6zM332.7 646.1h0.6v0.6h-0.6zM334.1 650.5h0.6v0.6h-0.6zM329.1 649.6h0.6v0.6h-0.6zM334.7 649.9h0.6v0.6h-0.6zM337.8 652.0h0.6v0.6h-0.6zM330.0 650.8h0.6v0.6h-0.6zM332.7 647.7h0.6v0.6h-0.6zM329.7 652.2h0.6v0.6h-0.6zM334.1 651.8h0.6v0.6h-0.6zM334.0 646.7h0.6v0.6h-0.6zM332.5 647.0h0.6v0.6h-0.6zM333.1 648.3h0.6v0.6h-0.6zM333.8 645.8h0.6v0.6h-0.6zM331.5 643.0h0.6v0.6h-0.6zM336.4 647.6h0.6v0.6h-0.6zM331.3 650.7h0.6v0.6h-0.6zM332.6 646.6h0.6v0.6h-0.6zM338.0 647.4h0.6v0.6h-0.6zM332.7 641.3h0.6v0.6h-0.6zM335.1 642.2h0.6v0.6h-0.6zM336.5 646.9h0.6v0.6h-0.6zM335.2 647.6h0.6v0.6h-0.6zM335.4 649.8h0.6v0.6h-0.6zM325.2 649.3h0.6v0.6h-0.6zM328.7 647.1h0.6v0.6h-0.6zM333.8 651.9h0.6v0.6h-0.6zM333.6 649.2h0.6v0.6h-0.6zM331.1 649.7h0.6v0.6h-0.6zM333.1 654.8h0.6v0.6h-0.6zM328.9 648.6h0.6v0.6h-0.6zM332.5 647.4h0.6v0.6h-0.6zM331.3 648.7h0.6v0.6h-0.6zM329.7 649.0h0.6v0.6h-0.6zM328.7 649.2h0.6v0.6h-0.6zM330.7 646.7h0.6v0.6h-0.6zM333.7 651.7h0.6v0.6h-0.6zM329.7 649.4h0.6v0.6h-0.6zM334.5 648.0h0.6v0.6h-0.6zM328.9 652.8h0.6v0.6h-0.6zM332.8 648.0h0.6v0.6h-0.6zM332.5 650.2h0.6v0.6h-0.6zM328.9 651.1h0.6v0.6h-0.6zM329.7 653.6h0.6v0.6h-0.6zM333.8 649.4h0.6v0.6h-0.6zM334.7 652.5h0.6v0.6h-0.6zM335.7 651.7h0.6v0.6h-0.6zM334.4 648.8h0.6v0.6h-0.6zM330.6 653.6h0.6v0.6h-0.6zM330.0 645.2h0.6v0.6h-0.6zM335.6 653.2h0.6v0.6h-0.6zM333.1 648.2h0.6v0.6h-0.6zM335.1 650.6h0.6v0.6h-0.6zM331.1 643.8h0.6v0.6h-0.6zM333.3 648.5h0.6v0.6h-0.6zM331.8 649.4h0.6v0.6h-0.6zM326.2 650.1h0.6v0.6h-0.6zM334.6 658.0h0.6v0.6h-0.6zM330.9 651.8h0.6v0.6h-0.6zM337.6 650.4h0.6v0.6h-0.6zM332.7 654.4h0.6v0.6h-0.6zM333.0 645.7h0.6v0.6h-0.6zM334.7 648.4h0.6v0.6h-0.6zM332.1 645.6h0.6v0.6h-0.6zM331.4 650.0h0.6v0.6h-0.6zM329.7 652.3h0.6v0.6h-0.6zM331.7 645.7h0.6v0.6h-0.6zM331.8 651.6h0.6v0.6h-0.6zM334.6 647.6h0.6v0.6h-0.6zM331.2 649.9h0.6v0.6h-0.6zM332.0 649.6h0.6v0.6h-0.6zM332.9 651.0h0.6v0.6h-0.6zM331.4 647.0h0.6v0.6h-0.6zM333.5 648.1h0.6v0.6h-0.6zM330.5 650.3h0.6v0.6h-0.6zM333.3 648.7h0.6v0.6h-0.6zM333.2 652.4h0.6v0.6h-0.6zM332.6 654.8h0.6v0.6h-0.6zM331.7 651.4h0.6v0.6h-0.6zM332.8 646.4h0.6v0.6h-0.6zM333.4 650.6h0.6v0.6h-0.6zM331.7 649.7h0.6v0.6h-0.6zM331.8 646.9h0.6v0.6h-0.6zM334.9 650.6h0.6v0.6h-0.6zM334.1 639.8h0.6v0.6h-0.6zM335.7 652.4h0.6v0.6h-0.6zM334.2 650.3h0.6v0.6h-0.6zM332.3 648.0h0.6v0.6h-0.6zM329.8 650.8h0.6v0.6h-0.6zM333.0 647.0h0.6v0.6h-0.6zM332.7 645.4h0.6v0.6h-0.6zM333.0 645.0h0.6v0.6h-0.6zM331.2 649.3h0.6v0.6h-0.6zM331.3 646.5h0.6v0.6h-0.6zM331.6 642.8h0.6v0.6h-0.6zM335.6 649.6h0.6v0.6h-0.6zM332.1 647.8h0.6v0.6h-0.6zM336.9 653.2h0.6v0.6h-0.6zM335.2 647.8h0.6v0.6h-0.6zM333.8 652.6h0.6v0.6h-0.6zM330.2 646.4h0.6v0.6h-0.6zM338.4 650.9h0.6v0.6h-0.6zM336.5 648.7h0.6v0.6h-0.6zM329.4 654.7h0.6v0.6h-0.6zM336.3 647.5h0.6v0.6h-0.6zM333.9 652.1h0.6v0.6h-0.6zM334.1 649.2h0.6v0.6h-0.6zM338.8 647.4h0.6v0.6h-0.6zM328.1 645.9h0.6v0.6h-0.6zM336.2 649.7h0.6v0.6h-0.6zM332.4 647.8h0.6v0.6h-0.6zM332.4 646.3h0.6v0.6h-0.6zM330.0 646.3h0.6v0.6h-0.6zM331.2 645.0h0.6v0.6h-0.6zM332.4 654.6h0.6v0.6h-0.6zM338.1 649.8h0.6v0.6h-0.6zM330.1 647.4h0.6v0.6h-0.6zM329.5 650.7h0.6v0.6h-0.6zM335.4 650.2h0.6v0.6h-0.6zM331.2 646.1h0.6v0.6h-0.6zM329.9 654.1h0.6v0.6h-0.6zM333.1 647.3h0.6v0.6h-0.6zM330.4 648.3h0.6v0.6h-0.6zM331.1 653.9h0.6v0.6h-0.6zM331.5 650.2h0.6v0.6h-0.6zM329.1 648.6h0.6v0.6h-0.6zM331.5 651.9h0.6v0.6h-0.6zM329.6 652.9h0.6v0.6h-0.6zM333.7 647.8h0.6v0.6h-0.6zM330.9 649.6h0.6v0.6h-0.6zM329.3 648.8h0.6v0.6h-0.6zM325.9 649.4h0.6v0.6h-0.6zM335.9 649.7h0.6v0.6h-0.6zM334.7 651.8h0.6v0.6h-0.6zM333.8 648.0h0.6v0.6h-0.6zM332.3 648.1h0.6v0.6h-0.6zM324.1 649.0h0.6v0.6h-0.6zM333.7 651.9h0.6v0.6h-0.6zM330.2 651.7h0.6v0.6h-0.6zM333.8 651.2h0.6v0.6h-0.6zM328.1 642.8h0.6v0.6h-0.6zM330.9 649.4h0.6v0.6h-0.6zM330.9 649.2h0.6v0.6h-0.6zM327.8 653.6h0.6v0.6h-0.6zM330.1 645.3h0.6v0.6h-0.6zM331.1 645.3h0.6v0.6h-0.6zM329.2 649.2h0.6v0.6h-0.6zM335.8 650.3h0.6v0.6h-0.6zM337.6 652.4h0.6v0.6h-0.6zM332.5 652.5h0.6v0.6h-0.6zM334.3 654.4h0.6v0.6h-0.6zM332.1 654.7h0.6v0.6h-0.6zM329.6 643.2h0.6v0.6h-0.6zM333.9 649.8h0.6v0.6h-0.6zM335.1 648.7h0.6v0.6h-0.6zM330.8 645.9h0.6v0.6h-0.6zM332.7 652.1h0.6v0.6h-0.6zM336.1 649.5h0.6v0.6h-0.6zM330.6 652.4h0.6v0.6h-0.6zM328.3 649.9h0.6v0.6h-0.6zM333.6 649.2h0.6v0.6h-0.6zM336.5 644.3h0.6v0.6h-0.6zM333.8 655.1h0.6v0.6h-0.6zM336.3 652.0h0.6v0.6h-0.6zM335.2 648.8h0.6v0.6h-0.6zM328.8 650.4h0.6v0.6h-0.6zM331.2 646.7h0.6v0.6h-0.6zM332.8 652.4h0.6v0.6h-0.6zM331.4 652.1h0.6v0.6h-0.6zM337.8 645.6h0.6v0.6h-0.6zM333.6 657.2h0.6v0.6h-0.6zM335.6 648.7h0.6v0.6h-0.6zM332.1 646.1h0.6v0.6h-0.6zM333.8 645.2h0.6v0.6h-0.6zM331.6 650.0h0.6v0.6h-0.6zM328.8 647.4h0.6v0.6h-0.6zM335.7 646.9h0.6v0.6h-0.6zM335.8 648.3h0.6v0.6h-0.6zM332.4 646.8h0.6v0.6h-0.6zM332.0 648.0h0.6v0.6h-0.6zM327.5 651.5h0.6v0.6h-0.6zM334.3 651.4h0.6v0.6h-0.6zM332.8 649.3h0.6v0.6h-0.6zM334.3 648.7h0.6v0.6h-0.6zM330.5 649.5h0.6v0.6h-0.6zM335.0 649.7h0.6v0.6h-0.6zM332.7 650.4h0.6v0.6h-0.6zM331.4 649.9h0.6v0.6h-0.6zM327.9 648.0h0.6v0.6h-0.6zM335.1 648.8h0.6v0.6h-0.6zM330.3 648.2h0.6v0.6h-0.6zM333.0 651.9h0.6v0.6h-0.6zM333.8 649.7h0.6v0.6h-0.6zM332.5 651.3h0.6v0.6h-0.6zM336.9 646.9h0.6v0.6h-0.6zM330.7 649.5h0.6v0.6h-0.6zM335.6 649.8h0.6v0.6h-0.6zM335.9 645.2h0.6v0.6h-0.6zM337.6 648.9h0.6v0.6h-0.6zM332.3 651.2h0.6v0.6h-0.6zM335.8 652.9h0.6v0.6h-0.6zM333.2 648.3h0.6v0.6h-0.6zM334.9 647.8h0.6v0.6h-0.6zM332.2 645.3h0.6v0.6h-0.6zM334.1 643.2h0.6v0.6h-0.6zM330.0 642.9h0.6v0.6h-0.6zM331.7 650.1h0.6v0.6h-0.6zM330.2 648.0h0.6v0.6h-0.6zM328.3 648.0h0.6v0.6h-0.6zM334.6 650.2h0.6v0.6h-0.6zM332.5 651.5h0.6v0.6h-0.6zM333.8 652.8h0.6v0.6h-0.6zM333.6 652.1h0.6v0.6h-0.6zM330.7 649.4h0.6v0.6h-0.6zM334.2 641.8h0.6v0.6h-0.6zM337.5 649.0h0.6v0.6h-0.6zM334.7 643.6h0.6v0.6h-0.6zM332.6 646.6h0.6v0.6h-0.6zM333.5 646.8h0.6v0.6h-0.6zM334.8 649.2h0.6v0.6h-0.6zM333.8 649.7h0.6v0.6h-0.6zM333.9 653.0h0.6v0.6h-0.6zM335.7 648.9h0.6v0.6h-0.6zM333.6 649.0h0.6v0.6h-0.6zM331.0 648.4h0.6v0.6h-0.6zM334.3 640.7h0.6v0.6h-0.6zM334.4 646.0h0.6v0.6h-0.6zM329.4 654.5h0.6v0.6h-0.6zM332.4 651.8h0.6v0.6h-0.6zM329.7 650.6h0.6v0.6h-0.6zM333.0 649.4h0.6v0.6h-0.6zM337.9 653.4h0.6v0.6h-0.6zM331.7 650.2h0.6v0.6h-0.6zM332.4 655.7h0.6v0.6h-0.6zM332.9 649.2h0.6v0.6h-0.6zM334.4 650.7h0.6v0.6h-0.6zM332.4 647.7h0.6v0.6h-0.6zM336.6 654.7h0.6v0.6h-0.6zM333.3 650.6h0.6v0.6h-0.6zM335.2 648.7h0.6v0.6h-0.6zM332.9 647.9h0.6v0.6h-0.6zM331.1 648.0h0.6v0.6h-0.6zM332.6 649.5h0.6v0.6h-0.6zM332.5 647.7h0.6v0.6h-0.6zM331.5 649.5h0.6v0.6h-0.6zM332.3 647.5h0.6v0.6h-0.6zM335.4 651.3h0.6v0.6h-0.6zM332.0 649.9h0.6v0.6h-0.6zM337.4 649.3h0.6v0.6h-0.6zM330.3 652.0h0.6v0.6h-0.6zM331.3 649.2h0.6v0.6h-0.6zM328.5 648.3h0.6v0.6h-0.6zM329.3 649.4h0.6v0.6h-0.6zM336.4 647.7h0.6v0.6h-0.6zM330.5 652.2h0.6v0.6h-0.6zM330.4 646.4h0.6v0.6h-0.6zM330.2 644.0h0.6v0.6h-0.6zM330.1 648.6h0.6v0.6h-0.6zM332.5 651.5h0.6v0.6h-0.6zM337.0 647.8h0.6v0.6h-0.6zM332.8 651.4h0.6v0.6h-0.6zM335.9 654.6h0.6v0.6h-0.6zM333.4 647.3h0.6v0.6h-0.6zM329.1 648.1h0.6v0.6h-0.6zM336.4 654.8h0.6v0.6h-0.6zM333.9 645.7h0.6v0.6h-0.6zM335.3 644.7h0.6v0.6h-0.6zM331.9 649.2h0.6v0.6h-0.6zM332.7 653.0h0.6v0.6h-0.6zM334.9 648.6h0.6v0.6h-0.6zM334.8 648.5h0.6v0.6h-0.6zM334.7 649.4h0.6v0.6h-0.6zM334.6 651.2h0.6v0.6h-0.6zM337.3 646.5h0.6v0.6h-0.6zM337.0 648.9h0.6v0.6h-0.6zM332.0 647.6h0.6v0.6h-0.6zM335.5 648.6h0.6v0.6h-0.6zM333.7 648.1h0.6v0.6h-0.6zM331.5 644.9h0.6v0.6h-0.6zM332.4 650.0h0.6v0.6h-0.6zM333.9 644.0h0.6v0.6h-0.6zM337.5 646.6h0.6v0.6h-0.6zM338.3 648.8h0.6v0.6h-0.6zM333.8 651.3h0.6v0.6h-0.6zM332.4 648.0h0.6v0.6h-0.6zM327.8 650.7h0.6v0.6h-0.6zM329.7 652.2h0.6v0.6h-0.6zM325.8 648.6h0.6v0.6h-0.6zM334.5 650.7h0.6v0.6h-0.6zM333.5 650.2h0.6v0.6h-0.6zM333.0 648.3h0.6v0.6h-0.6zM331.6 652.9h0.6v0.6h-0.6zM334.5 650.8h0.6v0.6h-0.6zM333.2 648.7h0.6v0.6h-0.6zM331.4 650.0h0.6v0.6h-0.6zM331.6 656.4h0.6v0.6h-0.6zM335.3 654.3h0.6v0.6h-0.6zM333.3 643.5h0.6v0.6h-0.6zM334.7 652.3h0.6v0.6h-0.6zM333.3 646.7h0.6v0.6h-0.6zM330.0 645.9h0.6v0.6h-0.6zM333.1 648.7h0.6v0.6h-0.6zM333.5 654.0h0.6v0.6h-0.6zM329.6 652.4h0.6v0.6h-0.6zM331.4 646.0h0.6v0.6h-0.6zM329.3 654.4h0.6v0.6h-0.6zM332.5 644.8h0.6v0.6h-0.6zM328.5 652.8h0.6v0.6h-0.6zM329.2 648.6h0.6v0.6h-0.6zM334.4 653.6h0.6v0.6h-0.6zM332.5 650.1h0.6v0.6h-0.6zM333.0 648.7h0.6v0.6h-0.6zM330.4 647.5h0.6v0.6h-0.6zM332.7 646.1h0.6v0.6h-0.6zM334.8 647.0h0.6v0.6h-0.6zM334.1 643.2h0.6v0.6h-0.6zM335.7 650.9h0.6v0.6h-0.6zM328.8 648.6h0.6v0.6h-0.6zM335.5 646.6h0.6v0.6h-0.6zM331.6 648.4h0.6v0.6h-0.6zM332.5 647.6h0.6v0.6h-0.6zM328.7 648.7h0.6v0.6h-0.6zM335.2 647.6h0.6v0.6h-0.6zM332.3 653.6h0.6v0.6h-0.6zM336.1 647.8h0.6v0.6h-0.6zM329.7 648.8h0.6v0.6h-0.6zM334.4 649.0h0.6v0.6h-0.6zM331.4 653.9h0.6v0.6h-0.6zM331.8 650.9h0.6v0.6h-0.6zM333.3 652.7h0.6v0.6h-0.6zM330.1 650.1h0.6v0.6h-0.6zM331.8 648.4h0.6v0.6h-0.6zM334.8 638.8h0.6v0.6h-0.6zM332.1 649.3h0.6v0.6h-0.6zM332.7 648.3h0.6v0.6h-0.6zM329.3 650.0h0.6v0.6h-0.6zM332.9 649.7h0.6v0.6h-0.6zM328.9 649.4h0.6v0.6h-0.6zM329.4 648.9h0.6v0.6h-0.6zM336.0 650.3h0.6v0.6h-0.6zM331.8 651.9h0.6v0.6h-0.6zM331.2 647.7h0.6v0.6h-0.6zM330.9 650.3h0.6v0.6h-0.6zM326.3 647.8h0.6v0.6h-0.6zM330.6 646.8h0.6v0.6h-0.6zM335.7 647.7h0.6v0.6h-0.6zM329.3 645.4h0.6v0.6h-0.6zM330.1 651.1h0.6v0.6h-0.6zM333.1 648.8h0.6v0.6h-0.6zM330.7 649.4h0.6v0.6h-0.6zM336.4 652.0h0.6v0.6h-0.6zM331.9 646.4h0.6v0.6h-0.6zM332.1 652.1h0.6v0.6h-0.6z" fill="#1c1cff" opacity="0.85"/>
<path d="M332.6 619.6h0.6v0.6h-0.6zM331.6 623.7h0.6v0.6h-0.6zM334.0 622.4h0.6v0.6h-0.6zM334.3 620.4h0.6v0.6h-0.6zM335.1 623.3h0.6v0.6h-0.6zM330.7 623.9h0.6v0.6h-0.6zM334.3 623.8h0.6v0.6h-0.6zM331.8 624.0h0.6v0.6h-0.6zM334.0 623.8h0.6v0.6h-0.6zM335.5 619.2h0.6v0.6h-0.6zM331.5 620.1h0.6v0.6h-0.6zM332.3 622.7h0.6v0.6h-0.6zM332.9 622.6h0.6v0.6h-0.6zM334.7 622.4h0.6v0.6h-0.6zM334.8 621.7h0.6v0.6h-0.6zM331.9 623.7h0.6v0.6h-0.6zM334.4 623.7h0.6v0.6h-0.6zM335.3 622.1h0.6v0.6h-0.6zM334.6 625.5h0.6v0.6h-0.6zM334.1 618.5h0.6v0.6h-0.6zM332.8 621.5h0.6v0.6h-0.6zM332.7 622.6h0.6v0.6h-0.6zM333.8 625.5h0.6v0.6h-0.6zM334.7 621.9h0.6v0.6h-0.6zM335.4 623.6h0.6v0.6h-0.6zM333.3 623.2h0.6v0.6h-0.6zM329.6 622.1h0.6v0.6h-0.6zM335.1 618.6h0.6v0.6h-0.6zM336.5 621.1h0.6v0.6h-0.6zM331.1 625.9h0.6v0.6h-0.6zM338.4 622.5h0.6v0.6h-0.6zM334.0 620.1h0.6v0.6h-0.6zM332.9 621.3h0.6v0.6h-0.6zM333.3 621.2h0.6v0.6h-0.6zM331.9 623.5h0.6v0.6h-0.6zM332.1 623.0h0.6v0.6h-0.6zM333.9 623.0h0.6v0.6h-0.6zM333.6 620.1h0.6v0.6h-0.6zM331.9 620.2h0.6v0.6h-0.6zM330.2 624.4h0.6v0.6h-0.6zM334.6 623.1h0.6v0.6h-0.6zM335.2 620.5h0.6v0.6h-0.6zM331.1 623.9h0.6v0.6h-0.6zM334.1 623.0h0.6v0.6h-0.6zM334.3 620.2h0.6v0.6h-0.6zM332.1 623.5h0.6v0.6h-0.6zM334.0 617.4h0.6v0.6h-0.6zM330.3 620.2h0.6v0.6h-0.6zM329.2 621.0h0.6v0.6h-0.6zM336.0 621.1h0.6v0.6h-0.6zM334.1 615.5h0.6v0.6h-0.6zM332.6 619.8h0.6v0.6h-0.6zM334.4 619.8h0.6v0.6h-0.6zM332.0 621.8h0.6v0.6h-0.6zM332.6 618.9h0.6v0.6h-0.6zM331.2 624.4h0.6v0.6h-0.6zM333.9 622.8h0.6v0.6h-0.6zM335.3 617.4h0.6v0.6h-0.6zM337.2 621.7h0.6v0.6h-0.6zM332.9 625.7h0.6v0.6h-0.6zM331.6 621.5h0.6v0.6h-0.6zM334.7 618.8h0.6v0.6h-0.6zM332.6 621.3h0.6v0.6h-0.6zM334.5 621.5h0.6v0.6h-0.6zM333.3 624.0h0.6v0.6h-0.6zM333.5 621.4h0.6v0.6h-0.6zM329.7 626.5h0.6v0.6h-0.6zM334.2 619.2h0.6v0.6h-0.6zM335.5 622.2h0.6v0.6h-0.6zM336.8 624.8h0.6v0.6h-0.6zM334.4 620.0h0.6v0.6h-0.6zM335.0 621.3h0.6v0.6h-0.6zM334.9 622.3h0.6v0.6h-0.6zM333.6 620.2h0.6v0.6h-0.6zM332.9 620.7h0.6v0.6h-0.6zM331.5 620.8h0.6v0.6h-0.6zM333.9 624.4h0.6v0.6h-0.6zM331.6 624.3h0.6v0.6h-0.6zM332.2 617.5h0.6v0.6h-0.6zM334.7 621.5h0.6v0.6h-0.6z" fill="#1c1cff" opacity="0.85"/>
<path d="M320.2 644.3h0.5v0.5h-0.5zM317.0 646.1h0.5v0.5h-0.5zM319.7 635.5h0.5v0.5h-0.5zM317.8 639.1h0.5v0.5h-0.5zM326.8 632.7h0.5v0.5h-0.5zM323.0 638.9h0.5v0.5h-0.5zM327.7 634.3h0.5v0.5h-0.5zM320.0 637.9h0.5v0.5h-0.5zM322.7 630.0h0.5v0.5h-0.5zM331.1 631.0h0.5v0.5h-0.5zM329.5 629.4h0.5v0.5h-0.5zM321.7 633.8h0.5v0.5h-0.5zM323.8 633.4h0.5v0.5h-0.5zM319.3 642.3h0.5v0.5h-0.5zM318.8 633.7h0.5v0.5h-0.5zM334.0 629.5h0.5v0.5h-0.5zM322.7 627.7h0.5v0.5h-0.5zM313.6 639.8h0.5v0.5h-0.5zM320.9 642.0h0.5v0.5h-0.5zM323.1 639.3h0.5v0.5h-0.5zM325.2 626.2h0.5v0.5h-0.5zM322.8 635.1h0.5v0.5h-0.5zM323.4 636.5h0.5v0.5h-0.5zM320.2 628.2h0.5v0.5h-0.5zM319.7 638.0h0.5v0.5h-0.5zM323.2 644.4h0.5v0.5h-0.5zM322.9 637.7h0.5v0.5h-0.5zM327.9 632.8h0.5v0.5h-0.5zM321.1 638.5h0.5v0.5h-0.5zM315.4 639.3h0.5v0.5h-0.5zM320.6 640.1h0.5v0.5h-0.5zM310.9 641.9h0.5v0.5h-0.5zM327.4 639.6h0.5v0.5h-0.5zM322.7 633.1h0.5v0.5h-0.5zM320.0 650.6h0.5v0.5h-0.5zM319.8 635.5h0.5v0.5h-0.5zM323.6 632.1h0.5v0.5h-0.5zM323.8 630.0h0.5v0.5h-0.5zM321.3 637.2h0.5v0.5h-0.5zM319.9 638.9h0.5v0.5h-0.5zM328.9 630.7h0.5v0.5h-0.5zM319.5 636.5h0.5v0.5h-0.5zM323.9 635.2h0.5v0.5h-0.5zM321.3 636.4h0.5v0.5h-0.5zM321.1 642.3h0.5v0.5h-0.5zM323.3 634.3h0.5v0.5h-0.5zM326.4 629.6h0.5v0.5h-0.5zM321.9 640.4h0.5v0.5h-0.5zM321.0 636.9h0.5v0.5h-0.5zM325.6 632.5h0.5v0.5h-0.5zM327.0 630.2h0.5v0.5h-0.5zM319.8 634.6h0.5v0.5h-0.5zM320.0 637.6h0.5v0.5h-0.5zM318.2 638.6h0.5v0.5h-0.5zM323.5 641.6h0.5v0.5h-0.5zM323.0 638.5h0.5v0.5h-0.5zM323.9 631.9h0.5v0.5h-0.5zM329.8 625.3h0.5v0.5h-0.5zM327.1 630.0h0.5v0.5h-0.5zM328.9 623.0h0.5v0.5h-0.5zM322.5 637.3h0.5v0.5h-0.5zM328.2 626.1h0.5v0.5h-0.5zM312.7 651.9h0.5v0.5h-0.5zM314.9 632.1h0.5v0.5h-0.5zM327.1 631.9h0.5v0.5h-0.5zM322.0 638.2h0.5v0.5h-0.5zM318.0 641.7h0.5v0.5h-0.5zM314.2 637.7h0.5v0.5h-0.5zM310.5 649.6h0.5v0.5h-0.5zM328.2 635.2h0.5v0.5h-0.5z" fill="#1c1cff" opacity="0.65"/>
<ellipse cx="315.00" cy="649.90" rx="4.20" ry="3.00" fill="#1c1cff" opacity="0.55" filter="url(#sb)"/>
<ellipse cx="332.60" cy="649.30" rx="2.90" ry="3.30" fill="#1c1cff" opacity="0.55" filter="url(#sb)"/>
<path d="M316.5 651.8h0.7v0.7h-0.7zM313.6 650.5h0.7v0.7h-0.7zM316.7 647.7h0.7v0.7h-0.7zM314.5 649.4h0.7v0.7h-0.7zM314.3 648.6h0.7v0.7h-0.7zM312.1 650.8h0.7v0.7h-0.7zM315.6 652.2h0.7v0.7h-0.7zM314.9 648.6h0.7v0.7h-0.7zM311.6 650.1h0.7v0.7h-0.7zM314.3 653.9h0.7v0.7h-0.7zM320.4 653.0h0.7v0.7h-0.7zM312.9 647.2h0.7v0.7h-0.7zM314.5 648.2h0.7v0.7h-0.7zM318.4 650.1h0.7v0.7h-0.7zM314.1 649.9h0.7v0.7h-0.7zM318.0 648.1h0.7v0.7h-0.7zM316.2 647.3h0.7v0.7h-0.7zM314.5 648.6h0.7v0.7h-0.7zM315.8 650.2h0.7v0.7h-0.7zM317.8 651.3h0.7v0.7h-0.7zM313.6 647.3h0.7v0.7h-0.7zM313.1 649.1h0.7v0.7h-0.7zM314.5 648.4h0.7v0.7h-0.7zM317.6 651.7h0.7v0.7h-0.7zM314.4 648.9h0.7v0.7h-0.7zM314.5 649.8h0.7v0.7h-0.7zM315.0 646.7h0.7v0.7h-0.7zM314.0 646.2h0.7v0.7h-0.7zM315.1 651.2h0.7v0.7h-0.7zM312.5 650.2h0.7v0.7h-0.7zM313.6 648.6h0.7v0.7h-0.7zM319.6 651.7h0.7v0.7h-0.7zM316.2 649.1h0.7v0.7h-0.7zM316.0 649.5h0.7v0.7h-0.7zM316.1 648.2h0.7v0.7h-0.7zM314.8 649.1h0.7v0.7h-0.7zM311.7 653.2h0.7v0.7h-0.7zM316.9 648.4h0.7v0.7h-0.7zM311.6 648.5h0.7v0.7h-0.7zM313.0 648.7h0.7v0.7h-0.7z" fill="#20c8e0" opacity="0.9"/>
<path d="M312.5 648.7h0.7v0.7h-0.7zM315.1 650.5h0.7v0.7h-0.7zM311.7 649.9h0.7v0.7h-0.7zM313.4 648.4h0.7v0.7h-0.7zM314.5 648.9h0.7v0.7h-0.7zM316.2 650.9h0.7v0.7h-0.7zM314.5 649.0h0.7v0.7h-0.7zM318.0 652.7h0.7v0.7h-0.7zM315.7 649.7h0.7v0.7h-0.7zM316.7 652.0h0.7v0.7h-0.7zM314.1 652.6h0.7v0.7h-0.7zM314.7 651.5h0.7v0.7h-0.7zM314.1 650.0h0.7v0.7h-0.7zM314.2 649.9h0.7v0.7h-0.7zM316.7 648.6h0.7v0.7h-0.7zM314.5 650.7h0.7v0.7h-0.7zM314.2 652.9h0.7v0.7h-0.7zM312.6 653.7h0.7v0.7h-0.7zM313.9 651.3h0.7v0.7h-0.7zM317.7 650.7h0.7v0.7h-0.7zM312.6 649.4h0.7v0.7h-0.7zM315.1 650.7h0.7v0.7h-0.7zM316.7 651.6h0.7v0.7h-0.7zM317.5 648.5h0.7v0.7h-0.7zM316.7 647.3h0.7v0.7h-0.7zM315.3 648.3h0.7v0.7h-0.7zM312.0 651.3h0.7v0.7h-0.7zM315.0 651.4h0.7v0.7h-0.7zM312.3 648.1h0.7v0.7h-0.7zM314.8 648.9h0.7v0.7h-0.7z" fill="#e8d800" opacity="0.9"/>
<path d="M315.1 649.2h0.7v0.7h-0.7zM314.6 648.5h0.7v0.7h-0.7zM316.7 649.5h0.7v0.7h-0.7zM313.5 650.7h0.7v0.7h-0.7zM315.6 650.2h0.7v0.7h-0.7zM315.3 649.4h0.7v0.7h-0.7zM314.8 647.3h0.7v0.7h-0.7zM313.0 648.4h0.7v0.7h-0.7zM315.4 651.4h0.7v0.7h-0.7zM314.8 649.6h0.7v0.7h-0.7zM316.5 649.5h0.7v0.7h-0.7zM315.8 650.4h0.7v0.7h-0.7z" fill="#ff3000" opacity="0.9"/>
<path d="M329.4 649.9h0.7v0.7h-0.7zM333.1 647.0h0.7v0.7h-0.7zM330.1 646.8h0.7v0.7h-0.7zM335.9 653.5h0.7v0.7h-0.7zM334.3 652.4h0.7v0.7h-0.7zM329.4 652.1h0.7v0.7h-0.7zM337.3 652.5h0.7v0.7h-0.7zM330.4 651.5h0.7v0.7h-0.7zM332.3 651.4h0.7v0.7h-0.7zM331.1 649.3h0.7v0.7h-0.7zM331.2 650.3h0.7v0.7h-0.7zM332.4 651.5h0.7v0.7h-0.7zM334.6 650.1h0.7v0.7h-0.7zM332.5 648.7h0.7v0.7h-0.7zM332.6 650.8h0.7v0.7h-0.7zM332.9 649.9h0.7v0.7h-0.7zM332.5 649.2h0.7v0.7h-0.7zM331.0 645.6h0.7v0.7h-0.7zM334.0 650.4h0.7v0.7h-0.7zM330.3 653.1h0.7v0.7h-0.7zM329.8 651.3h0.7v0.7h-0.7zM333.2 649.9h0.7v0.7h-0.7zM335.3 651.1h0.7v0.7h-0.7zM332.7 647.2h0.7v0.7h-0.7zM329.7 649.7h0.7v0.7h-0.7zM336.4 651.1h0.7v0.7h-0.7zM332.5 650.0h0.7v0.7h-0.7zM334.2 652.7h0.7v0.7h-0.7zM330.8 650.8h0.7v0.7h-0.7zM333.3 647.8h0.7v0.7h-0.7zM330.2 651.8h0.7v0.7h-0.7zM333.4 648.9h0.7v0.7h-0.7zM332.9 651.3h0.7v0.7h-0.7zM332.8 652.5h0.7v0.7h-0.7zM332.0 647.7h0.7v0.7h-0.7zM332.3 647.4h0.7v0.7h-0.7zM331.8 651.8h0.7v0.7h-0.7zM336.7 650.6h0.7v0.7h-0.7zM333.1 647.5h0.7v0.7h-0.7zM330.2 650.0h0.7v0.7h-0.7z" fill="#20c8e0" opacity="0.9"/>
<path d="M332.9 648.4h0.7v0.7h-0.7zM331.9 651.6h0.7v0.7h-0.7zM334.3 649.4h0.7v0.7h-0.7zM333.0 651.2h0.7v0.7h-0.7zM333.2 649.7h0.7v0.7h-0.7zM329.9 646.8h0.7v0.7h-0.7zM329.4 645.9h0.7v0.7h-0.7zM332.6 649.8h0.7v0.7h-0.7zM331.1 650.0h0.7v0.7h-0.7zM333.4 649.2h0.7v0.7h-0.7zM330.1 651.5h0.7v0.7h-0.7zM334.9 648.4h0.7v0.7h-0.7zM335.9 649.4h0.7v0.7h-0.7zM331.3 648.7h0.7v0.7h-0.7zM329.5 648.8h0.7v0.7h-0.7zM329.9 651.0h0.7v0.7h-0.7zM333.2 647.2h0.7v0.7h-0.7zM333.6 646.7h0.7v0.7h-0.7zM332.9 650.0h0.7v0.7h-0.7zM332.7 647.6h0.7v0.7h-0.7zM332.4 649.0h0.7v0.7h-0.7zM332.7 651.5h0.7v0.7h-0.7zM335.5 651.7h0.7v0.7h-0.7zM331.5 648.2h0.7v0.7h-0.7zM332.6 650.0h0.7v0.7h-0.7zM329.1 648.4h0.7v0.7h-0.7zM335.7 647.4h0.7v0.7h-0.7zM331.4 648.2h0.7v0.7h-0.7zM333.4 649.2h0.7v0.7h-0.7zM332.1 647.0h0.7v0.7h-0.7z" fill="#e8d800" opacity="0.9"/>
<path d="M333.4 649.3h0.7v0.7h-0.7zM331.7 649.3h0.7v0.7h-0.7zM333.6 647.5h0.7v0.7h-0.7zM330.6 648.1h0.7v0.7h-0.7zM331.5 645.6h0.7v0.7h-0.7zM331.8 650.6h0.7v0.7h-0.7zM332.2 650.5h0.7v0.7h-0.7zM328.9 649.2h0.7v0.7h-0.7zM334.4 651.2h0.7v0.7h-0.7zM332.0 648.3h0.7v0.7h-0.7zM333.1 647.8h0.7v0.7h-0.7zM332.1 647.3h0.7v0.7h-0.7z" fill="#ff3000" opacity="0.9"/>
</g>
<rect x="300.70" y="606.90" width="54.90" height="55.30" fill="none" stroke="#b4b4b4" stroke-width="0.8"/>
<line x1="299.20" y1="611.80" x2="300.70" y2="611.80" stroke="#555" stroke-width="0.5"/>
<line x1="299.20" y1="621.20" x2="300.70" y2="621.20" stroke="#555" stroke-width="0.5"/>
<line x1="299.20" y1="632.20" x2="300.70" y2="632.20" stroke="#555" stroke-width="0.5"/>
<line x1="299.20" y1="651.90" x2="300.70" y2="651.90" stroke="#555" stroke-width="0.5"/>
<line x1="313.40" y1="662.20" x2="313.40" y2="663.70" stroke="#555" stroke-width="0.5"/>
<line x1="321.60" y1="662.20" x2="321.60" y2="663.70" stroke="#555" stroke-width="0.5"/>
<line x1="336.90" y1="662.20" x2="336.90" y2="663.70" stroke="#555" stroke-width="0.5"/>
<line x1="350.10" y1="662.20" x2="350.10" y2="663.70" stroke="#555" stroke-width="0.5"/>
<text x="299.30" y="613.10" font-size="4.7" text-anchor="end" fill="#333">10<tspan font-size="3.06" dy="-1.6">5</tspan></text>
<text x="299.30" y="622.50" font-size="4.7" text-anchor="end" fill="#333">10<tspan font-size="3.06" dy="-1.6">4</tspan></text>
<text x="299.30" y="633.50" font-size="4.7" text-anchor="end" fill="#333">10<tspan font-size="3.06" dy="-1.6">3</tspan></text>
<text x="299.30" y="653.40" font-size="5.2" text-anchor="end" fill="#333">0</text>
<text x="313.40" y="668.00" font-size="5.2" text-anchor="middle" fill="#333">0</text>
<text x="321.60" y="668.00" font-size="4.7" text-anchor="middle" fill="#333">10<tspan font-size="3.06" dy="-1.6">3</tspan></text>
<text x="336.90" y="668.00" font-size="4.7" text-anchor="middle" fill="#333">10<tspan font-size="3.06" dy="-1.6">4</tspan></text>
<text x="350.10" y="668.00" font-size="4.7" text-anchor="middle" fill="#333">10<tspan font-size="3.06" dy="-1.6">5</tspan></text>
<path d="M291.90 638.50 V671.70 H326.20" fill="none" stroke="#111" stroke-width="1.2"/>
<path d="M289.60 639.50 L291.90 635.50 L294.20 639.50 Z" fill="#111"/>
<path d="M325.20 669.40 L329.20 671.70 L325.20 674.00 Z" fill="#111"/>
<text x="287.6" y="638.7" font-size="9.0" text-anchor="middle" fill="#111" transform="rotate(-90 287.6 638.7)">A*24:02/PB1<tspan font-size="5.9" dy="0.9">498-505</tspan><tspan dy="-0.9">-PE</tspan></text>
<text x="290.8" y="682.6" font-size="8.3" fill="#111">CD8α-PerCPCy5.5</text>
<rect x="387.70" y="607.10" width="54.70" height="55.30" fill="none" stroke="#a0a0a0" stroke-width="0.8"/>
<path d="M415.6 607.1 V636.3 M411.6 636.3 H442.4 M411.6 636.3 V662.4" fill="none" stroke="#8a8a8a" stroke-width="0.8"/>
<path d="M387.7 645.7 H411.6" fill="none" stroke="#c4c4c4" stroke-width="1.3"/>
<path d="M404.0 639.8h0.6v0.6h-0.6zM404.8 646.0h0.6v0.6h-0.6zM403.8 636.9h0.6v0.6h-0.6zM404.1 634.3h0.6v0.6h-0.6zM404.9 638.6h0.6v0.6h-0.6zM399.6 643.2h0.6v0.6h-0.6zM405.6 640.8h0.6v0.6h-0.6zM408.2 634.7h0.6v0.6h-0.6zM409.4 636.6h0.6v0.6h-0.6zM406.1 642.6h0.6v0.6h-0.6zM406.2 640.6h0.6v0.6h-0.6zM402.2 635.3h0.6v0.6h-0.6zM405.2 631.6h0.6v0.6h-0.6zM405.7 636.7h0.6v0.6h-0.6zM401.0 641.9h0.6v0.6h-0.6zM404.6 642.3h0.6v0.6h-0.6zM405.0 640.3h0.6v0.6h-0.6zM404.0 639.4h0.6v0.6h-0.6zM401.8 643.7h0.6v0.6h-0.6zM402.3 634.7h0.6v0.6h-0.6zM403.3 643.7h0.6v0.6h-0.6zM397.2 647.2h0.6v0.6h-0.6zM403.0 636.6h0.6v0.6h-0.6zM406.9 640.6h0.6v0.6h-0.6zM401.8 638.8h0.6v0.6h-0.6zM407.4 642.9h0.6v0.6h-0.6zM405.3 629.3h0.6v0.6h-0.6zM402.2 640.7h0.6v0.6h-0.6zM404.6 637.6h0.6v0.6h-0.6zM403.5 639.6h0.6v0.6h-0.6zM404.6 634.8h0.6v0.6h-0.6zM404.2 636.8h0.6v0.6h-0.6zM404.4 637.1h0.6v0.6h-0.6zM404.5 642.5h0.6v0.6h-0.6zM400.9 642.1h0.6v0.6h-0.6zM404.6 641.4h0.6v0.6h-0.6zM403.6 637.0h0.6v0.6h-0.6zM404.2 628.3h0.6v0.6h-0.6zM399.0 637.8h0.6v0.6h-0.6zM402.6 641.5h0.6v0.6h-0.6zM403.5 640.6h0.6v0.6h-0.6zM404.2 641.4h0.6v0.6h-0.6zM405.1 638.3h0.6v0.6h-0.6zM399.0 642.8h0.6v0.6h-0.6zM402.7 639.6h0.6v0.6h-0.6zM406.9 635.0h0.6v0.6h-0.6zM401.7 643.3h0.6v0.6h-0.6zM405.8 635.0h0.6v0.6h-0.6zM403.3 637.0h0.6v0.6h-0.6zM403.7 631.6h0.6v0.6h-0.6zM403.0 644.0h0.6v0.6h-0.6zM407.8 639.0h0.6v0.6h-0.6zM407.1 643.0h0.6v0.6h-0.6zM406.6 642.0h0.6v0.6h-0.6zM402.2 632.8h0.6v0.6h-0.6z" fill="#4050ff" opacity="0.55"/>
<rect x="423.0" y="629.8" width="0.8" height="0.8" fill="#5060ff"/>
<line x1="386.20" y1="611.10" x2="387.70" y2="611.10" stroke="#555" stroke-width="0.5"/>
<line x1="386.20" y1="625.20" x2="387.70" y2="625.20" stroke="#555" stroke-width="0.5"/>
<line x1="386.20" y1="640.30" x2="387.70" y2="640.30" stroke="#555" stroke-width="0.5"/>
<line x1="386.20" y1="649.70" x2="387.70" y2="649.70" stroke="#555" stroke-width="0.5"/>
<line x1="401.20" y1="662.40" x2="401.20" y2="663.90" stroke="#555" stroke-width="0.5"/>
<line x1="412.20" y1="662.40" x2="412.20" y2="663.90" stroke="#555" stroke-width="0.5"/>
<line x1="424.30" y1="662.40" x2="424.30" y2="663.90" stroke="#555" stroke-width="0.5"/>
<line x1="436.40" y1="662.40" x2="436.40" y2="663.90" stroke="#555" stroke-width="0.5"/>
<text x="386.40" y="614.30" font-size="4.7" text-anchor="end" fill="#333">10<tspan font-size="3.06" dy="-1.6">5</tspan></text>
<text x="386.40" y="627.10" font-size="4.7" text-anchor="end" fill="#333">10<tspan font-size="3.06" dy="-1.6">4</tspan></text>
<text x="386.40" y="642.10" font-size="4.7" text-anchor="end" fill="#333">10<tspan font-size="3.06" dy="-1.6">3</tspan></text>
<text x="386.40" y="651.90" font-size="4.6" text-anchor="end" fill="#333">0</text>
<text x="401.20" y="668.00" font-size="4.7" text-anchor="middle" fill="#333">10<tspan font-size="3.06" dy="-1.6">3</tspan></text>
<text x="412.20" y="668.00" font-size="4.7" text-anchor="middle" fill="#333">10<tspan font-size="3.06" dy="-1.6">3</tspan></text>
<text x="424.30" y="668.00" font-size="4.7" text-anchor="middle" fill="#333">10<tspan font-size="3.06" dy="-1.6">4</tspan></text>
<text x="436.40" y="668.00" font-size="4.7" text-anchor="middle" fill="#333">10<tspan font-size="3.06" dy="-1.6">5</tspan></text>
<path d="M377.40 638.30 V672.50 H410.20" fill="none" stroke="#111" stroke-width="1.2"/>
<path d="M375.10 639.30 L377.40 635.30 L379.70 639.30 Z" fill="#111"/>
<path d="M409.20 670.20 L413.20 672.50 L409.20 674.80 Z" fill="#111"/>
<text x="372.20" y="652.50" font-size="8.2" text-anchor="middle" fill="#111" transform="rotate(-90 372.20 652.50)">CD27-APC</text>
<text x="379.00" y="681.50" font-size="8.05" text-anchor="start" fill="#111">CD45RA-FITC</text>
</svg>
</body></html>
